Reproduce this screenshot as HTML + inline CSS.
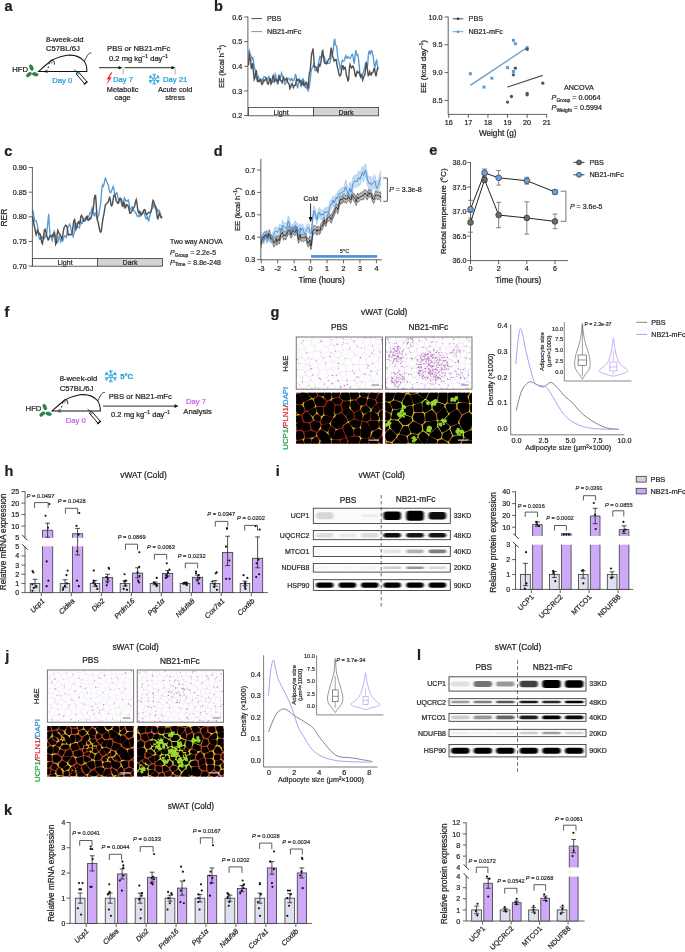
<!DOCTYPE html>
<html><head><meta charset="utf-8"><title>Figure</title>
<style>html,body{margin:0;padding:0;background:#fff;}svg{display:block;will-change:transform;}text{font-family:"Liberation Sans", sans-serif;}</style>
</head><body>
<svg width="685" height="952" viewBox="0 0 685 952" font-family="&quot;Liberation Sans&quot;, sans-serif">
<rect width="685" height="952" fill="#fff"/>
<g fill="#231f20">
<text x="4.38" y="10.75" font-size="14.5" font-weight="bold" stroke="#231f20" stroke-width="0.240">a</text>
<text x="46" y="41.6" font-size="7.7" stroke="#231f20" stroke-width="0.231">8-week-old</text>
<text x="46" y="50.5" font-size="7.7" stroke="#231f20" stroke-width="0.231">C57BL/6J</text>
<g transform="translate(0 0)">
<path d="M38.7 71.5 C42 68.5 45 65.5 49 62.5 C53 59 60 56.5 67 55.3 C74 54.5 80 56.5 84 61 C86.3 64 87 68 86.9 71.5 Z" fill="none" stroke="#111" stroke-width="1.05"/>
<path d="M49.2 64.2 C49.2 61.6 50.6 59.9 52.4 60.1 C53.9 60.4 54.6 62.2 54.3 64.6" fill="none" stroke="#111" stroke-width="0.9"/>
<path d="M51.2 63.6 C51.4 62.4 52.1 61.8 52.8 62.2" fill="none" stroke="#111" stroke-width="0.6"/>
<circle cx="48.3" cy="67.2" r="0.75" fill="#111"/>
<path d="M45.6 69.8 L45.6 73 M45.6 71.2 L47.8 69.6 M45.6 71.2 L47.9 73" fill="none" stroke="#111" stroke-width="0.6"/>
<path d="M84.2 61.5 C85.8 58.5 87 55.8 88.4 54.2 C89.3 53.2 90.3 52.8 91.4 53" fill="none" stroke="#111" stroke-width="0.8"/>
<g transform="rotate(49.4 81.5 77.75)">
<rect x="74.8" y="76.3" width="13.4" height="3" fill="#fff" stroke="#111" stroke-width="0.9"/>
<line x1="88.2" y1="75.6" x2="88.2" y2="80.4" stroke="#111" stroke-width="1.3"/>
<line x1="70.4" y1="77.8" x2="74.8" y2="77.8" stroke="#111" stroke-width="0.7"/>
<circle cx="76.4" cy="77.8" r="0.9" fill="#1a8fd0"/>
</g>
<g fill="#2a8a48" stroke="#145a28" stroke-width="0.5">
<ellipse cx="31.4" cy="67.6" rx="1.6" ry="3.0" transform="rotate(-22 31.4 67.6)"/>
<ellipse cx="28.9" cy="74.6" rx="1.6" ry="3.0" transform="rotate(52 28.9 74.6)"/>
<ellipse cx="35.2" cy="74.3" rx="3.0" ry="1.6" transform="rotate(14 35.2 74.3)"/>
</g>
</g>
<text x="12.2" y="71.6" font-size="7.7" stroke="#231f20" stroke-width="0.231">HFD</text>
<text x="52.2" y="83.2" font-size="7.7" fill="#1a9ad9" stroke="#1a9ad9" stroke-width="0.231">Day 0</text>
<text x="107" y="51" font-size="7.7" stroke="#231f20" stroke-width="0.231">PBS or NB21-mFc</text>
<text x="109" y="60.6" font-size="7.6" stroke="#231f20" stroke-width="0.228">0.2 mg kg<tspan dy="-2.8" font-size="5">−1</tspan><tspan dy="2.8"> day</tspan><tspan dy="-2.8" font-size="5">−1</tspan></text>
<line x1="99" y1="67.7" x2="119.5" y2="67.7" stroke="#111" stroke-width="0.9"/>
<path d="M122.5 67.7 L118.5 65.9 L118.5 69.5 Z" fill="#111"/>
<line x1="124.5" y1="67.7" x2="172.5" y2="67.7" stroke="#111" stroke-width="0.9"/>
<path d="M175.5 67.7 L171.5 65.9 L171.5 69.5 Z" fill="#111"/>
<line x1="123.2" y1="68.5" x2="123.2" y2="74.5" stroke="#999" stroke-width="0.8"/>
<line x1="175.2" y1="68.5" x2="175.2" y2="74.5" stroke="#999" stroke-width="0.8"/>
<path d="M110.9 72.4 L106.7 79.6 L108.9 79.2 L106.0 86.0 L111.6 77.2 L109.4 77.5 L112.3 72.4 Z" fill="#e8262a"/>
<text x="113" y="81.8" font-size="7.7" fill="#1a9ad9" stroke="#1a9ad9" stroke-width="0.231">Day 7</text>
<path d="M154.2 77.9 L154.2 73.6 M154.2 75.73 L155.86 74.06 M154.2 75.73 L152.54 74.06 M153.07 78.55 L149.35 76.4 M151.19 77.46 L150.58 75.19 M151.19 77.46 L148.92 78.07 M153.07 79.85 L149.35 82 M151.19 80.94 L148.92 80.33 M151.19 80.94 L150.58 83.21 M154.2 80.5 L154.2 84.8 M154.2 82.67 L152.54 84.34 M154.2 82.67 L155.86 84.34 M155.33 79.85 L159.05 82 M157.21 80.94 L157.82 83.21 M157.21 80.94 L159.48 80.33 M155.33 78.55 L159.05 76.4 M157.21 77.46 L159.48 78.07 M157.21 77.46 L157.82 75.19 M155.6 79.2 L154.9 80.41 L153.5 80.41 L152.8 79.2 L153.5 77.99 L154.9 77.99 Z" fill="none" stroke="#1ea0e0" stroke-width="1"/>
<text x="163" y="81.8" font-size="7.7" fill="#1a9ad9" stroke="#1a9ad9" stroke-width="0.231">Day 21</text>
<text x="122.6" y="91.9" font-size="7.4" text-anchor="middle" stroke="#231f20" stroke-width="0.222">Metabolic</text>
<text x="122.6" y="100.4" font-size="7.4" text-anchor="middle" stroke="#231f20" stroke-width="0.222">cage</text>
<text x="175.2" y="91.9" font-size="7.4" text-anchor="middle" stroke="#231f20" stroke-width="0.222">Acute cold</text>
<text x="175.2" y="100.4" font-size="7.4" text-anchor="middle" stroke="#231f20" stroke-width="0.222">stress</text>
<text x="213.94" y="10.67" font-size="14.5" font-weight="bold" stroke="#231f20" stroke-width="0.240">b</text>
<text x="223.6" y="66.4" font-size="7.9" text-anchor="middle" transform="rotate(-90 223.6 66.4)" textLength="43.4" lengthAdjust="spacingAndGlyphs" stroke="#231f20" stroke-width="0.237">EE (kcal h<tspan dy="-2.5" font-size="5">−1</tspan><tspan dy="2.5">)</tspan></text>
<path d="M248.6 52.32 L249.3 50.69 L250 54.2 L250.7 55.31 L251.4 57.07 L252.1 59.24 L252.8 57.86 L253.5 61.29 L254.2 66.78 L254.9 68.97 L255.6 71.92 L256.3 78.26 L257 80.12 L257.7 76.68 L258.4 76.31 L259.1 79.47 L259.8 81.44 L260.5 81.35 L261.2 79.63 L261.9 79.66 L262.6 80.83 L263.3 77.98 L264 76.67 L264.7 76.63 L265.4 77.29 L266.1 79.26 L266.8 80.03 L267.5 79.68 L268.2 77.49 L268.9 76.58 L269.6 78.75 L270.3 80.36 L271 81.36 L271.7 82.35 L272.4 81.57 L273.1 81.29 L273.8 81.76 L274.5 78.1 L275.2 74.1 L275.9 76.04 L276.6 80.35 L277.3 82.94 L278 80.13 L278.7 75.58 L279.4 77.33 L280.1 79.98 L280.8 76.51 L281.5 73.3 L282.2 75.51 L282.9 77.4 L283.6 78.63 L284.3 82.03 L285 84.3 L285.7 83.53 L286.4 81.57 L287.1 79.46 L287.8 78.1 L288.5 78.34 L289.2 78.89 L289.9 80.07 L290.6 80.71 L291.3 78.4 L292 78.55 L292.7 80.79 L293.4 80.75 L294.1 79.85 L294.8 77.2 L295.5 74.02 L296.2 76.56 L296.9 84.95 L297.6 88.46 L298.3 85.26 L299 81.44 L299.7 79.47 L300.4 82.82 L301.1 87.04 L301.8 83.9 L302.5 79.27 L303.2 78.96 L303.9 81.35 L304.6 84.88 L305.3 87.32 L306 87.74 L306.7 87.8 L307.4 89.02 L308.1 90.88 L308.8 89.07 L309.5 85.14 L310.2 80.08 L310.9 73.42 L311.6 68.94 L312.3 67.73 L313 66.2 L313.7 64.26 L314.4 66.92 L315.1 70.77 L315.8 70.64 L316.5 69.89 L317.2 68.25 L317.9 66.04 L318.6 63.01 L319.3 58.94 L320 56.36 L320.7 56.79 L321.4 57.94 L322.1 55.56 L322.8 54.07 L323.5 56.22 L324.2 56.5 L324.9 58.95 L325.6 62.31 L326.3 61.4 L327 62.36 L327.7 63.35 L328.4 63.42 L329.1 63.35 L329.8 63.09 L330.5 60.43 L331.2 54.62 L331.9 51.77 L332.6 53.03 L333.3 50.42 L334 41.79 L334.7 38.83 L335.4 44.77 L336.1 45.55 L336.8 46.55 L337.5 54.61 L338.2 60.44 L338.9 61.34 L339.6 64.79 L340.3 69.16 L341 67.88 L341.7 62.66 L342.4 60.42 L343.1 61.12 L343.8 60.99 L344.5 60.14 L345.2 57.11 L345.9 55.7 L346.6 57.98 L347.3 57.96 L348 56.67 L348.7 57.16 L349.4 58.22 L350.1 58.43 L350.8 57.24 L351.5 55.28 L352.2 54.34 L352.9 55.53 L353.6 60.8 L354.3 63.64 L355 56.56 L355.7 50.25 L356.4 52.8 L357.1 55.32 L357.8 54.93 L358.5 58.75 L359.2 65.87 L359.9 73.88 L360.6 76.75 L361.3 77.33 L362 77.18 L362.7 74.24 L363.4 72.04 L364.1 69.53 L364.8 66.68 L365.5 62.91 L366.2 62.35 L366.9 66.96 L367.6 65.29 L368.3 55.66 L369 50.76 L369.7 53.12 L370.4 53.98 L371.1 50.57 L371.8 50.73 L372.5 53.37 L373.2 56.46 L373.9 62.46 L374.6 67.6 L375.3 66.11 L376 61.72 L376.7 60.39 L377.4 64.9 L378.1 70.08" fill="none" stroke="#5b9bd5" stroke-width="1.4"/>
<path d="M248.6 65.28 L249.3 52.46 L250 58.24 L250.7 61.22 L251.4 69.13 L252.1 65.68 L252.8 63.25 L253.5 72.67 L254.2 79.42 L254.9 77.78 L255.6 72.48 L256.3 70.08 L257 76.4 L257.7 81.42 L258.4 80.92 L259.1 81.4 L259.8 80.27 L260.5 79.37 L261.2 82.23 L261.9 84.32 L262.6 83.84 L263.3 81.52 L264 80.05 L264.7 80.8 L265.4 79.52 L266.1 78.14 L266.8 80.61 L267.5 83.69 L268.2 84.23 L268.9 82.29 L269.6 78.62 L270.3 78.76 L271 84.08 L271.7 83.03 L272.4 77.66 L273.1 75.72 L273.8 78.21 L274.5 81.5 L275.2 80.34 L275.9 79.31 L276.6 79.77 L277.3 81.81 L278 82.92 L278.7 77.76 L279.4 76.48 L280.1 80.44 L280.8 80.53 L281.5 81.37 L282.2 82.65 L282.9 79.73 L283.6 77.47 L284.3 79.32 L285 80.17 L285.7 79.89 L286.4 78.27 L287.1 79.06 L287.8 82.56 L288.5 82.79 L289.2 84.73 L289.9 88.58 L290.6 87.18 L291.3 84.48 L292 83.41 L292.7 84.95 L293.4 87.45 L294.1 85.63 L294.8 85.35 L295.5 85.28 L296.2 80.59 L296.9 79.09 L297.6 80.25 L298.3 79.55 L299 79.98 L299.7 81.68 L300.4 80.68 L301.1 80.95 L301.8 85.32 L302.5 83.38 L303.2 81.79 L303.9 85.62 L304.6 85.76 L305.3 83.68 L306 82.4 L306.7 83.35 L307.4 87.72 L308.1 87.72 L308.8 77.8 L309.5 72.49 L310.2 70.57 L310.9 62.55 L311.6 53.96 L312.3 51.61 L313 48.46 L313.7 56.77 L314.4 66.63 L315.1 66.55 L315.8 66.83 L316.5 68.81 L317.2 71.01 L317.9 72.03 L318.6 66.82 L319.3 64.53 L320 65.69 L320.7 63.42 L321.4 58.44 L322.1 51.79 L322.8 50.65 L323.5 56.76 L324.2 61.92 L324.9 63.3 L325.6 63.34 L326.3 63.89 L327 63.52 L327.7 61.6 L328.4 59.55 L329.1 58.77 L329.8 58.11 L330.5 52.75 L331.2 47.56 L331.9 51.11 L332.6 56.7 L333.3 57.67 L334 61.1 L334.7 60.82 L335.4 59.46 L336.1 59.6 L336.8 63.7 L337.5 67.69 L338.2 69.95 L338.9 74.23 L339.6 75.9 L340.3 75.74 L341 73.83 L341.7 69.58 L342.4 66.18 L343.1 65.98 L343.8 69.02 L344.5 67.86 L345.2 67.39 L345.9 71.92 L346.6 76.01 L347.3 77.81 L348 81.47 L348.7 78.78 L349.4 68.19 L350.1 64.46 L350.8 66.43 L351.5 67.91 L352.2 66.8 L352.9 66.05 L353.6 67.64 L354.3 70.17 L355 74.46 L355.7 77.2 L356.4 74.08 L357.1 71.38 L357.8 72.77 L358.5 72.79 L359.2 71.63 L359.9 75.12 L360.6 76.61 L361.3 73.99 L362 76.94 L362.7 80.15 L363.4 77.96 L364.1 76.05 L364.8 75.08 L365.5 69.31 L366.2 62.79 L366.9 64.52 L367.6 71.26 L368.3 76.35 L369 74.31 L369.7 71.71 L370.4 74.43 L371.1 75 L371.8 72.73 L372.5 72.7 L373.2 72.01 L373.9 68.81 L374.6 68.57 L375.3 73.1 L376 76.28 L376.7 72.29 L377.4 68.42 L378.1 67.27" fill="none" stroke="#505050" stroke-width="1.4"/>
<line x1="247.9" y1="16.5" x2="247.9" y2="116" stroke="#3a3a3a" stroke-width="0.8"/>
<line x1="244.2" y1="17" x2="247.9" y2="17" stroke="#3a3a3a" stroke-width="0.8"/>
<text x="242.3" y="19.6" font-size="7.2" text-anchor="end" stroke="#231f20" stroke-width="0.216">0.6</text>
<line x1="244.2" y1="41.65" x2="247.9" y2="41.65" stroke="#3a3a3a" stroke-width="0.8"/>
<text x="242.3" y="44.25" font-size="7.2" text-anchor="end" stroke="#231f20" stroke-width="0.216">0.5</text>
<line x1="244.2" y1="66.3" x2="247.9" y2="66.3" stroke="#3a3a3a" stroke-width="0.8"/>
<text x="242.3" y="68.9" font-size="7.2" text-anchor="end" stroke="#231f20" stroke-width="0.216">0.4</text>
<line x1="244.2" y1="90.95" x2="247.9" y2="90.95" stroke="#3a3a3a" stroke-width="0.8"/>
<text x="242.3" y="93.55" font-size="7.2" text-anchor="end" stroke="#231f20" stroke-width="0.216">0.3</text>
<line x1="244.2" y1="115.6" x2="247.9" y2="115.6" stroke="#3a3a3a" stroke-width="0.8"/>
<text x="242.3" y="118.2" font-size="7.2" text-anchor="end" stroke="#231f20" stroke-width="0.216">0.2</text>
<rect x="248.6" y="107.4" width="65" height="8.4" fill="#fff" stroke="#3a3a3a" stroke-width="0.8"/>
<rect x="313.6" y="107.4" width="65" height="8.4" fill="#d3d3d3" stroke="#3a3a3a" stroke-width="0.8"/>
<text x="281" y="114.5" font-size="7" text-anchor="middle" stroke="#231f20" stroke-width="0.210">Light</text>
<text x="346" y="114.5" font-size="7" text-anchor="middle" stroke="#231f20" stroke-width="0.210">Dark</text>
<line x1="251.3" y1="18.6" x2="262" y2="18.6" stroke="#505050" stroke-width="1"/>
<text x="267" y="21.2" font-size="7.2" stroke="#231f20" stroke-width="0.216">PBS</text>
<line x1="251.3" y1="31.6" x2="262" y2="31.6" stroke="#5b9bd5" stroke-width="1"/>
<text x="267" y="34.2" font-size="7.2" stroke="#231f20" stroke-width="0.216">NB21-mFc</text>
<text x="425.9" y="66.5" font-size="7.9" text-anchor="middle" transform="rotate(-90 425.9 66.5)" textLength="53" lengthAdjust="spacingAndGlyphs" stroke="#231f20" stroke-width="0.237">EE (kcal day<tspan dy="-2.5" font-size="5">−1</tspan><tspan dy="2.5">)</tspan></text>
<line x1="448.2" y1="16.6" x2="448.2" y2="114.4" stroke="#3a3a3a" stroke-width="0.8"/>
<line x1="444.5" y1="17" x2="448.2" y2="17" stroke="#3a3a3a" stroke-width="0.8"/>
<text x="442.6" y="19.6" font-size="7.2" text-anchor="end" stroke="#231f20" stroke-width="0.216">10.0</text>
<line x1="444.5" y1="44.8" x2="448.2" y2="44.8" stroke="#3a3a3a" stroke-width="0.8"/>
<text x="442.6" y="47.4" font-size="7.2" text-anchor="end" stroke="#231f20" stroke-width="0.216">9.5</text>
<line x1="444.5" y1="72.6" x2="448.2" y2="72.6" stroke="#3a3a3a" stroke-width="0.8"/>
<text x="442.6" y="75.2" font-size="7.2" text-anchor="end" stroke="#231f20" stroke-width="0.216">9.0</text>
<line x1="444.5" y1="100.4" x2="448.2" y2="100.4" stroke="#3a3a3a" stroke-width="0.8"/>
<text x="442.6" y="103" font-size="7.2" text-anchor="end" stroke="#231f20" stroke-width="0.216">8.5</text>
<line x1="448.2" y1="114.4" x2="547" y2="114.4" stroke="#3a3a3a" stroke-width="0.8"/>
<line x1="448.8" y1="114.4" x2="448.8" y2="117.9" stroke="#3a3a3a" stroke-width="0.8"/>
<text x="448.8" y="124.9" font-size="7.2" text-anchor="middle" stroke="#231f20" stroke-width="0.216">16</text>
<line x1="468.38" y1="114.4" x2="468.38" y2="117.9" stroke="#3a3a3a" stroke-width="0.8"/>
<text x="468.38" y="124.9" font-size="7.2" text-anchor="middle" stroke="#231f20" stroke-width="0.216">17</text>
<line x1="487.96" y1="114.4" x2="487.96" y2="117.9" stroke="#3a3a3a" stroke-width="0.8"/>
<text x="487.96" y="124.9" font-size="7.2" text-anchor="middle" stroke="#231f20" stroke-width="0.216">18</text>
<line x1="507.54" y1="114.4" x2="507.54" y2="117.9" stroke="#3a3a3a" stroke-width="0.8"/>
<text x="507.54" y="124.9" font-size="7.2" text-anchor="middle" stroke="#231f20" stroke-width="0.216">19</text>
<line x1="527.12" y1="114.4" x2="527.12" y2="117.9" stroke="#3a3a3a" stroke-width="0.8"/>
<text x="527.12" y="124.9" font-size="7.2" text-anchor="middle" stroke="#231f20" stroke-width="0.216">20</text>
<line x1="546.7" y1="114.4" x2="546.7" y2="117.9" stroke="#3a3a3a" stroke-width="0.8"/>
<text x="546.7" y="124.9" font-size="7.2" text-anchor="middle" stroke="#231f20" stroke-width="0.216">21</text>
<text x="497.7" y="136" font-size="8.2" text-anchor="middle" stroke="#231f20" stroke-width="0.240">Weight (g)</text>
<line x1="470.34" y1="85.39" x2="527.12" y2="47.58" stroke="#5b9bd5" stroke-width="1.3"/>
<line x1="507.54" y1="87.06" x2="542.78" y2="75.38" stroke="#5a5a5a" stroke-width="1.3"/>
<rect x="468.84" y="72.21" width="3" height="3" fill="#5b9bd5"/>
<rect x="482.54" y="85.56" width="3" height="3" fill="#5b9bd5"/>
<rect x="490.38" y="76.66" width="3" height="3" fill="#5b9bd5"/>
<rect x="506.04" y="66.1" width="3" height="3" fill="#5b9bd5"/>
<rect x="511.91" y="69.99" width="3" height="3" fill="#5b9bd5"/>
<rect x="511.91" y="38.85" width="3" height="3" fill="#5b9bd5"/>
<rect x="513.87" y="42.19" width="3" height="3" fill="#5b9bd5"/>
<rect x="525.62" y="46.08" width="3" height="3" fill="#5b9bd5"/>
<circle cx="507.54" cy="102.07" r="1.65" fill="#555"/>
<circle cx="511.46" cy="96.51" r="1.65" fill="#555"/>
<circle cx="513.41" cy="74.82" r="1.65" fill="#555"/>
<circle cx="515.37" cy="68.15" r="1.65" fill="#555"/>
<circle cx="527.12" cy="49.25" r="1.65" fill="#555"/>
<circle cx="527.12" cy="93.45" r="1.65" fill="#555"/>
<circle cx="527.12" cy="94.84" r="1.65" fill="#555"/>
<circle cx="542.78" cy="83.16" r="1.65" fill="#555"/>
<line x1="452.7" y1="18.8" x2="463.3" y2="18.8" stroke="#333" stroke-width="0.9"/>
<circle cx="458" cy="18.8" r="1.2" fill="#333"/>
<text x="468.6" y="21.4" font-size="7.2" stroke="#231f20" stroke-width="0.216">PBS</text>
<line x1="452.7" y1="31.7" x2="463.3" y2="31.7" stroke="#5b9bd5" stroke-width="0.9"/>
<rect x="456.8" y="30.5" width="2.4" height="2.4" fill="#5b9bd5"/>
<text x="468.6" y="34.2" font-size="7.2" stroke="#231f20" stroke-width="0.216">NB21-mFc</text>
<text x="578.8" y="89.7" font-size="7.2" text-anchor="middle" stroke="#231f20" stroke-width="0.216">ANCOVA</text>
<text x="551.6" y="99.9" font-size="7.2" stroke="#231f20" stroke-width="0.216"><tspan font-style="italic">P</tspan><tspan dy="1.8" font-size="5">Group</tspan><tspan dy="-1.8"> = 0.0064</tspan></text>
<text x="551.6" y="110.4" font-size="7.2" stroke="#231f20" stroke-width="0.216"><tspan font-style="italic">P</tspan><tspan dy="1.8" font-size="5">Weight</tspan><tspan dy="-1.8"> = 0.5994</tspan></text>
<text x="4.33" y="156.47" font-size="14.5" font-weight="bold" stroke="#231f20" stroke-width="0.240">c</text>
<text x="7.1" y="217.6" font-size="8.4" text-anchor="middle" transform="rotate(-90 7.1 217.6)" stroke="#231f20" stroke-width="0.240">RER</text>
<path d="M32.6 210.08 L33.3 212.13 L34 217.15 L34.7 220.74 L35.4 220.79 L36.1 220.67 L36.8 222.48 L37.5 226.31 L38.2 230.42 L38.9 235.95 L39.6 239.42 L40.3 239.01 L41 239.19 L41.7 236.61 L42.4 237.21 L43.1 237.85 L43.8 239.16 L44.5 238.17 L45.2 235.45 L45.9 236.75 L46.6 235.08 L47.3 227.77 L48 220.94 L48.7 213.69 L49.4 226.44 L50.1 236.28 L50.8 235.62 L51.5 238.26 L52.2 240.75 L52.9 238.03 L53.6 232.85 L54.3 231.46 L55 235.29 L55.7 238.21 L56.4 240.25 L57.1 242.9 L57.8 242.09 L58.5 238.93 L59.2 236.32 L59.9 238.91 L60.6 241.62 L61.3 239.24 L62 239.3 L62.7 241.01 L63.4 238.86 L64.1 236.84 L64.8 235.9 L65.5 236.14 L66.2 237.38 L66.9 233.59 L67.6 228.26 L68.3 226.37 L69 225.4 L69.7 224.13 L70.4 226.23 L71.1 229.92 L71.8 232 L72.5 234.95 L73.2 236.66 L73.9 233.78 L74.6 227.32 L75.3 223.99 L76 223.72 L76.7 223.76 L77.4 226.04 L78.1 226.9 L78.8 227.32 L79.5 227.92 L80.2 223.78 L80.9 221.53 L81.6 223.67 L82.3 223.28 L83 220.81 L83.7 218.6 L84.4 218.52 L85.1 218.88 L85.8 218.02 L86.5 219.54 L87.2 219.36 L87.9 216.95 L88.6 217.02 L89.3 214.97 L90 212.83 L90.7 213.36 L91.4 210.7 L92.1 207.85 L92.8 209.4 L93.5 213.9 L94.2 216.27 L94.9 212.97 L95.6 212.79 L96.3 216.15 L97 219.03 L97.7 216.78 L98.4 216.03 L99.1 213.72 L99.8 207.99 L100.5 204.69 L101.2 197.3 L101.9 187.59 L102.6 184.88 L103.3 186.33 L104 184.49 L104.7 180.18 L105.4 178.35 L106.1 179.85 L106.8 181.85 L107.5 183.75 L108.2 184.79 L108.9 188.37 L109.6 191.41 L110.3 192.71 L111 192.47 L111.7 190.05 L112.4 188.88 L113.1 186.48 L113.8 188.26 L114.5 193.54 L115.2 196.41 L115.9 193.58 L116.6 192.69 L117.3 193.52 L118 197.68 L118.7 200.7 L119.4 199.16 L120.1 199.01 L120.8 201.07 L121.5 203.43 L122.2 206.22 L122.9 206.22 L123.6 202.25 L124.3 197.74 L125 198.74 L125.7 201.07 L126.4 200.73 L127.1 201.21 L127.8 200.29 L128.5 199.98 L129.2 204.53 L129.9 209.42 L130.6 209.64 L131.3 208.09 L132 206.86 L132.7 207.68 L133.4 210.3 L134.1 210.76 L134.8 211.63 L135.5 213.29 L136.2 213.3 L136.9 215.6 L137.6 216.48 L138.3 215.67 L139 216.58 L139.7 215.77 L140.4 213.48 L141.1 213.29 L141.8 214.01 L142.5 213.3 L143.2 211.46 L143.9 212.2 L144.6 215.07 L145.3 216.64 L146 218.7 L146.7 218.72 L147.4 215.93 L148.1 220.27 L148.8 220.87 L149.5 216.52 L150.2 214.89 L150.9 211.62 L151.6 208.33 L152.3 208.54 L153 207.52 L153.7 204.78 L154.4 205.13 L155.1 208.37 L155.8 208.82 L156.5 208.07 L157.2 209.08 L157.9 211.81 L158.6 210.13 L159.3 210.77 L160 212.36 L160.7 214.89 L161.4 217.45 L162.1 216.16" fill="none" stroke="#5b9bd5" stroke-width="1.35"/>
<path d="M32.6 216.64 L33.3 220.68 L34 225.06 L34.7 227.68 L35.4 231.33 L36.1 234.62 L36.8 233.08 L37.5 230.22 L38.2 231.71 L38.9 234.16 L39.6 233.56 L40.3 234.59 L41 237.8 L41.7 242.51 L42.4 243.71 L43.1 239.64 L43.8 234.3 L44.5 229.96 L45.2 229.28 L45.9 231.89 L46.6 235.83 L47.3 237.17 L48 239.89 L48.7 239.89 L49.4 236.77 L50.1 236.1 L50.8 236.59 L51.5 236.56 L52.2 235.16 L52.9 236.19 L53.6 234.88 L54.3 232.18 L55 237.15 L55.7 244.14 L56.4 242.54 L57.1 234.75 L57.8 230.34 L58.5 231.95 L59.2 233.78 L59.9 233.99 L60.6 235.86 L61.3 237.25 L62 238.9 L62.7 235.56 L63.4 230.77 L64.1 227.73 L64.8 226.62 L65.5 225.21 L66.2 225.37 L66.9 226.42 L67.6 229.99 L68.3 235.06 L69 234.7 L69.7 234.41 L70.4 235.02 L71.1 234.73 L71.8 234.2 L72.5 229.56 L73.2 225.12 L73.9 220.67 L74.6 219.59 L75.3 223.88 L76 229.39 L76.7 227.73 L77.4 225.14 L78.1 222.24 L78.8 221.7 L79.5 223.43 L80.2 221.9 L80.9 216.23 L81.6 215.3 L82.3 216.72 L83 218.53 L83.7 221.21 L84.4 221.03 L85.1 220.21 L85.8 219.02 L86.5 216.45 L87.2 216.16 L87.9 220.07 L88.6 220.37 L89.3 219.38 L90 218.26 L90.7 218.66 L91.4 216.12 L92.1 213.33 L92.8 210.6 L93.5 206.87 L94.2 198.8 L94.9 195.67 L95.6 195.51 L96.3 205.53 L97 216.55 L97.7 220.66 L98.4 223.2 L99.1 227.57 L99.8 230.41 L100.5 232.17 L101.2 231.65 L101.9 226.23 L102.6 220.89 L103.3 217 L104 213.67 L104.7 209.15 L105.4 204.86 L106.1 204.04 L106.8 203.27 L107.5 202.45 L108.2 202.06 L108.9 199.62 L109.6 196.55 L110.3 199.82 L111 205.01 L111.7 205.89 L112.4 204.4 L113.1 199.78 L113.8 195.61 L114.5 195.29 L115.2 195.23 L115.9 199.51 L116.6 201.94 L117.3 202.01 L118 203.46 L118.7 202.93 L119.4 199.26 L120.1 198.27 L120.8 198.63 L121.5 199.79 L122.2 204.51 L122.9 205.88 L123.6 202.33 L124.3 203.57 L125 207.98 L125.7 207.42 L126.4 204.58 L127.1 205.08 L127.8 205.82 L128.5 206.73 L129.2 210.51 L129.9 213.42 L130.6 213.18 L131.3 211.97 L132 210.56 L132.7 209.39 L133.4 208.02 L134.1 207.12 L134.8 205.45 L135.5 202.04 L136.2 199.78 L136.9 202.78 L137.6 208.22 L138.3 212.33 L139 213.29 L139.7 211.37 L140.4 212.04 L141.1 215.35 L141.8 214.17 L142.5 213.17 L143.2 211.91 L143.9 209.87 L144.6 209.6 L145.3 210.59 L146 214.08 L146.7 214.88 L147.4 213.69 L148.1 212.97 L148.8 212.38 L149.5 212.65 L150.2 212.33 L150.9 211.89 L151.6 209.42 L152.3 204.18 L153 200.44 L153.7 201.32 L154.4 203.91 L155.1 205.46 L155.8 206.98 L156.5 211.6 L157.2 217.03 L157.9 219.37 L158.6 215.83 L159.3 213.36 L160 214.97 L160.7 217.05 L161.4 217.54 L162.1 217.71" fill="none" stroke="#505050" stroke-width="1.45"/>
<line x1="32.4" y1="167" x2="32.4" y2="266.3" stroke="#3a3a3a" stroke-width="0.8"/>
<line x1="28.7" y1="167.5" x2="32.4" y2="167.5" stroke="#3a3a3a" stroke-width="0.8"/>
<text x="26.8" y="170.1" font-size="7.2" text-anchor="end" stroke="#231f20" stroke-width="0.216">0.90</text>
<line x1="28.7" y1="192.15" x2="32.4" y2="192.15" stroke="#3a3a3a" stroke-width="0.8"/>
<text x="26.8" y="194.75" font-size="7.2" text-anchor="end" stroke="#231f20" stroke-width="0.216">0.85</text>
<line x1="28.7" y1="216.8" x2="32.4" y2="216.8" stroke="#3a3a3a" stroke-width="0.8"/>
<text x="26.8" y="219.4" font-size="7.2" text-anchor="end" stroke="#231f20" stroke-width="0.216">0.80</text>
<line x1="28.7" y1="241.45" x2="32.4" y2="241.45" stroke="#3a3a3a" stroke-width="0.8"/>
<text x="26.8" y="244.05" font-size="7.2" text-anchor="end" stroke="#231f20" stroke-width="0.216">0.75</text>
<line x1="28.7" y1="266.1" x2="32.4" y2="266.1" stroke="#3a3a3a" stroke-width="0.8"/>
<text x="26.8" y="268.7" font-size="7.2" text-anchor="end" stroke="#231f20" stroke-width="0.216">0.70</text>
<rect x="32.6" y="258.4" width="64.8" height="7.8" fill="#fff" stroke="#3a3a3a" stroke-width="0.8"/>
<rect x="97.4" y="258.4" width="65" height="7.8" fill="#d3d3d3" stroke="#3a3a3a" stroke-width="0.8"/>
<text x="65" y="265" font-size="7" text-anchor="middle" stroke="#231f20" stroke-width="0.210">Light</text>
<text x="130" y="265" font-size="7" text-anchor="middle" stroke="#231f20" stroke-width="0.210">Dark</text>
<text x="170" y="244.2" font-size="7" stroke="#231f20" stroke-width="0.210">Two way ANOVA</text>
<text x="170" y="255.2" font-size="7" stroke="#231f20" stroke-width="0.210"><tspan font-style="italic">P</tspan><tspan dy="1.8" font-size="4.9">Group</tspan><tspan dy="-1.8"> = 2.2e-5</tspan></text>
<text x="170" y="264.6" font-size="7" stroke="#231f20" stroke-width="0.210"><tspan font-style="italic">P</tspan><tspan dy="1.8" font-size="4.9">Time</tspan><tspan dy="-1.8"> = 8.8e-248</tspan></text>
<text x="213.81" y="155.97" font-size="14.5" font-weight="bold" stroke="#231f20" stroke-width="0.240">d</text>
<text x="239.6" y="209.2" font-size="7.9" text-anchor="middle" transform="rotate(-90 239.6 209.2)" textLength="43.8" lengthAdjust="spacingAndGlyphs" stroke="#231f20" stroke-width="0.237">EE (kcal h<tspan dy="-2.5" font-size="5">−1</tspan><tspan dy="2.5">)</tspan></text>
<path d="M261 240.39 L261.8 236.87 L262.6 235.15 L263.4 233.88 L264.2 231.89 L265 232.33 L265.8 231.58 L266.6 230.69 L267.4 233.46 L268.2 233.68 L269 229.56 L269.8 230.59 L270.6 234.38 L271.4 235.27 L272.2 235.85 L273 236.61 L273.8 238.73 L274.6 238.09 L275.4 237.05 L276.2 235.4 L277 238.26 L277.8 236.35 L278.6 235.09 L279.4 237.8 L280.2 233.41 L281 229.61 L281.8 229.2 L282.6 228.08 L283.4 232.09 L284.2 231.25 L285 232 L285.8 231.92 L286.6 229.73 L287.4 229.94 L288.2 226.78 L289 225.95 L289.8 226.84 L290.6 231.02 L291.4 231.19 L292.2 226.97 L293 226.61 L293.8 228.02 L294.6 229.39 L295.4 227.91 L296.2 226.33 L297 227.28 L297.8 233.49 L298.6 236.01 L299.4 231.94 L300.2 230.56 L301 235.24 L301.8 234.34 L302.6 233.8 L303.4 234.35 L304.2 234.4 L305 233.72 L305.8 233.02 L306.6 236.42 L307.4 237.39 L308.2 239.52 L309 238 L309.8 236.16 L310.6 242.55 L311.4 241.79 L312.2 233.55 L313 227.87 L313.8 225.7 L314.6 225.67 L315.4 225.73 L316.2 226.25 L317 228.21 L317.8 226.21 L318.6 226.18 L319.4 227.68 L320.2 227.15 L321 223.44 L321.8 222.15 L322.6 221.98 L323.4 218.79 L324.2 216.78 L325 219.45 L325.8 220.43 L326.6 218.01 L327.4 214.95 L328.2 213.39 L329 212.57 L329.8 213.84 L330.6 216 L331.4 214.93 L332.2 212.84 L333 211.35 L333.8 209.92 L334.6 207.9 L335.4 205.58 L336.2 203.36 L337 204.19 L337.8 205.96 L338.6 203.7 L339.4 198.86 L340.2 196.03 L341 195.84 L341.8 196.59 L342.6 195.81 L343.4 193.74 L344.2 194.33 L345 194.63 L345.8 196.11 L346.6 194.73 L347.4 196.13 L348.2 192.77 L349 193.55 L349.8 195.41 L350.6 196.44 L351.4 194.42 L352.2 191.74 L353 192.51 L353.8 194.24 L354.6 193.96 L355.4 195.3 L356.2 198.15 L357 194.61 L357.8 193.03 L358.6 195.27 L359.4 194.43 L360.2 192.68 L361 193.27 L361.8 193.12 L362.6 191.47 L363.4 191.65 L364.2 190.33 L365 189.29 L365.8 190.17 L366.6 191.3 L367.4 192.74 L368.2 190.03 L369 189.24 L369.8 191.13 L370.6 189.73 L371.4 190.55 L372.2 195 L373 195.8 L373.8 195.66 L374.6 194.15 L375.4 191.1 L376.2 190.72 L377 191.81 L377.8 191.72 L378.6 192.5 L379.4 192.8 L380.2 191.45 L381 194.02 L381 202.19 L380.2 199.63 L379.4 199.23 L378.6 198.67 L377.8 199.86 L377 199.38 L376.2 198.41 L375.4 199.17 L374.6 200.82 L373.8 203.46 L373 202.68 L372.2 201.07 L371.4 197.1 L370.6 196.98 L369.8 197.71 L369 195.78 L368.2 197.43 L367.4 199.86 L366.6 199.52 L365.8 197.78 L365 196.77 L364.2 197.62 L363.4 199.98 L362.6 199.83 L361.8 199.14 L361 200.04 L360.2 200.14 L359.4 200.71 L358.6 202.17 L357.8 201.11 L357 202.85 L356.2 205.56 L355.4 203.5 L354.6 202.26 L353.8 201.09 L353 199.27 L352.2 197.83 L351.4 201.57 L350.6 203.61 L349.8 202.32 L349 199.86 L348.2 200.85 L347.4 202.17 L346.6 202.9 L345.8 203.26 L345 201.8 L344.2 202.64 L343.4 200.55 L342.6 203.32 L341.8 203.78 L341 202.19 L340.2 204.41 L339.4 206.31 L338.6 209.98 L337.8 213.93 L337 211.42 L336.2 211.1 L335.4 212.98 L334.6 214.55 L333.8 217.04 L333 218.24 L332.2 220.21 L331.4 223.24 L330.6 222.6 L329.8 220.33 L329 220.71 L328.2 221.69 L327.4 221.19 L326.6 224.25 L325.8 226.48 L325 225.85 L324.2 222.97 L323.4 226.47 L322.6 229.63 L321.8 230.07 L321 230 L320.2 233.33 L319.4 234.63 L318.6 232.4 L317.8 233.1 L317 235.42 L316.2 232.54 L315.4 233.71 L314.6 233.56 L313.8 234.07 L313 235.04 L312.2 240.44 L311.4 249.05 L310.6 249.8 L309.8 243.85 L309 244.99 L308.2 247.19 L307.4 245.46 L306.6 242.91 L305.8 239.85 L305 240.32 L304.2 241.33 L303.4 241.9 L302.6 240.79 L301.8 240.84 L301 241.47 L300.2 238.6 L299.4 240.18 L298.6 243.39 L297.8 240.02 L297 234.64 L296.2 232.85 L295.4 234.81 L294.6 235.98 L293.8 234.35 L293 234.58 L292.2 235.14 L291.4 238.09 L290.6 237.87 L289.8 234.29 L289 234.24 L288.2 233.88 L287.4 236.71 L286.6 236.38 L285.8 240.12 L285 238.12 L284.2 239.55 L283.4 240.3 L282.6 236.34 L281.8 237.39 L281 237.82 L280.2 240.96 L279.4 244.06 L278.6 242.66 L277.8 243.69 L277 245.43 L276.2 241.86 L275.4 243.73 L274.6 246.47 L273.8 247.01 L273 244.53 L272.2 243.22 L271.4 242.11 L270.6 240.92 L269.8 238.65 L269 237.7 L268.2 239.95 L267.4 241.82 L266.6 237.59 L265.8 238.43 L265 239.5 L264.2 239.82 L263.4 242.03 L262.6 242.2 L261.8 243.45 L261 247.69Z" fill="#8c8c8c" fill-opacity="0.6"/>
<path d="M261 240.39 L261.8 236.87 L262.6 235.15 L263.4 233.88 L264.2 231.89 L265 232.33 L265.8 231.58 L266.6 230.69 L267.4 233.46 L268.2 233.68 L269 229.56 L269.8 230.59 L270.6 234.38 L271.4 235.27 L272.2 235.85 L273 236.61 L273.8 238.73 L274.6 238.09 L275.4 237.05 L276.2 235.4 L277 238.26 L277.8 236.35 L278.6 235.09 L279.4 237.8 L280.2 233.41 L281 229.61 L281.8 229.2 L282.6 228.08 L283.4 232.09 L284.2 231.25 L285 232 L285.8 231.92 L286.6 229.73 L287.4 229.94 L288.2 226.78 L289 225.95 L289.8 226.84 L290.6 231.02 L291.4 231.19 L292.2 226.97 L293 226.61 L293.8 228.02 L294.6 229.39 L295.4 227.91 L296.2 226.33 L297 227.28 L297.8 233.49 L298.6 236.01 L299.4 231.94 L300.2 230.56 L301 235.24 L301.8 234.34 L302.6 233.8 L303.4 234.35 L304.2 234.4 L305 233.72 L305.8 233.02 L306.6 236.42 L307.4 237.39 L308.2 239.52 L309 238 L309.8 236.16 L310.6 242.55 L311.4 241.79 L312.2 233.55 L313 227.87 L313.8 225.7 L314.6 225.67 L315.4 225.73 L316.2 226.25 L317 228.21 L317.8 226.21 L318.6 226.18 L319.4 227.68 L320.2 227.15 L321 223.44 L321.8 222.15 L322.6 221.98 L323.4 218.79 L324.2 216.78 L325 219.45 L325.8 220.43 L326.6 218.01 L327.4 214.95 L328.2 213.39 L329 212.57 L329.8 213.84 L330.6 216 L331.4 214.93 L332.2 212.84 L333 211.35 L333.8 209.92 L334.6 207.9 L335.4 205.58 L336.2 203.36 L337 204.19 L337.8 205.96 L338.6 203.7 L339.4 198.86 L340.2 196.03 L341 195.84 L341.8 196.59 L342.6 195.81 L343.4 193.74 L344.2 194.33 L345 194.63 L345.8 196.11 L346.6 194.73 L347.4 196.13 L348.2 192.77 L349 193.55 L349.8 195.41 L350.6 196.44 L351.4 194.42 L352.2 191.74 L353 192.51 L353.8 194.24 L354.6 193.96 L355.4 195.3 L356.2 198.15 L357 194.61 L357.8 193.03 L358.6 195.27 L359.4 194.43 L360.2 192.68 L361 193.27 L361.8 193.12 L362.6 191.47 L363.4 191.65 L364.2 190.33 L365 189.29 L365.8 190.17 L366.6 191.3 L367.4 192.74 L368.2 190.03 L369 189.24 L369.8 191.13 L370.6 189.73 L371.4 190.55 L372.2 195 L373 195.8 L373.8 195.66 L374.6 194.15 L375.4 191.1 L376.2 190.72 L377 191.81 L377.8 191.72 L378.6 192.5 L379.4 192.8 L380.2 191.45 L381 194.02" fill="none" stroke="#444" stroke-width="0.6"/>
<path d="M381 202.19 L380.2 199.63 L379.4 199.23 L378.6 198.67 L377.8 199.86 L377 199.38 L376.2 198.41 L375.4 199.17 L374.6 200.82 L373.8 203.46 L373 202.68 L372.2 201.07 L371.4 197.1 L370.6 196.98 L369.8 197.71 L369 195.78 L368.2 197.43 L367.4 199.86 L366.6 199.52 L365.8 197.78 L365 196.77 L364.2 197.62 L363.4 199.98 L362.6 199.83 L361.8 199.14 L361 200.04 L360.2 200.14 L359.4 200.71 L358.6 202.17 L357.8 201.11 L357 202.85 L356.2 205.56 L355.4 203.5 L354.6 202.26 L353.8 201.09 L353 199.27 L352.2 197.83 L351.4 201.57 L350.6 203.61 L349.8 202.32 L349 199.86 L348.2 200.85 L347.4 202.17 L346.6 202.9 L345.8 203.26 L345 201.8 L344.2 202.64 L343.4 200.55 L342.6 203.32 L341.8 203.78 L341 202.19 L340.2 204.41 L339.4 206.31 L338.6 209.98 L337.8 213.93 L337 211.42 L336.2 211.1 L335.4 212.98 L334.6 214.55 L333.8 217.04 L333 218.24 L332.2 220.21 L331.4 223.24 L330.6 222.6 L329.8 220.33 L329 220.71 L328.2 221.69 L327.4 221.19 L326.6 224.25 L325.8 226.48 L325 225.85 L324.2 222.97 L323.4 226.47 L322.6 229.63 L321.8 230.07 L321 230 L320.2 233.33 L319.4 234.63 L318.6 232.4 L317.8 233.1 L317 235.42 L316.2 232.54 L315.4 233.71 L314.6 233.56 L313.8 234.07 L313 235.04 L312.2 240.44 L311.4 249.05 L310.6 249.8 L309.8 243.85 L309 244.99 L308.2 247.19 L307.4 245.46 L306.6 242.91 L305.8 239.85 L305 240.32 L304.2 241.33 L303.4 241.9 L302.6 240.79 L301.8 240.84 L301 241.47 L300.2 238.6 L299.4 240.18 L298.6 243.39 L297.8 240.02 L297 234.64 L296.2 232.85 L295.4 234.81 L294.6 235.98 L293.8 234.35 L293 234.58 L292.2 235.14 L291.4 238.09 L290.6 237.87 L289.8 234.29 L289 234.24 L288.2 233.88 L287.4 236.71 L286.6 236.38 L285.8 240.12 L285 238.12 L284.2 239.55 L283.4 240.3 L282.6 236.34 L281.8 237.39 L281 237.82 L280.2 240.96 L279.4 244.06 L278.6 242.66 L277.8 243.69 L277 245.43 L276.2 241.86 L275.4 243.73 L274.6 246.47 L273.8 247.01 L273 244.53 L272.2 243.22 L271.4 242.11 L270.6 240.92 L269.8 238.65 L269 237.7 L268.2 239.95 L267.4 241.82 L266.6 237.59 L265.8 238.43 L265 239.5 L264.2 239.82 L263.4 242.03 L262.6 242.2 L261.8 243.45 L261 247.69" fill="none" stroke="#444" stroke-width="0.6"/>
<path d="M261 232.38 L261.8 232.69 L262.6 235.5 L263.4 236.28 L264.2 235.44 L265 230.78 L265.8 232.82 L266.6 233.78 L267.4 232.8 L268.2 230.37 L269 233.03 L269.8 235.52 L270.6 232.23 L271.4 234.11 L272.2 234.35 L273 231.72 L273.8 230.88 L274.6 228.45 L275.4 226.42 L276.2 226.83 L277 228.08 L277.8 227.45 L278.6 227.55 L279.4 224.25 L280.2 224.62 L281 225.21 L281.8 224 L282.6 219.9 L283.4 222.47 L284.2 222.61 L285 222.8 L285.8 223.14 L286.6 223.33 L287.4 221.22 L288.2 215.84 L289 217.04 L289.8 221.95 L290.6 222.9 L291.4 224.97 L292.2 225.07 L293 223.83 L293.8 225.18 L294.6 221.28 L295.4 220.7 L296.2 225.02 L297 222.45 L297.8 224.81 L298.6 226.34 L299.4 224.25 L300.2 223.79 L301 226.74 L301.8 224.5 L302.6 223.8 L303.4 226.34 L304.2 228.92 L305 227.95 L305.8 227.04 L306.6 224.51 L307.4 224.47 L308.2 223.46 L309 224.27 L309.8 227.51 L310.6 229.35 L311.4 228.37 L312.2 219.12 L313 212.46 L313.8 206.02 L314.6 206.29 L315.4 209.67 L316.2 213.48 L317 214.81 L317.8 212.23 L318.6 208.61 L319.4 207.48 L320.2 209.04 L321 210.69 L321.8 209.95 L322.6 210.04 L323.4 210.95 L324.2 207.89 L325 207.73 L325.8 208.57 L326.6 206.9 L327.4 207.43 L328.2 207.63 L329 205.85 L329.8 201.76 L330.6 199.61 L331.4 200.3 L332.2 198.47 L333 195.89 L333.8 198.73 L334.6 198.14 L335.4 195.45 L336.2 193.65 L337 195.07 L337.8 191.75 L338.6 190.4 L339.4 189.38 L340.2 189.52 L341 188.13 L341.8 187.47 L342.6 187.91 L343.4 187.04 L344.2 186.18 L345 182.46 L345.8 179.99 L346.6 183.16 L347.4 186.56 L348.2 187.45 L349 186.35 L349.8 182.1 L350.6 184.67 L351.4 186.17 L352.2 180.5 L353 176.82 L353.8 176.84 L354.6 175.19 L355.4 175.64 L356.2 174.59 L357 176.04 L357.8 173.61 L358.6 170.84 L359.4 172.18 L360.2 173.31 L361 170.2 L361.8 167.95 L362.6 166.28 L363.4 169.7 L364.2 167.77 L365 163.71 L365.8 164.78 L366.6 169.28 L367.4 173.54 L368.2 175.53 L369 177.05 L369.8 177.38 L370.6 176.19 L371.4 178.51 L372.2 178.34 L373 177 L373.8 176.02 L374.6 174.55 L375.4 176.93 L376.2 180.4 L377 182.31 L377.8 179.84 L378.6 178.87 L379.4 174.52 L380.2 172.83 L381 170.21 L381 183.76 L380.2 185.79 L379.4 188.11 L378.6 191.96 L377.8 193.04 L377 194.42 L376.2 193.17 L375.4 187.96 L374.6 187.12 L373.8 189.21 L373 188.68 L372.2 189.99 L371.4 191.81 L370.6 189.76 L369.8 189.5 L369 189.82 L368.2 186.95 L367.4 185.63 L366.6 181.24 L365.8 176.64 L365 176.83 L364.2 180.05 L363.4 181.88 L362.6 178.35 L361.8 180.12 L361 182.13 L360.2 184.63 L359.4 185.64 L358.6 184.14 L357.8 186.13 L357 187.56 L356.2 187.19 L355.4 186.81 L354.6 186.62 L353.8 188.29 L353 189.77 L352.2 193.98 L351.4 197.86 L350.6 197.28 L349.8 194.25 L349 197.56 L348.2 200.69 L347.4 198.07 L346.6 195.74 L345.8 193.77 L345 193.46 L344.2 196.18 L343.4 195.9 L342.6 196.25 L341.8 196.8 L341 198.04 L340.2 198.07 L339.4 197.69 L338.6 200.25 L337.8 201.96 L337 202.84 L336.2 201.43 L335.4 205.03 L334.6 205.9 L333.8 207.42 L333 204.22 L332.2 206.47 L331.4 209.05 L330.6 209.66 L329.8 211.42 L329 215.4 L328.2 217.04 L327.4 215.47 L326.6 216.39 L325.8 217.08 L325 215.42 L324.2 217.82 L323.4 219.26 L322.6 219.52 L321.8 217.75 L321 220.05 L320.2 219.3 L319.4 216.76 L318.6 218.12 L317.8 219.96 L317 224.67 L316.2 221.08 L315.4 219.82 L314.6 216.13 L313.8 215.16 L313 220.3 L312.2 228.63 L311.4 238.13 L310.6 237.77 L309.8 236.1 L309 233.29 L308.2 231.1 L307.4 232.53 L306.6 234.45 L305.8 236.08 L305 236.89 L304.2 237.15 L303.4 236.16 L302.6 232.62 L301.8 232.29 L301 234.48 L300.2 231.81 L299.4 234.53 L298.6 235.98 L297.8 233.28 L297 230.6 L296.2 234.07 L295.4 229.56 L294.6 231.28 L293.8 234.74 L293 233.87 L292.2 233.35 L291.4 234.31 L290.6 231.77 L289.8 230.4 L289 227.05 L288.2 225.65 L287.4 229.19 L286.6 233.4 L285.8 232.79 L285 232.37 L284.2 230.65 L283.4 231.2 L282.6 230.18 L281.8 232.38 L281 234.99 L280.2 232.57 L279.4 232.67 L278.6 235.73 L277.8 236.44 L277 236.13 L276.2 235.53 L275.4 235.87 L274.6 236.34 L273.8 239.54 L273 240.02 L272.2 243.39 L271.4 242.92 L270.6 239.91 L269.8 243.14 L269 241.39 L268.2 238.32 L267.4 241.62 L266.6 243.93 L265.8 241.51 L265 239.2 L264.2 243.35 L263.4 244.26 L262.6 243.14 L261.8 242.46 L261 240.2Z" fill="#5b9bd5" fill-opacity="0.35"/>
<path d="M261 232.38 L261.8 232.69 L262.6 235.5 L263.4 236.28 L264.2 235.44 L265 230.78 L265.8 232.82 L266.6 233.78 L267.4 232.8 L268.2 230.37 L269 233.03 L269.8 235.52 L270.6 232.23 L271.4 234.11 L272.2 234.35 L273 231.72 L273.8 230.88 L274.6 228.45 L275.4 226.42 L276.2 226.83 L277 228.08 L277.8 227.45 L278.6 227.55 L279.4 224.25 L280.2 224.62 L281 225.21 L281.8 224 L282.6 219.9 L283.4 222.47 L284.2 222.61 L285 222.8 L285.8 223.14 L286.6 223.33 L287.4 221.22 L288.2 215.84 L289 217.04 L289.8 221.95 L290.6 222.9 L291.4 224.97 L292.2 225.07 L293 223.83 L293.8 225.18 L294.6 221.28 L295.4 220.7 L296.2 225.02 L297 222.45 L297.8 224.81 L298.6 226.34 L299.4 224.25 L300.2 223.79 L301 226.74 L301.8 224.5 L302.6 223.8 L303.4 226.34 L304.2 228.92 L305 227.95 L305.8 227.04 L306.6 224.51 L307.4 224.47 L308.2 223.46 L309 224.27 L309.8 227.51 L310.6 229.35 L311.4 228.37 L312.2 219.12 L313 212.46 L313.8 206.02 L314.6 206.29 L315.4 209.67 L316.2 213.48 L317 214.81 L317.8 212.23 L318.6 208.61 L319.4 207.48 L320.2 209.04 L321 210.69 L321.8 209.95 L322.6 210.04 L323.4 210.95 L324.2 207.89 L325 207.73 L325.8 208.57 L326.6 206.9 L327.4 207.43 L328.2 207.63 L329 205.85 L329.8 201.76 L330.6 199.61 L331.4 200.3 L332.2 198.47 L333 195.89 L333.8 198.73 L334.6 198.14 L335.4 195.45 L336.2 193.65 L337 195.07 L337.8 191.75 L338.6 190.4 L339.4 189.38 L340.2 189.52 L341 188.13 L341.8 187.47 L342.6 187.91 L343.4 187.04 L344.2 186.18 L345 182.46 L345.8 179.99 L346.6 183.16 L347.4 186.56 L348.2 187.45 L349 186.35 L349.8 182.1 L350.6 184.67 L351.4 186.17 L352.2 180.5 L353 176.82 L353.8 176.84 L354.6 175.19 L355.4 175.64 L356.2 174.59 L357 176.04 L357.8 173.61 L358.6 170.84 L359.4 172.18 L360.2 173.31 L361 170.2 L361.8 167.95 L362.6 166.28 L363.4 169.7 L364.2 167.77 L365 163.71 L365.8 164.78 L366.6 169.28 L367.4 173.54 L368.2 175.53 L369 177.05 L369.8 177.38 L370.6 176.19 L371.4 178.51 L372.2 178.34 L373 177 L373.8 176.02 L374.6 174.55 L375.4 176.93 L376.2 180.4 L377 182.31 L377.8 179.84 L378.6 178.87 L379.4 174.52 L380.2 172.83 L381 170.21" fill="none" stroke="#8fbbe6" stroke-width="0.5"/>
<path d="M381 183.76 L380.2 185.79 L379.4 188.11 L378.6 191.96 L377.8 193.04 L377 194.42 L376.2 193.17 L375.4 187.96 L374.6 187.12 L373.8 189.21 L373 188.68 L372.2 189.99 L371.4 191.81 L370.6 189.76 L369.8 189.5 L369 189.82 L368.2 186.95 L367.4 185.63 L366.6 181.24 L365.8 176.64 L365 176.83 L364.2 180.05 L363.4 181.88 L362.6 178.35 L361.8 180.12 L361 182.13 L360.2 184.63 L359.4 185.64 L358.6 184.14 L357.8 186.13 L357 187.56 L356.2 187.19 L355.4 186.81 L354.6 186.62 L353.8 188.29 L353 189.77 L352.2 193.98 L351.4 197.86 L350.6 197.28 L349.8 194.25 L349 197.56 L348.2 200.69 L347.4 198.07 L346.6 195.74 L345.8 193.77 L345 193.46 L344.2 196.18 L343.4 195.9 L342.6 196.25 L341.8 196.8 L341 198.04 L340.2 198.07 L339.4 197.69 L338.6 200.25 L337.8 201.96 L337 202.84 L336.2 201.43 L335.4 205.03 L334.6 205.9 L333.8 207.42 L333 204.22 L332.2 206.47 L331.4 209.05 L330.6 209.66 L329.8 211.42 L329 215.4 L328.2 217.04 L327.4 215.47 L326.6 216.39 L325.8 217.08 L325 215.42 L324.2 217.82 L323.4 219.26 L322.6 219.52 L321.8 217.75 L321 220.05 L320.2 219.3 L319.4 216.76 L318.6 218.12 L317.8 219.96 L317 224.67 L316.2 221.08 L315.4 219.82 L314.6 216.13 L313.8 215.16 L313 220.3 L312.2 228.63 L311.4 238.13 L310.6 237.77 L309.8 236.1 L309 233.29 L308.2 231.1 L307.4 232.53 L306.6 234.45 L305.8 236.08 L305 236.89 L304.2 237.15 L303.4 236.16 L302.6 232.62 L301.8 232.29 L301 234.48 L300.2 231.81 L299.4 234.53 L298.6 235.98 L297.8 233.28 L297 230.6 L296.2 234.07 L295.4 229.56 L294.6 231.28 L293.8 234.74 L293 233.87 L292.2 233.35 L291.4 234.31 L290.6 231.77 L289.8 230.4 L289 227.05 L288.2 225.65 L287.4 229.19 L286.6 233.4 L285.8 232.79 L285 232.37 L284.2 230.65 L283.4 231.2 L282.6 230.18 L281.8 232.38 L281 234.99 L280.2 232.57 L279.4 232.67 L278.6 235.73 L277.8 236.44 L277 236.13 L276.2 235.53 L275.4 235.87 L274.6 236.34 L273.8 239.54 L273 240.02 L272.2 243.39 L271.4 242.92 L270.6 239.91 L269.8 243.14 L269 241.39 L268.2 238.32 L267.4 241.62 L266.6 243.93 L265.8 241.51 L265 239.2 L264.2 243.35 L263.4 244.26 L262.6 243.14 L261.8 242.46 L261 240.2" fill="none" stroke="#8fbbe6" stroke-width="0.5"/>
<path d="M261 236.29 L261.8 237.58 L262.6 239.32 L263.4 240.27 L264.2 239.39 L265 234.99 L265.8 237.16 L266.6 238.86 L267.4 237.21 L268.2 234.34 L269 237.21 L269.8 239.33 L270.6 236.07 L271.4 238.52 L272.2 238.87 L273 235.87 L273.8 235.21 L274.6 232.39 L275.4 231.15 L276.2 231.18 L277 232.1 L277.8 231.94 L278.6 231.64 L279.4 228.46 L280.2 228.6 L281 230.1 L281.8 228.19 L282.6 225.04 L283.4 226.84 L284.2 226.63 L285 227.59 L285.8 227.96 L286.6 228.36 L287.4 225.21 L288.2 220.75 L289 222.05 L289.8 226.18 L290.6 227.33 L291.4 229.64 L292.2 229.21 L293 228.85 L293.8 229.96 L294.6 226.28 L295.4 225.13 L296.2 229.54 L297 226.53 L297.8 229.05 L298.6 231.16 L299.4 229.39 L300.2 227.8 L301 230.61 L301.8 228.39 L302.6 228.21 L303.4 231.25 L304.2 233.04 L305 232.42 L305.8 231.56 L306.6 229.48 L307.4 228.5 L308.2 227.28 L309 228.78 L309.8 231.8 L310.6 233.56 L311.4 233.25 L312.2 223.88 L313 216.38 L313.8 210.59 L314.6 211.21 L315.4 214.74 L316.2 217.28 L317 219.74 L317.8 216.09 L318.6 213.36 L319.4 212.12 L320.2 214.17 L321 215.37 L321.8 213.85 L322.6 214.78 L323.4 215.11 L324.2 212.85 L325 211.57 L325.8 212.82 L326.6 211.65 L327.4 211.45 L328.2 212.33 L329 210.63 L329.8 206.59 L330.6 204.63 L331.4 204.68 L332.2 202.47 L333 200.06 L333.8 203.08 L334.6 202.02 L335.4 200.24 L336.2 197.54 L337 198.96 L337.8 196.85 L338.6 195.33 L339.4 193.54 L340.2 193.8 L341 193.08 L341.8 192.13 L342.6 192.08 L343.4 191.47 L344.2 191.18 L345 187.96 L345.8 186.88 L346.6 189.45 L347.4 192.31 L348.2 194.07 L349 191.95 L349.8 188.18 L350.6 190.98 L351.4 192.01 L352.2 187.24 L353 183.29 L353.8 182.57 L354.6 180.91 L355.4 181.22 L356.2 180.89 L357 181.8 L357.8 179.87 L358.6 177.49 L359.4 178.91 L360.2 178.97 L361 176.16 L361.8 174.04 L362.6 172.31 L363.4 175.79 L364.2 173.91 L365 170.27 L365.8 170.71 L366.6 175.26 L367.4 179.58 L368.2 181.24 L369 183.43 L369.8 183.44 L370.6 182.98 L371.4 185.16 L372.2 184.17 L373 182.84 L373.8 182.62 L374.6 180.83 L375.4 182.44 L376.2 186.79 L377 188.37 L377.8 186.44 L378.6 185.42 L379.4 181.32 L380.2 179.31 L381 176.98" fill="none" stroke="#4a8fd6" stroke-width="1"/>
<path d="M261 244.04 L261.8 240.16 L262.6 238.68 L263.4 237.96 L264.2 235.86 L265 235.91 L265.8 235 L266.6 234.14 L267.4 237.64 L268.2 236.82 L269 233.63 L269.8 234.62 L270.6 237.65 L271.4 238.69 L272.2 239.53 L273 240.57 L273.8 242.87 L274.6 242.28 L275.4 240.39 L276.2 238.63 L277 241.85 L277.8 240.02 L278.6 238.87 L279.4 240.93 L280.2 237.18 L281 233.71 L281.8 233.29 L282.6 232.21 L283.4 236.2 L284.2 235.4 L285 235.06 L285.8 236.02 L286.6 233.05 L287.4 233.32 L288.2 230.33 L289 230.1 L289.8 230.56 L290.6 234.45 L291.4 234.64 L292.2 231.06 L293 230.59 L293.8 231.18 L294.6 232.68 L295.4 231.36 L296.2 229.59 L297 230.96 L297.8 236.76 L298.6 239.7 L299.4 236.06 L300.2 234.58 L301 238.35 L301.8 237.59 L302.6 237.3 L303.4 238.13 L304.2 237.86 L305 237.02 L305.8 236.44 L306.6 239.66 L307.4 241.43 L308.2 243.36 L309 241.5 L309.8 240.01 L310.6 246.17 L311.4 245.42 L312.2 237 L313 231.45 L313.8 229.89 L314.6 229.61 L315.4 229.72 L316.2 229.39 L317 231.82 L317.8 229.66 L318.6 229.29 L319.4 231.16 L320.2 230.24 L321 226.72 L321.8 226.11 L322.6 225.81 L323.4 222.63 L324.2 219.88 L325 222.65 L325.8 223.45 L326.6 221.13 L327.4 218.07 L328.2 217.54 L329 216.64 L329.8 217.08 L330.6 219.3 L331.4 219.08 L332.2 216.53 L333 214.8 L333.8 213.48 L334.6 211.22 L335.4 209.28 L336.2 207.23 L337 207.81 L337.8 209.95 L338.6 206.84 L339.4 202.58 L340.2 200.22 L341 199.01 L341.8 200.18 L342.6 199.57 L343.4 197.15 L344.2 198.49 L345 198.22 L345.8 199.69 L346.6 198.81 L347.4 199.15 L348.2 196.81 L349 196.71 L349.8 198.86 L350.6 200.03 L351.4 197.99 L352.2 194.79 L353 195.89 L353.8 197.66 L354.6 198.11 L355.4 199.4 L356.2 201.86 L357 198.73 L357.8 197.07 L358.6 198.72 L359.4 197.57 L360.2 196.41 L361 196.65 L361.8 196.13 L362.6 195.65 L363.4 195.81 L364.2 193.97 L365 193.03 L365.8 193.98 L366.6 195.41 L367.4 196.3 L368.2 193.73 L369 192.51 L369.8 194.42 L370.6 193.36 L371.4 193.83 L372.2 198.03 L373 199.24 L373.8 199.56 L374.6 197.48 L375.4 195.14 L376.2 194.56 L377 195.6 L377.8 195.79 L378.6 195.59 L379.4 196.01 L380.2 195.54 L381 198.1" fill="none" stroke="#333" stroke-width="1"/>
<line x1="260.8" y1="158.8" x2="260.8" y2="259.8" stroke="#3a3a3a" stroke-width="0.8"/>
<line x1="257.1" y1="170" x2="260.8" y2="170" stroke="#3a3a3a" stroke-width="0.8"/>
<text x="255.2" y="172.6" font-size="7.2" text-anchor="end" stroke="#231f20" stroke-width="0.216">0.7</text>
<line x1="257.1" y1="192.4" x2="260.8" y2="192.4" stroke="#3a3a3a" stroke-width="0.8"/>
<text x="255.2" y="195" font-size="7.2" text-anchor="end" stroke="#231f20" stroke-width="0.216">0.6</text>
<line x1="257.1" y1="214.8" x2="260.8" y2="214.8" stroke="#3a3a3a" stroke-width="0.8"/>
<text x="255.2" y="217.4" font-size="7.2" text-anchor="end" stroke="#231f20" stroke-width="0.216">0.5</text>
<line x1="257.1" y1="237.2" x2="260.8" y2="237.2" stroke="#3a3a3a" stroke-width="0.8"/>
<text x="255.2" y="239.8" font-size="7.2" text-anchor="end" stroke="#231f20" stroke-width="0.216">0.4</text>
<line x1="257.1" y1="259.6" x2="260.8" y2="259.6" stroke="#3a3a3a" stroke-width="0.8"/>
<text x="255.2" y="262.2" font-size="7.2" text-anchor="end" stroke="#231f20" stroke-width="0.216">0.3</text>
<line x1="260.8" y1="259.8" x2="381.8" y2="259.8" stroke="#3a3a3a" stroke-width="0.8"/>
<line x1="261.25" y1="259.8" x2="261.25" y2="263.3" stroke="#3a3a3a" stroke-width="0.8"/>
<text x="261.25" y="270.6" font-size="7.2" text-anchor="middle" stroke="#231f20" stroke-width="0.216">-3</text>
<line x1="277.7" y1="259.8" x2="277.7" y2="263.3" stroke="#3a3a3a" stroke-width="0.8"/>
<text x="277.7" y="270.6" font-size="7.2" text-anchor="middle" stroke="#231f20" stroke-width="0.216">-2</text>
<line x1="294.15" y1="259.8" x2="294.15" y2="263.3" stroke="#3a3a3a" stroke-width="0.8"/>
<text x="294.15" y="270.6" font-size="7.2" text-anchor="middle" stroke="#231f20" stroke-width="0.216">-1</text>
<line x1="310.6" y1="259.8" x2="310.6" y2="263.3" stroke="#3a3a3a" stroke-width="0.8"/>
<text x="310.6" y="270.6" font-size="7.2" text-anchor="middle" stroke="#231f20" stroke-width="0.216">0</text>
<line x1="327.05" y1="259.8" x2="327.05" y2="263.3" stroke="#3a3a3a" stroke-width="0.8"/>
<text x="327.05" y="270.6" font-size="7.2" text-anchor="middle" stroke="#231f20" stroke-width="0.216">1</text>
<line x1="343.5" y1="259.8" x2="343.5" y2="263.3" stroke="#3a3a3a" stroke-width="0.8"/>
<text x="343.5" y="270.6" font-size="7.2" text-anchor="middle" stroke="#231f20" stroke-width="0.216">2</text>
<line x1="359.95" y1="259.8" x2="359.95" y2="263.3" stroke="#3a3a3a" stroke-width="0.8"/>
<text x="359.95" y="270.6" font-size="7.2" text-anchor="middle" stroke="#231f20" stroke-width="0.216">3</text>
<line x1="376.4" y1="259.8" x2="376.4" y2="263.3" stroke="#3a3a3a" stroke-width="0.8"/>
<text x="376.4" y="270.6" font-size="7.2" text-anchor="middle" stroke="#231f20" stroke-width="0.216">4</text>
<text x="321.6" y="282.9" font-size="8.2" text-anchor="middle" stroke="#231f20" stroke-width="0.240">Time (hours)</text>
<rect x="311" y="255.1" width="66.2" height="2.6" fill="#4a90d9"/>
<text x="344.5" y="253.4" font-size="5.6" text-anchor="middle" stroke="#231f20" stroke-width="0.168">5°C</text>
<text x="310.7" y="200.9" font-size="7" text-anchor="middle" stroke="#231f20" stroke-width="0.210">Cold</text>
<line x1="310.6" y1="203.5" x2="310.6" y2="218" stroke="#111" stroke-width="0.9"/>
<path d="M310.6 222.2 L308.6 217 L312.6 217 Z" fill="#111"/>
<path d="M383.2 178 L387.4 178 L387.4 201.3 L383.2 201.3" fill="none" stroke="#333" stroke-width="0.8"/>
<text x="389.2" y="192" font-size="7" stroke="#231f20" stroke-width="0.210"><tspan font-style="italic">P</tspan> = 3.3e-8</text>
<text x="429.13" y="155.37" font-size="14.5" font-weight="bold" stroke="#231f20" stroke-width="0.240">e</text>
<text x="445.6" y="211.3" font-size="8" text-anchor="middle" transform="rotate(-90 445.6 211.3)" textLength="86" lengthAdjust="spacingAndGlyphs" stroke="#231f20" stroke-width="0.240">Rectal temperature (°C)</text>
<line x1="470.5" y1="162" x2="470.5" y2="260.6" stroke="#3a3a3a" stroke-width="0.8"/>
<line x1="467.3" y1="162.6" x2="470.5" y2="162.6" stroke="#3a3a3a" stroke-width="0.8"/>
<text x="466.4" y="165.2" font-size="7.2" text-anchor="end" stroke="#231f20" stroke-width="0.216">38.0</text>
<line x1="467.3" y1="187.1" x2="470.5" y2="187.1" stroke="#3a3a3a" stroke-width="0.8"/>
<text x="466.4" y="189.7" font-size="7.2" text-anchor="end" stroke="#231f20" stroke-width="0.216">37.5</text>
<line x1="467.3" y1="211.6" x2="470.5" y2="211.6" stroke="#3a3a3a" stroke-width="0.8"/>
<text x="466.4" y="214.2" font-size="7.2" text-anchor="end" stroke="#231f20" stroke-width="0.216">37.0</text>
<line x1="467.3" y1="236.1" x2="470.5" y2="236.1" stroke="#3a3a3a" stroke-width="0.8"/>
<text x="466.4" y="238.7" font-size="7.2" text-anchor="end" stroke="#231f20" stroke-width="0.216">36.5</text>
<line x1="467.3" y1="260.6" x2="470.5" y2="260.6" stroke="#3a3a3a" stroke-width="0.8"/>
<text x="466.4" y="263.2" font-size="7.2" text-anchor="end" stroke="#231f20" stroke-width="0.216">36.0</text>
<line x1="470.5" y1="260.6" x2="568" y2="260.6" stroke="#3a3a3a" stroke-width="0.8"/>
<line x1="470.5" y1="260.6" x2="470.5" y2="264.1" stroke="#3a3a3a" stroke-width="0.8"/>
<text x="470.5" y="270.9" font-size="7.2" text-anchor="middle" stroke="#231f20" stroke-width="0.216">0</text>
<line x1="498.66" y1="260.6" x2="498.66" y2="264.1" stroke="#3a3a3a" stroke-width="0.8"/>
<text x="498.66" y="270.9" font-size="7.2" text-anchor="middle" stroke="#231f20" stroke-width="0.216">2</text>
<line x1="526.82" y1="260.6" x2="526.82" y2="264.1" stroke="#3a3a3a" stroke-width="0.8"/>
<text x="526.82" y="270.9" font-size="7.2" text-anchor="middle" stroke="#231f20" stroke-width="0.216">4</text>
<line x1="554.98" y1="260.6" x2="554.98" y2="264.1" stroke="#3a3a3a" stroke-width="0.8"/>
<text x="554.98" y="270.9" font-size="7.2" text-anchor="middle" stroke="#231f20" stroke-width="0.216">6</text>
<text x="518.2" y="283.1" font-size="8.2" text-anchor="middle" stroke="#231f20" stroke-width="0.240">Time (hours)</text>
<line x1="470.5" y1="232.18" x2="470.5" y2="212.58" stroke="#666" stroke-width="0.8"/>
<line x1="468.1" y1="232.18" x2="472.9" y2="232.18" stroke="#666" stroke-width="0.8"/>
<line x1="468.1" y1="212.58" x2="472.9" y2="212.58" stroke="#666" stroke-width="0.8"/>
<line x1="484.58" y1="182.2" x2="484.58" y2="177.3" stroke="#666" stroke-width="0.8"/>
<line x1="482.18" y1="182.2" x2="486.98" y2="182.2" stroke="#666" stroke-width="0.8"/>
<line x1="482.18" y1="177.3" x2="486.98" y2="177.3" stroke="#666" stroke-width="0.8"/>
<line x1="498.66" y1="227.77" x2="498.66" y2="202.29" stroke="#666" stroke-width="0.8"/>
<line x1="496.26" y1="227.77" x2="501.06" y2="227.77" stroke="#666" stroke-width="0.8"/>
<line x1="496.26" y1="202.29" x2="501.06" y2="202.29" stroke="#666" stroke-width="0.8"/>
<line x1="526.82" y1="234.14" x2="526.82" y2="201.8" stroke="#666" stroke-width="0.8"/>
<line x1="524.42" y1="234.14" x2="529.22" y2="234.14" stroke="#666" stroke-width="0.8"/>
<line x1="524.42" y1="201.8" x2="529.22" y2="201.8" stroke="#666" stroke-width="0.8"/>
<line x1="554.98" y1="228.75" x2="554.98" y2="214.05" stroke="#666" stroke-width="0.8"/>
<line x1="552.58" y1="228.75" x2="557.38" y2="228.75" stroke="#666" stroke-width="0.8"/>
<line x1="552.58" y1="214.05" x2="557.38" y2="214.05" stroke="#666" stroke-width="0.8"/>
<line x1="470.5" y1="217.97" x2="470.5" y2="200.33" stroke="#666" stroke-width="0.8"/>
<line x1="468.1" y1="217.97" x2="472.9" y2="217.97" stroke="#666" stroke-width="0.8"/>
<line x1="468.1" y1="200.33" x2="472.9" y2="200.33" stroke="#666" stroke-width="0.8"/>
<line x1="484.58" y1="176.81" x2="484.58" y2="168.97" stroke="#666" stroke-width="0.8"/>
<line x1="482.18" y1="176.81" x2="486.98" y2="176.81" stroke="#666" stroke-width="0.8"/>
<line x1="482.18" y1="168.97" x2="486.98" y2="168.97" stroke="#666" stroke-width="0.8"/>
<line x1="498.66" y1="185.14" x2="498.66" y2="170.44" stroke="#666" stroke-width="0.8"/>
<line x1="496.26" y1="185.14" x2="501.06" y2="185.14" stroke="#666" stroke-width="0.8"/>
<line x1="496.26" y1="170.44" x2="501.06" y2="170.44" stroke="#666" stroke-width="0.8"/>
<line x1="526.82" y1="184.16" x2="526.82" y2="177.3" stroke="#666" stroke-width="0.8"/>
<line x1="524.42" y1="184.16" x2="529.22" y2="184.16" stroke="#666" stroke-width="0.8"/>
<line x1="524.42" y1="177.3" x2="529.22" y2="177.3" stroke="#666" stroke-width="0.8"/>
<line x1="554.98" y1="193.96" x2="554.98" y2="190.04" stroke="#666" stroke-width="0.8"/>
<line x1="552.58" y1="193.96" x2="557.38" y2="193.96" stroke="#666" stroke-width="0.8"/>
<line x1="552.58" y1="190.04" x2="557.38" y2="190.04" stroke="#666" stroke-width="0.8"/>
<path d="M470.5 222.38 L484.58 179.75 L498.66 215.03 L526.82 217.97 L554.98 221.4" fill="none" stroke="#222" stroke-width="1"/>
<path d="M470.5 209.15 L484.58 172.89 L498.66 177.79 L526.82 180.73 L554.98 192" fill="none" stroke="#222" stroke-width="1"/>
<circle cx="470.5" cy="222.38" r="2.9" fill="#6b6b6b" stroke="#222" stroke-width="0.6"/>
<circle cx="484.58" cy="179.75" r="2.9" fill="#6b6b6b" stroke="#222" stroke-width="0.6"/>
<circle cx="498.66" cy="215.03" r="2.9" fill="#6b6b6b" stroke="#222" stroke-width="0.6"/>
<circle cx="526.82" cy="217.97" r="2.9" fill="#6b6b6b" stroke="#222" stroke-width="0.6"/>
<circle cx="554.98" cy="221.4" r="2.9" fill="#6b6b6b" stroke="#222" stroke-width="0.6"/>
<circle cx="470.5" cy="209.15" r="2.9" fill="#64a3e0" stroke="#222" stroke-width="0.6"/>
<circle cx="484.58" cy="172.89" r="2.9" fill="#64a3e0" stroke="#222" stroke-width="0.6"/>
<circle cx="498.66" cy="177.79" r="2.9" fill="#64a3e0" stroke="#222" stroke-width="0.6"/>
<circle cx="526.82" cy="180.73" r="2.9" fill="#64a3e0" stroke="#222" stroke-width="0.6"/>
<circle cx="554.98" cy="192" r="2.9" fill="#64a3e0" stroke="#222" stroke-width="0.6"/>
<path d="M560.6 191.2 L565.9 191.2 L565.9 221.3 L560.6 221.3" fill="none" stroke="#555" stroke-width="0.8"/>
<text x="570" y="208.6" font-size="7" stroke="#231f20" stroke-width="0.210"><tspan font-style="italic">P</tspan> = 3.6e-5</text>
<line x1="573.4" y1="162.4" x2="584.4" y2="162.4" stroke="#222" stroke-width="0.9"/>
<circle cx="579" cy="162.4" r="2.5" fill="#6b6b6b" stroke="#222" stroke-width="0.6"/>
<text x="589.4" y="165" font-size="7.2" stroke="#231f20" stroke-width="0.216">PBS</text>
<line x1="573.4" y1="174.8" x2="584.4" y2="174.8" stroke="#222" stroke-width="0.9"/>
<circle cx="579" cy="174.8" r="2.5" fill="#64a3e0" stroke="#222" stroke-width="0.6"/>
<text x="589.4" y="177.4" font-size="7.2" stroke="#231f20" stroke-width="0.216">NB21-mFc</text>
<text x="4.55" y="317.3" font-size="14.5" font-weight="bold" stroke="#231f20" stroke-width="0.240">f</text>
<text x="59.7" y="381.2" font-size="7.7" stroke="#231f20" stroke-width="0.231">8-week-old</text>
<text x="59.7" y="390.5" font-size="7.7" stroke="#231f20" stroke-width="0.231">C57BL/6J</text>
<g transform="translate(13.4 339.5)">
<path d="M38.7 71.5 C42 68.5 45 65.5 49 62.5 C53 59 60 56.5 67 55.3 C74 54.5 80 56.5 84 61 C86.3 64 87 68 86.9 71.5 Z" fill="none" stroke="#111" stroke-width="1.05"/>
<path d="M49.2 64.2 C49.2 61.6 50.6 59.9 52.4 60.1 C53.9 60.4 54.6 62.2 54.3 64.6" fill="none" stroke="#111" stroke-width="0.9"/>
<path d="M51.2 63.6 C51.4 62.4 52.1 61.8 52.8 62.2" fill="none" stroke="#111" stroke-width="0.6"/>
<circle cx="48.3" cy="67.2" r="0.75" fill="#111"/>
<path d="M45.6 69.8 L45.6 73 M45.6 71.2 L47.8 69.6 M45.6 71.2 L47.9 73" fill="none" stroke="#111" stroke-width="0.6"/>
<path d="M84.2 61.5 C85.8 58.5 87 55.8 88.4 54.2 C89.3 53.2 90.3 52.8 91.4 53" fill="none" stroke="#111" stroke-width="0.8"/>
<g transform="rotate(49.4 81.5 77.75)">
<rect x="74.8" y="76.3" width="13.4" height="3" fill="#fff" stroke="#111" stroke-width="0.9"/>
<line x1="88.2" y1="75.6" x2="88.2" y2="80.4" stroke="#111" stroke-width="1.3"/>
<line x1="70.4" y1="77.8" x2="74.8" y2="77.8" stroke="#111" stroke-width="0.7"/>
<circle cx="76.4" cy="77.8" r="0.9" fill="#1a8fd0"/>
</g>
<g fill="#2a8a48" stroke="#145a28" stroke-width="0.5">
<ellipse cx="31.4" cy="67.6" rx="1.6" ry="3.0" transform="rotate(-22 31.4 67.6)"/>
<ellipse cx="28.9" cy="74.6" rx="1.6" ry="3.0" transform="rotate(52 28.9 74.6)"/>
<ellipse cx="35.2" cy="74.3" rx="3.0" ry="1.6" transform="rotate(14 35.2 74.3)"/>
</g>
</g>
<text x="25.6" y="411.4" font-size="7.7" stroke="#231f20" stroke-width="0.231">HFD</text>
<text x="65.8" y="422.9" font-size="7.7" fill="#c45ff0" stroke="#c45ff0" stroke-width="0.231">Day 0</text>
<path d="M110.8 374.9 L110.8 369.8 M110.8 372.23 L112.7 370.33 M110.8 372.23 L108.9 370.33 M109.67 375.55 L105.26 373 M107.36 374.22 L106.67 371.62 M107.36 374.22 L104.77 374.91 M109.67 376.85 L105.26 379.4 M107.36 378.18 L104.77 377.49 M107.36 378.18 L106.67 380.78 M110.8 377.5 L110.8 382.6 M110.8 380.17 L108.9 382.07 M110.8 380.17 L112.7 382.07 M111.93 376.85 L116.34 379.4 M114.24 378.18 L114.93 380.78 M114.24 378.18 L116.83 377.49 M111.93 375.55 L116.34 373 M114.24 374.22 L116.83 374.91 M114.24 374.22 L114.93 371.62 M112.2 376.2 L111.5 377.41 L110.1 377.41 L109.4 376.2 L110.1 374.99 L111.5 374.99 Z" fill="none" stroke="#1ea0e0" stroke-width="1"/>
<text x="120.2" y="379.2" font-size="7.7" fill="#1ea0e0" font-weight="bold" stroke="#1ea0e0" stroke-width="0.231">5°C</text>
<text x="108.7" y="399" font-size="7.7" stroke="#231f20" stroke-width="0.231">PBS or NB21-mFc</text>
<line x1="103" y1="406.1" x2="175.5" y2="406.1" stroke="#111" stroke-width="0.9"/>
<path d="M178.5 406.1 L174.5 404.3 L174.5 407.9 Z" fill="#111"/>
<text x="111" y="417" font-size="7.6" stroke="#231f20" stroke-width="0.228">0.2 mg kg<tspan dy="-2.8" font-size="5">−1</tspan><tspan dy="2.8"> day</tspan><tspan dy="-2.8" font-size="5">−1</tspan></text>
<text x="186" y="404.2" font-size="7.7" fill="#c45ff0" stroke="#c45ff0" stroke-width="0.231">Day 7</text>
<text x="183.3" y="413.6" font-size="7.7" stroke="#231f20" stroke-width="0.231">Analysis</text>
<text x="270.61" y="317.4" font-size="14.5" font-weight="bold" stroke="#231f20" stroke-width="0.240">g</text>
<text x="384.2" y="314.8" font-size="8.3" text-anchor="middle" stroke="#231f20" stroke-width="0.240">vWAT (Cold)</text>
<text x="339.3" y="329.9" font-size="8.3" text-anchor="middle" stroke="#231f20" stroke-width="0.240">PBS</text>
<text x="428.3" y="329.9" font-size="8.3" text-anchor="middle" stroke="#231f20" stroke-width="0.240">NB21-mFc</text>
<text x="287.9" y="363.6" font-size="7.8" text-anchor="middle" transform="rotate(-90 287.9 363.6)" stroke="#231f20" stroke-width="0.234">H&amp;E</text>
<text x="287.9" y="418.2" font-size="7.8" text-anchor="middle" transform="rotate(-90 287.9 418.2)" stroke="#231f20" stroke-width="0.234"><tspan fill="#1fa040" stroke="#1fa040">UCP1</tspan><tspan>/</tspan><tspan fill="#e0262a" stroke="#e0262a">PLN1</tspan><tspan>/</tspan><tspan fill="#2a8ad0" stroke="#2a8ad0">DAPI</tspan></text>
<clipPath id="cp1"><rect x="296.2" y="337" width="86.3" height="52.2"/></clipPath>
<rect x="296.2" y="337" width="86.3" height="52.2" fill="#ecdcf0"/>
<g clip-path="url(#cp1)">
<path d="M282.4 331.9L279.4 330.3L283.8 323.4L289.8 327.5L289.9 329.2ZM291.3 330.0L296.0 331.6L297.4 325.9L290.4 327.5L290.4 327.6L290.5 329.2ZM302.5 331.8L298.5 334.3L296.4 331.6L297.8 326.0L298.9 323.4L304.9 326.8ZM309.8 333.2L308.7 326.2L308.1 325.9L305.3 326.9L303.0 331.9L306.8 334.2ZM316.5 332.6L316.5 327.5L314.7 326.9L309.0 326.2L310.2 333.2L313.2 334.9ZM318.2 333.5L326.7 332.9L325.5 328.8L317.6 327.2L316.9 327.5L317.0 332.6ZM327.1 332.8L326.1 328.8L327.9 324.9L332.7 326.1L334.3 328.2L334.3 331.1L327.5 333.1ZM340.8 326.3L339.9 331.5L336.1 332.0L334.8 331.0L334.8 328.2L339.8 325.3ZM345.8 326.8L341.2 326.3L340.3 331.6L342.9 333.0ZM348.4 333.7L344.4 335.0L343.2 333.2L346.1 326.9L348.5 325.9L350.9 329.1L350.9 330.9ZM358.3 328.8L356.6 327.5L351.5 329.1L351.5 330.9L357.3 335.9L359.9 331.4ZM363.9 324.4L358.8 328.6L360.4 331.2L365.4 330.3L366.4 329.6L367.0 327.8ZM367.5 327.9L370.6 326.3L375.5 327.6L375.7 333.5L373.1 335.7L372.8 335.8L367.0 329.7ZM376.1 333.5L380.0 334.1L383.3 332.1L381.5 326.3L378.5 325.8L376.0 327.5ZM388.2 328.0L385.1 324.0L381.9 326.2L383.7 332.0L386.8 333.1ZM388.8 328.1L387.1 333.2L387.2 333.3L405.0 325.8ZM288.7 337.3L290.9 330.4L290.1 329.5L282.5 332.2L285.9 338.3ZM289.0 337.5L291.3 330.5L296.0 332.1L298.2 334.6L298.2 334.6L294.1 338.6ZM303.0 340.4L298.7 334.7L298.7 334.7L302.7 332.3L306.6 334.6L306.6 339.9ZM312.9 335.4L309.9 333.7L307.1 334.7L307.0 339.9L310.5 341.2L312.3 337.7ZM317.8 333.9L320.4 340.1L312.9 337.7L313.4 335.3L316.7 333.0ZM318.2 333.9L326.8 333.2L327.1 333.6L327.0 336.7L322.1 340.9L321.3 340.8L320.8 340.1ZM327.6 333.5L334.4 331.4L335.7 332.5L335.9 337.6L331.2 339.4L327.6 336.6ZM336.9 338.0L336.4 337.6L336.2 332.5L340.1 332.1L342.7 333.5L343.9 335.3L342.9 338.5ZM351.4 339.7L348.3 334.3L344.4 335.5L343.4 338.6L343.8 339.6ZM354.3 340.9L353.5 340.6L351.9 339.6L348.7 334.2L351.3 331.2L357.1 336.2L357.3 337.9ZM357.9 337.8L357.7 336.1L360.3 331.7L365.4 330.8L364.5 337.7L362.5 339.3ZM366.8 329.9L372.6 336.0L370.8 337.8L364.9 337.7L365.8 330.8ZM373.4 336.1L376.0 339.1L381.2 339.9L379.8 334.6L376.0 334.0ZM388.7 338.6L386.8 333.7L386.7 333.6L383.6 332.6L380.4 334.6L381.6 339.8L382.4 340.8ZM290.0 345.1L284.8 343.8L284.1 343.0L286.0 338.8L288.8 337.9L293.8 339.0L293.9 339.5ZM296.6 345.9L297.0 345.0L294.2 339.8L290.4 345.4L293.0 347.8ZM294.4 339.5L294.4 339.0L298.4 334.9L302.7 340.7L301.9 342.5L297.4 344.7ZM302.4 342.7L305.1 348.6L311.5 344.3L310.3 341.6L306.8 340.4L303.2 340.9ZM312.8 338.1L310.9 341.5L312.1 344.1L313.9 345.4L320.9 341.1L320.4 340.4ZM327.3 337.0L330.9 339.9L331.1 343.7L327.5 346.1L324.7 345.8L322.3 341.3ZM336.9 344.1L334.6 345.4L331.6 343.7L331.4 339.8L336.0 338.1L336.6 338.4ZM343.2 342.6L342.2 344.7L337.4 344.2L337.0 338.3L343.0 339.0L343.3 340.0ZM353.2 340.9L347.4 343.4L343.8 342.7L343.8 339.9L351.4 339.9ZM354.1 341.4L353.3 341.2L347.6 343.7L350.3 347.4L354.2 342.8ZM364.2 347.1L364.8 346.2L362.5 339.8L357.7 338.2L354.6 341.3L354.7 342.8L357.6 346.6L361.5 347.5L364.2 347.2ZM365.1 346.0L370.2 344.5L370.7 338.2L364.9 338.2L362.9 339.7ZM372.4 345.4L370.6 344.5L371.2 338.3L372.9 336.4L373.1 336.3L375.6 339.5L375.6 343.8ZM379.8 344.4L376.1 343.9L376.1 339.6L381.2 340.3L382.0 341.2L381.2 343.4ZM381.8 343.6L382.5 341.2L388.8 339.0L389.0 339.1L390.1 343.5L389.1 345.6L385.0 346.4ZM292.6 348.2L290.0 345.7L284.8 344.2L285.4 351.7L289.0 354.2L292.1 351.0ZM297.7 353.2L292.6 351.0L293.2 348.2L296.8 346.3L299.8 350.0ZM300.2 349.7L304.5 349.6L304.8 348.7L302.1 342.9L297.6 345.1L297.2 346.1ZM305.3 348.9L305.0 349.8L306.0 352.1L306.9 352.6L313.9 351.7L315.2 350.4L313.6 345.8L311.7 344.6ZM321.9 341.5L324.2 346.1L320.6 351.7L320.6 351.8L315.7 350.3L314.1 345.7L321.1 341.3ZM324.6 346.3L320.9 351.9L330.1 352.5L327.4 346.7ZM331.2 353.1L330.5 352.4L327.8 346.6L331.4 344.1L334.4 345.9L334.8 351.1L332.2 352.8ZM341.5 352.3L335.3 351.0L334.8 345.8L337.2 344.6L342.1 345.1L343.0 349.9ZM343.6 343.0L342.6 345.0L343.5 349.8L349.3 349.5L349.9 347.6L347.2 344.0ZM354.3 343.0L350.5 347.7L349.7 349.6L349.8 349.6L353.7 352.3L357.1 346.9ZM361.4 348.0L357.2 355.2L355.0 354.8L354.1 352.5L357.3 347.1ZM371.9 353.2L364.8 347.3L365.3 346.4L370.3 345.0L372.2 345.9L373.8 350.0ZM379.6 344.9L375.9 344.3L372.7 345.8L374.2 349.9L378.9 350.3ZM380.0 345.0L379.3 350.3L380.4 351.5L383.6 351.1L384.6 346.8L381.5 343.9ZM385.1 347.0L389.2 346.1L390.5 351.6L386.1 352.4L384.1 351.2ZM288.7 354.5L289.0 356.6L288.0 357.7L272.9 356.0L285.1 352.1ZM297.6 353.6L298.6 357.4L296.8 359.3L294.9 359.4L289.6 356.7L289.3 354.5L292.5 351.4ZM298.1 353.5L299.1 357.2L301.3 357.0L305.5 352.4L304.5 350.0L300.2 350.2ZM305.8 352.6L306.6 353.1L308.4 357.8L305.0 360.0L301.6 357.3ZM311.4 358.6L308.8 357.8L306.9 353.0L313.9 352.1L312.7 358.3ZM313.1 358.4L314.3 352.1L315.5 350.7L320.4 352.3L321.3 356.4L316.6 360.6L316.2 360.5ZM330.9 353.4L330.1 352.7L321.0 352.1L320.9 352.2L321.8 356.3L323.8 357.6L329.7 356.4ZM336.2 358.0L332.2 353.4L331.3 353.7L330.2 356.6L331.7 360.8L332.9 361.8L333.8 361.6ZM336.6 357.7L332.5 353.1L335.3 351.5L341.4 352.7L341.7 354.9L339.6 356.6ZM347.5 358.1L349.3 350.0L349.3 349.9L343.5 350.3L341.9 352.7L342.3 354.8L345.2 358.1ZM351.1 358.7L347.8 358.2L349.6 350.1L353.6 352.8L354.5 355.0ZM364.2 347.6L364.1 352.5L360.4 357.2L357.5 355.4L361.6 348.1ZM360.7 357.5L365.5 359.1L369.3 356.3L364.4 352.9L360.7 357.4ZM371.7 353.4L364.6 347.6L364.6 347.6L364.7 352.6L369.5 356.0L369.9 356.0L371.6 354.2ZM378.8 350.7L374.2 350.4L372.3 353.5L372.2 354.3L378.6 357.5L378.7 357.4L380.0 351.9ZM380.5 352.0L379.1 357.5L385.1 357.6L385.7 352.9L383.7 351.6ZM385.5 357.7L386.9 359.3L393.4 353.5L390.6 352.0L386.2 352.9ZM292.7 363.5L286.8 361.5L285.3 363.8L291.7 367.3ZM289.4 357.0L294.7 359.7L292.8 363.2L286.9 361.2L288.5 358.1ZM299.1 357.7L297.3 359.6L298.9 363.1L304.9 363.2L304.7 360.3L301.3 357.6ZM311.2 359.1L308.5 358.3L305.3 360.4L305.4 363.2L305.7 363.8L308.9 364.8ZM311.5 359.2L309.2 364.9L310.2 366.1L315.9 360.9L312.8 358.8ZM323.5 358.1L321.5 356.7L316.8 360.9L318.1 363.8L324.3 362.2ZM325.4 362.9L324.8 362.1L323.9 358.1L329.8 356.7L331.4 361.0ZM336.5 358.3L334.2 361.8L338.2 362.9L339.6 357.1ZM339.9 357.2L342.0 355.2L345.0 358.6L343.2 363.8L340.1 364.3L338.6 363.0ZM352.3 364.7L345.8 366.3L343.6 363.9L345.4 358.7L347.7 358.7L350.9 359.3L352.6 364.3ZM353.0 364.2L351.4 359.1L354.9 355.3L357.2 355.8L360.1 357.7L360.1 357.7L358.8 363.7L358.2 364.3ZM359.2 363.8L366.7 364.6L365.4 359.5L360.6 357.8ZM368.1 365.6L367.1 364.6L366.0 359.5L369.6 356.6L370.0 356.5L372.8 363.0L372.7 363.3ZM372.0 354.6L370.3 356.4L373.1 362.9L377.9 360.5L378.5 357.8ZM379.1 357.9L385.0 358.1L386.5 359.6L386.9 361.4L382.7 365.6L378.4 360.6L379.0 357.9ZM292.0 370.5L286.3 371.7L283.1 364.8L285.2 364.0L291.6 367.6L292.9 369.7ZM296.6 370.0L293.3 369.5L292.2 367.4L293.3 363.7L295.0 360.0L296.9 359.8L298.4 363.5L297.9 369.0ZM302.3 369.1L305.2 364.2L304.9 363.5L298.9 363.5L298.3 369.1ZM305.3 371.3L310.1 369.4L310.6 368.2L309.9 366.5L308.9 365.3L305.7 364.3L302.6 369.3ZM317.7 367.5L317.6 364.1L316.4 361.2L316.1 361.1L310.4 366.2L311.1 368.1ZM325.4 369.3L320.2 370.0L318.2 367.6L318.2 364.1L324.4 362.6L325.0 363.3ZM325.9 369.3L325.5 363.3L331.5 361.4L332.7 362.4L331.6 367.3L331.2 367.7L326.9 369.7ZM334.1 362.2L333.1 362.3L332.1 367.2L338.0 368.3L339.7 364.6L338.1 363.3ZM343.2 364.3L345.3 366.7L345.1 370.6L339.6 372.3L338.4 368.5L340.2 364.8ZM352.3 371.1L346.7 371.7L345.6 370.7L345.8 366.8L352.4 365.0ZM352.7 371.1L352.8 365.0L353.0 364.7L358.2 364.9L359.4 369.3L359.3 369.5L354.4 372.9ZM359.9 369.2L367.1 367.6L367.5 367.2L367.7 365.9L366.6 364.9L359.3 364.1L358.6 364.7ZM368.1 367.3L368.2 366.0L372.9 363.7L377.1 370.3L376.9 370.6L371.4 370.9ZM373.2 363.5L373.3 363.3L378.1 361.0L382.4 365.9L382.3 368.5L377.4 370.2ZM389.2 369.7L391.1 363.1L387.2 361.8L383.0 366.0L382.8 368.5L384.3 369.8ZM290.8 375.5L292.0 370.9L286.2 372.3L282.9 377.6L283.6 378.0L285.5 377.9ZM297.6 375.0L294.1 379.1L291.4 375.4L292.4 370.9L293.2 370.1L296.5 370.5ZM302.1 377.5L298.1 374.9L297.0 370.4L298.3 369.5L302.2 369.6L304.8 371.7L304.9 375.0ZM305.4 375.0L310.1 377.1L312.1 374.9L310.2 369.9L305.4 371.8ZM319.7 370.3L317.9 374.8L312.5 374.7L310.6 369.7L311.2 368.4L317.7 368.0ZM325.5 369.8L320.2 370.5L318.4 375.0L319.4 377.6L320.9 378.7L327.2 377.2L328.1 375.4L326.5 370.2ZM327.0 370.2L328.6 375.3L332.5 375.4L335.9 375.1L331.4 368.2ZM332.1 367.6L338.0 368.8L339.1 372.5L338.7 373.2L336.5 375.0L336.1 374.9L331.7 368.1ZM346.4 372.2L345.3 371.1L339.7 372.7L339.2 373.5L346.1 379.8L347.0 380.0L347.0 379.9ZM352.4 371.6L346.8 372.0L347.3 379.9L354.1 373.4L354.1 373.3ZM354.7 373.3L354.7 373.4L357.1 376.7L358.2 376.9L362.3 373.9L359.5 369.9ZM359.9 369.8L362.6 373.6L364.4 374.0L364.6 373.9L367.2 367.9L359.9 369.5ZM369.9 375.1L371.0 371.1L367.8 367.6L367.5 368.0L364.9 374.0ZM370.4 375.4L373.1 380.3L373.2 380.3L376.6 373.8L377.0 371.0L371.5 371.4ZM377.4 370.9L377.6 370.6L382.5 369.0L384.0 370.3L384.3 375.2L382.6 377.6L382.6 377.6L377.2 373.6ZM389.3 370.2L384.4 370.3L384.7 375.2L390.4 377.3L391.7 371.6ZM291.3 380.6L285.4 378.4L283.6 378.4L286.8 385.1L287.1 385.2ZM293.7 380.1L293.8 379.4L291.1 375.8L285.6 378.2L291.5 380.2ZM302.1 381.7L301.9 378.0L297.9 375.4L294.4 379.5L294.3 380.3L295.5 382.3L299.7 384.5ZM307.4 382.1L310.0 379.6L310.0 377.5L305.2 375.4L302.4 377.9L302.6 381.6ZM310.6 379.5L310.6 377.4L312.5 375.2L317.9 375.2L318.9 377.8L314.2 381.8ZM324.4 383.7L328.2 380.5L327.3 377.6L321.1 379.1L321.2 379.8ZM327.7 377.6L328.5 375.8L332.5 376.0L332.4 383.2L332.3 383.3L331.5 383.3L328.8 380.5ZM332.8 375.9L336.0 375.5L336.4 375.5L337.1 380.0L332.6 383.2ZM336.8 375.5L337.5 380.0L338.6 380.6L345.9 380.0L339.0 373.7ZM354.2 373.6L356.7 377.1L354.3 380.1L347.7 380.9L347.4 380.2L347.4 380.1ZM361.6 381.8L361.5 381.8L356.5 383.2L354.9 380.2L357.1 377.3L358.2 377.5ZM361.9 381.6L358.5 377.3L362.6 374.2L364.4 374.5L364.5 381.8ZM369.9 375.7L372.8 380.5L372.8 380.6L365.4 382.1L364.8 381.8L364.7 374.5L364.9 374.4ZM376.8 374.0L382.4 377.9L374.2 380.6L373.4 380.4ZM381.4 385.3L374.2 380.8L382.5 378.1L382.6 378.1L384.0 382.6ZM390.2 377.8L392.0 381.2L389.4 382.9L384.5 382.5L383.0 378.0L384.7 375.6ZM293.8 380.5L295.0 382.6L289.9 387.2L289.7 387.3L287.4 385.4L291.6 380.8ZM299.5 384.9L295.3 382.8L290.1 387.4L296.8 389.2L299.6 386.2ZM308.5 385.8L303.0 388.7L300.2 386.1L300.1 384.8L302.5 382.1L307.3 382.5ZM309.1 385.7L312.1 388.2L314.8 387.0L314.0 382.3L310.4 379.9L307.8 382.5ZM320.7 380.0L320.6 379.2L319.1 378.1L314.5 382.1L315.2 386.9L318.1 387.7ZM324.1 385.4L318.6 388.0L318.3 387.8L320.9 380.1L324.1 384.1ZM324.7 385.3L327.6 387.6L331.3 383.6L328.4 380.8L324.7 384.0ZM332.7 383.6L332.8 383.5L337.2 380.5L338.2 381.1L339.6 386.4L334.9 386.9ZM338.7 381.0L340.0 386.4L340.8 386.9L344.6 385.6L347.3 384.1L347.2 381.2L346.9 380.5L346.1 380.3ZM356.1 383.5L354.4 380.4L347.7 381.2L347.9 384.2L350.2 386.9L355.4 384.9ZM358.5 387.7L356.0 385.1L356.6 383.7L361.5 382.2L359.2 387.3ZM362.0 382.2L361.9 382.2L359.5 387.4L365.2 388.1L365.2 388.1L365.0 382.6L364.5 382.3ZM370.2 389.2L372.7 384.4L372.8 380.9L365.5 382.6L365.6 388.1ZM373.3 380.9L373.2 380.9L373.2 384.4L377.8 391.0L378.8 390.9L381.1 387.1L381.1 385.6L374.1 381.0L373.3 380.9ZM381.6 387.2L388.4 390.2L388.8 389.6L389.4 383.4L384.4 383.0L381.7 385.7ZM289.3 387.7L288.9 392.8L284.7 394.2L282.2 394.1L275.9 392.4L286.7 385.7L287.0 385.8ZM289.7 387.8L289.4 392.7L290.6 393.5L295.8 392.7L296.6 389.5L290.0 387.7ZM302.6 389.1L304.3 392.7L297.5 394.3L296.4 392.7L297.2 389.6L299.9 386.5ZM308.7 386.2L311.9 388.6L309.6 393.2L306.6 394.2L304.9 392.6L303.2 389.1ZM318.2 388.5L319.5 391.1L319.1 392.2L314.3 396.2L313.8 396.0L310.1 393.3L312.4 388.7L315.1 387.5L317.9 388.2ZM324.4 385.7L327.4 388.0L327.6 392.1L327.3 392.4L320.1 391.0L318.7 388.3ZM328.0 392.1L333.8 391.3L334.6 387.3L332.3 383.9L331.6 383.9L328.0 387.9ZM335.1 387.4L339.6 386.8L340.3 387.3L340.0 391.2L335.1 392.2L334.2 391.4ZM343.7 394.8L344.5 386.2L340.7 387.4L340.5 391.2ZM344.0 394.9L343.9 394.8L344.8 386.2L347.6 384.5L349.8 387.4L350.3 390.0L348.0 392.8ZM358.3 388.2L357.1 393.1L357.1 393.1L350.9 389.9L350.3 387.3L355.6 385.3ZM358.7 388.3L357.5 393.1L362.4 395.4L365.1 388.5L359.4 387.9ZM370.0 389.6L370.7 390.9L366.7 395.2L362.7 395.5L362.7 395.4L365.4 388.7L365.4 388.6ZM370.5 389.5L371.3 390.8L374.5 392.7L377.6 391.2L373.0 384.6ZM388.2 391.4L388.3 390.5L381.5 387.4L379.2 391.2L382.0 394.4L388.0 391.9ZM282.2 394.6L286.4 408.3L287.0 400.0L284.7 394.8ZM289.1 393.2L285.0 394.6L287.4 399.8L291.1 397.1L290.2 394.0ZM290.7 393.9L291.6 397.1L294.1 400.0L297.3 397.6L297.1 394.7L296.0 393.1ZM304.5 393.0L306.2 394.6L304.9 398.6L303.2 400.1L297.8 397.7L297.7 394.7ZM313.4 396.3L309.7 393.7L306.7 394.7L305.4 398.6L309.5 401.3ZM314.5 396.5L319.3 392.5L320.6 397.3L316.2 399.5ZM327.3 392.8L327.1 397.6L324.9 399.1L321.1 397.2L319.6 392.4L320.0 391.3ZM328.1 392.5L333.8 391.8L334.7 392.6L335.8 397.8L331.3 399.8L327.6 397.6L327.8 392.8ZM343.5 395.1L343.5 395.1L340.3 391.6L335.2 392.5L336.3 397.8L338.9 398.7L343.5 395.2ZM351.6 398.5L348.0 393.4L344.1 395.3L344.0 395.3L347.4 401.2ZM351.9 398.3L353.2 398.3L356.9 393.4L350.7 390.2L348.4 393.2ZM353.5 398.6L354.5 400.1L359.0 402.3L362.2 399.1L362.2 395.8L362.2 395.8L357.3 393.6L357.3 393.6ZM366.8 395.8L362.8 395.8L362.7 399.2L366.2 402.4L372.9 399.0L372.8 398.7ZM367.1 395.5L371.0 391.2L374.4 393.1L373.0 398.4ZM373.4 398.5L373.5 398.8L375.8 401.4L381.8 397.9L381.6 394.7L378.8 391.4L377.9 391.6L374.8 393.2ZM389.6 398.0L387.6 399.5L383.6 398.7L382.4 397.9L382.1 394.8L388.2 392.2ZM314.2 396.8L313.7 396.6L309.8 401.5L315.9 409.5L315.8 399.9Z" fill="#fefdfe"/>
<path d="M366.5 364.8a0.36 0.36 0 1 0 0.73 0a0.36 0.36 0 1 0 -0.73 0M331.8 375.4a0.63 0.63 0 1 0 1.27 0a0.63 0.63 0 1 0 -1.27 0M354.5 354.8a0.34 0.34 0 1 0 0.68 0a0.34 0.34 0 1 0 -0.68 0M343.7 385.7a0.61 0.61 0 1 0 1.23 0a0.61 0.61 0 1 0 -1.23 0M320.6 352.2a0.40 0.40 0 1 0 0.79 0a0.40 0.40 0 1 0 -0.79 0M325.0 362.9a0.52 0.52 0 1 0 1.04 0a0.52 0.52 0 1 0 -1.04 0M317.9 388.1a0.43 0.43 0 1 0 0.86 0a0.43 0.43 0 1 0 -0.86 0M327.7 380.5a0.55 0.55 0 1 0 1.10 0a0.55 0.55 0 1 0 -1.10 0M316.0 360.6a0.36 0.36 0 1 0 0.73 0a0.36 0.36 0 1 0 -0.73 0M365.0 388.2a0.33 0.33 0 1 0 0.65 0a0.33 0.33 0 1 0 -0.65 0M337.1 380.4a0.41 0.41 0 1 0 0.82 0a0.41 0.41 0 1 0 -0.82 0M375.7 339.7a0.32 0.32 0 1 0 0.64 0a0.32 0.32 0 1 0 -0.64 0M321.5 341.3a0.41 0.41 0 1 0 0.81 0a0.41 0.41 0 1 0 -0.81 0M369.0 356.6a0.42 0.42 0 1 0 0.84 0a0.42 0.42 0 1 0 -0.84 0M349.2 349.6a0.41 0.41 0 1 0 0.82 0a0.41 0.41 0 1 0 -0.82 0M376.3 373.7a0.54 0.54 0 1 0 1.09 0a0.54 0.54 0 1 0 -1.09 0M312.2 375.1a0.49 0.49 0 1 0 0.97 0a0.49 0.49 0 1 0 -0.97 0M372.3 363.3a0.50 0.50 0 1 0 1.00 0a0.50 0.50 0 1 0 -1.00 0M316.2 361.0a0.47 0.47 0 1 0 0.95 0a0.47 0.47 0 1 0 -0.95 0M310.2 369.3a0.34 0.34 0 1 0 0.68 0a0.34 0.34 0 1 0 -0.68 0M309.9 379.7a0.47 0.47 0 1 0 0.94 0a0.47 0.47 0 1 0 -0.94 0M357.8 377.2a0.47 0.47 0 1 0 0.93 0a0.47 0.47 0 1 0 -0.93 0M336.0 375.1a0.49 0.49 0 1 0 0.99 0a0.49 0.49 0 1 0 -0.99 0M359.9 357.6a0.50 0.50 0 1 0 1.00 0a0.50 0.50 0 1 0 -1.00 0M361.2 347.9a0.45 0.45 0 1 0 0.89 0a0.45 0.45 0 1 0 -0.89 0M354.0 380.1a0.44 0.44 0 1 0 0.88 0a0.44 0.44 0 1 0 -0.88 0M361.4 381.8a0.50 0.50 0 1 0 1.01 0a0.50 0.50 0 1 0 -1.01 0M364.2 374.1a0.54 0.54 0 1 0 1.08 0a0.54 0.54 0 1 0 -1.08 0M342.1 344.8a0.43 0.43 0 1 0 0.85 0a0.43 0.43 0 1 0 -0.85 0M339.7 386.6a0.42 0.42 0 1 0 0.84 0a0.42 0.42 0 1 0 -0.84 0M301.9 377.9a0.44 0.44 0 1 0 0.89 0a0.44 0.44 0 1 0 -0.89 0M379.7 352.1a0.58 0.58 0 1 0 1.16 0a0.58 0.58 0 1 0 -1.16 0M311.0 359.1a0.41 0.41 0 1 0 0.81 0a0.41 0.41 0 1 0 -0.81 0M370.6 338.0a0.38 0.38 0 1 0 0.76 0a0.38 0.38 0 1 0 -0.76 0M370.6 371.2a0.60 0.60 0 1 0 1.20 0a0.60 0.60 0 1 0 -1.20 0M337.6 363.4a0.58 0.58 0 1 0 1.17 0a0.58 0.58 0 1 0 -1.17 0M349.6 387.2a0.58 0.58 0 1 0 1.17 0a0.58 0.58 0 1 0 -1.17 0M337.6 380.9a0.60 0.60 0 1 0 1.20 0a0.60 0.60 0 1 0 -1.20 0M323.6 384.1a0.56 0.56 0 1 0 1.12 0a0.56 0.56 0 1 0 -1.12 0M296.2 370.4a0.44 0.44 0 1 0 0.87 0a0.44 0.44 0 1 0 -0.87 0M330.7 339.8a0.48 0.48 0 1 0 0.97 0a0.48 0.48 0 1 0 -0.97 0M346.8 380.2a0.48 0.48 0 1 0 0.96 0a0.48 0.48 0 1 0 -0.96 0M302.5 389.1a0.47 0.47 0 1 0 0.95 0a0.47 0.47 0 1 0 -0.95 0M346.8 343.8a0.49 0.49 0 1 0 0.99 0a0.49 0.49 0 1 0 -0.99 0M346.3 380.3a0.58 0.58 0 1 0 1.16 0a0.58 0.58 0 1 0 -1.16 0M342.6 338.5a0.46 0.46 0 1 0 0.93 0a0.46 0.46 0 1 0 -0.93 0M373.5 350.0a0.44 0.44 0 1 0 0.88 0a0.44 0.44 0 1 0 -0.88 0M356.6 355.5a0.35 0.35 0 1 0 0.70 0a0.35 0.35 0 1 0 -0.70 0M352.2 371.0a0.53 0.53 0 1 0 1.05 0a0.53 0.53 0 1 0 -1.05 0M345.9 371.7a0.36 0.36 0 1 0 0.73 0a0.36 0.36 0 1 0 -0.73 0M320.0 379.1a0.57 0.57 0 1 0 1.14 0a0.57 0.57 0 1 0 -1.14 0M337.9 368.8a0.43 0.43 0 1 0 0.87 0a0.43 0.43 0 1 0 -0.87 0M372.4 363.5a0.37 0.37 0 1 0 0.74 0a0.37 0.37 0 1 0 -0.74 0M331.7 383.4a0.62 0.62 0 1 0 1.25 0a0.62 0.62 0 1 0 -1.25 0M301.5 342.5a0.42 0.42 0 1 0 0.84 0a0.42 0.42 0 1 0 -0.84 0M359.2 369.8a0.31 0.31 0 1 0 0.61 0a0.31 0.31 0 1 0 -0.61 0M304.6 371.9a0.35 0.35 0 1 0 0.71 0a0.35 0.35 0 1 0 -0.71 0M297.6 369.4a0.36 0.36 0 1 0 0.71 0a0.36 0.36 0 1 0 -0.71 0M296.5 359.5a0.64 0.64 0 1 0 1.28 0a0.64 0.64 0 1 0 -1.28 0M299.5 384.8a0.43 0.43 0 1 0 0.86 0a0.43 0.43 0 1 0 -0.86 0M380.7 339.9a0.63 0.63 0 1 0 1.26 0a0.63 0.63 0 1 0 -1.26 0M314.8 387.2a0.49 0.49 0 1 0 0.97 0a0.49 0.49 0 1 0 -0.97 0M344.9 358.5a0.38 0.38 0 1 0 0.75 0a0.38 0.38 0 1 0 -0.75 0M318.9 378.1a0.59 0.59 0 1 0 1.17 0a0.59 0.59 0 1 0 -1.17 0M372.0 345.8a0.58 0.58 0 1 0 1.15 0a0.58 0.58 0 1 0 -1.15 0M340.1 387.3a0.61 0.61 0 1 0 1.21 0a0.61 0.61 0 1 0 -1.21 0M352.5 364.8a0.38 0.38 0 1 0 0.76 0a0.38 0.38 0 1 0 -0.76 0M300.8 357.1a0.32 0.32 0 1 0 0.65 0a0.32 0.32 0 1 0 -0.65 0M364.3 373.9a0.63 0.63 0 1 0 1.25 0a0.63 0.63 0 1 0 -1.25 0M313.6 351.8a0.42 0.42 0 1 0 0.84 0a0.42 0.42 0 1 0 -0.84 0M308.5 365.2a0.40 0.40 0 1 0 0.79 0a0.40 0.40 0 1 0 -0.79 0M346.8 384.3a0.58 0.58 0 1 0 1.17 0a0.58 0.58 0 1 0 -1.17 0M366.7 367.9a0.41 0.41 0 1 0 0.83 0a0.41 0.41 0 1 0 -0.83 0M336.5 344.3a0.61 0.61 0 1 0 1.21 0a0.61 0.61 0 1 0 -1.21 0M334.7 351.1a0.50 0.50 0 1 0 1.01 0a0.50 0.50 0 1 0 -1.01 0M335.9 337.8a0.35 0.35 0 1 0 0.70 0a0.35 0.35 0 1 0 -0.70 0M365.6 359.5a0.33 0.33 0 1 0 0.66 0a0.33 0.33 0 1 0 -0.66 0M356.5 376.7a0.54 0.54 0 1 0 1.09 0a0.54 0.54 0 1 0 -1.09 0M329.8 352.6a0.40 0.40 0 1 0 0.80 0a0.40 0.40 0 1 0 -0.80 0M349.7 347.5a0.44 0.44 0 1 0 0.89 0a0.44 0.44 0 1 0 -0.89 0M302.7 340.8a0.45 0.45 0 1 0 0.89 0a0.45 0.45 0 1 0 -0.89 0M354.0 373.4a0.48 0.48 0 1 0 0.95 0a0.48 0.48 0 1 0 -0.95 0M349.3 349.5a0.38 0.38 0 1 0 0.77 0a0.38 0.38 0 1 0 -0.77 0M367.6 365.7a0.58 0.58 0 1 0 1.15 0a0.58 0.58 0 1 0 -1.15 0M330.7 343.9a0.37 0.37 0 1 0 0.74 0a0.37 0.37 0 1 0 -0.74 0M309.9 366.1a0.38 0.38 0 1 0 0.76 0a0.38 0.38 0 1 0 -0.76 0M335.9 375.2a0.46 0.46 0 1 0 0.91 0a0.46 0.46 0 1 0 -0.91 0M311.4 388.8a0.56 0.56 0 1 0 1.13 0a0.56 0.56 0 1 0 -1.13 0M329.1 356.5a0.63 0.63 0 1 0 1.27 0a0.63 0.63 0 1 0 -1.27 0M298.4 363.5a0.48 0.48 0 1 0 0.96 0a0.48 0.48 0 1 0 -0.96 0M327.1 387.8a0.35 0.35 0 1 0 0.70 0a0.35 0.35 0 1 0 -0.70 0M308.5 358.0a0.39 0.39 0 1 0 0.78 0a0.39 0.39 0 1 0 -0.78 0M380.9 385.4a0.52 0.52 0 1 0 1.04 0a0.52 0.52 0 1 0 -1.04 0M323.4 358.1a0.45 0.45 0 1 0 0.89 0a0.45 0.45 0 1 0 -0.89 0M301.8 381.7a0.61 0.61 0 1 0 1.23 0a0.61 0.61 0 1 0 -1.23 0M364.5 337.9a0.54 0.54 0 1 0 1.08 0a0.54 0.54 0 1 0 -1.08 0M371.6 353.2a0.54 0.54 0 1 0 1.07 0a0.54 0.54 0 1 0 -1.07 0M369.6 375.2a0.41 0.41 0 1 0 0.82 0a0.41 0.41 0 1 0 -0.82 0M333.7 345.5a0.52 0.52 0 1 0 1.05 0a0.52 0.52 0 1 0 -1.05 0M320.3 341.2a0.63 0.63 0 1 0 1.26 0a0.63 0.63 0 1 0 -1.26 0M353.5 341.2a0.60 0.60 0 1 0 1.20 0a0.60 0.60 0 1 0 -1.20 0M308.6 385.7a0.46 0.46 0 1 0 0.93 0a0.46 0.46 0 1 0 -0.93 0M359.6 357.6a0.56 0.56 0 1 0 1.13 0a0.56 0.56 0 1 0 -1.13 0M306.1 352.9a0.56 0.56 0 1 0 1.12 0a0.56 0.56 0 1 0 -1.12 0M356.6 346.5a0.54 0.54 0 1 0 1.09 0a0.54 0.54 0 1 0 -1.09 0M310.5 368.6a0.62 0.62 0 1 0 1.24 0a0.62 0.62 0 1 0 -1.24 0M342.8 342.8a0.46 0.46 0 1 0 0.92 0a0.46 0.46 0 1 0 -0.92 0M369.4 356.2a0.39 0.39 0 1 0 0.78 0a0.39 0.39 0 1 0 -0.78 0M377.2 370.5a0.38 0.38 0 1 0 0.75 0a0.38 0.38 0 1 0 -0.75 0M331.8 353.3a0.30 0.30 0 1 0 0.61 0a0.30 0.30 0 1 0 -0.61 0" fill="#a04cb0" fill-opacity="0.8"/>
<line x1="371.5" y1="385" x2="379" y2="385" stroke="#7a7a7a" stroke-width="1"/>
</g>
<rect x="296.2" y="337" width="86.3" height="52.2" fill="none" stroke="#555" stroke-width="0.8"/>
<clipPath id="cp2"><rect x="385.4" y="337" width="86.6" height="52.2"/></clipPath>
<rect x="385.4" y="337" width="86.6" height="52.2" fill="#ecdcf0"/>
<g clip-path="url(#cp2)">
<path d="M379.9 327.7L380.2 322.1L372.6 328.8L377.1 329.7ZM382.1 330.2L382.6 330.5L386.5 327.4L383.0 314.0L380.5 322.1L380.4 327.6ZM407.6 328.8L410.6 329.8L412.7 329.2L412.8 329.0L407.5 321.4L406.3 326.4ZM436.4 326.0L439.9 314.5L444.2 328.0L444.2 328.1L443.5 328.8L437.8 329.8ZM451.0 330.4L449.2 327.6L453.1 321.9L454.9 327.2L451.4 330.6ZM377.6 333.2L377.5 333.4L368.1 330.1L372.5 329.1L376.8 330.1ZM381.8 330.5L378.0 333.1L377.4 330.0L380.1 328.1ZM383.6 332.1L382.9 330.8L386.7 327.8L389.2 330.1L389.2 330.5L385.9 333.1ZM396.4 327.8L394.5 326.3L389.8 330.0L389.8 330.4L391.8 333.3L395.8 329.9ZM400.3 328.8L398.5 335.5L396.7 335.6L396.4 330.1L396.8 328.0L399.6 328.3ZM403.8 331.4L407.1 329.0L405.9 326.6L401.4 328.9ZM404.0 331.7L404.6 333.9L408.0 333.5L410.5 330.2L407.3 329.3ZM419.0 329.5L415.8 328.1L413.3 329.3L413.2 329.4L414.2 333.8L419.1 333.3ZM422.7 329.6L422.0 329.1L419.4 329.6L419.6 333.3L420.5 335.1L420.7 335.1L424.5 332.4ZM429.8 332.0L426.1 332.7L425.0 332.3L423.2 329.4L428.6 327.4L429.9 329.0ZM430.3 332.0L430.5 329.0L435.9 326.3L437.3 330.1L436.9 331.9L430.4 332.1ZM437.9 330.2L443.4 329.2L442.6 332.1L438.2 333.6L437.5 332.0ZM443.8 329.4L444.5 328.5L446.9 331.9L446.7 336.7L446.4 336.9L445.4 337.0L443.2 332.3ZM444.7 328.3L447.2 331.4L450.6 330.6L448.7 327.8L444.7 328.3ZM452.6 334.2L451.6 330.9L455.1 327.5L456.3 328.5L454.6 333.6ZM456.7 334.1L460.2 329.9L460.0 329.5L456.7 328.6L454.9 333.7ZM468.9 327.6L464.3 326.7L460.8 329.0L460.6 329.3L460.7 329.7L463.0 332.6L467.9 329.4ZM469.3 327.7L468.5 329.5L469.3 334.3L473.6 334.2L472.2 328.0L470.3 327.1ZM472.6 328.0L476.2 327.6L478.5 328.3L478.0 332.4L475.5 335.5L474.0 334.2ZM383.0 332.3L382.4 331.1L381.9 330.8L378.1 333.3L378.1 333.5L378.2 335.5L380.8 335.5ZM383.4 332.5L381.1 335.8L383.7 338.6L386.9 338.8L385.7 333.6ZM386.1 333.5L389.5 330.8L391.4 333.7L392.1 336.1L387.9 339.2L387.3 338.7ZM396.0 330.2L392.0 333.6L392.6 336.0L395.2 336.4L396.4 335.7ZM403.5 331.9L404.1 334.0L402.9 336.3L402.1 336.8L398.7 335.7L400.6 328.9L401.1 329.2ZM404.6 334.3L408.0 334.1L411.4 338.5L407.7 339.3L403.3 336.6ZM408.4 333.9L410.8 330.4L412.9 329.6L413.8 334.2L413.3 337.9L412.6 338.5L411.7 338.3ZM420.2 335.5L418.0 338.2L413.7 338.0L414.4 334.3L419.1 333.7ZM425.1 338.4L421.0 335.4L424.7 332.7L425.8 333.2ZM429.9 332.4L426.1 333.2L425.4 338.4L426.0 339.8L426.3 339.8L430.6 335.3L430.0 332.5ZM430.4 332.4L431.2 335.2L433.4 337.1L437.7 336.0L437.7 333.9L437.0 332.3ZM442.8 332.4L445.1 337.2L443.0 338.3L439.0 336.7L438.3 336.1L438.2 334.0ZM451.4 335.7L447.1 336.7L447.4 331.9L450.8 330.9L451.2 331.1L452.2 334.4ZM459.0 337.9L459.2 337.3L456.5 334.7L454.8 334.2L452.7 334.7L451.9 336.0L453.9 339.1ZM459.5 337.1L462.9 334.9L462.7 333.0L460.4 330.1L456.9 334.4ZM468.1 329.7L463.2 332.9L463.4 334.9L466.6 337.0L468.9 334.5ZM473.6 334.6L475.1 335.9L475.2 336.0L467.9 338.9L467.3 338.5L466.9 337.2L469.4 334.9ZM484.0 334.6L478.2 332.8L475.7 335.8L475.8 336.0L475.9 336.1L478.7 338.7ZM380.6 336.1L378.1 336.0L375.4 338.7L376.6 340.5L380.1 341.3L383.3 338.8ZM386.9 339.2L387.6 339.6L388.1 341.8L385.9 344.2L381.3 343.2L380.5 341.6L383.8 339.1ZM388.6 341.8L390.2 342.8L394.6 343.3L396.0 342.9L395.1 336.9L392.4 336.4L388.1 339.5ZM398.5 336.1L401.9 337.2L401.3 340.1L396.7 342.9L396.4 342.8L395.6 336.8L396.8 336.2ZM403.1 336.9L402.3 337.3L401.8 340.2L403.4 342.5L406.3 342.2L407.5 339.6ZM407.3 343.1L406.8 342.3L408.0 339.7L411.5 338.9L412.4 339.0L412.5 340.8L412.1 342.3ZM413.1 340.7L417.5 344.0L419.3 340.5L417.9 338.6L413.7 338.4L412.9 339.0ZM425.6 340.0L424.1 341.7L419.9 340.4L418.4 338.5L420.6 335.7L420.8 335.7L424.9 338.6ZM426.5 340.0L431.4 342.0L432.4 341.7L433.1 337.5L430.9 335.5ZM437.8 336.3L433.5 337.5L432.8 341.7L435.2 342.9L436.5 342.1L438.5 337.1ZM438.8 337.1L436.9 342.3L442.2 343.2L443.0 338.7ZM445.4 337.6L446.4 337.5L449.4 343.5L442.7 343.8L442.6 343.3L443.4 338.8ZM453.1 342.8L449.8 343.5L449.7 343.4L446.7 337.4L447.1 337.1L451.5 336.3L453.4 339.4ZM453.6 342.9L453.9 339.6L459.1 338.2L460.0 342.1L457.0 344.1L453.7 342.9ZM460.4 341.9L463.0 342.9L466.7 338.7L466.3 337.4L463.1 335.3L459.7 337.5L459.5 338.1ZM471.7 341.5L469.5 340.6L468.0 339.1L475.2 336.2L475.3 336.4ZM472.5 342.7L472.0 341.7L475.6 336.5L478.5 339.1L479.0 341.2L478.0 343.7ZM380.7 343.4L379.9 347.9L375.9 344.9L376.5 341.0L380.1 341.8ZM384.6 348.1L385.8 344.7L381.1 343.6L380.2 348.0L380.5 348.8ZM386.4 349.4L390.4 347.7L389.8 343.3L388.3 342.2L386.2 344.7L385.1 348.0ZM391.0 347.8L390.8 347.7L390.1 343.3L394.6 343.8L393.4 348.5ZM402.1 346.8L403.0 342.9L401.5 340.6L396.8 343.2L398.8 345.8ZM408.1 347.7L403.8 348.6L402.5 346.9L403.5 343.1L406.4 342.7L406.8 343.6ZM408.9 347.7L411.5 346.4L412.1 342.7L407.3 343.5L408.5 347.7ZM412.5 342.7L412.9 341.0L417.4 344.4L418.0 347.9L417.5 348.3L417.1 348.5L412.1 346.5ZM422.5 347.2L418.4 347.9L418.0 344.3L419.7 340.9L424.0 342.2L423.7 346.6ZM426.3 340.3L431.2 342.4L429.6 346.3L426.5 347.6L424.2 346.5L424.5 342.2L425.9 340.4ZM435.0 343.3L432.6 342.2L431.7 342.5L430.0 346.4L433.5 348.5L435.4 345.7ZM442.2 344.1L442.1 345.2L440.0 347.5L436.0 345.7L435.5 343.3L436.8 342.6L442.1 343.6ZM446.4 348.4L442.7 345.3L442.8 344.1L449.4 343.8L449.5 343.9L449.0 346.0ZM453.2 343.3L450.0 344.0L449.6 346.1L453.0 350.4L453.1 350.3L453.3 343.3ZM453.6 343.3L453.3 350.3L457.0 346.0L456.8 344.5ZM460.2 342.5L462.7 343.3L464.0 345.8L458.7 347.2L457.6 345.9L457.4 344.4ZM469.1 340.9L467.6 339.4L467.0 338.9L463.3 343.2L464.4 345.6L465.0 346.3L466.6 346.1ZM470.6 347.0L466.9 346.2L469.4 341.1L471.5 342.0L472.0 343.0ZM471.2 347.6L476.3 348.5L478.5 346.9L477.9 344.1L472.4 343.1L470.9 347.2ZM379.2 350.7L375.7 352.1L368.2 349.8L375.6 345.3L379.6 348.3L380.0 349.0ZM386.7 351.9L386.1 349.9L384.8 348.5L380.6 349.2L379.8 350.9L382.6 355.2L383.7 355.5L386.6 352.1ZM390.3 351.8L390.6 348.2L390.5 348.2L386.6 349.7L387.2 351.7ZM408.6 348.3L409.4 351.1L406.1 354.2L406.0 354.1L403.7 349.6L403.9 349.1L408.2 348.2ZM409.0 348.2L410.0 351.0L411.0 352.3L416.3 350.8L417.0 348.8L411.8 346.8ZM422.5 347.7L418.5 348.3L417.9 348.7L421.7 353.5L422.7 352.6ZM424.2 352.9L423.1 352.5L422.8 347.7L424.0 347.1L426.3 348.2L426.7 349.4L425.0 352.8ZM429.8 352.2L429.7 352.2L427.3 349.4L426.8 348.1L429.8 346.8L433.3 348.9L433.4 349.9L430.1 352.1ZM437.1 350.3L439.6 349.5L439.8 347.9L435.8 346.1L433.9 348.8L434.0 349.7L434.4 350.1ZM441.9 352.2L440.2 349.6L440.3 348.0L442.4 345.6L446.1 348.8L446.3 352.9L442.6 352.5ZM452.8 352.0L452.8 350.7L449.3 346.4L446.6 348.9L446.7 352.9L447.2 353.4ZM458.3 347.7L459.5 352.1L459.5 352.2L454.2 352.5L453.4 352.0L453.4 350.7L453.5 350.6L457.2 346.3ZM458.8 347.6L459.9 352.0L463.6 350.5L464.6 346.8L464.1 346.1ZM470.7 347.9L469.8 352.2L466.5 352.6L464.1 350.6L465.1 346.8L466.8 346.7L470.4 347.4ZM471.1 348.0L470.2 352.3L472.1 353.9L475.4 352.7L476.3 349.0ZM488.8 352.0L478.8 347.3L476.8 349.0L475.9 352.7L476.7 353.4ZM379.4 351.2L375.8 352.6L376.5 357.0L380.2 357.0L382.2 355.5ZM389.2 356.2L386.9 352.4L383.9 355.9L386.6 359.4L388.0 359.2L389.0 357.7ZM406.3 354.5L409.7 351.5L410.7 352.8L411.1 358.1L407.3 357.7ZM416.6 355.3L416.5 351.1L411.0 352.9L411.5 358.1L412.1 358.5L412.5 358.6L412.6 358.5L414.5 357.6ZM419.6 355.2L417.1 354.9L416.8 351.0L417.4 349.1L417.7 348.9L421.5 353.7L421.2 354.3ZM430.4 352.4L433.7 350.1L434.1 350.5L434.7 354.1L433.3 353.8ZM446.7 354.6L446.8 353.7L446.2 353.3L442.8 353.1L442.3 354.6L441.9 357.2L442.2 357.4ZM447.7 357.4L449.0 358.9L451.2 359.3L453.9 355.4L453.8 352.9L452.9 352.4L447.3 353.8L447.3 354.7ZM454.3 352.9L459.5 352.5L460.3 356.5L458.1 360.4L454.5 355.4ZM460.7 356.4L465.6 357.5L466.1 353.0L463.7 351.0L460.0 352.4L460.0 352.4ZM471.8 354.4L469.9 352.7L466.6 353.1L466.0 357.6L466.4 358.3L470.0 358.4L471.5 357.4ZM476.3 353.8L475.6 353.1L472.3 354.3L472.0 357.3L474.7 358.7L477.3 356.3ZM377.1 362.3L374.8 361.8L374.0 361.1L376.3 357.5L380.1 357.4L380.0 360.8ZM386.2 359.6L383.6 356.1L382.5 355.8L380.6 357.4L380.6 360.6L384.7 362.0ZM389.2 360.3L393.4 360.2L393.8 362.3L390.7 362.4ZM401.2 358.4L403.0 360.9L404.7 360.3L406.3 358.4L403.1 357.1ZM405.2 360.6L407.2 365.9L407.5 365.9L411.7 358.9L411.0 358.5L407.3 358.3L406.7 358.6ZM414.9 358.1L412.7 358.9L418.1 364.0L418.2 363.9L418.5 361.5L416.5 359.2ZM421.5 359.2L416.8 359.0L419.0 361.3L421.5 360.2L421.9 359.6L421.9 359.5ZM447.3 357.8L448.6 359.3L447.4 364.6L443.7 361.1L443.6 360.7L443.8 360.3ZM448.9 359.5L451.1 359.8L452.0 360.6L448.9 365.9L447.8 365.1L447.7 364.6ZM454.3 355.7L457.8 360.7L457.7 361.8L455.6 362.2L452.6 360.4L451.6 359.6ZM460.6 356.9L465.5 357.9L465.9 358.6L464.0 363.4L458.5 362.0L458.3 361.9L458.4 360.7ZM466.3 358.7L464.4 363.5L464.5 363.7L469.8 364.1L470.5 363.2L469.9 359.0ZM471.8 357.8L470.3 358.9L470.9 363.1L476.0 362.6L474.4 359.2ZM486.4 360.2L477.0 362.9L476.4 362.6L475.0 359.1L477.6 356.7ZM377.2 362.9L374.8 362.2L375.0 367.7L380.0 366.4L380.0 366.3ZM384.2 365.2L380.4 366.1L377.4 362.7L380.4 361.1L384.5 362.4ZM390.5 366.4L390.1 362.7L388.8 360.4L388.0 359.8L386.6 360.0L385.1 362.4L384.7 365.1L386.9 367.7ZM391.0 366.5L393.3 366.9L394.6 366.2L395.4 364.5L393.9 362.7L390.7 362.8ZM401.8 366.5L400.4 363.5L398.5 363.1L396.0 364.6L395.1 366.3L398.8 368.9ZM404.7 367.3L406.9 366.1L404.8 360.8L403.0 361.5L400.9 363.4L402.3 366.3ZM413.2 367.1L411.9 368.1L407.8 366.1L411.9 359.0L412.3 359.1L413.6 366.1ZM413.9 366.0L412.5 359.1L412.6 359.1L417.9 364.1L417.8 364.3ZM449.3 366.3L449.1 366.1L452.2 360.7L455.4 362.6L452.0 366.3ZM452.4 366.6L455.7 362.8L457.9 362.3L458.1 362.5L458.0 368.7L456.0 370.7L455.1 370.5ZM458.4 368.8L458.4 362.4L463.9 363.9L464.0 364.0L464.1 368.3L463.0 369.2ZM464.5 364.0L469.8 364.5L470.6 367.6L468.1 370.0L464.6 368.4ZM473.6 368.0L476.3 364.7L476.5 363.3L476.0 363.0L471.0 363.5L470.3 364.4L471.1 367.4ZM379.4 370.4L380.0 366.7L375.0 368.2L373.6 371.3L375.4 372.1ZM386.5 368.0L386.4 369.1L385.2 371.1L382.8 372.3L379.9 370.4L380.5 366.7L380.6 366.6L384.4 365.6ZM390.7 366.9L393.1 367.4L393.3 372.2L391.6 372.8L387.0 369.1L387.1 368.1ZM398.6 370.8L397.5 372.6L396.7 373.3L395.0 372.8L393.7 372.2L393.5 367.5L394.9 366.7L398.6 369.4ZM404.6 372.0L399.1 370.7L399.2 369.2L402.1 366.9L404.6 367.8ZM408.7 374.0L410.8 373.8L411.2 373.0L411.7 368.5L407.6 366.5L407.2 366.5L405.0 367.8L405.1 372.1L405.3 372.7ZM416.2 369.0L413.5 367.7L412.2 368.5L411.7 373.0L417.5 372.2L416.8 369.8ZM419.4 368.7L417.4 369.5L416.7 368.8L418.8 367.2L420.0 368.1ZM448.4 369.1L449.5 373.1L446.3 373.3L445.9 372.2L445.9 370.7ZM448.8 368.9L449.2 366.7L452.0 366.9L454.8 370.8L450.8 373.6L449.9 373.0ZM456.3 371.0L458.3 369.2L462.9 369.6L462.3 372.9L461.0 374.3L456.3 371.1ZM462.8 372.9L468.3 374.8L468.6 372.7L467.9 370.5L464.4 368.8L463.4 369.7ZM474.9 371.5L469.0 372.6L468.5 370.3L471.0 368.0L473.4 368.5ZM475.3 371.3L475.4 371.4L479.5 369.9L476.6 364.9L473.9 368.4ZM378.0 377.4L375.5 372.5L379.6 370.8L382.5 372.7L381.7 376.1L378.6 377.5ZM388.6 377.0L385.4 371.6L383.0 372.8L382.2 376.2L386.8 379.0L388.6 377.3ZM391.4 373.1L386.8 369.4L385.6 371.5L388.9 376.9ZM404.4 373.2L402.3 374.4L398.0 372.9L399.1 371.0L404.5 372.3L404.8 372.9ZM404.2 378.9L404.8 373.6L405.2 373.2L408.5 374.5L406.2 379.5ZM418.8 373.5L415.3 377.3L412.8 376.6L411.3 374.1L411.7 373.3L417.5 372.6L418.5 373.2ZM419.1 373.8L415.6 377.5L417.4 379.3L421.6 377.1L421.7 375.3L421.5 375.1ZM445.3 372.4L441.8 371.7L442.1 372.6L444.8 375.0L445.9 373.5ZM446.4 373.8L445.2 375.4L445.1 375.6L447.6 378.8L449.8 379.2L450.9 377.2L450.6 374.1L449.6 373.5ZM455.0 371.1L455.8 371.2L455.9 371.3L456.1 376.2L453.9 377.1L451.4 377.1L451.1 373.9ZM456.2 371.3L456.6 376.3L460.3 378.1L460.7 377.6L460.9 374.7ZM462.7 373.2L468.1 375.1L468.3 375.7L466.8 377.5L461.2 377.6L461.5 374.7ZM468.8 375.6L472.4 376.9L475.2 375.3L475.1 371.8L475.0 371.8L469.1 372.9L468.7 375.0ZM475.8 375.2L479.9 377.4L489.6 371.8L479.8 370.3L475.6 371.7ZM377.8 378.0L374.5 381.1L376.7 384.5L381.6 382.9L378.4 378.1ZM385.6 383.4L383.3 383.2L382.1 382.8L378.8 377.9L382.0 376.5L386.6 379.4L386.1 382.6ZM391.0 383.0L386.6 382.6L387.2 379.4L389.0 377.8L391.7 378.7L392.2 381.6L391.6 382.6ZM406.5 379.7L407.7 382.0L410.5 382.3L412.4 376.9L410.9 374.3L408.8 374.6ZM412.7 377.1L410.8 382.4L412.4 384.2L417.0 382.2L416.9 379.7L415.2 377.9ZM421.5 383.0L422.5 378.8L421.7 377.5L417.5 379.7L417.5 382.2L419.2 383.4ZM421.9 383.1L425.1 385.0L427.1 383.5L425.7 379.9L422.9 378.8ZM430.3 379.6L430.3 383.2L430.7 383.4L431.9 383.6L432.9 379.7L431.4 378.8ZM439.7 379.1L436.1 382.2L435.5 383.6L439.5 384.3L441.5 380.9L440.4 379.3ZM447.2 379.1L444.7 375.9L442.5 377.1L440.9 379.0L442.0 380.6L443.6 381.1ZM448.5 385.1L444.5 382.6L443.9 381.5L447.5 379.4L449.7 379.7L451.1 383.4ZM451.5 383.3L452.5 383.8L457.4 382.9L453.8 377.7L451.3 377.6L450.2 379.6ZM454.1 377.5L457.7 382.7L459.3 382.8L459.4 382.7L460.1 378.6L456.4 376.7ZM461.1 378.0L460.6 378.6L459.8 382.7L463.1 383.6L467.0 381.0L466.8 377.9ZM467.3 377.9L467.6 380.9L469.7 382.5L473.0 382.2L472.2 377.4L468.6 376.0ZM472.7 377.4L475.6 375.7L479.6 377.9L478.2 383.0L477.9 383.3L475.2 383.5L473.4 382.2ZM383.0 383.7L381.7 383.2L376.9 384.8L376.9 386.4L379.0 388.8ZM386.4 387.4L379.4 389.4L379.2 389.0L383.2 383.8L385.6 383.8ZM391.1 383.5L386.6 383.0L386.1 383.8L387.0 387.4L387.4 388.0L393.5 389.0L393.9 388.8L393.9 388.4ZM404.4 388.5L404.8 384.8L401.0 382.6L400.3 384.1L402.6 388.0ZM405.0 389.0L404.8 388.6L405.3 384.8L407.6 382.5L410.4 382.8L412.0 384.6L412.1 387.4L406.2 389.3ZM412.6 384.7L417.1 382.6L418.9 383.9L418.3 389.1L414.4 389.6L412.6 387.4ZM421.6 383.6L424.8 385.4L424.6 387.2L419.9 389.7L418.7 389.1L419.3 383.9ZM430.4 383.9L429.5 388.4L426.2 388.7L425.1 387.1L425.4 385.4L427.4 383.9L429.9 383.7ZM432.0 384.2L433.6 384.8L434.3 388.3L432.0 390.8L429.9 388.4L430.8 384.0ZM441.2 388.7L438.3 389.8L434.8 388.3L434.0 384.7L435.4 384.0L439.3 384.8ZM443.5 381.7L441.8 381.2L439.8 384.6L441.5 388.5L442.7 388.8L444.0 382.9ZM448.3 385.5L446.4 388.2L443.5 389.2L442.9 388.9L444.2 383.0ZM448.8 385.6L446.9 388.2L449.0 389.9L453.2 388.9L452.3 384.3L451.2 383.8ZM455.4 391.3L455.6 391.3L458.7 389.3L459.2 383.3L457.6 383.3L452.7 384.3L453.7 388.9ZM459.2 389.3L461.3 390.3L466.3 390.4L466.6 388.8L463.1 384.2L459.8 383.2L459.6 383.3ZM467.3 381.4L463.4 384.0L466.9 388.6L467.4 388.2L469.5 383.0ZM473.1 382.7L474.9 383.9L473.2 387.0L473.2 387.0L467.7 388.3L469.9 383.0ZM475.3 384.0L477.9 383.8L478.9 386.7L477.2 389.5L473.7 387.1ZM378.7 389.3L376.6 386.8L368.4 390.9L375.9 395.1L378.7 393.6L378.9 389.8ZM386.9 388.4L385.3 393.8L382.9 394.7L379.2 393.7L379.4 389.8L386.5 387.7ZM387.3 388.4L385.8 393.9L388.9 395.7L392.5 392.8L393.5 389.3ZM393.9 389.4L393.1 392.8L395.4 395.8L399.5 394.6L396.4 389.7L394.3 389.2ZM401.4 395.3L399.9 394.5L396.8 389.5L398.5 388.7L402.5 388.6L404.3 388.9L404.5 389.3ZM407.4 396.1L408.4 393.7L406.0 389.8L404.8 389.5L401.7 395.4L402.2 396.5ZM408.9 393.5L413.0 392.7L413.3 392.4L414.0 390.0L412.3 387.8L406.4 389.6ZM413.9 392.5L414.5 390.0L418.4 389.6L419.5 390.2L420.4 392.4L418.0 395.4ZM425.8 389.2L424.8 387.5L420.0 390.1L421.0 392.4L425.1 394.8L426.6 394.1ZM429.6 388.9L426.2 389.2L427.0 394.2L429.9 394.6L430.8 394.2L431.7 391.2ZM434.6 388.8L438.1 390.2L436.7 396.1L431.3 394.3L432.3 391.2ZM441.4 389.1L438.6 390.3L437.1 396.1L437.3 396.4L443.7 395.6L444.0 394.9L443.1 389.7L442.6 389.4ZM448.6 390.3L446.7 388.7L443.6 389.6L444.4 394.9L449.5 394.0ZM455.1 391.6L451.2 394.6L450.0 394.0L449.1 390.3L453.2 389.4ZM455.8 391.7L458.9 389.8L461.0 390.8L460.5 395.4L457.7 394.9ZM467.5 393.7L466.3 390.8L461.4 390.8L460.9 395.5L462.2 396.4L467.1 394.4ZM467.9 393.5L473.7 393.6L473.2 387.4L467.7 388.7L467.1 389.1L466.8 390.6ZM473.5 387.5L477.0 390.0L476.3 393.4L475.3 393.9L474.8 393.9L474.1 393.5L473.5 387.5ZM477.5 389.9L476.6 393.4L485.3 392.7L479.2 387.1ZM389.1 396.1L391.9 403.7L395.2 396.2L392.7 393.2ZM412.6 402.4L413.1 393.1L408.9 394.0L407.9 396.4ZM413.0 402.5L413.3 393.2L413.6 392.8L417.9 396.0L418.4 407.7L416.8 414.0ZM418.6 407.7L425.0 395.2L420.7 392.8L418.3 395.9ZM455.3 391.9L455.5 391.9L457.3 395.3L453.2 405.0L451.5 395.0ZM468.0 394.0L473.8 394.0L474.6 394.3L469.9 410.1L467.7 394.7ZM440.8 369.4L440.2 367.1L438.7 365.5L436.8 366.2L436.1 369.3L439.0 370.9L440.5 370.2ZM429.2 373.5L428.5 373.4L426.1 371.4L425.8 369.1L427.2 369.4L429.3 373.0ZM421.8 358.7L419.9 355.7L421.5 354.8L423.3 356.2L423.2 356.5L422.1 359.1ZM448.3 368.6L448.8 366.6L448.6 366.4L447.6 365.6L447.1 365.8L444.1 369.2L445.8 370.2ZM441.4 369.7L442.2 369.6L443.6 369.6L445.4 370.5L445.4 372.1L441.8 371.4L441.0 370.4ZM422.0 374.7L422.2 374.9L423.2 374.5L425.5 371.4L425.5 369.1L425.2 368.9L424.7 368.6L422.8 370.9ZM423.4 374.7L425.6 374.9L428.3 373.7L425.8 371.6ZM437.9 362.1L438.4 362.5L439.9 360.7L437.3 359.5L436.8 360.7ZM425.8 354.5L425.7 353.8L427.7 354.0L427.2 355.2L426.0 354.9ZM429.2 374.0L428.6 374.0L425.8 375.3L427.6 377.6L428.5 377.3L429.6 375.0L429.6 374.5ZM442.0 372.8L441.5 374.7L442.5 376.5L444.5 375.5L444.6 375.2ZM421.3 370.1L422.6 370.5L424.5 368.4L424.4 368.3L422.1 367.7L421.1 368.1ZM441.2 374.9L442.1 376.9L440.6 378.8L439.9 378.5L439.1 377.7L439.6 375.1ZM423.7 355.6L423.5 355.7L421.8 354.5L422.0 353.9L423.0 353.1L424.0 353.4L423.9 355.1ZM421.5 358.9L416.7 358.7L415.0 357.8L417.0 355.4L419.4 355.7ZM443.5 365.2L442.9 362.9L443.5 361.4L447.3 364.8L447.4 365.2L446.8 365.3L445.2 365.2ZM419.5 371.1L418.8 372.8L417.9 372.2L417.4 369.9L419.5 369.1ZM428.0 358.0L427.7 355.4L428.1 354.1L429.6 352.8L429.7 352.8L430.6 356.2L430.7 356.8L428.2 358.5ZM425.8 353.4L425.4 353.0L427.0 349.6L429.3 352.5L427.8 353.6ZM423.6 360.0L422.4 359.8L422.1 360.5L422.4 363.2L424.7 363.8L424.8 363.7L425.8 360.5ZM425.7 357.1L424.9 356.2L424.1 356.1L423.8 356.2L423.8 356.4L424.7 357.1ZM429.9 379.5L428.4 377.9L427.6 378.1L426.1 379.7L427.5 383.3L430.0 383.2ZM434.4 374.8L436.2 375.4L436.9 377.0L433.9 376.9L433.7 376.7L434.2 374.8ZM424.3 355.0L424.4 353.4L425.0 353.4L425.2 353.7L425.3 354.3ZM420.2 367.7L419.1 366.7L418.3 364.7L418.4 364.5L418.6 364.4L420.9 364.5L421.7 367.3L420.7 367.7ZM435.6 369.1L435.2 369.3L434.1 369.5L432.4 367.0L433.0 366.5L435.1 365.8L436.4 366.2ZM435.5 382.2L435.1 383.5L433.8 384.3L432.2 383.7L433.3 379.7L433.9 379.3L435.0 379.8ZM429.6 373.6L430.0 374.0L432.0 373.5L433.1 371.0L430.5 370.9L429.8 373.1ZM427.9 359.9L428.5 360.7L428.9 363.9L428.8 364.2L425.2 363.8L426.3 360.6ZM433.5 377.4L433.6 378.8L433.1 379.2L431.7 378.4L432.2 377.2L433.3 377.1ZM441.2 369.3L442.0 369.1L444.9 365.7L443.1 365.6L440.7 366.9ZM433.4 371.1L433.4 371.1L432.5 373.6L434.0 374.3L434.1 374.2L434.7 372.8ZM429.4 372.9L427.4 369.2L428.3 369.2L429.6 369.2L430.2 370.5ZM438.7 362.7L440.4 360.9L440.5 360.7L443.0 360.8L443.1 361.2L442.4 362.6L439.0 364.3ZM430.2 379.0L428.7 377.6L430.0 375.2L431.7 377.1L431.2 378.3ZM435.8 372.9L437.5 372.9L436.4 375.0L434.5 374.4L435.2 373.0ZM436.4 360.3L436.9 359.2L437.2 358.0L434.1 357.6L433.9 357.7L434.4 360.2ZM438.7 371.2L438.1 372.2L437.6 372.5L436.0 372.4L435.5 369.8L436.0 369.6ZM433.9 360.3L433.6 357.8L432.6 357.7L431.6 361.0L432.9 361.6L433.2 361.5ZM431.1 356.2L431.2 356.8L432.6 357.1L433.5 357.3L433.7 357.1L434.7 354.6L434.7 354.5L433.2 354.4ZM430.7 367.1L429.7 368.7L428.2 368.7L429.0 365.2L429.0 365.2ZM440.2 360.2L439.4 358.1L439.0 357.7L438.5 357.4L437.7 358.0L437.5 359.1L440.0 360.4ZM447.1 357.6L443.7 360.0L442.4 357.6L446.9 354.9ZM437.8 354.7L435.9 354.3L437.2 351.8L438.0 354.5ZM440.5 366.6L443.0 365.2L442.5 363.0L439.1 364.6L439.0 365.1ZM428.5 358.9L430.8 357.2L432.3 357.6L431.2 360.9L428.9 360.2L428.3 359.5ZM437.6 362.3L434.6 362.8L433.5 361.8L434.4 360.6L436.3 360.8ZM434.2 363.2L435.0 365.3L432.8 366.0L432.4 363.4L433.0 362.2L433.3 362.1ZM438.6 356.9L438.3 354.9L438.5 354.7L441.6 352.7L442.4 353.0L441.7 354.6L439.1 357.1ZM435.2 369.9L435.6 372.3L434.9 372.5L433.7 370.9L434.2 370.1ZM437.3 357.6L434.1 357.2L435.2 354.7L435.7 354.7L437.7 355.1L438.2 357.0ZM424.6 364.3L424.6 368.0L422.0 367.2L421.3 364.5L422.3 363.7ZM431.9 363.6L429.3 364.4L429.2 364.6L429.3 365.0L430.9 366.8L431.9 366.7L432.5 366.1ZM439.8 357.6L441.4 357.2L441.8 354.8L439.3 357.3ZM435.2 379.2L434.1 378.9L434.0 377.3L436.9 377.3L436.9 377.4ZM424.5 357.6L423.4 356.7L422.4 359.2L422.4 359.3L423.5 359.4ZM420.9 370.1L420.7 368.2L420.3 368.3L419.9 369.0L419.9 370.8ZM437.8 373.1L436.8 375.3L437.3 376.9L437.3 377.0L438.7 377.6L439.3 374.9L438.3 372.7ZM435.1 354.2L435.6 354.1L437.0 351.7L437.1 350.8L434.4 350.5L435.0 354.1ZM425.2 364.2L428.6 364.7L428.7 365.0L428.6 365.1L425.5 368.3L425.0 368.1L424.9 368.0L425.0 364.3ZM421.7 360.6L419.0 361.7L418.6 364.0L421.0 364.0L421.9 363.3ZM424.2 355.7L425.1 355.8L425.6 355.2L425.3 354.7L424.4 355.3ZM438.3 354.4L437.5 351.5L437.5 350.8L439.7 349.9L441.5 352.4ZM437.7 362.7L438.3 363.1L438.5 364.4L438.5 365.0L436.7 365.7L435.4 365.4L434.7 363.2ZM438.6 378.1L437.2 377.5L435.4 379.4L435.9 382.0L439.5 378.8ZM445.0 365.8L446.8 365.7L443.9 369.0L442.2 369.2ZM427.7 358.1L427.2 355.6L426.0 355.4L425.5 356.2L426.2 356.9ZM430.0 352.7L430.9 356.0L433.0 354.0L430.3 352.7ZM423.3 375.1L425.3 375.5L427.2 377.8L425.7 379.4L422.9 378.3L422.2 377.2L422.2 375.4ZM432.6 362.0L431.2 361.4L428.9 360.6L429.2 364.0L431.9 363.2ZM433.8 369.7L432.1 367.2L431.1 367.4L430.0 369.0L430.7 370.4L433.2 370.6L433.2 370.6ZM430.2 374.4L430.2 374.9L432.0 376.7L433.2 376.6L433.7 374.7L432.2 374.0ZM427.5 358.4L426.1 357.5L425.0 357.6L423.9 359.6L426.1 360.1L427.7 359.4L427.9 358.8ZM425.7 368.5L428.8 365.2L427.8 368.8L427.1 368.8L425.9 368.7ZM440.7 370.7L441.3 371.7L441.6 372.5L441.1 374.3L439.6 374.5L438.7 372.4L439.2 371.4ZM440.6 360.2L443.1 360.4L443.3 360.1L442.0 357.9L441.7 357.7L439.9 358.0ZM421.0 370.6L422.3 370.9L421.7 374.7L419.3 373.3L419.1 373.0L420.0 371.4ZM416.4 368.6L413.6 367.3L414.1 366.4L417.9 364.7L418.6 366.9ZM394.4 359.6L393.9 360.2L394.3 362.3L395.7 364.2L398.2 362.7L397.8 361.2ZM390.9 352.0L393.4 351.8L394.4 350.5L394.4 350.2L393.4 349.0L391.0 348.3L390.7 351.9ZM393.8 356.5L397.0 355.6L393.8 352.9L393.4 355.0ZM394.0 356.8L397.0 355.8L397.8 355.8L398.2 357.4L394.4 358.9L393.9 356.9ZM389.5 357.9L388.3 359.5L389.2 360.0L393.4 359.9L393.9 359.3L393.9 359.2L393.4 357.1ZM392.4 354.7L390.9 353.5L391.0 352.4L393.4 352.3L393.4 352.8L393.0 354.8ZM390.3 355.7L392.2 355.3L392.9 355.2L393.4 356.7L393.4 356.8L389.5 357.6L389.8 356.2ZM394.8 349.9L393.8 348.5L395.0 343.8L396.2 343.4L396.5 343.5L398.3 346.0L397.3 347.7ZM389.9 355.3L390.3 353.5L390.5 352.4L390.3 352.3L387.2 352.0L387.1 352.3L389.5 355.9ZM399.4 353.2L394.9 350.7L393.8 352.2L394.0 352.7L397.1 355.4L397.9 355.4ZM399.9 357.7L398.7 357.5L398.6 357.3L398.4 355.7L399.7 353.4L400.0 353.3L401.6 354.9L402.0 355.7ZM400.2 352.5L403.2 349.4L403.4 348.9L402.1 347.3L398.8 346.2L397.8 348.0ZM399.9 358.3L398.7 358.0L398.4 361.1L398.6 362.5L400.5 363.0L402.6 361.1L400.7 358.6ZM400.2 357.9L402.2 356.0L402.8 356.9L401.0 358.1ZM402.6 355.8L402.1 354.9L405.8 354.6L405.8 354.7L407.0 357.8L406.4 358.1L403.3 356.7ZM390.2 355.4L390.7 353.9L392.1 355.0ZM399.7 352.8L399.9 352.6L397.5 348.2L395.0 350.3L395.0 350.5L399.5 352.9ZM400.3 353.0L400.4 352.8L403.4 349.7L405.7 354.3L401.9 354.5ZM398.2 357.7L394.5 359.2L394.5 359.3L397.9 360.9L398.3 357.9ZM401.8 375.2L402.0 374.7L397.9 373.1L397.0 373.7L397.8 377.5ZM394.9 381.9L394.9 382.0L394.2 383.4L394.9 385.8L396.2 383.8L396.3 381.9ZM402.4 388.1L398.5 388.3L399.4 384.9L400.1 384.3ZM394.4 388.4L394.4 388.7L396.4 389.1L398.0 388.3L399.0 384.8L396.5 384.3L395.1 386.3ZM391.4 383.4L394.1 388.3L394.7 385.9L393.8 383.8L392.0 383.0ZM392.1 382.7L392.7 381.9L394.5 381.8L393.8 383.2ZM394.6 380.4L395.1 381.4L396.5 381.4L398.3 379.6L397.5 378.0L397.5 378.0ZM401.9 375.5L398.0 377.8L398.0 377.8L398.8 379.4L400.3 380.2L402.2 379.1ZM394.0 380.4L394.6 381.4L394.6 381.5L392.6 381.4L392.0 378.7L392.9 378.7L393.0 378.7ZM392.7 378.1L394.6 373.3L393.4 372.7L391.7 373.4L389.2 377.0L389.1 377.3L391.8 378.2ZM397.3 377.6L397.4 377.6L397.4 377.6L396.7 373.9L394.9 373.4L393.1 378.2L393.2 378.2ZM403.9 378.8L402.6 378.9L402.3 375.4L402.5 375.0L404.6 373.5ZM400.1 380.7L400.6 382.4L399.9 383.7L399.2 384.3L396.7 383.8L396.8 381.8L398.6 379.9ZM394.4 380.2L393.3 378.5L397.3 377.9ZM404.0 379.4L402.7 379.5L400.6 380.5L401.2 382.3L405.0 384.4L407.2 382.2L405.9 380.0Z" fill="#fefdfe"/>
<path d="M423.0 359.9a0.61 0.61 0 1 0 1.21 0a0.61 0.61 0 1 0 -1.21 0M400.5 382.5a0.39 0.39 0 1 0 0.78 0a0.39 0.39 0 1 0 -0.78 0M422.3 347.4a0.53 0.53 0 1 0 1.06 0a0.53 0.53 0 1 0 -1.06 0M385.8 382.7a0.48 0.48 0 1 0 0.96 0a0.48 0.48 0 1 0 -0.96 0M453.3 343.1a0.34 0.34 0 1 0 0.68 0a0.34 0.34 0 1 0 -0.68 0M394.6 386.1a0.31 0.31 0 1 0 0.62 0a0.31 0.31 0 1 0 -0.62 0M434.8 379.7a0.44 0.44 0 1 0 0.89 0a0.44 0.44 0 1 0 -0.89 0M433.7 370.0a0.46 0.46 0 1 0 0.93 0a0.46 0.46 0 1 0 -0.93 0M444.5 375.7a0.56 0.56 0 1 0 1.12 0a0.56 0.56 0 1 0 -1.12 0M438.5 357.6a0.33 0.33 0 1 0 0.66 0a0.33 0.33 0 1 0 -0.66 0M437.9 372.5a0.48 0.48 0 1 0 0.95 0a0.48 0.48 0 1 0 -0.95 0M433.5 379.2a0.38 0.38 0 1 0 0.77 0a0.38 0.38 0 1 0 -0.77 0M424.5 363.7a0.51 0.51 0 1 0 1.02 0a0.51 0.51 0 1 0 -1.02 0M459.4 352.1a0.43 0.43 0 1 0 0.86 0a0.43 0.43 0 1 0 -0.86 0M397.0 372.6a0.62 0.62 0 1 0 1.24 0a0.62 0.62 0 1 0 -1.24 0M459.2 383.2a0.38 0.38 0 1 0 0.76 0a0.38 0.38 0 1 0 -0.76 0M414.6 357.9a0.36 0.36 0 1 0 0.71 0a0.36 0.36 0 1 0 -0.71 0M430.6 361.1a0.56 0.56 0 1 0 1.12 0a0.56 0.56 0 1 0 -1.12 0M386.6 338.8a0.48 0.48 0 1 0 0.97 0a0.48 0.48 0 1 0 -0.97 0M463.3 350.8a0.34 0.34 0 1 0 0.67 0a0.34 0.34 0 1 0 -0.67 0M433.4 357.1a0.36 0.36 0 1 0 0.72 0a0.36 0.36 0 1 0 -0.72 0M406.5 366.4a0.44 0.44 0 1 0 0.88 0a0.44 0.44 0 1 0 -0.88 0M396.7 377.8a0.63 0.63 0 1 0 1.26 0a0.63 0.63 0 1 0 -1.26 0M452.7 352.0a0.42 0.42 0 1 0 0.85 0a0.42 0.42 0 1 0 -0.85 0M454.4 370.9a0.47 0.47 0 1 0 0.94 0a0.47 0.47 0 1 0 -0.94 0M439.5 347.7a0.53 0.53 0 1 0 1.06 0a0.53 0.53 0 1 0 -1.06 0M412.0 359.0a0.36 0.36 0 1 0 0.72 0a0.36 0.36 0 1 0 -0.72 0M429.3 346.2a0.64 0.64 0 1 0 1.28 0a0.64 0.64 0 1 0 -1.28 0M443.3 360.2a0.43 0.43 0 1 0 0.85 0a0.43 0.43 0 1 0 -0.85 0M421.9 370.5a0.54 0.54 0 1 0 1.09 0a0.54 0.54 0 1 0 -1.09 0M445.9 353.2a0.30 0.30 0 1 0 0.60 0a0.30 0.30 0 1 0 -0.60 0M436.6 376.9a0.40 0.40 0 1 0 0.79 0a0.40 0.40 0 1 0 -0.79 0M424.6 368.6a0.49 0.49 0 1 0 0.99 0a0.49 0.49 0 1 0 -0.99 0M460.2 377.6a0.58 0.58 0 1 0 1.15 0a0.58 0.58 0 1 0 -1.15 0M386.5 367.9a0.61 0.61 0 1 0 1.21 0a0.61 0.61 0 1 0 -1.21 0M432.9 379.5a0.40 0.40 0 1 0 0.80 0a0.40 0.40 0 1 0 -0.80 0M419.3 370.8a0.59 0.59 0 1 0 1.18 0a0.59 0.59 0 1 0 -1.18 0M469.5 352.7a0.36 0.36 0 1 0 0.72 0a0.36 0.36 0 1 0 -0.72 0M395.8 381.6a0.59 0.59 0 1 0 1.19 0a0.59 0.59 0 1 0 -1.19 0M424.3 368.3a0.46 0.46 0 1 0 0.91 0a0.46 0.46 0 1 0 -0.91 0M429.8 370.6a0.57 0.57 0 1 0 1.14 0a0.57 0.57 0 1 0 -1.14 0M468.2 375.6a0.45 0.45 0 1 0 0.89 0a0.45 0.45 0 1 0 -0.89 0M455.2 371.2a0.55 0.55 0 1 0 1.11 0a0.55 0.55 0 1 0 -1.11 0M444.9 365.7a0.38 0.38 0 1 0 0.76 0a0.38 0.38 0 1 0 -0.76 0M428.1 360.7a0.54 0.54 0 1 0 1.07 0a0.54 0.54 0 1 0 -1.07 0M423.1 356.1a0.36 0.36 0 1 0 0.72 0a0.36 0.36 0 1 0 -0.72 0M447.7 369.1a0.62 0.62 0 1 0 1.24 0a0.62 0.62 0 1 0 -1.24 0M449.0 343.7a0.38 0.38 0 1 0 0.76 0a0.38 0.38 0 1 0 -0.76 0M425.9 340.0a0.44 0.44 0 1 0 0.87 0a0.44 0.44 0 1 0 -0.87 0M426.6 349.3a0.40 0.40 0 1 0 0.80 0a0.40 0.40 0 1 0 -0.80 0M388.5 357.5a0.50 0.50 0 1 0 1.00 0a0.50 0.50 0 1 0 -1.00 0M386.4 359.6a0.41 0.41 0 1 0 0.82 0a0.41 0.41 0 1 0 -0.82 0M394.2 366.5a0.57 0.57 0 1 0 1.14 0a0.57 0.57 0 1 0 -1.14 0M433.8 363.1a0.59 0.59 0 1 0 1.17 0a0.59 0.59 0 1 0 -1.17 0M437.5 362.2a0.57 0.57 0 1 0 1.14 0a0.57 0.57 0 1 0 -1.14 0M467.8 370.1a0.37 0.37 0 1 0 0.74 0a0.37 0.37 0 1 0 -0.74 0M431.6 366.8a0.31 0.31 0 1 0 0.62 0a0.31 0.31 0 1 0 -0.62 0M399.7 384.0a0.47 0.47 0 1 0 0.94 0a0.47 0.47 0 1 0 -0.94 0M436.2 360.6a0.34 0.34 0 1 0 0.69 0a0.34 0.34 0 1 0 -0.69 0M446.7 365.7a0.31 0.31 0 1 0 0.63 0a0.31 0.31 0 1 0 -0.63 0M421.3 360.1a0.48 0.48 0 1 0 0.96 0a0.48 0.48 0 1 0 -0.96 0M466.4 388.8a0.63 0.63 0 1 0 1.26 0a0.63 0.63 0 1 0 -1.26 0M421.2 383.2a0.44 0.44 0 1 0 0.88 0a0.44 0.44 0 1 0 -0.88 0M466.8 388.6a0.39 0.39 0 1 0 0.77 0a0.39 0.39 0 1 0 -0.77 0M433.4 384.7a0.32 0.32 0 1 0 0.64 0a0.32 0.32 0 1 0 -0.64 0M437.3 357.9a0.39 0.39 0 1 0 0.78 0a0.39 0.39 0 1 0 -0.78 0M422.2 378.7a0.63 0.63 0 1 0 1.26 0a0.63 0.63 0 1 0 -1.26 0M442.4 338.6a0.50 0.50 0 1 0 0.99 0a0.50 0.50 0 1 0 -0.99 0M425.5 371.6a0.35 0.35 0 1 0 0.71 0a0.35 0.35 0 1 0 -0.71 0M398.0 346.2a0.56 0.56 0 1 0 1.13 0a0.56 0.56 0 1 0 -1.13 0M433.5 350.1a0.48 0.48 0 1 0 0.97 0a0.48 0.48 0 1 0 -0.97 0M427.7 369.3a0.60 0.60 0 1 0 1.21 0a0.60 0.60 0 1 0 -1.21 0M421.1 354.7a0.53 0.53 0 1 0 1.06 0a0.53 0.53 0 1 0 -1.06 0M406.2 358.6a0.35 0.35 0 1 0 0.71 0a0.35 0.35 0 1 0 -0.71 0M393.2 372.6a0.51 0.51 0 1 0 1.01 0a0.51 0.51 0 1 0 -1.01 0M398.7 384.4a0.42 0.42 0 1 0 0.85 0a0.42 0.42 0 1 0 -0.85 0M449.6 379.4a0.50 0.50 0 1 0 1.00 0a0.50 0.50 0 1 0 -1.00 0M455.0 362.6a0.48 0.48 0 1 0 0.95 0a0.48 0.48 0 1 0 -0.95 0M424.7 356.3a0.33 0.33 0 1 0 0.66 0a0.33 0.33 0 1 0 -0.66 0M458.9 337.1a0.31 0.31 0 1 0 0.61 0a0.31 0.31 0 1 0 -0.61 0M464.0 368.4a0.35 0.35 0 1 0 0.69 0a0.35 0.35 0 1 0 -0.69 0M410.5 374.3a0.58 0.58 0 1 0 1.16 0a0.58 0.58 0 1 0 -1.16 0M433.1 377.0a0.62 0.62 0 1 0 1.24 0a0.62 0.62 0 1 0 -1.24 0M396.4 343.0a0.39 0.39 0 1 0 0.79 0a0.39 0.39 0 1 0 -0.79 0M402.0 379.1a0.64 0.64 0 1 0 1.27 0a0.64 0.64 0 1 0 -1.27 0M418.0 373.2a0.60 0.60 0 1 0 1.20 0a0.60 0.60 0 1 0 -1.20 0M428.2 365.0a0.64 0.64 0 1 0 1.27 0a0.64 0.64 0 1 0 -1.27 0M457.8 368.8a0.63 0.63 0 1 0 1.27 0a0.63 0.63 0 1 0 -1.27 0M431.9 357.3a0.45 0.45 0 1 0 0.91 0a0.45 0.45 0 1 0 -0.91 0M386.5 387.9a0.58 0.58 0 1 0 1.17 0a0.58 0.58 0 1 0 -1.17 0M387.4 359.5a0.42 0.42 0 1 0 0.83 0a0.42 0.42 0 1 0 -0.83 0M429.5 352.5a0.37 0.37 0 1 0 0.74 0a0.37 0.37 0 1 0 -0.74 0M426.3 348.2a0.33 0.33 0 1 0 0.65 0a0.33 0.33 0 1 0 -0.65 0M448.6 366.5a0.63 0.63 0 1 0 1.26 0a0.63 0.63 0 1 0 -1.26 0M471.4 342.1a0.34 0.34 0 1 0 0.69 0a0.34 0.34 0 1 0 -0.69 0M438.0 365.4a0.44 0.44 0 1 0 0.89 0a0.44 0.44 0 1 0 -0.89 0M446.9 354.7a0.32 0.32 0 1 0 0.64 0a0.32 0.32 0 1 0 -0.64 0M391.3 382.7a0.32 0.32 0 1 0 0.64 0a0.32 0.32 0 1 0 -0.64 0M447.1 364.6a0.61 0.61 0 1 0 1.23 0a0.61 0.61 0 1 0 -1.23 0M399.3 353.0a0.42 0.42 0 1 0 0.84 0a0.42 0.42 0 1 0 -0.84 0M433.7 360.4a0.36 0.36 0 1 0 0.73 0a0.36 0.36 0 1 0 -0.73 0M404.2 367.4a0.36 0.36 0 1 0 0.72 0a0.36 0.36 0 1 0 -0.72 0M417.9 364.4a0.34 0.34 0 1 0 0.67 0a0.34 0.34 0 1 0 -0.67 0M424.6 354.7a0.58 0.58 0 1 0 1.16 0a0.58 0.58 0 1 0 -1.16 0M386.8 379.2a0.41 0.41 0 1 0 0.82 0a0.41 0.41 0 1 0 -0.82 0M441.6 357.5a0.57 0.57 0 1 0 1.15 0a0.57 0.57 0 1 0 -1.15 0M432.5 337.2a0.58 0.58 0 1 0 1.17 0a0.58 0.58 0 1 0 -1.17 0M393.1 348.9a0.64 0.64 0 1 0 1.27 0a0.64 0.64 0 1 0 -1.27 0M457.7 362.2a0.62 0.62 0 1 0 1.24 0a0.62 0.62 0 1 0 -1.24 0M421.4 375.1a0.45 0.45 0 1 0 0.89 0a0.45 0.45 0 1 0 -0.89 0M429.3 375.0a0.35 0.35 0 1 0 0.70 0a0.35 0.35 0 1 0 -0.70 0M425.7 340.2a0.40 0.40 0 1 0 0.80 0a0.40 0.40 0 1 0 -0.80 0M389.2 342.8a0.51 0.51 0 1 0 1.02 0a0.51 0.51 0 1 0 -1.02 0M392.4 378.6a0.64 0.64 0 1 0 1.27 0a0.64 0.64 0 1 0 -1.27 0M404.1 388.8a0.59 0.59 0 1 0 1.19 0a0.59 0.59 0 1 0 -1.19 0M418.4 373.6a0.33 0.33 0 1 0 0.65 0a0.33 0.33 0 1 0 -0.65 0M424.9 353.4a0.39 0.39 0 1 0 0.78 0a0.39 0.39 0 1 0 -0.78 0M390.4 347.7a0.43 0.43 0 1 0 0.87 0a0.43 0.43 0 1 0 -0.87 0M401.9 374.6a0.50 0.50 0 1 0 1.00 0a0.50 0.50 0 1 0 -1.00 0M393.5 360.2a0.46 0.46 0 1 0 0.91 0a0.46 0.46 0 1 0 -0.91 0M457.6 361.8a0.62 0.62 0 1 0 1.23 0a0.62 0.62 0 1 0 -1.23 0M442.2 363.0a0.42 0.42 0 1 0 0.84 0a0.42 0.42 0 1 0 -0.84 0M437.1 372.9a0.36 0.36 0 1 0 0.73 0a0.36 0.36 0 1 0 -0.73 0M394.0 350.2a0.42 0.42 0 1 0 0.85 0a0.42 0.42 0 1 0 -0.85 0M419.5 355.8a0.45 0.45 0 1 0 0.89 0a0.45 0.45 0 1 0 -0.89 0M400.3 358.3a0.65 0.65 0 1 0 1.30 0a0.65 0.65 0 1 0 -1.30 0M420.6 367.8a0.47 0.47 0 1 0 0.94 0a0.47 0.47 0 1 0 -0.94 0M440.2 378.8a0.49 0.49 0 1 0 0.99 0a0.49 0.49 0 1 0 -0.99 0M439.5 360.7a0.50 0.50 0 1 0 0.99 0a0.50 0.50 0 1 0 -0.99 0M421.4 359.4a0.58 0.58 0 1 0 1.15 0a0.58 0.58 0 1 0 -1.15 0M443.7 383.0a0.33 0.33 0 1 0 0.67 0a0.33 0.33 0 1 0 -0.67 0M386.8 351.8a0.37 0.37 0 1 0 0.74 0a0.37 0.37 0 1 0 -0.74 0M404.6 373.0a0.52 0.52 0 1 0 1.03 0a0.52 0.52 0 1 0 -1.03 0M440.6 369.9a0.58 0.58 0 1 0 1.15 0a0.58 0.58 0 1 0 -1.15 0M449.2 344.0a0.57 0.57 0 1 0 1.14 0a0.57 0.57 0 1 0 -1.14 0M457.7 360.5a0.61 0.61 0 1 0 1.21 0a0.61 0.61 0 1 0 -1.21 0M447.1 379.0a0.58 0.58 0 1 0 1.15 0a0.58 0.58 0 1 0 -1.15 0M432.8 371.0a0.45 0.45 0 1 0 0.89 0a0.45 0.45 0 1 0 -0.89 0M398.0 388.4a0.36 0.36 0 1 0 0.72 0a0.36 0.36 0 1 0 -0.72 0M452.8 389.0a0.49 0.49 0 1 0 0.97 0a0.49 0.49 0 1 0 -0.97 0M409.1 351.2a0.36 0.36 0 1 0 0.73 0a0.36 0.36 0 1 0 -0.73 0M436.8 377.2a0.63 0.63 0 1 0 1.25 0a0.63 0.63 0 1 0 -1.25 0M427.6 377.5a0.60 0.60 0 1 0 1.20 0a0.60 0.60 0 1 0 -1.20 0M457.5 382.9a0.42 0.42 0 1 0 0.84 0a0.42 0.42 0 1 0 -0.84 0M397.4 355.5a0.56 0.56 0 1 0 1.12 0a0.56 0.56 0 1 0 -1.12 0M411.9 387.7a0.62 0.62 0 1 0 1.23 0a0.62 0.62 0 1 0 -1.23 0M440.7 388.5a0.56 0.56 0 1 0 1.12 0a0.56 0.56 0 1 0 -1.12 0M435.5 382.4a0.35 0.35 0 1 0 0.69 0a0.35 0.35 0 1 0 -0.69 0M431.5 384.2a0.57 0.57 0 1 0 1.13 0a0.57 0.57 0 1 0 -1.13 0M465.8 358.3a0.40 0.40 0 1 0 0.81 0a0.40 0.40 0 1 0 -0.81 0M437.9 355.0a0.42 0.42 0 1 0 0.84 0a0.42 0.42 0 1 0 -0.84 0M433.6 374.7a0.65 0.65 0 1 0 1.30 0a0.65 0.65 0 1 0 -1.30 0M411.5 346.6a0.32 0.32 0 1 0 0.64 0a0.32 0.32 0 1 0 -0.64 0M393.6 359.0a0.40 0.40 0 1 0 0.79 0a0.40 0.40 0 1 0 -0.79 0M411.0 338.7a0.38 0.38 0 1 0 0.77 0a0.38 0.38 0 1 0 -0.77 0M401.4 366.4a0.63 0.63 0 1 0 1.25 0a0.63 0.63 0 1 0 -1.25 0M469.4 358.9a0.62 0.62 0 1 0 1.25 0a0.62 0.62 0 1 0 -1.25 0M425.3 354.9a0.45 0.45 0 1 0 0.90 0a0.45 0.45 0 1 0 -0.90 0M386.2 352.0a0.59 0.59 0 1 0 1.18 0a0.59 0.59 0 1 0 -1.18 0M440.5 370.6a0.45 0.45 0 1 0 0.89 0a0.45 0.45 0 1 0 -0.89 0M405.2 354.7a0.53 0.53 0 1 0 1.07 0a0.53 0.53 0 1 0 -1.07 0M419.6 368.0a0.42 0.42 0 1 0 0.84 0a0.42 0.42 0 1 0 -0.84 0M441.5 372.8a0.62 0.62 0 1 0 1.24 0a0.62 0.62 0 1 0 -1.24 0M429.8 379.2a0.32 0.32 0 1 0 0.64 0a0.32 0.32 0 1 0 -0.64 0M441.5 357.2a0.44 0.44 0 1 0 0.87 0a0.44 0.44 0 1 0 -0.87 0M437.7 362.6a0.48 0.48 0 1 0 0.96 0a0.48 0.48 0 1 0 -0.96 0M429.5 374.3a0.44 0.44 0 1 0 0.88 0a0.44 0.44 0 1 0 -0.88 0M429.1 369.2a0.44 0.44 0 1 0 0.89 0a0.44 0.44 0 1 0 -0.89 0M421.2 375.1a0.46 0.46 0 1 0 0.93 0a0.46 0.46 0 1 0 -0.93 0M425.2 368.6a0.47 0.47 0 1 0 0.94 0a0.47 0.47 0 1 0 -0.94 0M467.5 338.9a0.44 0.44 0 1 0 0.88 0a0.44 0.44 0 1 0 -0.88 0M430.5 356.1a0.60 0.60 0 1 0 1.19 0a0.60 0.60 0 1 0 -1.19 0M399.3 353.2a0.62 0.62 0 1 0 1.24 0a0.62 0.62 0 1 0 -1.24 0M412.0 384.6a0.38 0.38 0 1 0 0.76 0a0.38 0.38 0 1 0 -0.76 0M466.3 337.2a0.33 0.33 0 1 0 0.65 0a0.33 0.33 0 1 0 -0.65 0M397.6 357.4a0.64 0.64 0 1 0 1.28 0a0.64 0.64 0 1 0 -1.28 0M407.6 348.0a0.57 0.57 0 1 0 1.14 0a0.57 0.57 0 1 0 -1.14 0M392.0 382.0a0.59 0.59 0 1 0 1.17 0a0.59 0.59 0 1 0 -1.17 0M443.2 381.6a0.54 0.54 0 1 0 1.07 0a0.54 0.54 0 1 0 -1.07 0M453.1 339.1a0.56 0.56 0 1 0 1.13 0a0.56 0.56 0 1 0 -1.13 0M431.8 341.7a0.52 0.52 0 1 0 1.04 0a0.52 0.52 0 1 0 -1.04 0M424.7 338.4a0.51 0.51 0 1 0 1.02 0a0.51 0.51 0 1 0 -1.02 0M424.5 357.3a0.44 0.44 0 1 0 0.88 0a0.44 0.44 0 1 0 -0.88 0M388.8 356.4a0.52 0.52 0 1 0 1.05 0a0.52 0.52 0 1 0 -1.05 0M433.2 349.6a0.62 0.62 0 1 0 1.24 0a0.62 0.62 0 1 0 -1.24 0M396.8 347.8a0.58 0.58 0 1 0 1.17 0a0.58 0.58 0 1 0 -1.17 0M445.8 337.0a0.42 0.42 0 1 0 0.84 0a0.42 0.42 0 1 0 -0.84 0M436.9 351.2a0.31 0.31 0 1 0 0.62 0a0.31 0.31 0 1 0 -0.62 0M397.2 377.9a0.45 0.45 0 1 0 0.90 0a0.45 0.45 0 1 0 -0.90 0M386.5 387.3a0.38 0.38 0 1 0 0.76 0a0.38 0.38 0 1 0 -0.76 0M418.9 340.7a0.58 0.58 0 1 0 1.16 0a0.58 0.58 0 1 0 -1.16 0M404.3 373.3a0.48 0.48 0 1 0 0.97 0a0.48 0.48 0 1 0 -0.97 0M398.5 370.8a0.59 0.59 0 1 0 1.18 0a0.59 0.59 0 1 0 -1.18 0M394.3 343.3a0.52 0.52 0 1 0 1.05 0a0.52 0.52 0 1 0 -1.05 0M443.2 365.0a0.33 0.33 0 1 0 0.66 0a0.33 0.33 0 1 0 -0.66 0M421.3 359.1a0.38 0.38 0 1 0 0.76 0a0.38 0.38 0 1 0 -0.76 0M387.4 339.6a0.64 0.64 0 1 0 1.27 0a0.64 0.64 0 1 0 -1.27 0M427.2 359.4a0.49 0.49 0 1 0 0.99 0a0.49 0.49 0 1 0 -0.99 0M444.6 375.2a0.40 0.40 0 1 0 0.79 0a0.40 0.40 0 1 0 -0.79 0M466.5 338.7a0.45 0.45 0 1 0 0.90 0a0.45 0.45 0 1 0 -0.90 0M405.7 354.6a0.42 0.42 0 1 0 0.85 0a0.42 0.42 0 1 0 -0.85 0M437.1 359.4a0.37 0.37 0 1 0 0.73 0a0.37 0.37 0 1 0 -0.73 0M394.2 350.4a0.43 0.43 0 1 0 0.87 0a0.43 0.43 0 1 0 -0.87 0M456.5 344.3a0.40 0.40 0 1 0 0.80 0a0.40 0.40 0 1 0 -0.80 0M430.3 383.9a0.44 0.44 0 1 0 0.89 0a0.44 0.44 0 1 0 -0.89 0M416.6 355.3a0.42 0.42 0 1 0 0.84 0a0.42 0.42 0 1 0 -0.84 0M462.1 373.3a0.33 0.33 0 1 0 0.66 0a0.33 0.33 0 1 0 -0.66 0M462.5 383.7a0.53 0.53 0 1 0 1.06 0a0.53 0.53 0 1 0 -1.06 0M450.9 383.5a0.30 0.30 0 1 0 0.61 0a0.30 0.30 0 1 0 -0.61 0M414.9 377.8a0.30 0.30 0 1 0 0.61 0a0.30 0.30 0 1 0 -0.61 0M470.5 363.5a0.48 0.48 0 1 0 0.96 0a0.48 0.48 0 1 0 -0.96 0M404.3 372.5a0.40 0.40 0 1 0 0.80 0a0.40 0.40 0 1 0 -0.80 0M452.5 350.5a0.62 0.62 0 1 0 1.25 0a0.62 0.62 0 1 0 -1.25 0M468.4 373.1a0.43 0.43 0 1 0 0.86 0a0.43 0.43 0 1 0 -0.86 0M446.5 353.7a0.35 0.35 0 1 0 0.70 0a0.35 0.35 0 1 0 -0.70 0M412.4 358.9a0.42 0.42 0 1 0 0.83 0a0.42 0.42 0 1 0 -0.83 0M423.4 353.4a0.45 0.45 0 1 0 0.90 0a0.45 0.45 0 1 0 -0.90 0M455.8 376.4a0.49 0.49 0 1 0 0.98 0a0.49 0.49 0 1 0 -0.98 0M448.8 365.9a0.34 0.34 0 1 0 0.69 0a0.34 0.34 0 1 0 -0.69 0M435.1 369.4a0.40 0.40 0 1 0 0.80 0a0.40 0.40 0 1 0 -0.80 0M410.1 352.7a0.48 0.48 0 1 0 0.95 0a0.48 0.48 0 1 0 -0.95 0M446.3 388.2a0.55 0.55 0 1 0 1.09 0a0.55 0.55 0 1 0 -1.09 0M450.7 377.5a0.55 0.55 0 1 0 1.11 0a0.55 0.55 0 1 0 -1.11 0M388.0 342.0a0.37 0.37 0 1 0 0.74 0a0.37 0.37 0 1 0 -0.74 0M452.8 343.2a0.40 0.40 0 1 0 0.80 0a0.40 0.40 0 1 0 -0.80 0M411.9 338.9a0.63 0.63 0 1 0 1.25 0a0.63 0.63 0 1 0 -1.25 0M421.2 367.3a0.47 0.47 0 1 0 0.94 0a0.47 0.47 0 1 0 -0.94 0M412.1 342.3a0.39 0.39 0 1 0 0.78 0a0.39 0.39 0 1 0 -0.78 0M465.1 357.9a0.63 0.63 0 1 0 1.26 0a0.63 0.63 0 1 0 -1.26 0M408.1 374.4a0.59 0.59 0 1 0 1.18 0a0.59 0.59 0 1 0 -1.18 0M420.8 364.2a0.60 0.60 0 1 0 1.19 0a0.60 0.60 0 1 0 -1.19 0M451.3 366.7a0.49 0.49 0 1 0 0.98 0a0.49 0.49 0 1 0 -0.98 0M433.0 371.0a0.32 0.32 0 1 0 0.65 0a0.32 0.32 0 1 0 -0.65 0M431.1 378.4a0.31 0.31 0 1 0 0.62 0a0.31 0.31 0 1 0 -0.62 0M449.2 373.3a0.63 0.63 0 1 0 1.26 0a0.63 0.63 0 1 0 -1.26 0M406.1 342.2a0.41 0.41 0 1 0 0.83 0a0.41 0.41 0 1 0 -0.83 0M435.5 372.3a0.34 0.34 0 1 0 0.69 0a0.34 0.34 0 1 0 -0.69 0M469.6 383.0a0.33 0.33 0 1 0 0.67 0a0.33 0.33 0 1 0 -0.67 0M429.2 388.7a0.33 0.33 0 1 0 0.67 0a0.33 0.33 0 1 0 -0.67 0M435.9 366.2a0.62 0.62 0 1 0 1.24 0a0.62 0.62 0 1 0 -1.24 0M416.7 348.6a0.37 0.37 0 1 0 0.75 0a0.37 0.37 0 1 0 -0.75 0M402.8 342.8a0.54 0.54 0 1 0 1.08 0a0.54 0.54 0 1 0 -1.08 0M452.0 360.5a0.32 0.32 0 1 0 0.64 0a0.32 0.32 0 1 0 -0.64 0M388.6 359.9a0.59 0.59 0 1 0 1.18 0a0.59 0.59 0 1 0 -1.18 0M453.1 377.2a0.53 0.53 0 1 0 1.06 0a0.53 0.53 0 1 0 -1.06 0M389.3 355.8a0.47 0.47 0 1 0 0.94 0a0.47 0.47 0 1 0 -0.94 0M429.8 352.5a0.59 0.59 0 1 0 1.18 0a0.59 0.59 0 1 0 -1.18 0M466.7 381.1a0.40 0.40 0 1 0 0.79 0a0.40 0.40 0 1 0 -0.79 0M390.4 352.4a0.44 0.44 0 1 0 0.88 0a0.44 0.44 0 1 0 -0.88 0M441.1 352.7a0.44 0.44 0 1 0 0.88 0a0.44 0.44 0 1 0 -0.88 0M411.7 368.6a0.45 0.45 0 1 0 0.89 0a0.45 0.45 0 1 0 -0.89 0M466.1 346.4a0.50 0.50 0 1 0 0.99 0a0.50 0.50 0 1 0 -0.99 0M430.6 356.7a0.36 0.36 0 1 0 0.72 0a0.36 0.36 0 1 0 -0.72 0M441.3 371.7a0.31 0.31 0 1 0 0.63 0a0.31 0.31 0 1 0 -0.63 0M415.7 359.2a0.48 0.48 0 1 0 0.96 0a0.48 0.48 0 1 0 -0.96 0M396.1 373.5a0.40 0.40 0 1 0 0.80 0a0.40 0.40 0 1 0 -0.80 0M427.4 358.2a0.55 0.55 0 1 0 1.10 0a0.55 0.55 0 1 0 -1.10 0M466.7 377.6a0.42 0.42 0 1 0 0.84 0a0.42 0.42 0 1 0 -0.84 0M439.1 384.8a0.55 0.55 0 1 0 1.10 0a0.55 0.55 0 1 0 -1.10 0M436.4 342.2a0.39 0.39 0 1 0 0.78 0a0.39 0.39 0 1 0 -0.78 0M421.6 353.7a0.39 0.39 0 1 0 0.78 0a0.39 0.39 0 1 0 -0.78 0M441.9 343.6a0.36 0.36 0 1 0 0.71 0a0.36 0.36 0 1 0 -0.71 0M428.8 373.0a0.44 0.44 0 1 0 0.87 0a0.44 0.44 0 1 0 -0.87 0M410.3 382.8a0.30 0.30 0 1 0 0.61 0a0.30 0.30 0 1 0 -0.61 0M396.0 343.0a0.41 0.41 0 1 0 0.83 0a0.41 0.41 0 1 0 -0.83 0M402.9 349.7a0.40 0.40 0 1 0 0.79 0a0.40 0.40 0 1 0 -0.79 0M392.1 355.0a0.33 0.33 0 1 0 0.66 0a0.33 0.33 0 1 0 -0.66 0M420.6 370.6a0.51 0.51 0 1 0 1.03 0a0.51 0.51 0 1 0 -1.03 0M417.6 364.3a0.49 0.49 0 1 0 0.97 0a0.49 0.49 0 1 0 -0.97 0M468.5 341.0a0.56 0.56 0 1 0 1.12 0a0.56 0.56 0 1 0 -1.12 0M411.1 358.7a0.58 0.58 0 1 0 1.16 0a0.58 0.58 0 1 0 -1.16 0M407.7 339.8a0.43 0.43 0 1 0 0.85 0a0.43 0.43 0 1 0 -0.85 0M421.4 377.0a0.53 0.53 0 1 0 1.07 0a0.53 0.53 0 1 0 -1.07 0M425.5 379.4a0.30 0.30 0 1 0 0.60 0a0.30 0.30 0 1 0 -0.60 0M430.7 342.1a0.53 0.53 0 1 0 1.06 0a0.53 0.53 0 1 0 -1.06 0M462.9 369.5a0.41 0.41 0 1 0 0.81 0a0.41 0.41 0 1 0 -0.81 0M447.7 385.3a0.57 0.57 0 1 0 1.15 0a0.57 0.57 0 1 0 -1.15 0M424.4 387.4a0.38 0.38 0 1 0 0.76 0a0.38 0.38 0 1 0 -0.76 0M416.0 350.9a0.30 0.30 0 1 0 0.61 0a0.30 0.30 0 1 0 -0.61 0M406.9 382.0a0.64 0.64 0 1 0 1.29 0a0.64 0.64 0 1 0 -1.29 0M428.3 364.1a0.47 0.47 0 1 0 0.95 0a0.47 0.47 0 1 0 -0.95 0M399.9 363.3a0.54 0.54 0 1 0 1.07 0a0.54 0.54 0 1 0 -1.07 0M394.7 381.8a0.36 0.36 0 1 0 0.72 0a0.36 0.36 0 1 0 -0.72 0M417.4 372.6a0.50 0.50 0 1 0 1.01 0a0.50 0.50 0 1 0 -1.01 0M431.8 373.6a0.64 0.64 0 1 0 1.27 0a0.64 0.64 0 1 0 -1.27 0M404.0 389.1a0.53 0.53 0 1 0 1.06 0a0.53 0.53 0 1 0 -1.06 0M434.1 388.5a0.35 0.35 0 1 0 0.70 0a0.35 0.35 0 1 0 -0.70 0M402.4 388.4a0.57 0.57 0 1 0 1.14 0a0.57 0.57 0 1 0 -1.14 0M427.8 354.0a0.46 0.46 0 1 0 0.91 0a0.46 0.46 0 1 0 -0.91 0M416.4 382.6a0.61 0.61 0 1 0 1.23 0a0.61 0.61 0 1 0 -1.23 0M395.4 364.2a0.49 0.49 0 1 0 0.99 0a0.49 0.49 0 1 0 -0.99 0M431.6 377.1a0.34 0.34 0 1 0 0.68 0a0.34 0.34 0 1 0 -0.68 0M391.0 373.0a0.43 0.43 0 1 0 0.87 0a0.43 0.43 0 1 0 -0.87 0M393.0 352.7a0.46 0.46 0 1 0 0.93 0a0.46 0.46 0 1 0 -0.93 0M446.7 357.4a0.62 0.62 0 1 0 1.23 0a0.62 0.62 0 1 0 -1.23 0M392.7 355.2a0.37 0.37 0 1 0 0.74 0a0.37 0.37 0 1 0 -0.74 0M425.9 360.2a0.46 0.46 0 1 0 0.93 0a0.46 0.46 0 1 0 -0.93 0M434.7 383.5a0.38 0.38 0 1 0 0.76 0a0.38 0.38 0 1 0 -0.76 0M422.5 352.9a0.36 0.36 0 1 0 0.71 0a0.36 0.36 0 1 0 -0.71 0M458.2 347.8a0.41 0.41 0 1 0 0.81 0a0.41 0.41 0 1 0 -0.81 0M402.9 357.1a0.40 0.40 0 1 0 0.79 0a0.40 0.40 0 1 0 -0.79 0M456.6 345.8a0.52 0.52 0 1 0 1.04 0a0.52 0.52 0 1 0 -1.04 0M442.1 388.8a0.31 0.31 0 1 0 0.62 0a0.31 0.31 0 1 0 -0.62 0M396.9 377.6a0.53 0.53 0 1 0 1.06 0a0.53 0.53 0 1 0 -1.06 0M470.2 347.1a0.37 0.37 0 1 0 0.74 0a0.37 0.37 0 1 0 -0.74 0M436.1 375.3a0.55 0.55 0 1 0 1.10 0a0.55 0.55 0 1 0 -1.10 0M446.8 365.2a0.55 0.55 0 1 0 1.09 0a0.55 0.55 0 1 0 -1.09 0M424.4 385.3a0.47 0.47 0 1 0 0.95 0a0.47 0.47 0 1 0 -0.95 0M438.1 364.7a0.44 0.44 0 1 0 0.89 0a0.44 0.44 0 1 0 -0.89 0M410.7 358.3a0.50 0.50 0 1 0 0.99 0a0.50 0.50 0 1 0 -0.99 0M440.9 381.0a0.64 0.64 0 1 0 1.28 0a0.64 0.64 0 1 0 -1.28 0M412.2 376.5a0.37 0.37 0 1 0 0.74 0a0.37 0.37 0 1 0 -0.74 0M443.0 360.4a0.45 0.45 0 1 0 0.90 0a0.45 0.45 0 1 0 -0.90 0M438.3 378.0a0.59 0.59 0 1 0 1.17 0a0.59 0.59 0 1 0 -1.17 0M396.1 384.0a0.33 0.33 0 1 0 0.66 0a0.33 0.33 0 1 0 -0.66 0M450.3 373.7a0.50 0.50 0 1 0 1.01 0a0.50 0.50 0 1 0 -1.01 0M394.1 373.2a0.47 0.47 0 1 0 0.93 0a0.47 0.47 0 1 0 -0.93 0M452.4 350.8a0.37 0.37 0 1 0 0.73 0a0.37 0.37 0 1 0 -0.73 0M432.2 362.0a0.51 0.51 0 1 0 1.02 0a0.51 0.51 0 1 0 -1.02 0M470.5 347.9a0.31 0.31 0 1 0 0.63 0a0.31 0.31 0 1 0 -0.63 0M391.4 378.7a0.61 0.61 0 1 0 1.21 0a0.61 0.61 0 1 0 -1.21 0M439.0 374.8a0.40 0.40 0 1 0 0.79 0a0.40 0.40 0 1 0 -0.79 0M436.7 350.8a0.55 0.55 0 1 0 1.10 0a0.55 0.55 0 1 0 -1.10 0M441.9 376.7a0.39 0.39 0 1 0 0.78 0a0.39 0.39 0 1 0 -0.78 0M393.2 352.1a0.60 0.60 0 1 0 1.21 0a0.60 0.60 0 1 0 -1.21 0M393.2 389.3a0.50 0.50 0 1 0 1.00 0a0.50 0.50 0 1 0 -1.00 0M463.7 345.9a0.36 0.36 0 1 0 0.72 0a0.36 0.36 0 1 0 -0.72 0M432.6 376.7a0.49 0.49 0 1 0 0.99 0a0.49 0.49 0 1 0 -0.99 0M397.7 361.3a0.55 0.55 0 1 0 1.11 0a0.55 0.55 0 1 0 -1.11 0M438.7 371.1a0.37 0.37 0 1 0 0.74 0a0.37 0.37 0 1 0 -0.74 0" fill="#a04cb0" fill-opacity="0.8"/>
<path d="M422.7 356.2a0.59 0.59 0 1 0 1.19 0a0.59 0.59 0 1 0 -1.19 0M435.8 370.1a0.62 0.62 0 1 0 1.24 0a0.62 0.62 0 1 0 -1.24 0M437.9 378.5a0.60 0.60 0 1 0 1.21 0a0.60 0.60 0 1 0 -1.21 0M430.0 375.9a0.55 0.55 0 1 0 1.09 0a0.55 0.55 0 1 0 -1.09 0M442.5 365.5a0.38 0.38 0 1 0 0.77 0a0.38 0.38 0 1 0 -0.77 0M445.6 368.9a0.53 0.53 0 1 0 1.05 0a0.53 0.53 0 1 0 -1.05 0M420.7 355.9a0.51 0.51 0 1 0 1.02 0a0.51 0.51 0 1 0 -1.02 0M429.5 356.9a0.39 0.39 0 1 0 0.78 0a0.39 0.39 0 1 0 -0.78 0M430.1 371.4a0.61 0.61 0 1 0 1.22 0a0.61 0.61 0 1 0 -1.22 0M445.0 360.4a0.60 0.60 0 1 0 1.19 0a0.60 0.60 0 1 0 -1.19 0M429.4 370.6a0.49 0.49 0 1 0 0.99 0a0.49 0.49 0 1 0 -0.99 0M420.1 357.4a0.57 0.57 0 1 0 1.14 0a0.57 0.57 0 1 0 -1.14 0M424.2 358.9a0.56 0.56 0 1 0 1.12 0a0.56 0.56 0 1 0 -1.12 0M446.8 365.9a0.51 0.51 0 1 0 1.01 0a0.51 0.51 0 1 0 -1.01 0M420.5 367.0a0.64 0.64 0 1 0 1.27 0a0.64 0.64 0 1 0 -1.27 0M422.4 372.6a0.41 0.41 0 1 0 0.83 0a0.41 0.41 0 1 0 -0.83 0M429.0 365.2a0.60 0.60 0 1 0 1.21 0a0.60 0.60 0 1 0 -1.21 0M432.9 357.2a0.62 0.62 0 1 0 1.24 0a0.62 0.62 0 1 0 -1.24 0M424.5 371.3a0.65 0.65 0 1 0 1.30 0a0.65 0.65 0 1 0 -1.30 0M435.0 352.7a0.41 0.41 0 1 0 0.82 0a0.41 0.41 0 1 0 -0.82 0M433.5 369.4a0.52 0.52 0 1 0 1.04 0a0.52 0.52 0 1 0 -1.04 0M443.2 361.9a0.37 0.37 0 1 0 0.73 0a0.37 0.37 0 1 0 -0.73 0M441.6 364.4a0.36 0.36 0 1 0 0.73 0a0.36 0.36 0 1 0 -0.73 0M419.1 374.2a0.46 0.46 0 1 0 0.92 0a0.46 0.46 0 1 0 -0.92 0M431.6 366.8a0.68 0.68 0 1 0 1.36 0a0.68 0.68 0 1 0 -1.36 0M434.2 377.0a0.58 0.58 0 1 0 1.16 0a0.58 0.58 0 1 0 -1.16 0M418.8 364.2a0.39 0.39 0 1 0 0.78 0a0.39 0.39 0 1 0 -0.78 0M428.2 372.0a0.56 0.56 0 1 0 1.11 0a0.56 0.56 0 1 0 -1.11 0M427.4 358.3a0.46 0.46 0 1 0 0.92 0a0.46 0.46 0 1 0 -0.92 0M444.2 366.4a0.67 0.67 0 1 0 1.34 0a0.67 0.67 0 1 0 -1.34 0M431.3 354.5a0.56 0.56 0 1 0 1.12 0a0.56 0.56 0 1 0 -1.12 0M419.0 375.5a0.64 0.64 0 1 0 1.28 0a0.64 0.64 0 1 0 -1.28 0M429.3 350.7a0.35 0.35 0 1 0 0.71 0a0.35 0.35 0 1 0 -0.71 0M427.1 378.6a0.65 0.65 0 1 0 1.30 0a0.65 0.65 0 1 0 -1.30 0M428.5 368.7a0.66 0.66 0 1 0 1.32 0a0.66 0.66 0 1 0 -1.32 0M423.8 356.1a0.63 0.63 0 1 0 1.26 0a0.63 0.63 0 1 0 -1.26 0M442.7 357.6a0.43 0.43 0 1 0 0.86 0a0.43 0.43 0 1 0 -0.86 0M435.7 357.4a0.58 0.58 0 1 0 1.17 0a0.58 0.58 0 1 0 -1.17 0M418.2 373.3a0.67 0.67 0 1 0 1.35 0a0.67 0.67 0 1 0 -1.35 0M435.1 375.9a0.68 0.68 0 1 0 1.36 0a0.68 0.68 0 1 0 -1.36 0M418.6 370.8a0.63 0.63 0 1 0 1.25 0a0.63 0.63 0 1 0 -1.25 0M427.4 357.9a0.67 0.67 0 1 0 1.35 0a0.67 0.67 0 1 0 -1.35 0M428.0 356.6a0.56 0.56 0 1 0 1.12 0a0.56 0.56 0 1 0 -1.12 0M431.1 356.4a0.36 0.36 0 1 0 0.72 0a0.36 0.36 0 1 0 -0.72 0M434.5 372.6a0.69 0.69 0 1 0 1.39 0a0.69 0.69 0 1 0 -1.39 0M432.6 357.5a0.69 0.69 0 1 0 1.38 0a0.69 0.69 0 1 0 -1.38 0M432.9 365.3a0.40 0.40 0 1 0 0.80 0a0.40 0.40 0 1 0 -0.80 0M446.6 362.0a0.65 0.65 0 1 0 1.31 0a0.65 0.65 0 1 0 -1.31 0M420.6 357.1a0.37 0.37 0 1 0 0.73 0a0.37 0.37 0 1 0 -0.73 0M430.3 381.0a0.47 0.47 0 1 0 0.93 0a0.47 0.47 0 1 0 -0.93 0M426.6 350.9a0.43 0.43 0 1 0 0.86 0a0.43 0.43 0 1 0 -0.86 0M440.1 359.4a0.43 0.43 0 1 0 0.86 0a0.43 0.43 0 1 0 -0.86 0M433.6 350.7a0.52 0.52 0 1 0 1.04 0a0.52 0.52 0 1 0 -1.04 0M438.1 352.9a0.62 0.62 0 1 0 1.24 0a0.62 0.62 0 1 0 -1.24 0M429.2 360.3a0.69 0.69 0 1 0 1.38 0a0.69 0.69 0 1 0 -1.38 0M430.1 365.9a0.54 0.54 0 1 0 1.07 0a0.54 0.54 0 1 0 -1.07 0M417.0 361.6a0.47 0.47 0 1 0 0.94 0a0.47 0.47 0 1 0 -0.94 0M436.9 356.0a0.36 0.36 0 1 0 0.72 0a0.36 0.36 0 1 0 -0.72 0M417.6 367.5a0.58 0.58 0 1 0 1.15 0a0.58 0.58 0 1 0 -1.15 0M425.3 368.1a0.63 0.63 0 1 0 1.25 0a0.63 0.63 0 1 0 -1.25 0M436.5 369.8a0.59 0.59 0 1 0 1.18 0a0.59 0.59 0 1 0 -1.18 0M446.3 362.7a0.58 0.58 0 1 0 1.17 0a0.58 0.58 0 1 0 -1.17 0M433.3 351.3a0.40 0.40 0 1 0 0.80 0a0.40 0.40 0 1 0 -0.80 0M418.4 366.5a0.66 0.66 0 1 0 1.32 0a0.66 0.66 0 1 0 -1.32 0M440.1 355.7a0.49 0.49 0 1 0 0.99 0a0.49 0.49 0 1 0 -0.99 0M429.4 364.3a0.40 0.40 0 1 0 0.81 0a0.40 0.40 0 1 0 -0.81 0M435.8 368.7a0.41 0.41 0 1 0 0.82 0a0.41 0.41 0 1 0 -0.82 0M423.6 377.9a0.49 0.49 0 1 0 0.97 0a0.49 0.49 0 1 0 -0.97 0M441.4 360.6a0.50 0.50 0 1 0 1.00 0a0.50 0.50 0 1 0 -1.00 0M444.1 375.7a0.36 0.36 0 1 0 0.73 0a0.36 0.36 0 1 0 -0.73 0M434.9 368.2a0.50 0.50 0 1 0 0.99 0a0.50 0.50 0 1 0 -0.99 0M425.0 373.9a0.37 0.37 0 1 0 0.73 0a0.37 0.37 0 1 0 -0.73 0M435.1 357.6a0.68 0.68 0 1 0 1.36 0a0.68 0.68 0 1 0 -1.36 0M421.6 368.9a0.43 0.43 0 1 0 0.85 0a0.43 0.43 0 1 0 -0.85 0M430.3 362.7a0.69 0.69 0 1 0 1.38 0a0.69 0.69 0 1 0 -1.38 0M420.1 358.6a0.68 0.68 0 1 0 1.36 0a0.68 0.68 0 1 0 -1.36 0M420.7 358.7a0.45 0.45 0 1 0 0.90 0a0.45 0.45 0 1 0 -0.90 0M436.4 373.7a0.47 0.47 0 1 0 0.93 0a0.47 0.47 0 1 0 -0.93 0M438.7 360.0a0.66 0.66 0 1 0 1.32 0a0.66 0.66 0 1 0 -1.32 0M435.0 355.2a0.40 0.40 0 1 0 0.80 0a0.40 0.40 0 1 0 -0.80 0M444.2 366.9a0.60 0.60 0 1 0 1.21 0a0.60 0.60 0 1 0 -1.21 0M430.2 355.3a0.49 0.49 0 1 0 0.98 0a0.49 0.49 0 1 0 -0.98 0M439.0 352.7a0.36 0.36 0 1 0 0.71 0a0.36 0.36 0 1 0 -0.71 0M416.7 367.3a0.36 0.36 0 1 0 0.71 0a0.36 0.36 0 1 0 -0.71 0M431.0 367.8a0.48 0.48 0 1 0 0.96 0a0.48 0.48 0 1 0 -0.96 0M432.3 366.0a0.65 0.65 0 1 0 1.30 0a0.65 0.65 0 1 0 -1.30 0M417.6 359.2a0.54 0.54 0 1 0 1.08 0a0.54 0.54 0 1 0 -1.08 0M433.3 357.6a0.42 0.42 0 1 0 0.84 0a0.42 0.42 0 1 0 -0.84 0M443.7 360.8a0.68 0.68 0 1 0 1.35 0a0.68 0.68 0 1 0 -1.35 0M430.6 354.2a0.49 0.49 0 1 0 0.98 0a0.49 0.49 0 1 0 -0.98 0M418.6 367.6a0.39 0.39 0 1 0 0.78 0a0.39 0.39 0 1 0 -0.78 0M446.2 362.1a0.43 0.43 0 1 0 0.86 0a0.43 0.43 0 1 0 -0.86 0M434.9 369.6a0.54 0.54 0 1 0 1.08 0a0.54 0.54 0 1 0 -1.08 0M444.4 360.7a0.55 0.55 0 1 0 1.10 0a0.55 0.55 0 1 0 -1.10 0M422.9 375.7a0.58 0.58 0 1 0 1.17 0a0.58 0.58 0 1 0 -1.17 0M421.7 373.4a0.44 0.44 0 1 0 0.88 0a0.44 0.44 0 1 0 -0.88 0M425.4 359.2a0.70 0.70 0 1 0 1.39 0a0.70 0.70 0 1 0 -1.39 0M439.0 365.3a0.51 0.51 0 1 0 1.01 0a0.51 0.51 0 1 0 -1.01 0M443.5 368.9a0.48 0.48 0 1 0 0.96 0a0.48 0.48 0 1 0 -0.96 0M429.7 380.3a0.61 0.61 0 1 0 1.22 0a0.61 0.61 0 1 0 -1.22 0M436.4 374.2a0.43 0.43 0 1 0 0.86 0a0.43 0.43 0 1 0 -0.86 0M425.1 361.4a0.62 0.62 0 1 0 1.25 0a0.62 0.62 0 1 0 -1.25 0M425.0 352.3a0.40 0.40 0 1 0 0.80 0a0.40 0.40 0 1 0 -0.80 0M437.3 361.0a0.52 0.52 0 1 0 1.04 0a0.52 0.52 0 1 0 -1.04 0M429.8 362.3a0.49 0.49 0 1 0 0.97 0a0.49 0.49 0 1 0 -0.97 0M426.2 363.2a0.62 0.62 0 1 0 1.24 0a0.62 0.62 0 1 0 -1.24 0M430.7 373.9a0.62 0.62 0 1 0 1.24 0a0.62 0.62 0 1 0 -1.24 0M427.1 353.9a0.68 0.68 0 1 0 1.36 0a0.68 0.68 0 1 0 -1.36 0M444.0 369.0a0.47 0.47 0 1 0 0.95 0a0.47 0.47 0 1 0 -0.95 0M419.4 362.1a0.43 0.43 0 1 0 0.85 0a0.43 0.43 0 1 0 -0.85 0M426.5 354.6a0.59 0.59 0 1 0 1.17 0a0.59 0.59 0 1 0 -1.17 0M433.1 354.3a0.56 0.56 0 1 0 1.11 0a0.56 0.56 0 1 0 -1.11 0M427.6 381.1a0.41 0.41 0 1 0 0.82 0a0.41 0.41 0 1 0 -0.82 0M443.3 365.3a0.65 0.65 0 1 0 1.30 0a0.65 0.65 0 1 0 -1.30 0M427.8 358.9a0.42 0.42 0 1 0 0.83 0a0.42 0.42 0 1 0 -0.83 0M440.9 376.6a0.52 0.52 0 1 0 1.04 0a0.52 0.52 0 1 0 -1.04 0M422.6 374.2a0.43 0.43 0 1 0 0.87 0a0.43 0.43 0 1 0 -0.87 0M428.5 373.0a0.68 0.68 0 1 0 1.35 0a0.68 0.68 0 1 0 -1.35 0M429.0 358.8a0.52 0.52 0 1 0 1.05 0a0.52 0.52 0 1 0 -1.05 0M437.7 378.5a0.40 0.40 0 1 0 0.80 0a0.40 0.40 0 1 0 -0.80 0M424.7 377.3a0.46 0.46 0 1 0 0.91 0a0.46 0.46 0 1 0 -0.91 0M441.0 368.6a0.53 0.53 0 1 0 1.05 0a0.53 0.53 0 1 0 -1.05 0M426.1 377.3a0.65 0.65 0 1 0 1.30 0a0.65 0.65 0 1 0 -1.30 0M442.7 377.3a0.48 0.48 0 1 0 0.96 0a0.48 0.48 0 1 0 -0.96 0M431.3 376.2a0.42 0.42 0 1 0 0.84 0a0.42 0.42 0 1 0 -0.84 0M435.6 360.9a0.63 0.63 0 1 0 1.25 0a0.63 0.63 0 1 0 -1.25 0M438.4 371.4a0.66 0.66 0 1 0 1.33 0a0.66 0.66 0 1 0 -1.33 0M438.0 377.2a0.53 0.53 0 1 0 1.06 0a0.53 0.53 0 1 0 -1.06 0M435.3 380.2a0.63 0.63 0 1 0 1.27 0a0.63 0.63 0 1 0 -1.27 0M420.4 361.9a0.49 0.49 0 1 0 0.97 0a0.49 0.49 0 1 0 -0.97 0M441.5 358.7a0.35 0.35 0 1 0 0.71 0a0.35 0.35 0 1 0 -0.71 0M422.3 357.8a0.40 0.40 0 1 0 0.81 0a0.40 0.40 0 1 0 -0.81 0M434.4 354.3a0.35 0.35 0 1 0 0.71 0a0.35 0.35 0 1 0 -0.71 0M426.6 366.5a0.60 0.60 0 1 0 1.19 0a0.60 0.60 0 1 0 -1.19 0M444.2 357.4a0.55 0.55 0 1 0 1.11 0a0.55 0.55 0 1 0 -1.11 0M439.7 375.5a0.42 0.42 0 1 0 0.83 0a0.42 0.42 0 1 0 -0.83 0M431.3 365.4a0.57 0.57 0 1 0 1.14 0a0.57 0.57 0 1 0 -1.14 0M428.5 358.5a0.39 0.39 0 1 0 0.79 0a0.39 0.39 0 1 0 -0.79 0M425.0 379.0a0.54 0.54 0 1 0 1.08 0a0.54 0.54 0 1 0 -1.08 0M435.0 377.1a0.57 0.57 0 1 0 1.14 0a0.57 0.57 0 1 0 -1.14 0M434.3 376.8a0.48 0.48 0 1 0 0.97 0a0.48 0.48 0 1 0 -0.97 0M429.5 371.0a0.49 0.49 0 1 0 0.98 0a0.49 0.49 0 1 0 -0.98 0M436.0 357.6a0.39 0.39 0 1 0 0.77 0a0.39 0.39 0 1 0 -0.77 0M435.6 352.4a0.68 0.68 0 1 0 1.37 0a0.68 0.68 0 1 0 -1.37 0M431.8 373.7a0.67 0.67 0 1 0 1.34 0a0.67 0.67 0 1 0 -1.34 0M428.0 362.9a0.37 0.37 0 1 0 0.73 0a0.37 0.37 0 1 0 -0.73 0M427.5 376.5a0.47 0.47 0 1 0 0.94 0a0.47 0.47 0 1 0 -0.94 0M431.7 358.5a0.43 0.43 0 1 0 0.86 0a0.43 0.43 0 1 0 -0.86 0M421.2 360.0a0.49 0.49 0 1 0 0.98 0a0.49 0.49 0 1 0 -0.98 0M432.3 371.9a0.50 0.50 0 1 0 1.01 0a0.50 0.50 0 1 0 -1.01 0M444.7 366.9a0.57 0.57 0 1 0 1.14 0a0.57 0.57 0 1 0 -1.14 0M437.6 367.4a0.63 0.63 0 1 0 1.27 0a0.63 0.63 0 1 0 -1.27 0M443.8 357.3a0.66 0.66 0 1 0 1.31 0a0.66 0.66 0 1 0 -1.31 0M428.9 365.2a0.57 0.57 0 1 0 1.14 0a0.57 0.57 0 1 0 -1.14 0M415.8 364.1a0.63 0.63 0 1 0 1.26 0a0.63 0.63 0 1 0 -1.26 0M438.7 352.5a0.58 0.58 0 1 0 1.16 0a0.58 0.58 0 1 0 -1.16 0M430.7 361.5a0.48 0.48 0 1 0 0.96 0a0.48 0.48 0 1 0 -0.96 0M435.6 358.5a0.42 0.42 0 1 0 0.85 0a0.42 0.42 0 1 0 -0.85 0M442.8 373.3a0.58 0.58 0 1 0 1.16 0a0.58 0.58 0 1 0 -1.16 0M421.8 376.6a0.60 0.60 0 1 0 1.20 0a0.60 0.60 0 1 0 -1.20 0M429.3 365.2a0.45 0.45 0 1 0 0.91 0a0.45 0.45 0 1 0 -0.91 0M422.1 374.9a0.40 0.40 0 1 0 0.80 0a0.40 0.40 0 1 0 -0.80 0M444.4 366.8a0.48 0.48 0 1 0 0.95 0a0.48 0.48 0 1 0 -0.95 0M443.9 369.2a0.50 0.50 0 1 0 1.00 0a0.50 0.50 0 1 0 -1.00 0M431.9 355.3a0.65 0.65 0 1 0 1.29 0a0.65 0.65 0 1 0 -1.29 0M442.4 355.3a0.52 0.52 0 1 0 1.05 0a0.52 0.52 0 1 0 -1.05 0M420.6 360.5a0.38 0.38 0 1 0 0.76 0a0.38 0.38 0 1 0 -0.76 0M436.7 369.2a0.50 0.50 0 1 0 1.00 0a0.50 0.50 0 1 0 -1.00 0M435.3 378.2a0.55 0.55 0 1 0 1.09 0a0.55 0.55 0 1 0 -1.09 0M435.5 378.1a0.65 0.65 0 1 0 1.31 0a0.65 0.65 0 1 0 -1.31 0M442.1 369.3a0.69 0.69 0 1 0 1.37 0a0.69 0.69 0 1 0 -1.37 0M431.8 369.0a0.57 0.57 0 1 0 1.15 0a0.57 0.57 0 1 0 -1.15 0M436.8 364.0a0.61 0.61 0 1 0 1.21 0a0.61 0.61 0 1 0 -1.21 0M431.7 369.9a0.66 0.66 0 1 0 1.33 0a0.66 0.66 0 1 0 -1.33 0M427.7 373.0a0.61 0.61 0 1 0 1.21 0a0.61 0.61 0 1 0 -1.21 0M444.8 364.5a0.46 0.46 0 1 0 0.93 0a0.46 0.46 0 1 0 -0.93 0M437.2 367.6a0.40 0.40 0 1 0 0.79 0a0.40 0.40 0 1 0 -0.79 0M444.8 373.1a0.63 0.63 0 1 0 1.26 0a0.63 0.63 0 1 0 -1.26 0M446.0 369.1a0.68 0.68 0 1 0 1.35 0a0.68 0.68 0 1 0 -1.35 0M418.4 373.2a0.48 0.48 0 1 0 0.97 0a0.48 0.48 0 1 0 -0.97 0M429.2 372.8a0.63 0.63 0 1 0 1.25 0a0.63 0.63 0 1 0 -1.25 0M421.9 361.1a0.54 0.54 0 1 0 1.08 0a0.54 0.54 0 1 0 -1.08 0M430.4 362.7a0.47 0.47 0 1 0 0.94 0a0.47 0.47 0 1 0 -0.94 0M424.4 370.9a0.48 0.48 0 1 0 0.96 0a0.48 0.48 0 1 0 -0.96 0M438.4 362.6a0.43 0.43 0 1 0 0.86 0a0.43 0.43 0 1 0 -0.86 0M442.5 355.5a0.38 0.38 0 1 0 0.75 0a0.38 0.38 0 1 0 -0.75 0M435.7 372.7a0.39 0.39 0 1 0 0.77 0a0.39 0.39 0 1 0 -0.77 0M435.3 380.7a0.61 0.61 0 1 0 1.22 0a0.61 0.61 0 1 0 -1.22 0M423.1 363.7a0.68 0.68 0 1 0 1.36 0a0.68 0.68 0 1 0 -1.36 0M439.2 355.0a0.60 0.60 0 1 0 1.20 0a0.60 0.60 0 1 0 -1.20 0M430.6 372.6a0.47 0.47 0 1 0 0.95 0a0.47 0.47 0 1 0 -0.95 0M439.7 378.5a0.66 0.66 0 1 0 1.33 0a0.66 0.66 0 1 0 -1.33 0M419.5 364.5a0.60 0.60 0 1 0 1.19 0a0.60 0.60 0 1 0 -1.19 0M419.7 371.4a0.68 0.68 0 1 0 1.35 0a0.68 0.68 0 1 0 -1.35 0M427.7 353.5a0.48 0.48 0 1 0 0.96 0a0.48 0.48 0 1 0 -0.96 0M429.3 351.3a0.49 0.49 0 1 0 0.97 0a0.49 0.49 0 1 0 -0.97 0M425.5 358.9a0.67 0.67 0 1 0 1.35 0a0.67 0.67 0 1 0 -1.35 0M416.6 360.7a0.56 0.56 0 1 0 1.12 0a0.56 0.56 0 1 0 -1.12 0M420.3 371.7a0.42 0.42 0 1 0 0.84 0a0.42 0.42 0 1 0 -0.84 0M439.3 365.0a0.68 0.68 0 1 0 1.36 0a0.68 0.68 0 1 0 -1.36 0M439.4 359.4a0.50 0.50 0 1 0 1.00 0a0.50 0.50 0 1 0 -1.00 0M428.2 363.7a0.67 0.67 0 1 0 1.34 0a0.67 0.67 0 1 0 -1.34 0M434.4 358.4a0.65 0.65 0 1 0 1.31 0a0.65 0.65 0 1 0 -1.31 0M423.7 376.8a0.56 0.56 0 1 0 1.11 0a0.56 0.56 0 1 0 -1.11 0M431.5 380.1a0.47 0.47 0 1 0 0.94 0a0.47 0.47 0 1 0 -0.94 0M423.0 372.2a0.65 0.65 0 1 0 1.29 0a0.65 0.65 0 1 0 -1.29 0M441.1 367.5a0.49 0.49 0 1 0 0.99 0a0.49 0.49 0 1 0 -0.99 0M423.6 355.8a0.68 0.68 0 1 0 1.36 0a0.68 0.68 0 1 0 -1.36 0M418.7 370.1a0.47 0.47 0 1 0 0.94 0a0.47 0.47 0 1 0 -0.94 0M426.5 371.3a0.41 0.41 0 1 0 0.82 0a0.41 0.41 0 1 0 -0.82 0M431.4 356.5a0.49 0.49 0 1 0 0.98 0a0.49 0.49 0 1 0 -0.98 0M416.8 359.9a0.48 0.48 0 1 0 0.96 0a0.48 0.48 0 1 0 -0.96 0M427.6 361.7a0.38 0.38 0 1 0 0.76 0a0.38 0.38 0 1 0 -0.76 0M425.1 371.1a0.36 0.36 0 1 0 0.73 0a0.36 0.36 0 1 0 -0.73 0M429.8 373.4a0.50 0.50 0 1 0 1.00 0a0.50 0.50 0 1 0 -1.00 0M419.1 373.4a0.60 0.60 0 1 0 1.20 0a0.60 0.60 0 1 0 -1.20 0M439.0 358.1a0.49 0.49 0 1 0 0.99 0a0.49 0.49 0 1 0 -0.99 0M425.5 354.9a0.57 0.57 0 1 0 1.14 0a0.57 0.57 0 1 0 -1.14 0M429.8 366.6a0.55 0.55 0 1 0 1.10 0a0.55 0.55 0 1 0 -1.10 0M441.4 366.5a0.46 0.46 0 1 0 0.92 0a0.46 0.46 0 1 0 -0.92 0M427.8 351.3a0.45 0.45 0 1 0 0.91 0a0.45 0.45 0 1 0 -0.91 0M434.5 362.3a0.51 0.51 0 1 0 1.02 0a0.51 0.51 0 1 0 -1.02 0M436.3 379.6a0.50 0.50 0 1 0 1.00 0a0.50 0.50 0 1 0 -1.00 0M433.7 366.5a0.37 0.37 0 1 0 0.73 0a0.37 0.37 0 1 0 -0.73 0M445.9 363.4a0.49 0.49 0 1 0 0.99 0a0.49 0.49 0 1 0 -0.99 0M440.7 364.2a0.63 0.63 0 1 0 1.25 0a0.63 0.63 0 1 0 -1.25 0M436.8 377.2a0.47 0.47 0 1 0 0.95 0a0.47 0.47 0 1 0 -0.95 0M431.6 359.8a0.39 0.39 0 1 0 0.77 0a0.39 0.39 0 1 0 -0.77 0M425.3 368.1a0.66 0.66 0 1 0 1.32 0a0.66 0.66 0 1 0 -1.32 0M442.8 366.0a0.37 0.37 0 1 0 0.74 0a0.37 0.37 0 1 0 -0.74 0M396.5 347.1a0.63 0.63 0 1 0 1.27 0a0.63 0.63 0 1 0 -1.27 0M393.5 352.0a0.43 0.43 0 1 0 0.86 0a0.43 0.43 0 1 0 -0.86 0M394.5 346.3a0.45 0.45 0 1 0 0.91 0a0.45 0.45 0 1 0 -0.91 0M400.0 348.5a0.52 0.52 0 1 0 1.04 0a0.52 0.52 0 1 0 -1.04 0M396.5 358.4a0.46 0.46 0 1 0 0.92 0a0.46 0.46 0 1 0 -0.92 0M401.8 351.4a0.46 0.46 0 1 0 0.91 0a0.46 0.46 0 1 0 -0.91 0M396.8 353.2a0.68 0.68 0 1 0 1.36 0a0.68 0.68 0 1 0 -1.36 0M398.0 346.7a0.66 0.66 0 1 0 1.32 0a0.66 0.66 0 1 0 -1.32 0M395.7 359.9a0.50 0.50 0 1 0 1.00 0a0.50 0.50 0 1 0 -1.00 0M399.2 351.8a0.43 0.43 0 1 0 0.87 0a0.43 0.43 0 1 0 -0.87 0M396.7 346.8a0.66 0.66 0 1 0 1.31 0a0.66 0.66 0 1 0 -1.31 0M399.2 351.7a0.36 0.36 0 1 0 0.72 0a0.36 0.36 0 1 0 -0.72 0M390.8 351.8a0.55 0.55 0 1 0 1.10 0a0.55 0.55 0 1 0 -1.10 0M395.7 350.8a0.57 0.57 0 1 0 1.15 0a0.57 0.57 0 1 0 -1.15 0M401.6 351.9a0.68 0.68 0 1 0 1.36 0a0.68 0.68 0 1 0 -1.36 0M396.9 353.6a0.42 0.42 0 1 0 0.84 0a0.42 0.42 0 1 0 -0.84 0M397.3 361.1a0.39 0.39 0 1 0 0.77 0a0.39 0.39 0 1 0 -0.77 0M390.1 350.5a0.57 0.57 0 1 0 1.14 0a0.57 0.57 0 1 0 -1.14 0M389.8 352.1a0.70 0.70 0 1 0 1.39 0a0.70 0.70 0 1 0 -1.39 0M399.3 359.3a0.66 0.66 0 1 0 1.33 0a0.66 0.66 0 1 0 -1.33 0M395.7 362.8a0.36 0.36 0 1 0 0.72 0a0.36 0.36 0 1 0 -0.72 0M393.2 355.5a0.58 0.58 0 1 0 1.15 0a0.58 0.58 0 1 0 -1.15 0M400.1 362.1a0.46 0.46 0 1 0 0.93 0a0.46 0.46 0 1 0 -0.93 0M392.2 349.0a0.35 0.35 0 1 0 0.71 0a0.35 0.35 0 1 0 -0.71 0M401.5 361.1a0.57 0.57 0 1 0 1.14 0a0.57 0.57 0 1 0 -1.14 0M394.7 358.7a0.57 0.57 0 1 0 1.13 0a0.57 0.57 0 1 0 -1.13 0M392.7 361.1a0.65 0.65 0 1 0 1.31 0a0.65 0.65 0 1 0 -1.31 0M399.7 357.8a0.43 0.43 0 1 0 0.85 0a0.43 0.43 0 1 0 -0.85 0M393.5 348.5a0.66 0.66 0 1 0 1.32 0a0.66 0.66 0 1 0 -1.32 0M392.1 354.3a0.68 0.68 0 1 0 1.36 0a0.68 0.68 0 1 0 -1.36 0M391.3 357.6a0.61 0.61 0 1 0 1.21 0a0.61 0.61 0 1 0 -1.21 0M398.4 351.9a0.51 0.51 0 1 0 1.03 0a0.51 0.51 0 1 0 -1.03 0M395.3 353.7a0.56 0.56 0 1 0 1.12 0a0.56 0.56 0 1 0 -1.12 0M391.5 356.5a0.51 0.51 0 1 0 1.01 0a0.51 0.51 0 1 0 -1.01 0M396.6 350.9a0.68 0.68 0 1 0 1.36 0a0.68 0.68 0 1 0 -1.36 0M400.4 360.3a0.40 0.40 0 1 0 0.80 0a0.40 0.40 0 1 0 -0.80 0M392.8 355.3a0.42 0.42 0 1 0 0.83 0a0.42 0.42 0 1 0 -0.83 0M396.8 356.9a0.48 0.48 0 1 0 0.97 0a0.48 0.48 0 1 0 -0.97 0M398.6 357.3a0.44 0.44 0 1 0 0.88 0a0.44 0.44 0 1 0 -0.88 0M398.6 347.9a0.44 0.44 0 1 0 0.88 0a0.44 0.44 0 1 0 -0.88 0M395.5 358.4a0.62 0.62 0 1 0 1.23 0a0.62 0.62 0 1 0 -1.23 0M390.8 360.7a0.36 0.36 0 1 0 0.72 0a0.36 0.36 0 1 0 -0.72 0M399.5 350.3a0.35 0.35 0 1 0 0.71 0a0.35 0.35 0 1 0 -0.71 0M396.2 360.9a0.43 0.43 0 1 0 0.85 0a0.43 0.43 0 1 0 -0.85 0M400.7 358.4a0.58 0.58 0 1 0 1.16 0a0.58 0.58 0 1 0 -1.16 0M394.8 350.9a0.54 0.54 0 1 0 1.08 0a0.54 0.54 0 1 0 -1.08 0M399.8 357.5a0.40 0.40 0 1 0 0.80 0a0.40 0.40 0 1 0 -0.80 0M399.5 348.1a0.44 0.44 0 1 0 0.87 0a0.44 0.44 0 1 0 -0.87 0M396.9 349.0a0.58 0.58 0 1 0 1.16 0a0.58 0.58 0 1 0 -1.16 0M393.7 359.1a0.54 0.54 0 1 0 1.08 0a0.54 0.54 0 1 0 -1.08 0M401.7 353.6a0.63 0.63 0 1 0 1.26 0a0.63 0.63 0 1 0 -1.26 0M396.3 357.0a0.63 0.63 0 1 0 1.26 0a0.63 0.63 0 1 0 -1.26 0M395.8 361.6a0.41 0.41 0 1 0 0.83 0a0.41 0.41 0 1 0 -0.83 0M398.1 349.2a0.45 0.45 0 1 0 0.89 0a0.45 0.45 0 1 0 -0.89 0M397.3 356.3a0.62 0.62 0 1 0 1.23 0a0.62 0.62 0 1 0 -1.23 0M397.1 349.4a0.47 0.47 0 1 0 0.95 0a0.47 0.47 0 1 0 -0.95 0M402.5 355.3a0.44 0.44 0 1 0 0.88 0a0.44 0.44 0 1 0 -0.88 0M393.9 358.3a0.45 0.45 0 1 0 0.90 0a0.45 0.45 0 1 0 -0.90 0M401.6 357.7a0.50 0.50 0 1 0 1.00 0a0.50 0.50 0 1 0 -1.00 0M396.6 350.8a0.51 0.51 0 1 0 1.03 0a0.51 0.51 0 1 0 -1.03 0M402.2 350.7a0.59 0.59 0 1 0 1.17 0a0.59 0.59 0 1 0 -1.17 0M392.1 362.9a0.58 0.58 0 1 0 1.15 0a0.58 0.58 0 1 0 -1.15 0M401.3 353.8a0.66 0.66 0 1 0 1.32 0a0.66 0.66 0 1 0 -1.32 0M395.6 351.4a0.62 0.62 0 1 0 1.23 0a0.62 0.62 0 1 0 -1.23 0M398.3 349.7a0.55 0.55 0 1 0 1.10 0a0.55 0.55 0 1 0 -1.10 0M388.0 355.5a0.64 0.64 0 1 0 1.27 0a0.64 0.64 0 1 0 -1.27 0M396.8 359.4a0.45 0.45 0 1 0 0.89 0a0.45 0.45 0 1 0 -0.89 0M388.9 354.0a0.48 0.48 0 1 0 0.96 0a0.48 0.48 0 1 0 -0.96 0M396.7 354.3a0.37 0.37 0 1 0 0.75 0a0.37 0.37 0 1 0 -0.75 0M394.4 355.5a0.67 0.67 0 1 0 1.35 0a0.67 0.67 0 1 0 -1.35 0M397.0 386.7a0.69 0.69 0 1 0 1.38 0a0.69 0.69 0 1 0 -1.38 0M398.7 374.4a0.59 0.59 0 1 0 1.19 0a0.59 0.59 0 1 0 -1.19 0M394.4 383.8a0.56 0.56 0 1 0 1.13 0a0.56 0.56 0 1 0 -1.13 0M399.0 379.1a0.35 0.35 0 1 0 0.70 0a0.35 0.35 0 1 0 -0.70 0M394.5 374.1a0.69 0.69 0 1 0 1.38 0a0.69 0.69 0 1 0 -1.38 0M394.8 386.4a0.49 0.49 0 1 0 0.97 0a0.49 0.49 0 1 0 -0.97 0M399.8 378.6a0.57 0.57 0 1 0 1.15 0a0.57 0.57 0 1 0 -1.15 0M394.1 381.9a0.51 0.51 0 1 0 1.03 0a0.51 0.51 0 1 0 -1.03 0M397.1 375.6a0.42 0.42 0 1 0 0.84 0a0.42 0.42 0 1 0 -0.84 0M404.0 381.1a0.62 0.62 0 1 0 1.24 0a0.62 0.62 0 1 0 -1.24 0M392.9 382.9a0.56 0.56 0 1 0 1.12 0a0.56 0.56 0 1 0 -1.12 0M391.2 377.0a0.67 0.67 0 1 0 1.34 0a0.67 0.67 0 1 0 -1.34 0M395.5 376.9a0.67 0.67 0 1 0 1.34 0a0.67 0.67 0 1 0 -1.34 0M401.1 377.1a0.62 0.62 0 1 0 1.23 0a0.62 0.62 0 1 0 -1.23 0M397.5 386.3a0.63 0.63 0 1 0 1.26 0a0.63 0.63 0 1 0 -1.26 0M403.6 377.2a0.65 0.65 0 1 0 1.30 0a0.65 0.65 0 1 0 -1.30 0M398.5 377.3a0.58 0.58 0 1 0 1.16 0a0.58 0.58 0 1 0 -1.16 0M403.8 378.9a0.56 0.56 0 1 0 1.13 0a0.56 0.56 0 1 0 -1.13 0M399.6 374.7a0.58 0.58 0 1 0 1.15 0a0.58 0.58 0 1 0 -1.15 0M391.2 377.4a0.68 0.68 0 1 0 1.37 0a0.68 0.68 0 1 0 -1.37 0M393.8 376.7a0.42 0.42 0 1 0 0.84 0a0.42 0.42 0 1 0 -0.84 0M394.6 380.3a0.59 0.59 0 1 0 1.17 0a0.59 0.59 0 1 0 -1.17 0M394.0 385.0a0.65 0.65 0 1 0 1.30 0a0.65 0.65 0 1 0 -1.30 0M391.1 380.3a0.57 0.57 0 1 0 1.14 0a0.57 0.57 0 1 0 -1.14 0M398.6 379.8a0.39 0.39 0 1 0 0.77 0a0.39 0.39 0 1 0 -0.77 0M396.6 386.9a0.60 0.60 0 1 0 1.20 0a0.60 0.60 0 1 0 -1.20 0M401.2 379.6a0.37 0.37 0 1 0 0.73 0a0.37 0.37 0 1 0 -0.73 0M390.5 380.8a0.58 0.58 0 1 0 1.16 0a0.58 0.58 0 1 0 -1.16 0M391.0 381.2a0.60 0.60 0 1 0 1.20 0a0.60 0.60 0 1 0 -1.20 0M395.8 379.3a0.67 0.67 0 1 0 1.34 0a0.67 0.67 0 1 0 -1.34 0M399.3 380.5a0.37 0.37 0 1 0 0.73 0a0.37 0.37 0 1 0 -0.73 0M402.7 378.8a0.58 0.58 0 1 0 1.16 0a0.58 0.58 0 1 0 -1.16 0M391.6 382.3a0.50 0.50 0 1 0 1.01 0a0.50 0.50 0 1 0 -1.01 0M396.3 383.6a0.42 0.42 0 1 0 0.84 0a0.42 0.42 0 1 0 -0.84 0M398.2 377.7a0.49 0.49 0 1 0 0.98 0a0.49 0.49 0 1 0 -0.98 0M402.0 381.5a0.46 0.46 0 1 0 0.92 0a0.46 0.46 0 1 0 -0.92 0M397.8 381.6a0.62 0.62 0 1 0 1.25 0a0.62 0.62 0 1 0 -1.25 0M402.3 376.8a0.62 0.62 0 1 0 1.23 0a0.62 0.62 0 1 0 -1.23 0M396.8 381.5a0.42 0.42 0 1 0 0.84 0a0.42 0.42 0 1 0 -0.84 0M390.7 381.3a0.43 0.43 0 1 0 0.87 0a0.43 0.43 0 1 0 -0.87 0M396.4 382.4a0.67 0.67 0 1 0 1.33 0a0.67 0.67 0 1 0 -1.33 0M399.1 385.6a0.37 0.37 0 1 0 0.73 0a0.37 0.37 0 1 0 -0.73 0M400.1 383.0a0.38 0.38 0 1 0 0.75 0a0.38 0.38 0 1 0 -0.75 0M400.2 382.3a0.70 0.70 0 1 0 1.40 0a0.70 0.70 0 1 0 -1.40 0M399.7 375.1a0.65 0.65 0 1 0 1.29 0a0.65 0.65 0 1 0 -1.29 0M453.5 349.4a0.68 0.68 0 1 0 1.36 0a0.68 0.68 0 1 0 -1.36 0M455.2 346.7a0.61 0.61 0 1 0 1.22 0a0.61 0.61 0 1 0 -1.22 0M455.7 352.0a0.66 0.66 0 1 0 1.32 0a0.66 0.66 0 1 0 -1.32 0M456.1 349.0a0.59 0.59 0 1 0 1.18 0a0.59 0.59 0 1 0 -1.18 0M452.2 354.9a0.38 0.38 0 1 0 0.75 0a0.38 0.38 0 1 0 -0.75 0M451.4 352.7a0.64 0.64 0 1 0 1.29 0a0.64 0.64 0 1 0 -1.29 0M454.3 350.6a0.40 0.40 0 1 0 0.80 0a0.40 0.40 0 1 0 -0.80 0M449.4 353.0a0.68 0.68 0 1 0 1.36 0a0.68 0.68 0 1 0 -1.36 0M456.8 350.7a0.42 0.42 0 1 0 0.84 0a0.42 0.42 0 1 0 -0.84 0M454.7 354.0a0.60 0.60 0 1 0 1.21 0a0.60 0.60 0 1 0 -1.21 0M456.4 354.2a0.45 0.45 0 1 0 0.90 0a0.45 0.45 0 1 0 -0.90 0M452.4 346.9a0.39 0.39 0 1 0 0.79 0a0.39 0.39 0 1 0 -0.79 0M459.9 352.0a0.46 0.46 0 1 0 0.91 0a0.46 0.46 0 1 0 -0.91 0M458.4 350.9a0.65 0.65 0 1 0 1.29 0a0.65 0.65 0 1 0 -1.29 0M450.6 352.2a0.42 0.42 0 1 0 0.84 0a0.42 0.42 0 1 0 -0.84 0M455.6 356.2a0.61 0.61 0 1 0 1.23 0a0.61 0.61 0 1 0 -1.23 0M460.1 350.1a0.53 0.53 0 1 0 1.05 0a0.53 0.53 0 1 0 -1.05 0M456.4 352.5a0.36 0.36 0 1 0 0.71 0a0.36 0.36 0 1 0 -0.71 0M457.8 349.9a0.49 0.49 0 1 0 0.98 0a0.49 0.49 0 1 0 -0.98 0M456.7 357.1a0.40 0.40 0 1 0 0.81 0a0.40 0.40 0 1 0 -0.81 0M412.5 340.7a0.66 0.66 0 1 0 1.32 0a0.66 0.66 0 1 0 -1.32 0M409.8 344.8a0.47 0.47 0 1 0 0.94 0a0.47 0.47 0 1 0 -0.94 0M410.2 344.0a0.55 0.55 0 1 0 1.10 0a0.55 0.55 0 1 0 -1.10 0M413.6 343.2a0.39 0.39 0 1 0 0.79 0a0.39 0.39 0 1 0 -0.79 0M406.9 343.2a0.67 0.67 0 1 0 1.33 0a0.67 0.67 0 1 0 -1.33 0M405.0 340.0a0.59 0.59 0 1 0 1.18 0a0.59 0.59 0 1 0 -1.18 0M407.4 338.5a0.66 0.66 0 1 0 1.31 0a0.66 0.66 0 1 0 -1.31 0M407.7 342.1a0.67 0.67 0 1 0 1.34 0a0.67 0.67 0 1 0 -1.34 0M412.0 342.6a0.44 0.44 0 1 0 0.87 0a0.44 0.44 0 1 0 -0.87 0M410.2 338.8a0.67 0.67 0 1 0 1.34 0a0.67 0.67 0 1 0 -1.34 0M410.5 337.3a0.42 0.42 0 1 0 0.85 0a0.42 0.42 0 1 0 -0.85 0M412.5 345.9a0.54 0.54 0 1 0 1.09 0a0.54 0.54 0 1 0 -1.09 0M410.6 339.3a0.49 0.49 0 1 0 0.99 0a0.49 0.49 0 1 0 -0.99 0M409.9 346.3a0.59 0.59 0 1 0 1.19 0a0.59 0.59 0 1 0 -1.19 0M406.3 344.3a0.48 0.48 0 1 0 0.97 0a0.48 0.48 0 1 0 -0.97 0M464.3 379.1a0.49 0.49 0 1 0 0.97 0a0.49 0.49 0 1 0 -0.97 0M463.8 378.2a0.70 0.70 0 1 0 1.40 0a0.70 0.70 0 1 0 -1.40 0M462.7 375.7a0.39 0.39 0 1 0 0.77 0a0.39 0.39 0 1 0 -0.77 0M456.5 373.4a0.45 0.45 0 1 0 0.90 0a0.45 0.45 0 1 0 -0.90 0M460.1 377.8a0.68 0.68 0 1 0 1.36 0a0.68 0.68 0 1 0 -1.36 0M456.1 374.0a0.57 0.57 0 1 0 1.14 0a0.57 0.57 0 1 0 -1.14 0M461.7 372.3a0.43 0.43 0 1 0 0.86 0a0.43 0.43 0 1 0 -0.86 0M460.0 370.0a0.62 0.62 0 1 0 1.25 0a0.62 0.62 0 1 0 -1.25 0M459.7 375.1a0.46 0.46 0 1 0 0.93 0a0.46 0.46 0 1 0 -0.93 0M467.0 374.7a0.49 0.49 0 1 0 0.98 0a0.49 0.49 0 1 0 -0.98 0M460.5 372.6a0.55 0.55 0 1 0 1.09 0a0.55 0.55 0 1 0 -1.09 0M465.1 371.1a0.48 0.48 0 1 0 0.96 0a0.48 0.48 0 1 0 -0.96 0M463.0 376.5a0.45 0.45 0 1 0 0.90 0a0.45 0.45 0 1 0 -0.90 0M458.3 374.7a0.65 0.65 0 1 0 1.29 0a0.65 0.65 0 1 0 -1.29 0M462.9 369.6a0.57 0.57 0 1 0 1.15 0a0.57 0.57 0 1 0 -1.15 0" fill="#9a40a8" fill-opacity="0.65"/>
<line x1="461" y1="385" x2="468.5" y2="385" stroke="#7a7a7a" stroke-width="1"/>
</g>
<rect x="385.4" y="337" width="86.6" height="52.2" fill="none" stroke="#555" stroke-width="0.8"/>
<clipPath id="cp3"><rect x="296.2" y="392.8" width="86.3" height="50.8"/></clipPath>
<rect x="296.2" y="392.8" width="86.3" height="50.8" fill="#ad280c"/>
<g clip-path="url(#cp3)">
<path d="M316.7 443.2a2.43 2.43 0 1 0 4.87 0a2.43 2.43 0 1 0 -4.87 0M368.3 409.5a2.75 2.75 0 1 0 5.50 0a2.75 2.75 0 1 0 -5.50 0M315.3 435.8a1.21 1.21 0 1 0 2.42 0a1.21 1.21 0 1 0 -2.42 0M317.2 442.3a2.31 2.31 0 1 0 4.63 0a2.31 2.31 0 1 0 -4.63 0M375.4 413.5a2.59 2.59 0 1 0 5.17 0a2.59 2.59 0 1 0 -5.17 0M338.6 391.4a2.43 2.43 0 1 0 4.85 0a2.43 2.43 0 1 0 -4.85 0M358.7 438.0a2.04 2.04 0 1 0 4.07 0a2.04 2.04 0 1 0 -4.07 0M309.9 417.2a2.75 2.75 0 1 0 5.50 0a2.75 2.75 0 1 0 -5.50 0M334.9 429.6a1.25 1.25 0 1 0 2.50 0a1.25 1.25 0 1 0 -2.50 0M360.6 414.4a2.68 2.68 0 1 0 5.36 0a2.68 2.68 0 1 0 -5.36 0M321.9 397.2a1.27 1.27 0 1 0 2.54 0a1.27 1.27 0 1 0 -2.54 0M332.4 416.7a2.02 2.02 0 1 0 4.05 0a2.02 2.02 0 1 0 -4.05 0M346.0 422.1a2.35 2.35 0 1 0 4.69 0a2.35 2.35 0 1 0 -4.69 0M381.9 392.3a2.15 2.15 0 1 0 4.30 0a2.15 2.15 0 1 0 -4.30 0M329.0 439.3a2.32 2.32 0 1 0 4.63 0a2.32 2.32 0 1 0 -4.63 0M376.6 420.6a2.48 2.48 0 1 0 4.96 0a2.48 2.48 0 1 0 -4.96 0M328.8 423.6a1.34 1.34 0 1 0 2.68 0a1.34 1.34 0 1 0 -2.68 0M365.6 397.9a2.17 2.17 0 1 0 4.34 0a2.17 2.17 0 1 0 -4.34 0M359.1 406.6a2.11 2.11 0 1 0 4.21 0a2.11 2.11 0 1 0 -4.21 0M376.9 428.2a2.37 2.37 0 1 0 4.74 0a2.37 2.37 0 1 0 -4.74 0M333.0 414.9a2.15 2.15 0 1 0 4.29 0a2.15 2.15 0 1 0 -4.29 0M308.9 398.7a2.75 2.75 0 1 0 5.49 0a2.75 2.75 0 1 0 -5.49 0M309.7 438.4a2.15 2.15 0 1 0 4.31 0a2.15 2.15 0 1 0 -4.31 0M315.0 413.3a1.89 1.89 0 1 0 3.78 0a1.89 1.89 0 1 0 -3.78 0M301.8 439.7a1.64 1.64 0 1 0 3.27 0a1.64 1.64 0 1 0 -3.27 0M358.3 396.3a1.53 1.53 0 1 0 3.06 0a1.53 1.53 0 1 0 -3.06 0M319.7 417.0a2.09 2.09 0 1 0 4.18 0a2.09 2.09 0 1 0 -4.18 0M329.4 398.5a2.58 2.58 0 1 0 5.16 0a2.58 2.58 0 1 0 -5.16 0M368.8 432.8a2.69 2.69 0 1 0 5.38 0a2.69 2.69 0 1 0 -5.38 0M300.4 404.8a2.57 2.57 0 1 0 5.14 0a2.57 2.57 0 1 0 -5.14 0M358.9 427.7a1.48 1.48 0 1 0 2.97 0a1.48 1.48 0 1 0 -2.97 0M295.2 414.7a2.33 2.33 0 1 0 4.66 0a2.33 2.33 0 1 0 -4.66 0M322.0 415.1a1.66 1.66 0 1 0 3.33 0a1.66 1.66 0 1 0 -3.33 0M348.0 400.2a2.70 2.70 0 1 0 5.40 0a2.70 2.70 0 1 0 -5.40 0M325.3 432.6a2.13 2.13 0 1 0 4.26 0a2.13 2.13 0 1 0 -4.26 0M313.5 406.7a1.98 1.98 0 1 0 3.97 0a1.98 1.98 0 1 0 -3.97 0M350.7 428.2a2.53 2.53 0 1 0 5.05 0a2.53 2.53 0 1 0 -5.05 0M347.9 407.7a2.16 2.16 0 1 0 4.32 0a2.16 2.16 0 1 0 -4.32 0M318.3 428.7a1.93 1.93 0 1 0 3.85 0a1.93 1.93 0 1 0 -3.85 0M293.0 423.8a2.19 2.19 0 1 0 4.39 0a2.19 2.19 0 1 0 -4.39 0" fill="#f2c41c" fill-opacity="0.9"/>
<path d="M282.4 385.3L286.6 382.9L286.7 382.4L286.1 377.2L285.6 375.5L276.8 381.9ZM299.8 381.3L301.5 383.6L303.8 381.7L304.1 378.7L299.6 378.4ZM325.2 379.2L323.5 377.9L316.5 378.9L316.4 382.2L323.9 384.7L324.0 384.7L325.6 382.6ZM338.8 377.4L343.4 381.1L343.0 381.6L340.9 381.9L338.3 381.7ZM346.4 381.6L346.1 382.1L349.0 388.5L352.5 381.2L351.0 379.5L347.0 381.1ZM365.7 380.5L366.5 384.1L363.2 384.8L359.7 381.8L363.3 377.7ZM368.3 380.6L373.3 377.9L374.2 383.5L370.7 385.2L368.9 384.1ZM384.3 380.6L382.6 382.1L380.8 384.4L383.1 387.4L388.6 382.4L388.2 381.1ZM281.1 391.4L283.0 387.5L287.2 385.3L289.9 390.1L287.1 391.8ZM297.9 391.7L296.2 391.9L292.7 389.5L289.2 384.6L289.3 384.0L297.6 383.1L299.9 385.8L299.9 390.0ZM302.6 389.8L302.8 385.5L305.8 383.8L313.0 383.6L311.8 386.5L306.9 390.0ZM315.3 384.2L314.9 386.4L317.4 392.4L323.1 386.1L315.6 383.7ZM332.5 384.0L333.3 384.1L333.5 388.2L331.0 390.3L327.5 387.9L326.2 386.2L328.2 384.2ZM335.7 384.2L337.1 383.6L339.5 384.4L340.2 390.0L335.9 387.8ZM347.5 390.1L342.4 390.6L342.2 390.5L341.7 384.6L344.6 383.6L347.7 389.5L347.8 389.8ZM350.3 389.4L350.4 389.1L353.8 382.4L356.5 383.0L355.0 388.9ZM359.2 390.2L360.5 388.3L361.3 386.6L358.5 383.4L358.1 383.4L357.0 389.1ZM367.4 386.6L369.2 387.5L369.3 389.7L368.1 392.4L363.1 389.2L364.2 387.1ZM378.2 392.4L372.2 390.0L372.1 387.2L376.1 385.4L378.6 386.3L381.1 388.8L381.6 390.7ZM385.2 391.2L384.3 390.6L384.2 388.7L389.7 383.7L393.8 386.0L392.5 388.7ZM286.8 398.4L287.2 399.4L291.8 399.0L295.0 394.0L291.0 391.9L288.7 394.4ZM300.2 393.6L303.8 401.2L310.3 398.0L306.0 392.9L302.2 392.0ZM308.3 392.2L313.3 388.0L316.0 394.1L316.1 395.1L313.3 397.6L312.2 397.2ZM324.9 389.6L322.9 395.6L318.7 394.5L318.9 393.2L324.0 387.5L324.0 387.5ZM326.6 390.2L324.7 396.9L327.5 399.8L330.1 398.5L330.7 397.7L330.4 393.2ZM338.2 395.7L333.0 397.3L332.7 392.2L335.4 390.4L339.6 392.0L339.7 392.1ZM348.1 392.3L342.1 392.8L340.6 397.0L343.6 399.7L349.1 399.8L349.4 399.4ZM358.4 395.8L355.4 398.5L351.5 398.9L350.2 391.8L350.4 391.4L355.3 391.6L357.8 392.4ZM361.2 395.7L366.5 397.0L366.7 396.9L367.1 394.1L362.3 390.8L360.5 392.5ZM374.6 398.6L369.1 397.1L370.1 394.4L371.2 391.9L377.1 394.2ZM386.5 399.9L384.5 401.5L378.2 401.6L377.0 399.4L379.7 395.0L382.8 393.0L383.7 393.8L386.9 399.3ZM395.0 398.1L393.3 390.3L385.5 392.9L389.0 398.4ZM287.2 401.8L291.7 401.6L293.0 404.8L292.4 406.0L287.5 408.7L284.2 406.3ZM298.6 394.5L296.8 394.9L294.1 400.2L295.5 403.5L301.9 403.7L302.2 402.0ZM305.0 403.3L304.5 404.8L306.3 409.9L308.0 409.8L314.0 406.3L314.2 406.1L312.4 400.4L311.2 400.1ZM316.8 405.4L314.7 399.6L318.3 396.9L322.4 398.5L325.6 401.4L323.8 404.7L322.9 405.3ZM330.9 401.3L328.2 402.4L326.4 405.5L333.4 411.1L333.9 405.0ZM338.3 398.3L333.4 399.2L332.6 400.1L335.9 403.6L339.5 403.7L341.2 401.0ZM348.7 406.9L349.2 401.9L343.7 402.2L342.2 405.0L343.4 409.1L348.7 407.0ZM351.8 401.3L351.5 401.6L351.0 406.5L359.6 405.8L354.9 401.2ZM360.3 397.8L366.3 399.0L364.7 403.9L361.4 405.0L361.3 404.9L357.3 400.5ZM367.4 404.2L371.2 407.9L375.1 403.3L375.5 402.6L374.2 400.7L368.8 399.1L368.6 399.2ZM384.0 403.7L378.2 403.6L378.0 404.4L380.4 408.9L383.5 408.0ZM392.6 409.4L389.2 401.3L389.6 400.8L395.4 400.3L397.5 400.8L393.9 409.4ZM296.1 414.2L293.2 408.0L288.2 410.8L289.0 412.8L291.1 416.2ZM298.1 413.3L295.2 407.3L295.7 405.9L302.0 406.0L303.9 410.8L301.2 413.7ZM314.9 408.1L309.1 411.5L312.8 415.6L315.4 412.8ZM316.6 407.8L318.1 412.2L321.3 415.5L322.6 414.0L322.6 407.8L316.7 407.6ZM332.7 416.0L325.1 414.5L324.8 407.7L325.8 407.0L332.5 412.6L333.7 414.3L333.2 415.7ZM336.2 406.4L335.4 411.7L335.9 413.6L340.1 411.4L340.9 410.2L340.0 406.2ZM348.9 408.8L344.0 410.7L342.9 412.0L345.9 414.9L349.6 410.1ZM359.6 407.0L351.6 408.0L351.6 408.0L352.6 409.3L354.5 411.2L358.9 409.5L359.7 407.1ZM362.5 407.3L366.1 406.4L369.5 409.5L369.6 410.1L369.3 410.4L364.0 413.1L361.9 409.7ZM376.3 405.2L372.6 409.5L372.7 410.0L377.1 412.2L378.7 410.1ZM385.6 412.2L379.9 416.1L379.4 413.1L381.2 411.7L383.7 410.1ZM391.1 410.2L388.2 411.2L387.4 410.5L386.2 408.5L385.9 404.2L387.8 402.1ZM288.8 419.7L286.3 422.4L283.8 421.8L281.9 417.5L287.2 414.5L289.5 418.2ZM301.6 420.2L300.5 416.0L297.1 416.2L292.5 418.0L291.8 419.7L295.6 422.3ZM304.3 419.7L303.2 415.8L305.8 412.7L307.4 412.8L311.1 417.3L312.1 419.6L309.0 421.6L304.7 420.6ZM317.0 414.8L314.2 417.4L314.8 419.3L319.1 420.7L320.3 417.3ZM328.9 422.7L322.2 423.2L321.5 421.4L323.0 418.0L324.1 416.6L332.3 417.6ZM335.9 417.1L336.5 415.6L341.6 413.9L344.5 417.3L347.1 421.2L347.0 421.3L343.1 423.9ZM352.8 413.8L352.9 417.8L348.9 420.5L347.4 416.3L351.0 411.2ZM360.1 411.3L361.9 415.1L361.4 420.0L361.3 420.0L355.5 418.1L355.2 413.5ZM369.3 419.1L370.0 412.2L364.4 415.5L363.4 420.4L367.2 420.4ZM371.8 419.0L378.1 419.4L378.2 419.3L377.7 416.9L376.9 414.6L372.1 411.6L371.8 412.0ZM386.5 413.4L380.8 417.3L380.5 419.6L385.2 418.5L387.3 418.2L387.4 413.9ZM392.8 412.5L389.8 413.6L390.0 418.1L394.6 421.3L401.7 418.8L394.0 412.5ZM289.2 430.3L288.8 429.8L287.5 424.8L290.5 421.6L294.1 424.9L295.8 430.0L294.0 430.8ZM302.2 421.9L296.6 424.3L297.9 429.3L301.0 428.9L302.7 422.9ZM304.3 423.2L308.7 424.2L309.9 429.3L304.3 430.8L302.7 429.5ZM314.2 421.6L311.1 423.6L312.5 428.9L316.4 431.1L318.9 427.9L319.7 424.8L318.9 423.1ZM329.6 426.0L327.1 431.1L321.7 428.3L322.6 425.2L329.0 424.6ZM332.6 425.1L336.1 428.1L341.1 427.1L341.8 425.1L334.7 418.2L334.2 418.6L331.7 423.7ZM344.6 426.3L347.9 423.6L351.6 428.1L345.8 433.9L344.0 427.9ZM354.1 420.3L360.6 421.9L359.0 426.9L353.9 426.9L353.6 426.7L349.8 422.6L349.9 422.5ZM366.7 423.3L371.0 430.6L370.4 431.7L361.9 427.5L361.8 427.3L362.8 422.7L362.9 422.6ZM371.5 421.2L377.8 421.5L378.0 427.3L372.5 430.0L368.8 422.5ZM380.3 427.1L383.1 429.3L386.4 429.7L384.7 421.3L380.0 421.7L380.0 421.9ZM388.9 420.5L393.5 423.5L390.3 429.4L390.1 429.8L388.1 429.4L386.5 421.3ZM291.4 442.8L291.5 442.8L292.8 442.7L294.7 439.8L294.4 433.4L289.0 432.9L288.9 435.3ZM297.0 439.2L302.6 438.4L303.3 436.8L302.4 433.1L301.0 431.9L298.1 431.9L296.4 432.7ZM305.1 432.6L305.9 436.9L311.4 436.9L315.0 435.5L315.1 433.1L311.1 431.5ZM326.2 433.5L320.9 430.1L318.0 433.2L318.1 435.7L320.8 439.1L329.9 438.6L329.8 438.1ZM331.2 427.2L329.0 432.2L331.3 437.2L334.7 430.2ZM344.6 437.3L344.1 435.5L341.7 429.3L336.6 431.1L332.7 438.1L332.7 438.6L332.7 438.7L339.5 438.5ZM347.5 436.7L352.6 435.1L352.8 429.7L352.4 429.5L347.1 434.9L347.2 436.5ZM359.1 435.2L355.0 434.6L354.9 429.4L359.4 428.9L359.4 429.2ZM369.1 436.2L370.0 433.3L361.3 429.3L361.1 436.2L362.1 437.2L367.8 436.9ZM377.4 438.9L380.5 434.9L382.0 431.4L378.6 429.6L373.6 432.2L373.0 433.1L372.0 435.9ZM383.5 435.6L387.3 442.0L388.3 441.3L391.8 437.4L389.5 432.7L387.5 432.4L384.4 432.1ZM290.0 443.3L287.8 435.7L283.0 441.2L289.2 443.3ZM294.7 444.2L300.1 449.0L303.9 446.1L302.5 440.9L297.1 441.6ZM305.3 439.0L310.6 439.3L308.9 446.0L305.9 445.3L304.8 440.6ZM317.6 443.2L314.5 447.7L312.5 447.4L310.9 446.4L312.7 439.7L316.3 437.3L318.6 441.2L318.0 442.6ZM330.0 444.6L328.2 447.6L321.1 442.4L321.4 440.8L330.1 440.3L330.1 440.3ZM339.3 441.2L332.4 440.5L332.8 445.4L338.7 449.6L339.2 448.9ZM345.9 439.3L346.4 441.7L345.6 446.1L340.9 448.8L341.5 440.7L345.6 439.1ZM356.7 445.7L349.4 441.0L348.0 438.3L354.3 437.3L358.4 437.6L359.3 438.6L357.6 444.4ZM359.8 445.0L361.8 439.2L368.0 439.1L367.8 445.0L366.2 445.2ZM377.5 443.0L372.1 447.7L370.2 444.9L370.0 439.0L371.2 438.1L376.1 441.0ZM380.5 442.8L383.4 444.4L384.5 443.9L385.8 443.1L382.1 436.9L379.0 440.9ZM290.4 445.6L290.5 445.7L290.3 455.1L284.0 452.4L284.3 451.2L289.5 446.0ZM292.1 445.7L291.7 455.3L292.0 455.7L298.6 451.1L298.7 450.6L293.5 445.7ZM301.7 451.1L301.8 450.6L305.3 448.3L308.4 448.3L310.2 449.2L307.0 454.7L302.9 453.3ZM319.0 444.7L315.7 449.1L317.1 451.1L323.0 450.5ZM320.3 444.2L324.2 449.5L326.3 450.5L327.1 448.6L320.5 443.5ZM337.9 451.1L331.7 447.0L329.9 449.9L328.8 451.7L329.3 453.3L337.1 455.8L337.9 453.4ZM341.6 450.6L340.9 451.1L340.7 453.1L346.8 453.1L347.8 451.3L345.2 448.9ZM355.6 447.3L348.7 442.5L347.6 447.6L350.2 450.0L354.1 449.0L355.6 448.0ZM358.7 447.6L358.6 448.2L361.9 452.0L365.5 446.9L359.4 446.9ZM363.9 452.8L365.6 456.2L370.8 451.5L370.4 449.8L368.7 447.5L367.3 448.0ZM378.6 444.7L382.5 446.5L381.5 450.0L375.7 451.9L373.6 451.1L373.4 449.2ZM384.4 449.8L384.8 451.4L390.4 451.4L385.7 446.4L384.6 447.2ZM389.2 444.3L396.0 451.6L394.8 452.4L391.5 450.5L387.0 445.7L388.2 444.7Z" fill="#000" stroke="#000" stroke-width="1.6" stroke-linejoin="round"/>
<line x1="368.5" y1="440.1" x2="379" y2="440.1" stroke="#fff" stroke-width="1"/>
</g>
<clipPath id="cp4"><rect x="385.4" y="392.8" width="86.6" height="50.8"/></clipPath>
<rect x="385.4" y="392.8" width="86.6" height="50.8" fill="#c0641c"/>
<g clip-path="url(#cp4)">
<path d="M454.9 408.6a2.03 2.03 0 1 0 4.06 0a2.03 2.03 0 1 0 -4.06 0M446.9 413.7a1.93 1.93 0 1 0 3.86 0a1.93 1.93 0 1 0 -3.86 0M454.4 403.9a2.48 2.48 0 1 0 4.97 0a2.48 2.48 0 1 0 -4.97 0M466.2 396.6a1.92 1.92 0 1 0 3.83 0a1.92 1.92 0 1 0 -3.83 0M459.2 444.1a1.50 1.50 0 1 0 3.00 0a1.50 1.50 0 1 0 -3.00 0M406.0 436.4a1.34 1.34 0 1 0 2.69 0a1.34 1.34 0 1 0 -2.69 0M391.7 399.7a1.71 1.71 0 1 0 3.41 0a1.71 1.71 0 1 0 -3.41 0M410.8 404.6a2.63 2.63 0 1 0 5.26 0a2.63 2.63 0 1 0 -5.26 0M394.4 390.9a1.84 1.84 0 1 0 3.67 0a1.84 1.84 0 1 0 -3.67 0M389.3 419.4a1.66 1.66 0 1 0 3.33 0a1.66 1.66 0 1 0 -3.33 0M388.0 402.5a1.56 1.56 0 1 0 3.11 0a1.56 1.56 0 1 0 -3.11 0M446.2 414.1a2.66 2.66 0 1 0 5.32 0a2.66 2.66 0 1 0 -5.32 0M411.9 412.5a2.20 2.20 0 1 0 4.41 0a2.20 2.20 0 1 0 -4.41 0M436.3 420.9a1.63 1.63 0 1 0 3.25 0a1.63 1.63 0 1 0 -3.25 0M457.3 421.6a1.56 1.56 0 1 0 3.11 0a1.56 1.56 0 1 0 -3.11 0M420.5 425.1a1.75 1.75 0 1 0 3.49 0a1.75 1.75 0 1 0 -3.49 0M387.3 428.1a2.52 2.52 0 1 0 5.03 0a2.52 2.52 0 1 0 -5.03 0M470.8 414.5a1.88 1.88 0 1 0 3.77 0a1.88 1.88 0 1 0 -3.77 0M436.0 440.1a1.82 1.82 0 1 0 3.64 0a1.82 1.82 0 1 0 -3.64 0M411.4 444.8a1.96 1.96 0 1 0 3.92 0a1.96 1.96 0 1 0 -3.92 0M460.8 432.9a2.70 2.70 0 1 0 5.40 0a2.70 2.70 0 1 0 -5.40 0M403.4 393.9a2.63 2.63 0 1 0 5.27 0a2.63 2.63 0 1 0 -5.27 0M400.7 425.8a2.13 2.13 0 1 0 4.27 0a2.13 2.13 0 1 0 -4.27 0M411.2 405.6a1.68 1.68 0 1 0 3.36 0a1.68 1.68 0 1 0 -3.36 0M446.0 442.0a2.25 2.25 0 1 0 4.51 0a2.25 2.25 0 1 0 -4.51 0M429.3 404.1a2.63 2.63 0 1 0 5.26 0a2.63 2.63 0 1 0 -5.26 0M427.1 434.5a1.48 1.48 0 1 0 2.95 0a1.48 1.48 0 1 0 -2.95 0M443.7 391.2a2.75 2.75 0 1 0 5.49 0a2.75 2.75 0 1 0 -5.49 0M400.6 406.6a2.50 2.50 0 1 0 4.99 0a2.50 2.50 0 1 0 -4.99 0M400.9 414.3a2.69 2.69 0 1 0 5.38 0a2.69 2.69 0 1 0 -5.38 0M421.3 430.7a1.44 1.44 0 1 0 2.89 0a1.44 1.44 0 1 0 -2.89 0M395.3 420.2a2.80 2.80 0 1 0 5.60 0a2.80 2.80 0 1 0 -5.60 0M457.7 423.3a1.43 1.43 0 1 0 2.86 0a1.43 1.43 0 1 0 -2.86 0M443.0 406.8a1.98 1.98 0 1 0 3.97 0a1.98 1.98 0 1 0 -3.97 0M415.1 437.3a2.77 2.77 0 1 0 5.54 0a2.77 2.77 0 1 0 -5.54 0M409.5 417.0a2.46 2.46 0 1 0 4.91 0a2.46 2.46 0 1 0 -4.91 0M394.9 434.9a2.55 2.55 0 1 0 5.10 0a2.55 2.55 0 1 0 -5.10 0M423.8 421.9a1.39 1.39 0 1 0 2.79 0a1.39 1.39 0 1 0 -2.79 0M409.5 433.5a1.38 1.38 0 1 0 2.75 0a1.38 1.38 0 1 0 -2.75 0M394.5 391.6a1.36 1.36 0 1 0 2.73 0a1.36 1.36 0 1 0 -2.73 0M385.6 441.8a1.34 1.34 0 1 0 2.68 0a1.34 1.34 0 1 0 -2.68 0M469.0 429.7a2.11 2.11 0 1 0 4.22 0a2.11 2.11 0 1 0 -4.22 0M405.6 393.4a2.44 2.44 0 1 0 4.88 0a2.44 2.44 0 1 0 -4.88 0M444.7 402.9a2.33 2.33 0 1 0 4.65 0a2.33 2.33 0 1 0 -4.65 0M466.9 411.6a2.50 2.50 0 1 0 5.01 0a2.50 2.50 0 1 0 -5.01 0M439.8 438.5a1.71 1.71 0 1 0 3.43 0a1.71 1.71 0 1 0 -3.43 0M397.5 434.1a1.46 1.46 0 1 0 2.91 0a1.46 1.46 0 1 0 -2.91 0M419.3 402.5a2.58 2.58 0 1 0 5.16 0a2.58 2.58 0 1 0 -5.16 0M447.0 428.9a2.62 2.62 0 1 0 5.23 0a2.62 2.62 0 1 0 -5.23 0M470.4 421.9a2.71 2.71 0 1 0 5.42 0a2.71 2.71 0 1 0 -5.42 0M442.9 404.8a2.10 2.10 0 1 0 4.19 0a2.10 2.10 0 1 0 -4.19 0M435.9 420.3a1.35 1.35 0 1 0 2.69 0a1.35 1.35 0 1 0 -2.69 0M429.6 409.2a2.45 2.45 0 1 0 4.89 0a2.45 2.45 0 1 0 -4.89 0M410.5 420.7a2.43 2.43 0 1 0 4.86 0a2.43 2.43 0 1 0 -4.86 0M399.6 402.5a2.06 2.06 0 1 0 4.11 0a2.06 2.06 0 1 0 -4.11 0M388.9 413.7a2.31 2.31 0 1 0 4.62 0a2.31 2.31 0 1 0 -4.62 0M469.3 392.7a1.21 1.21 0 1 0 2.41 0a1.21 1.21 0 1 0 -2.41 0M440.1 420.4a2.76 2.76 0 1 0 5.52 0a2.76 2.76 0 1 0 -5.52 0M391.2 409.8a1.33 1.33 0 1 0 2.66 0a1.33 1.33 0 1 0 -2.66 0M455.5 402.5a2.79 2.79 0 1 0 5.59 0a2.79 2.79 0 1 0 -5.59 0M468.3 403.7a1.71 1.71 0 1 0 3.41 0a1.71 1.71 0 1 0 -3.41 0M451.3 436.0a1.49 1.49 0 1 0 2.99 0a1.49 1.49 0 1 0 -2.99 0M405.7 425.3a2.49 2.49 0 1 0 4.99 0a2.49 2.49 0 1 0 -4.99 0M440.9 433.3a1.44 1.44 0 1 0 2.88 0a1.44 1.44 0 1 0 -2.88 0M447.4 444.9a2.14 2.14 0 1 0 4.28 0a2.14 2.14 0 1 0 -4.28 0M415.7 434.6a2.50 2.50 0 1 0 4.99 0a2.50 2.50 0 1 0 -4.99 0M461.1 435.2a2.04 2.04 0 1 0 4.07 0a2.04 2.04 0 1 0 -4.07 0M435.9 426.8a1.93 1.93 0 1 0 3.87 0a1.93 1.93 0 1 0 -3.87 0M461.7 437.2a2.06 2.06 0 1 0 4.12 0a2.06 2.06 0 1 0 -4.12 0M382.9 401.1a1.43 1.43 0 1 0 2.86 0a1.43 1.43 0 1 0 -2.86 0M467.4 403.3a2.08 2.08 0 1 0 4.16 0a2.08 2.08 0 1 0 -4.16 0M421.8 413.5a2.70 2.70 0 1 0 5.41 0a2.70 2.70 0 1 0 -5.41 0M423.6 399.5a2.20 2.20 0 1 0 4.41 0a2.20 2.20 0 1 0 -4.41 0M389.6 442.3a2.37 2.37 0 1 0 4.73 0a2.37 2.37 0 1 0 -4.73 0M446.1 391.9a1.62 1.62 0 1 0 3.24 0a1.62 1.62 0 1 0 -3.24 0" fill="#f2c41c" fill-opacity="0.9"/>
<path d="M393.2 412.0a8.80 13.20 0 1 0 17.60 0a8.80 13.20 0 1 0 -17.60 0M417.8 402.0a13.20 6.60 0 1 0 26.40 0a13.20 6.60 0 1 0 -26.40 0M435.3 423.0a7.70 8.80 0 1 0 15.40 0a7.70 8.80 0 1 0 -15.40 0M422.4 428.0a6.60 6.60 0 1 0 13.20 0a6.60 6.60 0 1 0 -13.20 0M450.2 432.0a8.80 6.60 0 1 0 17.60 0a8.80 6.60 0 1 0 -17.60 0M446.3 399.0a7.70 5.50 0 1 0 15.40 0a7.70 5.50 0 1 0 -15.40 0M408.5 439.0a5.50 5.50 0 1 0 11.00 0a5.50 5.50 0 1 0 -11.00 0M382.5 424.0a5.50 5.50 0 1 0 11.00 0a5.50 5.50 0 1 0 -11.00 0" fill="#c8e030" fill-opacity="0.85"/>
<path d="M396.3 389.2L397.6 383.7L391.8 379.4L388.0 385.2L395.7 389.5ZM417.7 376.7L415.1 383.0L420.1 384.3L421.7 383.7L422.6 380.7L420.5 376.2ZM472.0 383.5L468.6 385.0L462.4 384.6L463.6 379.8L471.3 377.1ZM370.8 391.2L369.9 384.4L375.3 382.6L376.8 381.9L381.1 386.3L380.2 391.1ZM394.8 390.7L386.8 386.6L383.8 387.3L382.6 391.8L383.2 393.8L394.4 391.3ZM398.5 389.9L400.1 383.9L405.3 380.4L408.6 384.9L407.2 392.1L405.7 392.4ZM418.9 386.4L416.3 392.2L410.8 393.4L409.2 392.5L410.7 385.4L413.6 385.1ZM422.7 386.4L428.0 391.8L425.3 398.0L424.5 398.2L418.9 393.1L420.9 387.1ZM425.1 381.7L426.1 381.6L433.6 385.5L433.6 388.8L429.2 390.1L424.0 385.1ZM436.6 385.8L437.3 383.3L441.7 381.9L444.0 384.5L445.2 390.3L438.8 390.2L436.2 388.8ZM451.5 381.0L456.8 387.6L455.9 389.2L455.6 389.4L448.8 390.8L447.7 390.4L446.7 384.7ZM469.2 392.1L467.8 387.3L461.9 386.5L459.7 388.1L458.8 389.7L467.4 395.3ZM476.2 386.5L478.3 391.6L471.5 391.5L470.4 387.0L473.6 385.5ZM478.7 386.4L480.4 391.4L481.4 392.9L491.2 388.8L482.1 383.5ZM381.4 399.3L372.8 403.2L369.5 395.4L371.0 393.2L380.0 393.2L380.7 395.2ZM392.0 399.3L389.0 401.0L385.5 400.2L384.2 399.5L383.4 395.5L394.7 392.6ZM397.5 391.9L404.6 394.1L401.1 401.1L394.5 398.7L396.8 392.8L397.0 392.2ZM403.1 402.0L404.0 405.4L411.9 404.5L412.3 403.7L409.5 396.1L408.0 394.9L406.5 395.3ZM411.3 395.4L417.4 394.8L423.3 399.5L420.7 401.6L414.3 403.4ZM430.3 392.8L434.5 391.0L437.3 392.6L436.5 400.7L432.1 402.6L427.2 398.9ZM444.7 403.3L438.7 401.0L439.5 392.8L445.8 392.5L446.8 393.1L446.2 401.6ZM456.1 402.7L457.2 401.5L456.4 391.4L448.7 393.0L448.2 402.0ZM466.6 396.5L468.4 402.2L459.1 401.2L457.9 391.2L458.2 390.9ZM471.5 393.9L478.5 393.7L479.7 395.1L478.9 399.5L478.1 400.2L470.9 402.5L470.6 402.2L469.6 396.9ZM381.9 401.2L373.7 404.9L373.2 405.8L378.9 412.2L381.7 408.7L383.2 402.1ZM390.5 412.4L384.1 409.2L385.1 402.4L389.1 403.9L391.2 409.1ZM394.3 401.0L391.0 402.9L393.5 408.7L400.9 407.6L401.6 406.2L400.4 403.2ZM411.2 415.8L412.6 412.1L411.8 406.6L404.2 407.6L403.5 409.0L404.8 413.4ZM414.6 405.5L420.8 403.6L421.9 411.3L414.8 411.2L414.2 406.2ZM425.2 401.1L423.0 403.4L423.7 410.9L424.9 412.0L430.7 408.5L430.5 404.5L425.9 400.9ZM443.6 405.2L437.6 403.3L433.3 404.7L433.4 408.6L436.6 412.3L443.4 406.8ZM449.1 412.2L446.4 406.8L446.4 405.3L447.9 404.1L455.5 404.5L455.5 408.2ZM458.4 408.2L458.3 404.6L459.4 403.5L468.2 404.0L468.6 404.3L468.2 410.7L462.2 413.6ZM478.6 402.3L471.1 404.7L470.7 410.8L473.2 413.1L481.2 410.3ZM377.5 413.9L372.1 407.2L371.3 407.8L369.0 413.8L371.4 417.2L377.8 420.0L378.9 419.3ZM389.6 418.7L389.8 414.4L383.3 411.2L380.4 414.3L381.1 419.5L388.0 420.0ZM392.0 418.4L392.7 413.9L393.5 411.0L401.1 409.5L402.1 414.3L397.7 418.7ZM403.7 424.5L407.6 423.9L411.5 420.7L410.7 417.8L404.2 415.7L399.6 420.2ZM413.5 417.2L415.1 413.6L422.1 413.5L423.4 414.4L424.0 421.0L421.7 423.7L414.3 420.1ZM426.2 420.8L436.0 419.5L434.8 414.3L431.8 410.7L426.0 414.0ZM447.4 414.5L442.7 418.9L438.9 419.8L438.3 419.3L437.7 414.2L444.5 408.2L447.4 414.2ZM449.4 415.5L444.4 420.5L450.8 425.4L457.5 422.8L457.4 421.5ZM450.3 414.3L458.2 420.3L460.5 415.0L456.5 410.0L450.3 413.9ZM460.3 421.1L460.2 422.4L460.4 422.5L471.7 421.3L473.0 420.2L471.4 415.4L468.8 412.9L463.0 416.1ZM480.3 421.0L483.4 419.7L482.1 412.2L482.0 412.1L474.1 415.0L475.7 419.6ZM387.6 422.1L380.6 421.7L379.6 422.3L377.6 426.8L383.0 433.8L388.4 427.6ZM398.4 432.7L401.4 425.9L397.5 421.5L391.7 420.7L390.0 422.1L391.3 427.6L397.1 433.4ZM400.4 433.4L406.9 434.9L409.6 432.9L407.6 426.7L403.6 427.1ZM413.5 422.1L420.9 425.8L421.3 430.2L417.6 433.2L411.9 432.4L409.6 425.9ZM436.3 426.6L428.8 433.0L424.0 429.9L423.8 425.2L426.4 422.8L436.0 421.3L436.6 421.7ZM443.0 421.9L439.0 421.9L439.3 426.6L442.5 431.8L448.3 428.3L449.0 426.7ZM451.8 427.4L451.2 429.0L453.6 434.7L462.0 434.2L462.2 432.2L458.6 424.7L458.5 424.6ZM460.5 424.0L471.9 422.8L469.8 428.9L464.2 431.6ZM473.9 423.1L474.9 421.9L479.4 423.5L479.3 429.0L477.0 431.1L472.3 428.8ZM381.6 435.7L374.4 438.5L370.9 431.8L376.3 428.6L381.6 435.0ZM396.0 435.2L395.0 437.3L391.5 440.9L387.7 440.5L384.5 436.3L384.6 435.6L389.9 429.6ZM399.9 435.3L405.9 436.9L407.1 442.2L404.2 443.9L398.0 437.8L398.7 435.8ZM416.4 437.6L416.9 435.4L411.4 434.9L408.7 436.9L409.3 442.0L413.2 443.3ZM424.1 444.1L425.2 444.6L427.7 435.9L427.3 435.3L423.0 432.2L419.5 435.3L419.3 437.4ZM437.5 428.2L430.1 434.5L430.5 435.2L437.4 438.6L440.3 437.6L440.8 433.6ZM443.6 434.0L442.9 437.8L447.9 440.6L451.3 435.9L449.1 430.3ZM459.6 443.1L450.8 444.0L449.7 441.7L453.8 437.1L461.9 436.1L462.4 437.7ZM472.7 440.4L475.5 437.4L475.8 433.1L470.8 431.1L464.9 433.5L464.6 435.2L465.2 436.8ZM378.8 449.6L378.4 450.1L374.3 444.2L374.3 443.2L374.7 440.8L382.2 437.5L385.5 442.2ZM391.0 448.6L380.3 450.5L387.5 443.2L391.1 443.5L392.3 446.7ZM403.2 445.2L396.8 439.0L393.4 442.9L395.1 446.2L401.1 450.2ZM413.1 447.2L413.1 449.7L403.6 452.6L403.2 450.7L406.0 446.2L408.4 444.6L412.1 445.6ZM422.8 445.2L415.6 445.9L414.9 444.4L417.8 438.8ZM428.0 447.4L426.9 445.4L429.4 436.8L436.5 440.8L434.4 446.6ZM445.2 452.2L447.4 449.7L448.1 445.1L447.0 442.9L441.8 440.0L438.9 441.2L436.9 447.3L437.3 447.7ZM456.9 452.4L449.9 450.3L450.9 445.7L459.6 445.1L460.8 448.7ZM468.5 450.7L473.6 448.2L472.2 442.5L464.4 438.6L462.2 444.4L463.5 448.0ZM476.0 447.8L478.0 448.6L495.6 442.4L477.6 439.3L474.8 442.2ZM390.8 450.4L388.4 458.4L382.8 458.5L379.7 455.7L379.8 452.4L380.2 452.1ZM401.1 453.9L400.8 456.8L399.7 458.2L395.3 459.7L390.9 458.5L393.2 450.8L394.4 448.3L400.7 452.3ZM415.5 455.2L413.3 459.0L403.6 457.1L404.0 453.9L413.5 451.4ZM423.3 446.8L424.4 447.0L425.7 448.9L424.2 453.3L417.9 454.0L415.9 450.1L416.0 447.6ZM433.4 455.9L427.7 456.0L426.5 453.9L428.2 449.7L434.4 448.7L434.7 449.1ZM467.5 452.9L462.5 450.3L458.9 454.1L460.0 462.2L466.5 456.5ZM470.1 452.9L474.8 450.3L476.7 451.3L480.1 460.0L479.8 460.3L470.5 457.6L469.3 456.7Z" fill="#000" stroke="#000" stroke-width="1.6" stroke-linejoin="round"/>
<path d="M402.1 410.5a0.91 0.91 0 1 0 1.81 0a0.91 0.91 0 1 0 -1.81 0M402.0 406.4a1.47 1.47 0 1 0 2.93 0a1.47 1.47 0 1 0 -2.93 0M402.7 407.3a1.77 1.77 0 1 0 3.54 0a1.77 1.77 0 1 0 -3.54 0M396.9 414.2a1.86 1.86 0 1 0 3.73 0a1.86 1.86 0 1 0 -3.73 0M403.5 413.7a1.28 1.28 0 1 0 2.55 0a1.28 1.28 0 1 0 -2.55 0M399.1 415.2a1.56 1.56 0 1 0 3.12 0a1.56 1.56 0 1 0 -3.12 0M399.6 412.2a1.63 1.63 0 1 0 3.27 0a1.63 1.63 0 1 0 -3.27 0M401.2 415.0a0.93 0.93 0 1 0 1.87 0a0.93 0.93 0 1 0 -1.87 0M400.2 410.7a1.49 1.49 0 1 0 2.99 0a1.49 1.49 0 1 0 -2.99 0M398.0 416.1a1.37 1.37 0 1 0 2.74 0a1.37 1.37 0 1 0 -2.74 0M402.6 416.5a1.13 1.13 0 1 0 2.25 0a1.13 1.13 0 1 0 -2.25 0M400.5 411.5a1.09 1.09 0 1 0 2.18 0a1.09 1.09 0 1 0 -2.18 0M398.9 414.9a1.13 1.13 0 1 0 2.26 0a1.13 1.13 0 1 0 -2.26 0M401.6 410.4a1.32 1.32 0 1 0 2.63 0a1.32 1.32 0 1 0 -2.63 0M401.6 406.5a1.35 1.35 0 1 0 2.69 0a1.35 1.35 0 1 0 -2.69 0M434.1 401.8a1.42 1.42 0 1 0 2.84 0a1.42 1.42 0 1 0 -2.84 0M430.6 404.0a1.87 1.87 0 1 0 3.73 0a1.87 1.87 0 1 0 -3.73 0M426.6 402.8a1.62 1.62 0 1 0 3.25 0a1.62 1.62 0 1 0 -3.25 0M432.7 403.8a1.93 1.93 0 1 0 3.87 0a1.93 1.93 0 1 0 -3.87 0M434.1 400.5a1.49 1.49 0 1 0 2.98 0a1.49 1.49 0 1 0 -2.98 0M432.8 403.2a1.67 1.67 0 1 0 3.34 0a1.67 1.67 0 1 0 -3.34 0M432.6 400.9a1.22 1.22 0 1 0 2.45 0a1.22 1.22 0 1 0 -2.45 0M430.8 402.2a1.17 1.17 0 1 0 2.34 0a1.17 1.17 0 1 0 -2.34 0M425.6 402.3a1.03 1.03 0 1 0 2.07 0a1.03 1.03 0 1 0 -2.07 0M434.5 400.8a1.11 1.11 0 1 0 2.21 0a1.11 1.11 0 1 0 -2.21 0M426.3 403.5a1.80 1.80 0 1 0 3.60 0a1.80 1.80 0 1 0 -3.60 0M427.2 403.4a1.41 1.41 0 1 0 2.82 0a1.41 1.41 0 1 0 -2.82 0M443.5 420.9a1.76 1.76 0 1 0 3.53 0a1.76 1.76 0 1 0 -3.53 0M441.3 419.7a1.18 1.18 0 1 0 2.36 0a1.18 1.18 0 1 0 -2.36 0M439.4 425.2a1.44 1.44 0 1 0 2.88 0a1.44 1.44 0 1 0 -2.88 0M439.6 423.8a1.20 1.20 0 1 0 2.41 0a1.20 1.20 0 1 0 -2.41 0M438.3 424.3a1.74 1.74 0 1 0 3.48 0a1.74 1.74 0 1 0 -3.48 0M441.5 421.4a1.39 1.39 0 1 0 2.78 0a1.39 1.39 0 1 0 -2.78 0M441.5 421.6a1.40 1.40 0 1 0 2.81 0a1.40 1.40 0 1 0 -2.81 0M444.3 420.3a1.06 1.06 0 1 0 2.12 0a1.06 1.06 0 1 0 -2.12 0M442.6 424.1a1.15 1.15 0 1 0 2.29 0a1.15 1.15 0 1 0 -2.29 0M442.1 421.7a1.28 1.28 0 1 0 2.56 0a1.28 1.28 0 1 0 -2.56 0M428.0 430.9a1.18 1.18 0 1 0 2.36 0a1.18 1.18 0 1 0 -2.36 0M427.4 427.2a1.63 1.63 0 1 0 3.27 0a1.63 1.63 0 1 0 -3.27 0M426.1 430.3a1.90 1.90 0 1 0 3.81 0a1.90 1.90 0 1 0 -3.81 0M427.8 430.6a1.74 1.74 0 1 0 3.49 0a1.74 1.74 0 1 0 -3.49 0M426.7 427.8a1.37 1.37 0 1 0 2.73 0a1.37 1.37 0 1 0 -2.73 0M429.0 428.2a1.57 1.57 0 1 0 3.13 0a1.57 1.57 0 1 0 -3.13 0M427.7 429.0a1.82 1.82 0 1 0 3.63 0a1.82 1.82 0 1 0 -3.63 0M461.7 432.2a1.00 1.00 0 1 0 2.01 0a1.00 1.00 0 1 0 -2.01 0M459.0 434.9a1.00 1.00 0 1 0 2.00 0a1.00 1.00 0 1 0 -2.00 0M459.7 432.6a1.32 1.32 0 1 0 2.65 0a1.32 1.32 0 1 0 -2.65 0M455.3 431.7a1.83 1.83 0 1 0 3.66 0a1.83 1.83 0 1 0 -3.66 0M460.9 432.0a1.86 1.86 0 1 0 3.73 0a1.86 1.86 0 1 0 -3.73 0M457.9 430.8a1.53 1.53 0 1 0 3.06 0a1.53 1.53 0 1 0 -3.06 0M456.6 433.5a1.48 1.48 0 1 0 2.95 0a1.48 1.48 0 1 0 -2.95 0M456.4 429.5a1.70 1.70 0 1 0 3.41 0a1.70 1.70 0 1 0 -3.41 0M460.5 431.0a1.20 1.20 0 1 0 2.41 0a1.20 1.20 0 1 0 -2.41 0M450.4 400.1a1.71 1.71 0 1 0 3.43 0a1.71 1.71 0 1 0 -3.43 0M453.0 399.6a1.79 1.79 0 1 0 3.59 0a1.79 1.79 0 1 0 -3.59 0M453.8 400.9a1.12 1.12 0 1 0 2.24 0a1.12 1.12 0 1 0 -2.24 0M454.5 397.9a1.87 1.87 0 1 0 3.74 0a1.87 1.87 0 1 0 -3.74 0M450.3 400.5a1.05 1.05 0 1 0 2.09 0a1.05 1.05 0 1 0 -2.09 0M454.3 398.1a1.78 1.78 0 1 0 3.55 0a1.78 1.78 0 1 0 -3.55 0M450.4 399.0a1.72 1.72 0 1 0 3.44 0a1.72 1.72 0 1 0 -3.44 0M415.4 439.3a0.91 0.91 0 1 0 1.82 0a0.91 0.91 0 1 0 -1.82 0M411.8 441.2a1.37 1.37 0 1 0 2.74 0a1.37 1.37 0 1 0 -2.74 0M412.8 437.4a1.42 1.42 0 1 0 2.85 0a1.42 1.42 0 1 0 -2.85 0M413.2 437.5a1.08 1.08 0 1 0 2.16 0a1.08 1.08 0 1 0 -2.16 0M413.2 439.5a1.74 1.74 0 1 0 3.49 0a1.74 1.74 0 1 0 -3.49 0M411.5 438.1a1.13 1.13 0 1 0 2.25 0a1.13 1.13 0 1 0 -2.25 0M386.9 423.7a1.99 1.99 0 1 0 3.99 0a1.99 1.99 0 1 0 -3.99 0M386.3 425.3a1.06 1.06 0 1 0 2.11 0a1.06 1.06 0 1 0 -2.11 0M388.8 423.2a1.36 1.36 0 1 0 2.72 0a1.36 1.36 0 1 0 -2.72 0M387.2 422.1a1.34 1.34 0 1 0 2.69 0a1.34 1.34 0 1 0 -2.69 0M387.4 424.3a1.55 1.55 0 1 0 3.10 0a1.55 1.55 0 1 0 -3.10 0M384.6 424.9a1.81 1.81 0 1 0 3.62 0a1.81 1.81 0 1 0 -3.62 0" fill="#9fe430" fill-opacity="0.92"/>
<line x1="458" y1="440.1" x2="468.5" y2="440.1" stroke="#fff" stroke-width="1"/>
</g>
<line x1="510.7" y1="324.4" x2="510.7" y2="434.8" stroke="#555" stroke-width="0.8"/>
<line x1="510.7" y1="434.8" x2="624.2" y2="434.8" stroke="#555" stroke-width="0.8"/>
<text x="507.6" y="328.1" font-size="7.2" text-anchor="end" stroke="#231f20" stroke-width="0.216">0.4</text>
<text x="507.6" y="353.85" font-size="7.2" text-anchor="end" stroke="#231f20" stroke-width="0.216">0.3</text>
<text x="507.6" y="379.6" font-size="7.2" text-anchor="end" stroke="#231f20" stroke-width="0.216">0.2</text>
<text x="507.6" y="405.35" font-size="7.2" text-anchor="end" stroke="#231f20" stroke-width="0.216">0.1</text>
<text x="507.6" y="431.1" font-size="7.2" text-anchor="end" stroke="#231f20" stroke-width="0.216">0.0</text>
<text x="516.4" y="443.2" font-size="7.2" text-anchor="middle" stroke="#231f20" stroke-width="0.216">0.0</text>
<text x="543.4" y="443.2" font-size="7.2" text-anchor="middle" stroke="#231f20" stroke-width="0.216">2.5</text>
<text x="570.4" y="443.2" font-size="7.2" text-anchor="middle" stroke="#231f20" stroke-width="0.216">5.0</text>
<text x="597.4" y="443.2" font-size="7.2" text-anchor="middle" stroke="#231f20" stroke-width="0.216">7.5</text>
<text x="624.4" y="443.2" font-size="7.2" text-anchor="middle" stroke="#231f20" stroke-width="0.216">10.0</text>
<text x="568.2" y="449.9" font-size="7.2" text-anchor="middle" stroke="#231f20" stroke-width="0.216">Adipocyte size (μm²×1000)</text>
<text x="493.4" y="379.5" font-size="7.6" text-anchor="middle" transform="rotate(-90 493.4 379.5)" textLength="52" lengthAdjust="spacingAndGlyphs" stroke="#231f20" stroke-width="0.228">Density (×1000)</text>
<path d="M516.2 410.5 C517.1 407.25 519.57 395.68 521.6 391 C523.63 386.32 526.37 383.75 528.4 382.4 C530.43 381.05 531.55 382.13 533.8 382.9 C536.05 383.67 539.78 386.65 541.9 387 C544.02 387.35 544.93 385.77 546.5 385 C548.07 384.23 549.38 381.85 551.3 382.4 C553.22 382.95 555.75 385.97 558 388.3 C560.25 390.63 562.32 393.92 564.8 396.4 C567.28 398.88 570.2 400.5 572.9 403.2 C575.6 405.9 577.85 409.68 581 412.6 C584.15 415.52 587.75 418.22 591.8 420.7 C595.85 423.18 600.8 426.05 605.3 427.5 C609.8 428.95 616.55 429.08 618.8 429.4" fill="none" stroke="#666" stroke-width="0.8"/>
<path d="M515.7 364 C516.47 358.15 518.42 330.25 520.3 328.9 C522.18 327.55 524.75 347.25 527 355.9 C529.25 364.55 532 375.95 533.8 380.8 C535.6 385.65 535.78 383.97 537.8 385 C539.82 386.03 543.42 385.1 545.9 387 C548.38 388.9 550.68 393.25 552.7 396.4 C554.72 399.55 555.98 402.75 558 405.9 C560.02 409.05 562.32 412.6 564.8 415.3 C567.28 418 569.75 420.2 572.9 422.1 C576.05 424 579.65 425.58 583.7 426.7 C587.75 427.82 591.35 428.35 597.2 428.8 C603.05 429.25 615.2 429.3 618.8 429.4" fill="none" stroke="#b28cf5" stroke-width="0.9"/>
<line x1="564.3" y1="322.2" x2="564.3" y2="381" stroke="#555" stroke-width="0.7"/>
<line x1="564.3" y1="381" x2="631.5" y2="381" stroke="#555" stroke-width="0.7"/>
<text x="563" y="330.6" font-size="5.6" text-anchor="end" stroke="#231f20" stroke-width="0.168">10.0</text>
<text x="563" y="341.32" font-size="5.6" text-anchor="end" stroke="#231f20" stroke-width="0.168">7.5</text>
<text x="563" y="352.05" font-size="5.6" text-anchor="end" stroke="#231f20" stroke-width="0.168">5.0</text>
<text x="563" y="362.77" font-size="5.6" text-anchor="end" stroke="#231f20" stroke-width="0.168">2.5</text>
<text x="563" y="373.5" font-size="5.6" text-anchor="end" stroke="#231f20" stroke-width="0.168">0.0</text>
<text x="544.4" y="351.6" font-size="6.2" text-anchor="middle" transform="rotate(-90 544.4 351.6)" textLength="39" lengthAdjust="spacingAndGlyphs" stroke="#231f20" stroke-width="0.186">Adipocyte size</text>
<text x="550.6" y="351.2" font-size="6.2" text-anchor="middle" transform="rotate(-90 550.6 351.2)" textLength="31.4" lengthAdjust="spacingAndGlyphs" stroke="#231f20" stroke-width="0.186">(μm²×1000)</text>
<text x="584.5" y="326.3" font-size="5.8" textLength="27" lengthAdjust="spacingAndGlyphs" stroke="#231f20" stroke-width="0.174">P = 2.3e-37</text>
<path d="M582.6 323.5 C582.67 324.58 582.73 327.58 583 330 C583.27 332.42 583.67 335.33 584.2 338 C584.73 340.67 585.53 343.67 586.2 346 C586.87 348.33 587.63 350 588.2 352 C588.77 354 589.27 356.17 589.6 358 C589.93 359.83 590.2 361.33 590.2 363 C590.2 364.67 590.07 366.5 589.6 368 C589.13 369.5 588.18 370.83 587.4 372 C586.62 373.17 585.68 373.85 584.9 375 C584.12 376.15 583.07 378.25 582.7 378.9 L582.1 378.9 C581.73 378.25 580.68 376.15 579.9 375 C579.12 373.85 578.18 373.17 577.4 372 C576.62 370.83 575.67 369.5 575.2 368 C574.73 366.5 574.6 364.67 574.6 363 C574.6 361.33 574.87 359.83 575.2 358 C575.53 356.17 576.03 354 576.6 352 C577.17 350 577.93 348.33 578.6 346 C579.27 343.67 580.07 340.67 580.6 338 C581.13 335.33 581.53 332.42 581.8 330 C582.07 327.58 582.13 324.58 582.2 323.5 Z" fill="none" stroke="#555" stroke-width="0.6"/>
<rect x="578.1" y="355" width="8.6" height="10.5" fill="none" stroke="#444" stroke-width="0.6"/>
<line x1="578.1" y1="360" x2="586.7" y2="360" stroke="#444" stroke-width="0.6"/>
<line x1="582.4" y1="325" x2="582.4" y2="355" stroke="#444" stroke-width="0.5"/>
<line x1="582.4" y1="365.5" x2="582.4" y2="376" stroke="#444" stroke-width="0.5"/>
<path d="M613.6 338.4 C613.73 339.5 614.07 342.73 614.4 345 C614.73 347.27 615.13 349.83 615.6 352 C616.07 354.17 616.57 356.17 617.2 358 C617.83 359.83 618.37 361.5 619.4 363 C620.43 364.5 622.15 365.92 623.4 367 C624.65 368.08 626.23 368.75 626.9 369.5 C627.57 370.25 627.98 370.83 627.4 371.5 C626.82 372.17 624.9 372.92 623.4 373.5 C621.9 374.08 620 374.55 618.4 375 C616.8 375.45 614.57 376 613.8 376.2 L613 376.2 C612.23 376 610 375.45 608.4 375 C606.8 374.55 604.9 374.08 603.4 373.5 C601.9 372.92 599.98 372.17 599.4 371.5 C598.82 370.83 599.23 370.25 599.9 369.5 C600.57 368.75 602.15 368.08 603.4 367 C604.65 365.92 606.37 364.5 607.4 363 C608.43 361.5 608.97 359.83 609.6 358 C610.23 356.17 610.73 354.17 611.2 352 C611.67 349.83 612.07 347.27 612.4 345 C612.73 342.73 613.07 339.5 613.2 338.4 Z" fill="none" stroke="#b28cf5" stroke-width="0.7"/>
<rect x="609.9" y="362" width="7" height="9" fill="none" stroke="#b28cf5" stroke-width="0.6"/>
<line x1="609.9" y1="367" x2="616.9" y2="367" stroke="#b28cf5" stroke-width="0.6"/>
<line x1="613.4" y1="350" x2="613.4" y2="362" stroke="#b28cf5" stroke-width="0.5"/>
<line x1="613.4" y1="371" x2="613.4" y2="375" stroke="#b28cf5" stroke-width="0.5"/>
<line x1="636.4" y1="322.3" x2="647.2" y2="322.3" stroke="#666" stroke-width="0.8"/>
<text x="651.2" y="325.2" font-size="7.2" stroke="#231f20" stroke-width="0.216">PBS</text>
<line x1="636.4" y1="334.4" x2="647.2" y2="334.4" stroke="#b28cf5" stroke-width="0.9"/>
<text x="651.2" y="337.3" font-size="7.2" stroke="#231f20" stroke-width="0.216">NB21-mFc</text>
<text x="4.59" y="476" font-size="14.5" font-weight="bold" stroke="#231f20" stroke-width="0.240">h</text>
<text x="143.5" y="478.1" font-size="8.3" text-anchor="middle" stroke="#231f20" stroke-width="0.240">vWAT (Cold)</text>
<text x="5.9" y="541.9" font-size="8.3" text-anchor="middle" transform="rotate(-90 5.9 541.9)" textLength="96.5" lengthAdjust="spacingAndGlyphs" stroke="#231f20" stroke-width="0.240">Relative mRNA expression</text>
<line x1="25" y1="491.2" x2="25" y2="538.4" stroke="#3a3a3a" stroke-width="0.8"/>
<line x1="25" y1="546.2" x2="25" y2="592.6" stroke="#3a3a3a" stroke-width="0.8"/>
<line x1="22.05" y1="534.85" x2="27.55" y2="540.35" stroke="#3a3a3a" stroke-width="1"/>
<line x1="22.05" y1="544.15" x2="27.55" y2="549.65" stroke="#3a3a3a" stroke-width="1"/>
<line x1="21.4" y1="491.6" x2="25" y2="491.6" stroke="#3a3a3a" stroke-width="0.8"/>
<text x="19.3" y="494.2" font-size="7.2" text-anchor="end" stroke="#231f20" stroke-width="0.216">25</text>
<line x1="21.4" y1="503.1" x2="25" y2="503.1" stroke="#3a3a3a" stroke-width="0.8"/>
<text x="19.3" y="505.7" font-size="7.2" text-anchor="end" stroke="#231f20" stroke-width="0.216">20</text>
<line x1="21.4" y1="514.6" x2="25" y2="514.6" stroke="#3a3a3a" stroke-width="0.8"/>
<text x="19.3" y="517.2" font-size="7.2" text-anchor="end" stroke="#231f20" stroke-width="0.216">15</text>
<line x1="21.4" y1="526.1" x2="25" y2="526.1" stroke="#3a3a3a" stroke-width="0.8"/>
<text x="19.3" y="528.7" font-size="7.2" text-anchor="end" stroke="#231f20" stroke-width="0.216">10</text>
<text x="19.3" y="540.2" font-size="7.2" text-anchor="end" stroke="#231f20" stroke-width="0.216">5</text>
<text x="19.3" y="549.3" font-size="7.2" text-anchor="end" stroke="#231f20" stroke-width="0.216">5</text>
<line x1="21.4" y1="555.88" x2="25" y2="555.88" stroke="#3a3a3a" stroke-width="0.8"/>
<text x="19.3" y="558.48" font-size="7.2" text-anchor="end" stroke="#231f20" stroke-width="0.216">4</text>
<line x1="21.4" y1="565.06" x2="25" y2="565.06" stroke="#3a3a3a" stroke-width="0.8"/>
<text x="19.3" y="567.66" font-size="7.2" text-anchor="end" stroke="#231f20" stroke-width="0.216">3</text>
<line x1="21.4" y1="574.24" x2="25" y2="574.24" stroke="#3a3a3a" stroke-width="0.8"/>
<text x="19.3" y="576.84" font-size="7.2" text-anchor="end" stroke="#231f20" stroke-width="0.216">2</text>
<line x1="21.4" y1="583.42" x2="25" y2="583.42" stroke="#3a3a3a" stroke-width="0.8"/>
<text x="19.3" y="586.02" font-size="7.2" text-anchor="end" stroke="#231f20" stroke-width="0.216">1</text>
<line x1="21.4" y1="592.6" x2="25" y2="592.6" stroke="#3a3a3a" stroke-width="0.8"/>
<text x="19.3" y="595.2" font-size="7.2" text-anchor="end" stroke="#231f20" stroke-width="0.216">0</text>
<line x1="25" y1="592.6" x2="268" y2="592.6" stroke="#3a3a3a" stroke-width="0.8"/>
<rect x="30.2" y="583.42" width="9.6" height="9.18" fill="#dfe0ef" stroke="#3a3a3a" stroke-width="0.8"/>
<line x1="35" y1="587.55" x2="35" y2="579.29" stroke="#222" stroke-width="0.8"/>
<line x1="32.6" y1="587.55" x2="37.4" y2="587.55" stroke="#222" stroke-width="0.8"/>
<line x1="32.6" y1="579.29" x2="37.4" y2="579.29" stroke="#222" stroke-width="0.8"/>
<path d="M31.39 590.76a1.08 1.08 0 1 0 2.16 0a1.08 1.08 0 1 0 -2.16 0M32.74 588.01a1.08 1.08 0 1 0 2.16 0a1.08 1.08 0 1 0 -2.16 0M35.16 586.17a1.08 1.08 0 1 0 2.16 0a1.08 1.08 0 1 0 -2.16 0M31.24 584.34a1.08 1.08 0 1 0 2.16 0a1.08 1.08 0 1 0 -2.16 0M32.27 572.40a1.08 1.08 0 1 0 2.16 0a1.08 1.08 0 1 0 -2.16 0M31.40 571.03a1.08 1.08 0 1 0 2.16 0a1.08 1.08 0 1 0 -2.16 0" fill="#111"/>
<rect x="42.5" y="530.24" width="10.2" height="7.56" fill="#cda9f7"/>
<path d="M42.5 537.8 L42.5 530.24 L52.7 530.24 L52.7 537.8" fill="none" stroke="#3a3a3a" stroke-width="0.8"/>
<rect x="42.5" y="546.3" width="10.2" height="46.3" fill="#cda9f7"/>
<path d="M42.5 592.6 L42.5 546.3 M52.7 546.3 L52.7 592.6 L42.5 592.6" fill="none" stroke="#3a3a3a" stroke-width="0.8"/>
<line x1="47.6" y1="537.25" x2="47.6" y2="523.11" stroke="#222" stroke-width="0.8"/>
<line x1="45.2" y1="537.25" x2="50" y2="537.25" stroke="#222" stroke-width="0.8"/>
<line x1="45.2" y1="523.11" x2="50" y2="523.11" stroke="#222" stroke-width="0.8"/>
<path d="M45.57 586.17a1.08 1.08 0 1 0 2.16 0a1.08 1.08 0 1 0 -2.16 0M47.31 580.67a1.08 1.08 0 1 0 2.16 0a1.08 1.08 0 1 0 -2.16 0M45.60 561.39a1.08 1.08 0 1 0 2.16 0a1.08 1.08 0 1 0 -2.16 0M46.92 527.71a1.08 1.08 0 1 0 2.16 0a1.08 1.08 0 1 0 -2.16 0M44.45 515.75a1.08 1.08 0 1 0 2.16 0a1.08 1.08 0 1 0 -2.16 0M48.28 504.02a1.08 1.08 0 1 0 2.16 0a1.08 1.08 0 1 0 -2.16 0" fill="#111"/>
<line x1="41.3" y1="592.6" x2="41.3" y2="596.2" stroke="#3a3a3a" stroke-width="0.8"/>
<text x="45" y="601.4" font-size="7.2" text-anchor="end" font-style="italic" transform="rotate(-45 45 601.4)" stroke="#231f20" stroke-width="0.216">Ucp1</text>
<rect x="60.2" y="583.42" width="9.6" height="9.18" fill="#dfe0ef" stroke="#3a3a3a" stroke-width="0.8"/>
<line x1="65" y1="587.09" x2="65" y2="579.75" stroke="#222" stroke-width="0.8"/>
<line x1="62.6" y1="587.09" x2="67.4" y2="587.09" stroke="#222" stroke-width="0.8"/>
<line x1="62.6" y1="579.75" x2="67.4" y2="579.75" stroke="#222" stroke-width="0.8"/>
<path d="M61.87 589.85a1.08 1.08 0 1 0 2.16 0a1.08 1.08 0 1 0 -2.16 0M62.12 588.01a1.08 1.08 0 1 0 2.16 0a1.08 1.08 0 1 0 -2.16 0M63.90 586.17a1.08 1.08 0 1 0 2.16 0a1.08 1.08 0 1 0 -2.16 0M65.96 583.42a1.08 1.08 0 1 0 2.16 0a1.08 1.08 0 1 0 -2.16 0M65.37 575.16a1.08 1.08 0 1 0 2.16 0a1.08 1.08 0 1 0 -2.16 0M66.55 570.57a1.08 1.08 0 1 0 2.16 0a1.08 1.08 0 1 0 -2.16 0" fill="#111"/>
<rect x="72.5" y="533.69" width="10.2" height="4.11" fill="#cda9f7"/>
<path d="M72.5 537.8 L72.5 533.69 L82.7 533.69 L82.7 537.8" fill="none" stroke="#3a3a3a" stroke-width="0.8"/>
<rect x="72.5" y="546.3" width="10.2" height="46.3" fill="#cda9f7"/>
<path d="M72.5 592.6 L72.5 546.3 M82.7 546.3 L82.7 592.6 L72.5 592.6" fill="none" stroke="#3a3a3a" stroke-width="0.8"/>
<line x1="77.6" y1="554.96" x2="77.6" y2="528.4" stroke="#222" stroke-width="0.8"/>
<line x1="75.2" y1="554.96" x2="80" y2="554.96" stroke="#222" stroke-width="0.8"/>
<line x1="75.2" y1="528.4" x2="80" y2="528.4" stroke="#222" stroke-width="0.8"/>
<path d="M77.76 586.17a1.08 1.08 0 1 0 2.16 0a1.08 1.08 0 1 0 -2.16 0M75.96 580.67a1.08 1.08 0 1 0 2.16 0a1.08 1.08 0 1 0 -2.16 0M76.08 551.29a1.08 1.08 0 1 0 2.16 0a1.08 1.08 0 1 0 -2.16 0M77.54 534.61a1.08 1.08 0 1 0 2.16 0a1.08 1.08 0 1 0 -2.16 0M75.42 525.87a1.08 1.08 0 1 0 2.16 0a1.08 1.08 0 1 0 -2.16 0M78.22 512.99a1.08 1.08 0 1 0 2.16 0a1.08 1.08 0 1 0 -2.16 0" fill="#111"/>
<line x1="71.3" y1="592.6" x2="71.3" y2="596.2" stroke="#3a3a3a" stroke-width="0.8"/>
<text x="75" y="601.4" font-size="7.2" text-anchor="end" font-style="italic" transform="rotate(-45 75 601.4)" stroke="#231f20" stroke-width="0.216">Cidea</text>
<rect x="90.2" y="583.42" width="9.6" height="9.18" fill="#dfe0ef" stroke="#3a3a3a" stroke-width="0.8"/>
<line x1="95" y1="586.17" x2="95" y2="580.67" stroke="#222" stroke-width="0.8"/>
<line x1="92.6" y1="586.17" x2="97.4" y2="586.17" stroke="#222" stroke-width="0.8"/>
<line x1="92.6" y1="580.67" x2="97.4" y2="580.67" stroke="#222" stroke-width="0.8"/>
<path d="M96.23 588.93a1.08 1.08 0 1 0 2.16 0a1.08 1.08 0 1 0 -2.16 0M95.38 586.17a1.08 1.08 0 1 0 2.16 0a1.08 1.08 0 1 0 -2.16 0M94.01 584.34a1.08 1.08 0 1 0 2.16 0a1.08 1.08 0 1 0 -2.16 0M92.06 582.50a1.08 1.08 0 1 0 2.16 0a1.08 1.08 0 1 0 -2.16 0M92.79 580.67a1.08 1.08 0 1 0 2.16 0a1.08 1.08 0 1 0 -2.16 0M92.71 570.57a1.08 1.08 0 1 0 2.16 0a1.08 1.08 0 1 0 -2.16 0" fill="#111"/>
<rect x="102.5" y="577.64" width="10.2" height="14.96" fill="#cda9f7" stroke="#3a3a3a" stroke-width="0.8"/>
<line x1="107.6" y1="581.12" x2="107.6" y2="574.24" stroke="#222" stroke-width="0.8"/>
<line x1="105.2" y1="581.12" x2="110" y2="581.12" stroke="#222" stroke-width="0.8"/>
<line x1="105.2" y1="574.24" x2="110" y2="574.24" stroke="#222" stroke-width="0.8"/>
<path d="M105.69 585.26a1.08 1.08 0 1 0 2.16 0a1.08 1.08 0 1 0 -2.16 0M106.33 582.50a1.08 1.08 0 1 0 2.16 0a1.08 1.08 0 1 0 -2.16 0M106.73 578.83a1.08 1.08 0 1 0 2.16 0a1.08 1.08 0 1 0 -2.16 0M105.16 576.99a1.08 1.08 0 1 0 2.16 0a1.08 1.08 0 1 0 -2.16 0M107.96 568.73a1.08 1.08 0 1 0 2.16 0a1.08 1.08 0 1 0 -2.16 0M107.61 567.81a1.08 1.08 0 1 0 2.16 0a1.08 1.08 0 1 0 -2.16 0" fill="#111"/>
<line x1="101.3" y1="592.6" x2="101.3" y2="596.2" stroke="#3a3a3a" stroke-width="0.8"/>
<text x="105" y="601.4" font-size="7.2" text-anchor="end" font-style="italic" transform="rotate(-45 105 601.4)" stroke="#231f20" stroke-width="0.216">Dio2</text>
<rect x="120.2" y="583.42" width="9.6" height="9.18" fill="#dfe0ef" stroke="#3a3a3a" stroke-width="0.8"/>
<line x1="125" y1="586.17" x2="125" y2="580.67" stroke="#222" stroke-width="0.8"/>
<line x1="122.6" y1="586.17" x2="127.4" y2="586.17" stroke="#222" stroke-width="0.8"/>
<line x1="122.6" y1="580.67" x2="127.4" y2="580.67" stroke="#222" stroke-width="0.8"/>
<path d="M125.88 589.85a1.08 1.08 0 1 0 2.16 0a1.08 1.08 0 1 0 -2.16 0M122.62 588.93a1.08 1.08 0 1 0 2.16 0a1.08 1.08 0 1 0 -2.16 0M124.56 585.26a1.08 1.08 0 1 0 2.16 0a1.08 1.08 0 1 0 -2.16 0M124.78 580.67a1.08 1.08 0 1 0 2.16 0a1.08 1.08 0 1 0 -2.16 0M123.29 581.58a1.08 1.08 0 1 0 2.16 0a1.08 1.08 0 1 0 -2.16 0M123.42 574.24a1.08 1.08 0 1 0 2.16 0a1.08 1.08 0 1 0 -2.16 0" fill="#111"/>
<rect x="132.5" y="573.14" width="10.2" height="19.46" fill="#cda9f7" stroke="#3a3a3a" stroke-width="0.8"/>
<line x1="137.6" y1="577.91" x2="137.6" y2="567.81" stroke="#222" stroke-width="0.8"/>
<line x1="135.2" y1="577.91" x2="140" y2="577.91" stroke="#222" stroke-width="0.8"/>
<line x1="135.2" y1="567.81" x2="140" y2="567.81" stroke="#222" stroke-width="0.8"/>
<path d="M138.01 582.50a1.08 1.08 0 1 0 2.16 0a1.08 1.08 0 1 0 -2.16 0M137.00 580.67a1.08 1.08 0 1 0 2.16 0a1.08 1.08 0 1 0 -2.16 0M138.43 576.08a1.08 1.08 0 1 0 2.16 0a1.08 1.08 0 1 0 -2.16 0M136.47 572.40a1.08 1.08 0 1 0 2.16 0a1.08 1.08 0 1 0 -2.16 0M138.10 566.90a1.08 1.08 0 1 0 2.16 0a1.08 1.08 0 1 0 -2.16 0M138.24 552.21a1.08 1.08 0 1 0 2.16 0a1.08 1.08 0 1 0 -2.16 0" fill="#111"/>
<line x1="131.3" y1="592.6" x2="131.3" y2="596.2" stroke="#3a3a3a" stroke-width="0.8"/>
<text x="135" y="601.4" font-size="7.2" text-anchor="end" font-style="italic" transform="rotate(-45 135 601.4)" stroke="#231f20" stroke-width="0.216">Prdm16</text>
<rect x="150.2" y="583.42" width="9.6" height="9.18" fill="#dfe0ef" stroke="#3a3a3a" stroke-width="0.8"/>
<line x1="155" y1="584.8" x2="155" y2="582.04" stroke="#222" stroke-width="0.8"/>
<line x1="152.6" y1="584.8" x2="157.4" y2="584.8" stroke="#222" stroke-width="0.8"/>
<line x1="152.6" y1="582.04" x2="157.4" y2="582.04" stroke="#222" stroke-width="0.8"/>
<path d="M155.54 586.17a1.08 1.08 0 1 0 2.16 0a1.08 1.08 0 1 0 -2.16 0M156.09 585.26a1.08 1.08 0 1 0 2.16 0a1.08 1.08 0 1 0 -2.16 0M155.03 584.34a1.08 1.08 0 1 0 2.16 0a1.08 1.08 0 1 0 -2.16 0M153.66 583.42a1.08 1.08 0 1 0 2.16 0a1.08 1.08 0 1 0 -2.16 0M152.83 582.50a1.08 1.08 0 1 0 2.16 0a1.08 1.08 0 1 0 -2.16 0M155.71 577.91a1.08 1.08 0 1 0 2.16 0a1.08 1.08 0 1 0 -2.16 0" fill="#111"/>
<rect x="162.5" y="573.51" width="10.2" height="19.09" fill="#cda9f7" stroke="#3a3a3a" stroke-width="0.8"/>
<line x1="167.6" y1="576.08" x2="167.6" y2="570.57" stroke="#222" stroke-width="0.8"/>
<line x1="165.2" y1="576.08" x2="170" y2="576.08" stroke="#222" stroke-width="0.8"/>
<line x1="165.2" y1="570.57" x2="170" y2="570.57" stroke="#222" stroke-width="0.8"/>
<path d="M164.79 577.91a1.08 1.08 0 1 0 2.16 0a1.08 1.08 0 1 0 -2.16 0M166.05 576.99a1.08 1.08 0 1 0 2.16 0a1.08 1.08 0 1 0 -2.16 0M165.23 575.16a1.08 1.08 0 1 0 2.16 0a1.08 1.08 0 1 0 -2.16 0M166.95 572.40a1.08 1.08 0 1 0 2.16 0a1.08 1.08 0 1 0 -2.16 0M168.37 569.65a1.08 1.08 0 1 0 2.16 0a1.08 1.08 0 1 0 -2.16 0M165.69 563.22a1.08 1.08 0 1 0 2.16 0a1.08 1.08 0 1 0 -2.16 0" fill="#111"/>
<line x1="161.3" y1="592.6" x2="161.3" y2="596.2" stroke="#3a3a3a" stroke-width="0.8"/>
<text x="165" y="601.4" font-size="7.2" text-anchor="end" font-style="italic" transform="rotate(-45 165 601.4)" stroke="#231f20" stroke-width="0.216">Pgc1α</text>
<rect x="180.2" y="583.42" width="9.6" height="9.18" fill="#dfe0ef" stroke="#3a3a3a" stroke-width="0.8"/>
<line x1="185" y1="584.34" x2="185" y2="582.5" stroke="#222" stroke-width="0.8"/>
<line x1="182.6" y1="584.34" x2="187.4" y2="584.34" stroke="#222" stroke-width="0.8"/>
<line x1="182.6" y1="582.5" x2="187.4" y2="582.5" stroke="#222" stroke-width="0.8"/>
<path d="M185.63 585.26a1.08 1.08 0 1 0 2.16 0a1.08 1.08 0 1 0 -2.16 0M185.59 584.34a1.08 1.08 0 1 0 2.16 0a1.08 1.08 0 1 0 -2.16 0M184.85 583.42a1.08 1.08 0 1 0 2.16 0a1.08 1.08 0 1 0 -2.16 0M182.49 583.42a1.08 1.08 0 1 0 2.16 0a1.08 1.08 0 1 0 -2.16 0M185.71 582.50a1.08 1.08 0 1 0 2.16 0a1.08 1.08 0 1 0 -2.16 0M183.74 582.50a1.08 1.08 0 1 0 2.16 0a1.08 1.08 0 1 0 -2.16 0" fill="#111"/>
<rect x="192.5" y="577.27" width="10.2" height="15.33" fill="#cda9f7" stroke="#3a3a3a" stroke-width="0.8"/>
<line x1="197.6" y1="579.29" x2="197.6" y2="575.16" stroke="#222" stroke-width="0.8"/>
<line x1="195.2" y1="579.29" x2="200" y2="579.29" stroke="#222" stroke-width="0.8"/>
<line x1="195.2" y1="575.16" x2="200" y2="575.16" stroke="#222" stroke-width="0.8"/>
<path d="M197.67 583.42a1.08 1.08 0 1 0 2.16 0a1.08 1.08 0 1 0 -2.16 0M196.33 580.67a1.08 1.08 0 1 0 2.16 0a1.08 1.08 0 1 0 -2.16 0M198.27 577.91a1.08 1.08 0 1 0 2.16 0a1.08 1.08 0 1 0 -2.16 0M197.49 575.16a1.08 1.08 0 1 0 2.16 0a1.08 1.08 0 1 0 -2.16 0M194.93 573.32a1.08 1.08 0 1 0 2.16 0a1.08 1.08 0 1 0 -2.16 0M194.98 571.49a1.08 1.08 0 1 0 2.16 0a1.08 1.08 0 1 0 -2.16 0" fill="#111"/>
<line x1="191.3" y1="592.6" x2="191.3" y2="596.2" stroke="#3a3a3a" stroke-width="0.8"/>
<text x="195" y="601.4" font-size="7.2" text-anchor="end" font-style="italic" transform="rotate(-45 195 601.4)" stroke="#231f20" stroke-width="0.216">Ndufa8</text>
<rect x="210.2" y="583.42" width="9.6" height="9.18" fill="#dfe0ef" stroke="#3a3a3a" stroke-width="0.8"/>
<line x1="215" y1="586.17" x2="215" y2="580.67" stroke="#222" stroke-width="0.8"/>
<line x1="212.6" y1="586.17" x2="217.4" y2="586.17" stroke="#222" stroke-width="0.8"/>
<line x1="212.6" y1="580.67" x2="217.4" y2="580.67" stroke="#222" stroke-width="0.8"/>
<path d="M215.88 589.85a1.08 1.08 0 1 0 2.16 0a1.08 1.08 0 1 0 -2.16 0M213.16 587.09a1.08 1.08 0 1 0 2.16 0a1.08 1.08 0 1 0 -2.16 0M213.25 584.34a1.08 1.08 0 1 0 2.16 0a1.08 1.08 0 1 0 -2.16 0M211.35 581.58a1.08 1.08 0 1 0 2.16 0a1.08 1.08 0 1 0 -2.16 0M214.67 573.32a1.08 1.08 0 1 0 2.16 0a1.08 1.08 0 1 0 -2.16 0M215.62 572.40a1.08 1.08 0 1 0 2.16 0a1.08 1.08 0 1 0 -2.16 0" fill="#111"/>
<rect x="222.5" y="552.39" width="10.2" height="40.21" fill="#cda9f7" stroke="#3a3a3a" stroke-width="0.8"/>
<line x1="227.6" y1="565.52" x2="227.6" y2="536.22" stroke="#222" stroke-width="0.8"/>
<line x1="225.2" y1="565.52" x2="230" y2="565.52" stroke="#222" stroke-width="0.8"/>
<line x1="225.2" y1="536.22" x2="230" y2="536.22" stroke="#222" stroke-width="0.8"/>
<path d="M228.43 578.83a1.08 1.08 0 1 0 2.16 0a1.08 1.08 0 1 0 -2.16 0M225.05 578.83a1.08 1.08 0 1 0 2.16 0a1.08 1.08 0 1 0 -2.16 0M228.24 560.47a1.08 1.08 0 1 0 2.16 0a1.08 1.08 0 1 0 -2.16 0M224.97 546.70a1.08 1.08 0 1 0 2.16 0a1.08 1.08 0 1 0 -2.16 0M225.91 528.86a1.08 1.08 0 1 0 2.16 0a1.08 1.08 0 1 0 -2.16 0M225.95 528.17a1.08 1.08 0 1 0 2.16 0a1.08 1.08 0 1 0 -2.16 0" fill="#111"/>
<line x1="221.3" y1="592.6" x2="221.3" y2="596.2" stroke="#3a3a3a" stroke-width="0.8"/>
<text x="225" y="601.4" font-size="7.2" text-anchor="end" font-style="italic" transform="rotate(-45 225 601.4)" stroke="#231f20" stroke-width="0.216">Cox7a1</text>
<rect x="240.2" y="583.42" width="9.6" height="9.18" fill="#dfe0ef" stroke="#3a3a3a" stroke-width="0.8"/>
<line x1="245" y1="585.72" x2="245" y2="581.12" stroke="#222" stroke-width="0.8"/>
<line x1="242.6" y1="585.72" x2="247.4" y2="585.72" stroke="#222" stroke-width="0.8"/>
<line x1="242.6" y1="581.12" x2="247.4" y2="581.12" stroke="#222" stroke-width="0.8"/>
<path d="M244.32 588.93a1.08 1.08 0 1 0 2.16 0a1.08 1.08 0 1 0 -2.16 0M243.98 587.09a1.08 1.08 0 1 0 2.16 0a1.08 1.08 0 1 0 -2.16 0M244.08 584.34a1.08 1.08 0 1 0 2.16 0a1.08 1.08 0 1 0 -2.16 0M244.05 582.50a1.08 1.08 0 1 0 2.16 0a1.08 1.08 0 1 0 -2.16 0M246.34 577.91a1.08 1.08 0 1 0 2.16 0a1.08 1.08 0 1 0 -2.16 0M242.50 575.16a1.08 1.08 0 1 0 2.16 0a1.08 1.08 0 1 0 -2.16 0" fill="#111"/>
<rect x="252.5" y="558.27" width="10.2" height="34.33" fill="#cda9f7" stroke="#3a3a3a" stroke-width="0.8"/>
<line x1="257.6" y1="567.81" x2="257.6" y2="536.91" stroke="#222" stroke-width="0.8"/>
<line x1="255.2" y1="567.81" x2="260" y2="567.81" stroke="#222" stroke-width="0.8"/>
<line x1="255.2" y1="536.91" x2="260" y2="536.91" stroke="#222" stroke-width="0.8"/>
<path d="M255.12 576.99a1.08 1.08 0 1 0 2.16 0a1.08 1.08 0 1 0 -2.16 0M258.04 574.24a1.08 1.08 0 1 0 2.16 0a1.08 1.08 0 1 0 -2.16 0M255.58 563.22a1.08 1.08 0 1 0 2.16 0a1.08 1.08 0 1 0 -2.16 0M257.36 559.55a1.08 1.08 0 1 0 2.16 0a1.08 1.08 0 1 0 -2.16 0M258.55 529.55a1.08 1.08 0 1 0 2.16 0a1.08 1.08 0 1 0 -2.16 0M254.46 526.10a1.08 1.08 0 1 0 2.16 0a1.08 1.08 0 1 0 -2.16 0" fill="#111"/>
<line x1="251.3" y1="592.6" x2="251.3" y2="596.2" stroke="#3a3a3a" stroke-width="0.8"/>
<text x="255" y="601.4" font-size="7.2" text-anchor="end" font-style="italic" transform="rotate(-45 255 601.4)" stroke="#231f20" stroke-width="0.216">Cox8b</text>
<text x="26.5" y="497.8" font-size="5.9" textLength="27.9" lengthAdjust="spacingAndGlyphs" stroke="#231f20" stroke-width="0.177"><tspan font-style="italic">P</tspan> = 0.0497</text>
<path d="M34.5 507.9 L34.5 502.6 L48.2 502.6 L48.2 507.9" fill="none" stroke="#333" stroke-width="0.8"/>
<text x="57.7" y="503.2" font-size="5.9" textLength="27.9" lengthAdjust="spacingAndGlyphs" stroke="#231f20" stroke-width="0.177"><tspan font-style="italic">P</tspan> = 0.0428</text>
<path d="M65.4 513.7 L65.4 508.3 L77.6 508.3 L77.6 513.7" fill="none" stroke="#333" stroke-width="0.8"/>
<text x="117.7" y="538.7" font-size="5.9" textLength="27.9" lengthAdjust="spacingAndGlyphs" stroke="#231f20" stroke-width="0.177"><tspan font-style="italic">P</tspan> = 0.0869</text>
<path d="M125.4 549.9 L125.4 544.2 L137.5 544.2 L137.5 549.9" fill="none" stroke="#333" stroke-width="0.8"/>
<text x="147.1" y="548.8" font-size="5.9" textLength="27.9" lengthAdjust="spacingAndGlyphs" stroke="#231f20" stroke-width="0.177"><tspan font-style="italic">P</tspan> = 0.0063</text>
<path d="M154.4 559.5 L154.4 554.4 L166.7 554.4 L166.7 559.5" fill="none" stroke="#333" stroke-width="0.8"/>
<text x="177.7" y="558" font-size="5.9" textLength="27.9" lengthAdjust="spacingAndGlyphs" stroke="#231f20" stroke-width="0.177"><tspan font-style="italic">P</tspan> = 0.0232</text>
<path d="M185.3 568.3 L185.3 563.2 L197.6 563.2 L197.6 568.3" fill="none" stroke="#333" stroke-width="0.8"/>
<text x="207.3" y="516.2" font-size="5.9" textLength="27.9" lengthAdjust="spacingAndGlyphs" stroke="#231f20" stroke-width="0.177"><tspan font-style="italic">P</tspan> = 0.0347</text>
<path d="M215.3 526.6 L215.3 521.4 L227.8 521.4 L227.8 526.6" fill="none" stroke="#333" stroke-width="0.8"/>
<text x="237.1" y="520.2" font-size="5.9" textLength="27.9" lengthAdjust="spacingAndGlyphs" stroke="#231f20" stroke-width="0.177"><tspan font-style="italic">P</tspan> = 0.0202</text>
<path d="M244.7 530.6 L244.7 525.4 L257.5 525.4 L257.5 530.6" fill="none" stroke="#333" stroke-width="0.8"/>
<defs><filter id="bl1" x="-30%" y="-80%" width="160%" height="260%"><feGaussianBlur stdDeviation="0.9 0.7"/></filter></defs>
<text x="275.69" y="475.8" font-size="14.5" font-weight="bold" stroke="#231f20" stroke-width="0.240">i</text>
<text x="381.7" y="478" font-size="8.3" text-anchor="middle" stroke="#231f20" stroke-width="0.240">vWAT (Cold)</text>
<text x="348" y="502.5" font-size="8.3" text-anchor="middle" stroke="#231f20" stroke-width="0.240">PBS</text>
<text x="415.6" y="502.2" font-size="8.3" text-anchor="middle" stroke="#231f20" stroke-width="0.240">NB21-mFc</text>
<rect x="313.3" y="508.2" width="137" height="15.2" fill="#fbfbfb"/>
<rect x="316.05" y="512.3" width="17.5" height="7" rx="3" fill="rgb(214,214,214)" filter="url(#bl1)"/>
<rect x="361.05" y="514.3" width="17.5" height="3" rx="1.5" fill="rgb(237,237,237)" filter="url(#bl1)"/>
<rect x="383.45" y="511.55" width="17.5" height="8.5" rx="3" fill="rgb(0,0,0)" filter="url(#bl1)"/>
<rect x="406.25" y="510.8" width="17.5" height="10" rx="3" fill="rgb(0,0,0)" filter="url(#bl1)"/>
<rect x="428.65" y="512.05" width="17.5" height="7.5" rx="3" fill="rgb(12,12,12)" filter="url(#bl1)"/>
<rect x="313.3" y="508.2" width="137" height="15.2" fill="none" stroke="#2a2a2a" stroke-width="0.8"/>
<text x="309.4" y="518.3" font-size="7" text-anchor="end" stroke="#231f20" stroke-width="0.210">UCP1</text>
<text x="453.7" y="518.3" font-size="7" stroke="#231f20" stroke-width="0.210">33KD</text>
<rect x="313.3" y="530.4" width="137" height="9.3" fill="#fbfbfb"/>
<rect x="316.05" y="533.1" width="17.5" height="4.5" rx="2.25" fill="rgb(221,221,221)" filter="url(#bl1)"/>
<rect x="338.65" y="533.35" width="17.5" height="4" rx="2" fill="rgb(234,234,234)" filter="url(#bl1)"/>
<rect x="361.05" y="533.1" width="17.5" height="4.5" rx="2.25" fill="rgb(219,219,219)" filter="url(#bl1)"/>
<rect x="383.45" y="533.1" width="17.5" height="4.5" rx="2.25" fill="rgb(12,12,12)" filter="url(#bl1)"/>
<rect x="406.25" y="533.1" width="17.5" height="4.5" rx="2.25" fill="rgb(20,20,20)" filter="url(#bl1)"/>
<rect x="428.65" y="533.1" width="17.5" height="4.5" rx="2.25" fill="rgb(25,25,25)" filter="url(#bl1)"/>
<rect x="313.3" y="530.4" width="137" height="9.3" fill="none" stroke="#2a2a2a" stroke-width="0.8"/>
<text x="309.4" y="537.55" font-size="7" text-anchor="end" stroke="#231f20" stroke-width="0.210">UQCRC2</text>
<text x="453.7" y="537.55" font-size="7" stroke="#231f20" stroke-width="0.210">48KD</text>
<rect x="313.3" y="546.4" width="137" height="10" fill="#fbfbfb"/>
<rect x="383.45" y="549.6" width="17.5" height="3.6" rx="1.8" fill="rgb(229,229,229)" filter="url(#bl1)"/>
<rect x="406.25" y="549.6" width="17.5" height="3.6" rx="1.8" fill="rgb(178,178,178)" filter="url(#bl1)"/>
<rect x="428.65" y="549.6" width="17.5" height="3.6" rx="1.8" fill="rgb(127,127,127)" filter="url(#bl1)"/>
<rect x="313.3" y="546.4" width="137" height="10" fill="none" stroke="#2a2a2a" stroke-width="0.8"/>
<text x="309.4" y="553.9" font-size="7" text-anchor="end" stroke="#231f20" stroke-width="0.210">MTCO1</text>
<text x="453.7" y="553.9" font-size="7" stroke="#231f20" stroke-width="0.210">40KD</text>
<rect x="313.3" y="563.4" width="137" height="8.7" fill="#fbfbfb"/>
<rect x="316.05" y="566.45" width="17.5" height="2.6" rx="1.3" fill="rgb(247,247,247)" filter="url(#bl1)"/>
<rect x="338.65" y="566.45" width="17.5" height="2.6" rx="1.3" fill="rgb(247,247,247)" filter="url(#bl1)"/>
<rect x="361.05" y="566.45" width="17.5" height="2.6" rx="1.3" fill="rgb(244,244,244)" filter="url(#bl1)"/>
<rect x="383.45" y="566.45" width="17.5" height="2.6" rx="1.3" fill="rgb(204,204,204)" filter="url(#bl1)"/>
<rect x="406.25" y="566.45" width="17.5" height="2.6" rx="1.3" fill="rgb(153,153,153)" filter="url(#bl1)"/>
<rect x="428.65" y="566.45" width="17.5" height="2.6" rx="1.3" fill="rgb(216,216,216)" filter="url(#bl1)"/>
<rect x="313.3" y="563.4" width="137" height="8.7" fill="none" stroke="#2a2a2a" stroke-width="0.8"/>
<text x="309.4" y="570.25" font-size="7" text-anchor="end" stroke="#231f20" stroke-width="0.210">NDUFB8</text>
<text x="453.7" y="570.25" font-size="7" stroke="#231f20" stroke-width="0.210">20KD</text>
<rect x="313.3" y="579.7" width="137" height="10.8" fill="#fbfbfb"/>
<rect x="316.05" y="582.5" width="17.5" height="5.2" rx="2.6" fill="rgb(0,0,0)" filter="url(#bl1)"/>
<rect x="338.65" y="582.5" width="17.5" height="5.2" rx="2.6" fill="rgb(0,0,0)" filter="url(#bl1)"/>
<rect x="361.05" y="582.5" width="17.5" height="5.2" rx="2.6" fill="rgb(0,0,0)" filter="url(#bl1)"/>
<rect x="383.45" y="582.5" width="17.5" height="5.2" rx="2.6" fill="rgb(0,0,0)" filter="url(#bl1)"/>
<rect x="406.25" y="582.5" width="17.5" height="5.2" rx="2.6" fill="rgb(0,0,0)" filter="url(#bl1)"/>
<rect x="428.65" y="582.5" width="17.5" height="5.2" rx="2.6" fill="rgb(0,0,0)" filter="url(#bl1)"/>
<rect x="313.3" y="579.7" width="137" height="10.8" fill="none" stroke="#2a2a2a" stroke-width="0.8"/>
<text x="309.4" y="587.6" font-size="7" text-anchor="end" stroke="#231f20" stroke-width="0.210">HSP90</text>
<text x="453.7" y="587.6" font-size="7" stroke="#231f20" stroke-width="0.210">90KD</text>
<line x1="381.2" y1="495" x2="381.2" y2="608" stroke="#444" stroke-width="0.8" stroke-dasharray="3.5 2.5"/>
<text x="496.4" y="542.4" font-size="8.4" text-anchor="middle" transform="rotate(-90 496.4 542.4)" textLength="100.5" lengthAdjust="spacingAndGlyphs" stroke="#231f20" stroke-width="0.240">Relative protein expression</text>
<line x1="515.5" y1="491.2" x2="515.5" y2="535.6" stroke="#3a3a3a" stroke-width="0.8"/>
<line x1="515.5" y1="544.3" x2="515.5" y2="589.4" stroke="#3a3a3a" stroke-width="0.8"/>
<line x1="513.2" y1="533.5" x2="518.7" y2="538.7" stroke="#3a3a3a" stroke-width="1"/>
<line x1="513.2" y1="542.25" x2="518.7" y2="547.45" stroke="#3a3a3a" stroke-width="1"/>
<line x1="512.1" y1="491.8" x2="515.5" y2="491.8" stroke="#3a3a3a" stroke-width="0.8"/>
<text x="510.3" y="494.4" font-size="7.2" text-anchor="end" stroke="#231f20" stroke-width="0.216">40</text>
<line x1="512.1" y1="503.6" x2="515.5" y2="503.6" stroke="#3a3a3a" stroke-width="0.8"/>
<text x="510.3" y="506.2" font-size="7.2" text-anchor="end" stroke="#231f20" stroke-width="0.216">30</text>
<line x1="512.1" y1="515.4" x2="515.5" y2="515.4" stroke="#3a3a3a" stroke-width="0.8"/>
<text x="510.3" y="518" font-size="7.2" text-anchor="end" stroke="#231f20" stroke-width="0.216">20</text>
<line x1="512.1" y1="527.2" x2="515.5" y2="527.2" stroke="#3a3a3a" stroke-width="0.8"/>
<text x="510.3" y="529.8" font-size="7.2" text-anchor="end" stroke="#231f20" stroke-width="0.216">10</text>
<text x="510.3" y="547.3" font-size="7.2" text-anchor="end" stroke="#231f20" stroke-width="0.216">3</text>
<line x1="512.1" y1="559.6" x2="515.5" y2="559.6" stroke="#3a3a3a" stroke-width="0.8"/>
<text x="510.3" y="562.2" font-size="7.2" text-anchor="end" stroke="#231f20" stroke-width="0.216">2</text>
<line x1="512.1" y1="574.5" x2="515.5" y2="574.5" stroke="#3a3a3a" stroke-width="0.8"/>
<text x="510.3" y="577.1" font-size="7.2" text-anchor="end" stroke="#231f20" stroke-width="0.216">1</text>
<line x1="512.1" y1="589.4" x2="515.5" y2="589.4" stroke="#3a3a3a" stroke-width="0.8"/>
<text x="510.3" y="592" font-size="7.2" text-anchor="end" stroke="#231f20" stroke-width="0.216">0</text>
<line x1="515.5" y1="589.4" x2="633.2" y2="589.4" stroke="#3a3a3a" stroke-width="0.8"/>
<rect x="520.6" y="574.5" width="9.7" height="14.9" fill="#dfe0ef" stroke="#3a3a3a" stroke-width="0.8"/>
<line x1="525.4" y1="585.67" x2="525.4" y2="563.32" stroke="#222" stroke-width="0.8"/>
<line x1="523" y1="585.67" x2="527.8" y2="585.67" stroke="#222" stroke-width="0.8"/>
<line x1="523" y1="563.32" x2="527.8" y2="563.32" stroke="#222" stroke-width="0.8"/>
<path d="M523.81 588.65a1.08 1.08 0 1 0 2.16 0a1.08 1.08 0 1 0 -2.16 0M525.42 583.44a1.08 1.08 0 1 0 2.16 0a1.08 1.08 0 1 0 -2.16 0M524.97 552.15a1.08 1.08 0 1 0 2.16 0a1.08 1.08 0 1 0 -2.16 0" fill="#111"/>
<rect x="532.6" y="524.6" width="9.6" height="11.4" fill="#cda9f7"/>
<path d="M532.6 536 L532.6 524.6 L542.2 524.6 L542.2 536" fill="none" stroke="#3a3a3a" stroke-width="0.8"/>
<rect x="532.6" y="544.7" width="9.6" height="44.7" fill="#cda9f7"/>
<path d="M532.6 589.4 L532.6 544.7 M542.2 544.7 L542.2 589.4 L532.6 589.4" fill="none" stroke="#3a3a3a" stroke-width="0.8"/>
<line x1="537.4" y1="526.26" x2="537.4" y2="521.89" stroke="#222" stroke-width="0.8"/>
<line x1="535" y1="526.26" x2="539.8" y2="526.26" stroke="#222" stroke-width="0.8"/>
<line x1="535" y1="521.89" x2="539.8" y2="521.89" stroke="#222" stroke-width="0.8"/>
<path d="M537.78 526.02a1.08 1.08 0 1 0 2.16 0a1.08 1.08 0 1 0 -2.16 0M535.44 524.25a1.08 1.08 0 1 0 2.16 0a1.08 1.08 0 1 0 -2.16 0M535.23 521.89a1.08 1.08 0 1 0 2.16 0a1.08 1.08 0 1 0 -2.16 0" fill="#111"/>
<line x1="531.3" y1="589.4" x2="531.3" y2="593" stroke="#3a3a3a" stroke-width="0.8"/>
<text x="534.3" y="597.4" font-size="7.2" text-anchor="end" transform="rotate(-45 534.3 597.4)" stroke="#231f20" stroke-width="0.216">UCP1</text>
<rect x="549.5" y="574.5" width="9.7" height="14.9" fill="#dfe0ef" stroke="#3a3a3a" stroke-width="0.8"/>
<line x1="554.3" y1="577.48" x2="554.3" y2="571.52" stroke="#222" stroke-width="0.8"/>
<line x1="551.9" y1="577.48" x2="556.7" y2="577.48" stroke="#222" stroke-width="0.8"/>
<line x1="551.9" y1="571.52" x2="556.7" y2="571.52" stroke="#222" stroke-width="0.8"/>
<path d="M554.20 581.20a1.08 1.08 0 1 0 2.16 0a1.08 1.08 0 1 0 -2.16 0M552.18 573.01a1.08 1.08 0 1 0 2.16 0a1.08 1.08 0 1 0 -2.16 0M552.20 570.77a1.08 1.08 0 1 0 2.16 0a1.08 1.08 0 1 0 -2.16 0" fill="#111"/>
<rect x="561.5" y="533.57" width="9.6" height="2.43" fill="#cda9f7"/>
<path d="M561.5 536 L561.5 533.57 L571.1 533.57 L571.1 536" fill="none" stroke="#3a3a3a" stroke-width="0.8"/>
<rect x="561.5" y="544.7" width="9.6" height="44.7" fill="#cda9f7"/>
<path d="M561.5 589.4 L561.5 544.7 M571.1 544.7 L571.1 589.4 L561.5 589.4" fill="none" stroke="#3a3a3a" stroke-width="0.8"/>
<path d="M562.62 534.60a1.08 1.08 0 1 0 2.16 0a1.08 1.08 0 1 0 -2.16 0M565.22 534.60a1.08 1.08 0 1 0 2.16 0a1.08 1.08 0 1 0 -2.16 0M567.82 534.60a1.08 1.08 0 1 0 2.16 0a1.08 1.08 0 1 0 -2.16 0" fill="#111"/>
<line x1="560.2" y1="589.4" x2="560.2" y2="593" stroke="#3a3a3a" stroke-width="0.8"/>
<text x="563.2" y="597.4" font-size="7.2" text-anchor="end" transform="rotate(-45 563.2 597.4)" stroke="#231f20" stroke-width="0.216">UQCRC2</text>
<rect x="578.4" y="574.5" width="9.7" height="14.9" fill="#dfe0ef" stroke="#3a3a3a" stroke-width="0.8"/>
<line x1="583.2" y1="578.23" x2="583.2" y2="570.77" stroke="#222" stroke-width="0.8"/>
<line x1="580.8" y1="578.23" x2="585.6" y2="578.23" stroke="#222" stroke-width="0.8"/>
<line x1="580.8" y1="570.77" x2="585.6" y2="570.77" stroke="#222" stroke-width="0.8"/>
<path d="M582.22 583.44a1.08 1.08 0 1 0 2.16 0a1.08 1.08 0 1 0 -2.16 0M581.13 570.77a1.08 1.08 0 1 0 2.16 0a1.08 1.08 0 1 0 -2.16 0M581.84 570.03a1.08 1.08 0 1 0 2.16 0a1.08 1.08 0 1 0 -2.16 0" fill="#111"/>
<rect x="590.4" y="515.99" width="9.6" height="20.01" fill="#cda9f7"/>
<path d="M590.4 536 L590.4 515.99 L600 515.99 L600 536" fill="none" stroke="#3a3a3a" stroke-width="0.8"/>
<rect x="590.4" y="544.7" width="9.6" height="44.7" fill="#cda9f7"/>
<path d="M590.4 589.4 L590.4 544.7 M600 544.7 L600 589.4 L590.4 589.4" fill="none" stroke="#3a3a3a" stroke-width="0.8"/>
<line x1="595.2" y1="523.66" x2="595.2" y2="508.32" stroke="#222" stroke-width="0.8"/>
<line x1="592.8" y1="523.66" x2="597.6" y2="523.66" stroke="#222" stroke-width="0.8"/>
<line x1="592.8" y1="508.32" x2="597.6" y2="508.32" stroke="#222" stroke-width="0.8"/>
<path d="M594.63 528.97a1.08 1.08 0 1 0 2.16 0a1.08 1.08 0 1 0 -2.16 0M593.91 514.81a1.08 1.08 0 1 0 2.16 0a1.08 1.08 0 1 0 -2.16 0M592.75 503.01a1.08 1.08 0 1 0 2.16 0a1.08 1.08 0 1 0 -2.16 0" fill="#111"/>
<line x1="589.1" y1="589.4" x2="589.1" y2="593" stroke="#3a3a3a" stroke-width="0.8"/>
<text x="592.1" y="597.4" font-size="7.2" text-anchor="end" transform="rotate(-45 592.1 597.4)" stroke="#231f20" stroke-width="0.216">MTCO1</text>
<rect x="607.3" y="574.5" width="9.7" height="14.9" fill="#dfe0ef" stroke="#3a3a3a" stroke-width="0.8"/>
<line x1="612.1" y1="577.18" x2="612.1" y2="571.82" stroke="#222" stroke-width="0.8"/>
<line x1="609.7" y1="577.18" x2="614.5" y2="577.18" stroke="#222" stroke-width="0.8"/>
<line x1="609.7" y1="571.82" x2="614.5" y2="571.82" stroke="#222" stroke-width="0.8"/>
<path d="M610.29 578.23a1.08 1.08 0 1 0 2.16 0a1.08 1.08 0 1 0 -2.16 0M610.89 577.48a1.08 1.08 0 1 0 2.16 0a1.08 1.08 0 1 0 -2.16 0M609.97 568.54a1.08 1.08 0 1 0 2.16 0a1.08 1.08 0 1 0 -2.16 0" fill="#111"/>
<rect x="619.3" y="529.56" width="9.6" height="6.44" fill="#cda9f7"/>
<path d="M619.3 536 L619.3 529.56 L628.9 529.56 L628.9 536" fill="none" stroke="#3a3a3a" stroke-width="0.8"/>
<rect x="619.3" y="544.7" width="9.6" height="44.7" fill="#cda9f7"/>
<path d="M619.3 589.4 L619.3 544.7 M628.9 544.7 L628.9 589.4 L619.3 589.4" fill="none" stroke="#3a3a3a" stroke-width="0.8"/>
<line x1="624.1" y1="533.34" x2="624.1" y2="525.78" stroke="#222" stroke-width="0.8"/>
<line x1="621.7" y1="533.34" x2="626.5" y2="533.34" stroke="#222" stroke-width="0.8"/>
<line x1="621.7" y1="525.78" x2="626.5" y2="525.78" stroke="#222" stroke-width="0.8"/>
<path d="M622.41 531.33a1.08 1.08 0 1 0 2.16 0a1.08 1.08 0 1 0 -2.16 0M624.35 529.56a1.08 1.08 0 1 0 2.16 0a1.08 1.08 0 1 0 -2.16 0M622.37 521.89a1.08 1.08 0 1 0 2.16 0a1.08 1.08 0 1 0 -2.16 0" fill="#111"/>
<line x1="618" y1="589.4" x2="618" y2="593" stroke="#3a3a3a" stroke-width="0.8"/>
<text x="621" y="597.4" font-size="7.2" text-anchor="end" transform="rotate(-45 621 597.4)" stroke="#231f20" stroke-width="0.216">NDUFB8</text>
<text x="517.7" y="507.5" font-size="5.9" textLength="27.1" lengthAdjust="spacingAndGlyphs" stroke="#231f20" stroke-width="0.177"><tspan font-style="italic">P</tspan> = 0.0016</text>
<path d="M525.2 517 L525.2 512.1 L537.5 512.1 L537.5 517" fill="none" stroke="#333" stroke-width="0.8"/>
<text x="546.2" y="520.1" font-size="5.9" textLength="27.5" lengthAdjust="spacingAndGlyphs" stroke="#231f20" stroke-width="0.177"><tspan font-style="italic">P</tspan> = 0.0002</text>
<path d="M554.5 530.7 L554.5 525.5 L566.4 525.5 L566.4 530.7" fill="none" stroke="#333" stroke-width="0.8"/>
<text x="575.5" y="490" font-size="5.9" textLength="27.1" lengthAdjust="spacingAndGlyphs" stroke="#231f20" stroke-width="0.177"><tspan font-style="italic">P</tspan> = 0.0391</text>
<path d="M583.4 500.4 L583.4 495.7 L595.6 495.7 L595.6 500.4" fill="none" stroke="#333" stroke-width="0.8"/>
<text x="605" y="506.6" font-size="5.9" textLength="27.6" lengthAdjust="spacingAndGlyphs" stroke="#231f20" stroke-width="0.177"><tspan font-style="italic">P</tspan> = 0.0855</text>
<path d="M612.8 516.5 L612.8 510.8 L623.8 510.8 L623.8 516.5" fill="none" stroke="#333" stroke-width="0.8"/>
<rect x="636.2" y="476.3" width="10" height="5.8" fill="#d4d4d4" stroke="#3a3a3a" stroke-width="0.8"/>
<text x="650.5" y="481.6" font-size="7.4" stroke="#231f20" stroke-width="0.222">PBS</text>
<rect x="636.2" y="488.3" width="10" height="5.6" fill="#cda9f7" stroke="#3a3a3a" stroke-width="0.8"/>
<text x="650.5" y="493.6" font-size="7.4" stroke="#231f20" stroke-width="0.222">NB21-mFc</text>
<text x="5.3" y="660.5" font-size="14.5" font-weight="bold" stroke="#231f20" stroke-width="0.240">j</text>
<text x="135.6" y="649.9" font-size="8.3" text-anchor="middle" stroke="#231f20" stroke-width="0.240">sWAT (Cold)</text>
<text x="90.6" y="663.4" font-size="8.3" text-anchor="middle" stroke="#231f20" stroke-width="0.240">PBS</text>
<text x="179.9" y="663.6" font-size="8.3" text-anchor="middle" stroke="#231f20" stroke-width="0.240">NB21-mFc</text>
<text x="39.5" y="696.2" font-size="7.8" text-anchor="middle" transform="rotate(-90 39.5 696.2)" stroke="#231f20" stroke-width="0.234">H&amp;E</text>
<text x="39.5" y="750.5" font-size="7.8" text-anchor="middle" transform="rotate(-90 39.5 750.5)" stroke="#231f20" stroke-width="0.234"><tspan fill="#1fa040" stroke="#1fa040">UCP1</tspan><tspan>/</tspan><tspan fill="#e0262a" stroke="#e0262a">PLN1</tspan><tspan>/</tspan><tspan fill="#2a8ad0" stroke="#2a8ad0">DAPI</tspan></text>
<clipPath id="cp5"><rect x="47.3" y="670" width="86.4" height="52.2"/></clipPath>
<rect x="47.3" y="670" width="86.4" height="52.2" fill="#eee2f2"/>
<g clip-path="url(#cp5)">
<path d="M42.0 658.8L42.9 653.5L47.7 660.4L45.8 663.6ZM81.1 653.5L83.8 660.4L83.2 661.5L78.5 660.8ZM101.5 652.1L102.5 661.3L101.2 661.5L99.2 658.1ZM115.1 663.5L113.0 659.7L114.4 655.8L118.0 661.0L117.1 663.2L116.0 663.6ZM123.1 657.4L127.6 662.7L128.1 662.6L128.9 659.3L123.5 650.9ZM39.7 661.7L35.8 660.4L32.9 664.4L38.5 665.7L39.6 664.6ZM41.8 659.0L45.6 663.9L45.6 664.7L45.3 665.0L45.0 665.1L40.1 664.7L40.2 661.7ZM46.2 663.9L48.1 660.8L50.8 660.7L51.5 664.3L51.2 665.3L46.1 664.7ZM52.0 664.2L56.4 662.4L57.2 661.1L56.9 660.7L51.4 660.4L51.2 660.6ZM61.3 666.3L63.6 664.1L62.4 660.9L62.1 660.7L59.8 661.6ZM62.8 660.8L67.1 661.7L67.8 664.2L64.0 664.0ZM74.8 662.5L68.9 665.1L68.3 664.2L67.7 661.6L68.5 659.2L73.9 661.0ZM78.3 661.2L83.1 661.9L83.2 664.4L79.5 665.6L79.1 665.6L76.4 663.4L76.2 663.0ZM83.6 661.9L84.2 660.8L88.3 660.3L88.0 663.3L86.3 666.5L83.7 664.3ZM88.8 660.2L90.8 658.3L94.9 662.4L95.2 663.4L94.3 665.1L88.6 663.3ZM98.8 658.4L95.5 662.4L95.7 663.3L98.3 663.8L100.9 661.8ZM102.6 666.1L104.5 664.3L104.0 662.7L102.6 661.9L101.4 662.0L98.7 664.1L101.4 666.1ZM109.0 662.5L107.2 664.6L105.0 664.1L104.6 662.5L106.7 659.2L109.5 660.8ZM114.8 663.6L112.6 659.8L110.0 660.9L109.6 662.5L112.9 665.3ZM117.6 663.3L122.5 665.5L121.9 659.2L118.5 661.2ZM122.8 665.4L123.3 666.1L127.4 662.9L122.9 657.5L122.2 659.3ZM128.5 662.8L129.4 659.6L133.9 658.7L133.2 664.4L131.0 664.1ZM139.7 663.7L135.6 656.7L134.2 658.8L133.6 664.4L135.3 666.2ZM144.6 665.6L141.4 663.7L143.5 655.5L147.4 666.3ZM40.0 665.0L38.9 666.1L39.3 669.3L41.4 671.0L44.1 667.9L44.9 665.5ZM45.3 665.6L44.7 668.0L47.4 671.4L48.6 670.2L45.6 665.5ZM46.1 665.0L51.2 665.7L51.8 667.1L51.0 669.5L48.9 670.1L45.8 665.3ZM51.7 665.5L52.3 666.9L56.2 667.0L56.4 662.7L52.1 664.5ZM56.8 662.8L56.7 667.0L58.7 668.7L61.0 666.6L61.0 666.5L59.4 661.8L57.6 661.4ZM67.1 669.0L61.5 666.7L61.5 666.6L64.0 664.5L67.8 664.5L68.5 665.4L68.4 666.4ZM68.9 666.3L69.1 665.3L74.9 662.8L75.7 663.1L75.8 663.5L74.1 668.4ZM74.5 668.8L77.6 671.2L78.8 666.0L76.1 663.6L74.4 668.6ZM84.2 671.1L86.3 667.7L86.0 666.9L83.5 664.8L79.8 666.0L84.1 671.1ZM93.1 668.9L86.9 667.7L86.6 666.8L88.5 663.7L94.2 665.4L93.1 668.8ZM101.0 666.4L98.2 664.4L95.6 663.8L94.7 665.4L93.6 668.8L98.7 670.0ZM103.0 666.4L104.9 664.6L107.1 665.2L109.2 668.5L104.8 670.6ZM110.3 668.6L109.5 668.3L107.5 665.1L109.4 662.9L112.7 665.6L111.7 667.6ZM112.2 667.7L113.3 665.7L115.1 664.1L116.0 664.2L117.5 669.7L117.4 669.7ZM120.9 668.9L123.0 668.2L123.0 668.2L122.9 666.5L122.4 665.9L117.5 663.7L116.3 664.0L117.9 669.7ZM123.5 668.1L123.5 666.3L127.6 663.3L128.1 663.2L130.7 664.5L128.5 667.6ZM134.9 668.1L135.0 666.5L133.3 664.9L131.2 664.6L129.0 667.8L131.6 670.8ZM136.9 669.7L140.3 669.7L144.4 665.9L140.9 664.0L139.9 664.1L135.6 666.5L135.5 668.1ZM39.1 669.8L35.3 671.9L40.2 676.6L42.1 673.2L41.2 671.5ZM41.7 671.3L42.6 673.1L44.9 673.1L46.8 672.3L47.2 671.7L44.4 668.3ZM54.1 673.6L51.1 670.0L49.0 670.6L47.7 671.8L47.4 672.4L50.4 675.4L53.6 674.6ZM54.5 673.4L58.3 671.9L58.4 669.1L56.4 667.4L52.3 667.3L51.4 669.7ZM58.8 672.0L59.0 669.1L61.3 667.1L67.0 669.4L67.1 670.7L65.7 672.7L61.3 673.9ZM67.6 670.6L71.1 671.7L73.9 669.0L73.8 668.7L68.8 666.7L67.6 669.3ZM74.3 669.3L77.4 671.5L77.6 672.2L73.2 673.8L71.5 671.9ZM83.8 671.3L79.5 666.2L79.1 666.2L77.9 671.3L78.1 672.0L78.9 672.6ZM92.4 674.3L93.1 669.3L86.8 668.0L84.5 671.5L86.1 673.8L89.4 675.6L91.8 674.9ZM98.6 670.4L93.6 669.2L93.5 669.3L92.9 674.2L97.3 675.1L100.3 672.5ZM102.6 666.7L104.5 670.8L103.5 673.0L100.8 672.3L99.2 670.2L101.3 666.7ZM111.1 672.7L110.2 669.1L109.3 668.9L105.0 670.9L103.9 673.2L104.7 674.9L110.3 673.9ZM111.6 672.5L110.6 669.0L112.1 668.1L117.3 670.0L115.9 673.4ZM116.7 674.1L119.6 673.9L120.7 669.4L117.7 670.2L117.7 670.2L116.4 673.4ZM120.0 674.0L121.1 669.4L123.1 668.7L125.1 673.2L122.5 674.4ZM131.3 671.1L128.6 668.1L123.5 668.5L123.5 668.6L125.5 673.0L125.5 673.1L130.2 672.8ZM134.9 677.6L136.7 671.0L136.5 670.1L135.2 668.5L131.8 671.3L130.8 672.9L133.5 677.4ZM137.2 671.0L141.3 675.3L142.8 673.6L140.3 670.2L137.0 670.1ZM46.4 677.5L44.7 673.7L42.4 673.6L40.5 676.8L40.5 676.9L41.1 679.2ZM48.0 678.0L46.9 677.3L45.2 673.6L47.1 672.6L50.1 675.7L48.7 677.8ZM52.3 680.4L49.1 678.0L50.6 675.9L53.7 675.0L54.6 679.0ZM55.1 678.9L54.1 674.8L54.6 673.9L58.5 672.4L60.9 674.3L60.7 677.6L58.2 680.4ZM61.2 677.7L63.8 679.2L68.3 678.0L65.8 673.2L61.4 674.3ZM68.8 678.0L72.3 676.6L72.8 674.1L71.0 672.2L67.5 671.0L66.3 673.0L68.6 677.8ZM78.6 673.1L77.8 672.5L73.3 674.2L72.8 676.7L75.7 678.8L78.8 677.9ZM84.1 671.7L85.5 674.1L81.6 679.3L81.3 679.4L79.2 677.9L79.1 673.1L83.9 671.7ZM85.8 674.3L89.2 676.0L87.6 680.1L81.8 679.5ZM94.6 680.7L92.3 675.2L92.8 674.6L97.1 675.5L98.3 677.8ZM100.7 672.9L97.7 675.4L98.8 677.7L100.5 678.4L104.1 676.5L104.2 675.2L103.4 673.5ZM110.3 674.3L104.8 675.3L104.7 676.6L106.1 678.9L111.1 678.0ZM111.6 673.0L115.9 673.8L116.2 674.5L116.3 677.1L112.1 678.3L111.5 677.9L110.8 674.3ZM116.9 677.1L118.2 678.6L120.2 677.7L122.2 674.9L119.7 674.4L116.8 674.6ZM124.8 679.5L125.7 677.4L125.3 673.6L125.2 673.5L122.7 674.9L120.7 677.8ZM133.2 677.6L130.4 673.2L125.6 673.5L126.2 677.5L131.1 679.0ZM135.2 677.8L137.0 671.2L141.2 675.6L140.8 676.6L139.1 678.3L136.8 678.6ZM46.0 684.1L42.1 683.3L41.3 682.9L41.3 679.6L46.6 677.8L47.8 678.5ZM51.4 682.6L46.6 684.2L46.4 684.1L48.1 678.6L48.8 678.3L52.1 680.8ZM52.0 682.6L54.3 685.3L58.0 681.2L57.9 680.8L54.9 679.4L52.6 680.8ZM58.5 680.8L61.0 678.1L63.6 679.7L64.3 685.0L64.0 685.3L60.9 684.1L58.6 681.2ZM64.6 684.9L69.0 682.2L68.6 678.5L68.4 678.4L64.0 679.6ZM72.3 683.8L69.5 682.3L69.0 678.4L72.5 677.1L75.4 679.2L73.6 683.5ZM76.1 684.7L80.0 685.2L80.8 683.1L81.0 679.9L79.0 678.4L75.9 679.3L74.1 683.6ZM88.9 684.2L81.4 683.1L81.5 679.9L81.8 679.8L87.4 680.5L89.0 684.2ZM94.3 681.2L94.3 680.9L92.0 675.4L89.6 676.2L88.0 680.3L89.4 684.1L91.8 683.3ZM94.9 681.2L94.9 680.9L98.5 678.1L100.2 678.9L99.8 684.0ZM100.2 684.1L100.6 679.0L104.3 676.9L105.7 679.3L105.7 681.6L101.8 684.2L100.3 684.3ZM111.2 678.3L106.2 679.3L106.3 681.5L109.3 683.8L111.8 682.6L111.7 678.8ZM112.2 678.7L112.2 682.6L116.1 684.0L118.0 681.8L117.8 679.1L116.5 677.5ZM123.9 683.1L118.5 681.8L118.4 679.1L120.6 678.2L124.6 679.8L124.5 682.8ZM125.0 682.7L129.0 683.9L131.0 679.4L126.1 677.9L125.1 679.9ZM134.8 678.1L133.5 678.0L131.5 679.5L129.4 683.9L130.7 685.9L135.7 682.5L136.4 679.0ZM136.8 679.1L139.2 678.9L142.4 683.3L139.2 687.9L136.3 682.6ZM142.8 683.1L139.5 678.7L141.3 676.9L155.3 683.1ZM41.8 683.8L42.1 692.0L42.1 692.0L37.9 688.9L38.7 684.3L41.0 683.3ZM46.0 684.6L42.1 683.7L42.4 692.0L47.7 688.3L46.2 684.7ZM51.6 683.0L46.6 684.6L48.2 688.3L48.4 688.5L54.3 688.4L54.0 685.7ZM54.6 685.7L54.7 688.3L55.2 688.7L55.9 688.7L60.5 684.5L58.2 681.4ZM56.2 689.0L60.8 684.7L63.9 685.8L64.3 687.9L63.5 688.9L59.4 691.0ZM64.8 687.8L68.8 689.4L70.9 688.5L72.0 684.3L69.2 682.7L64.8 685.3L64.5 685.6ZM74.9 691.2L75.7 685.1L73.8 684.0L72.5 684.4L71.4 688.5ZM75.1 691.2L75.3 691.5L80.2 686.6L79.9 685.7L76.1 685.2ZM88.9 684.5L81.3 683.4L80.4 685.5L80.8 686.4L82.7 688.4L85.4 687.9L88.5 686.2ZM91.8 683.9L89.5 684.5L89.4 684.6L89.1 686.1L90.8 689.1L95.6 687.4ZM94.7 681.5L99.7 684.4L99.8 684.6L98.8 686.5L97.2 687.6L96.0 687.2L92.2 683.7ZM100.3 684.8L101.8 684.8L105.8 688.5L103.1 692.1L99.3 686.8ZM106.1 688.3L108.4 687.8L109.0 684.2L106.0 681.9L102.0 684.6ZM116.4 688.0L114.2 689.8L110.4 689.4L108.9 687.9L109.5 684.3L112.0 683.1L115.9 684.5ZM123.8 683.4L123.1 685.7L119.3 688.7L116.9 687.9L116.5 684.4L118.3 682.2ZM123.3 686.0L125.0 689.1L123.4 692.1L121.9 692.2L119.6 689.1ZM124.3 683.5L123.7 685.7L125.5 688.8L130.6 687.8L130.2 686.1L128.9 684.3L124.9 683.2ZM130.8 686.3L131.1 687.9L131.6 688.7L134.8 689.9L138.8 688.5L138.9 688.1L135.9 682.9ZM41.1 694.2L30.9 694.2L37.7 689.3L41.9 692.3L41.8 693.7ZM48.0 688.9L47.8 688.8L42.5 692.2L42.5 692.3L42.4 693.7L46.5 696.3L48.6 692.7ZM48.5 688.8L54.3 688.7L54.8 689.1L53.5 692.8L52.7 693.6L49.1 692.6ZM53.9 693.0L57.1 695.3L59.3 694.2L59.0 691.4L55.9 689.3L55.2 689.2ZM59.5 691.5L59.8 694.2L61.1 695.4L64.5 693.8L63.6 689.3ZM64.7 688.2L68.6 689.8L68.6 694.6L67.0 694.8L65.0 693.6L64.0 689.3ZM74.7 691.6L74.9 691.8L75.2 693.2L70.9 695.8L69.0 694.6L69.1 689.8L71.2 689.0ZM81.8 691.6L78.3 694.7L75.8 693.2L75.5 691.7L80.4 686.7L82.4 688.8ZM87.2 692.8L85.5 688.4L82.8 688.9L82.4 691.6L85.1 693.6ZM90.2 693.1L87.6 692.7L85.9 688.3L88.8 686.5L90.6 689.5L91.0 691.9ZM91.5 691.9L91.1 689.4L95.7 687.7L97.0 688.1L96.1 692.0ZM98.7 695.2L100.8 694.5L102.8 692.8L102.8 692.4L99.0 687.0L97.4 688.2L96.6 692.2ZM103.4 692.3L106.1 688.9L108.5 688.3L110.0 689.7L108.2 695.2L103.3 692.7ZM110.3 689.9L108.6 695.3L109.4 697.0L114.5 694.4L114.2 690.3ZM116.7 688.4L114.6 690.2L115.0 694.3L116.6 695.5L120.6 693.9L121.6 692.5L119.1 689.3ZM125.8 693.4L129.1 691.9L131.1 688.9L130.6 688.1L125.6 689.2L123.7 692.3ZM131.4 689.1L134.7 690.4L134.8 694.3L131.3 697.0L129.6 692.1ZM139.0 688.8L135.1 690.4L135.2 694.3L137.1 695.8L143.2 692.3ZM47.0 698.3L46.6 699.7L40.6 700.5L40.0 699.6L41.6 694.6L42.2 694.1L46.3 696.7ZM48.9 693.0L46.9 696.5L47.5 698.1L52.0 697.5L52.5 694.0ZM52.9 694.1L52.5 697.6L54.6 699.1L55.1 698.8L56.9 695.6L53.7 693.4ZM61.6 699.0L60.8 695.9L59.5 694.7L57.4 695.8L55.5 698.9L60.2 699.4ZM62.0 698.9L61.4 695.9L64.7 694.2L66.8 695.2L63.9 700.3ZM64.2 700.4L67.1 695.4L68.7 695.1L70.6 696.2L70.7 698.6L65.9 701.5L64.5 700.9ZM71.3 698.5L71.1 696.1L75.5 693.6L78.0 695.1L78.6 697.1L78.4 697.9L74.5 700.6L72.5 699.8ZM84.9 694.0L84.6 697.1L79.1 696.9L78.5 695.0L82.1 691.9ZM90.6 698.3L86.6 698.9L85.1 697.2L85.4 694.1L87.5 693.2L90.1 693.5ZM98.0 696.3L98.3 695.5L96.1 692.5L91.4 692.3L90.6 693.5L91.0 698.3L91.1 698.3L91.9 698.5ZM99.9 702.4L100.5 702.5L104.1 698.9L100.9 695.1L98.8 695.8L98.5 696.5ZM101.2 694.9L103.3 693.1L108.1 695.6L108.9 697.2L108.8 698.5L108.5 698.8L104.6 698.7ZM109.4 698.6L109.5 697.3L114.7 694.8L116.3 696.0L116.6 698.7L115.7 700.2L114.0 701.5ZM122.2 699.5L120.7 694.3L116.8 696.0L117.1 698.6ZM125.4 693.9L126.8 699.0L123.3 700.2L122.5 699.4L121.1 694.3L122.0 692.8L123.5 692.7ZM125.8 693.9L127.2 698.9L128.5 699.2L130.3 698.8L131.0 697.2L129.3 692.3ZM137.9 699.6L136.7 696.2L134.9 694.8L131.6 697.3L130.7 698.9L131.1 699.1ZM138.4 699.6L137.3 696.1L143.5 692.6L158.2 698.7L138.7 699.8ZM39.9 704.1L40.1 700.8L39.5 699.9L29.4 697.8L37.7 705.5ZM43.8 705.8L40.3 704.2L40.7 700.9L46.6 700.0L47.3 703.4ZM50.9 705.1L47.9 703.2L47.1 699.9L47.5 698.5L52.1 698.0L54.4 699.5L54.2 702.2ZM60.1 699.8L55.3 699.3L54.9 699.6L54.8 702.2L57.3 703.6L57.8 703.6ZM61.8 699.4L63.7 700.7L64.0 701.2L61.6 704.5L58.2 703.7L60.5 699.9ZM69.9 704.1L72.0 700.2L70.9 698.9L66.1 701.8L68.5 705.5ZM70.3 704.2L72.3 700.3L74.2 701.1L74.8 703.4ZM76.2 705.2L75.3 703.4L74.8 701.1L78.6 698.2L80.7 702.4ZM86.3 699.2L83.9 703.5L81.1 702.2L79.0 698.0L79.1 697.2L84.6 697.5ZM90.6 698.7L86.7 699.4L84.2 703.7L84.4 704.1L88.0 705.3L89.7 704.9L90.7 698.8ZM95.3 703.7L92.1 706.0L90.1 704.9L91.0 698.8L91.8 699.0ZM99.6 702.6L98.2 696.6L92.0 698.8L95.7 703.5L97.7 703.8ZM106.5 704.0L108.4 699.1L104.4 699.2L100.8 702.8L103.9 704.7ZM107.0 704.1L108.8 699.2L109.2 698.9L113.7 701.8L113.8 703.1L109.6 706.3ZM114.4 703.1L114.3 701.9L116.0 700.7L120.3 703.4L119.2 705.2L114.6 703.4ZM122.5 701.8L123.0 700.5L122.2 699.8L117.1 699.0L116.2 700.4L120.5 703.2ZM125.4 706.5L128.4 703.7L128.3 699.8L126.9 699.4L123.6 700.6L123.1 701.9ZM130.8 705.5L133.6 703.8L130.8 699.6L130.4 699.3L128.7 699.8L128.8 703.7ZM136.3 704.4L134.1 703.7L131.1 699.4L138.0 699.9L138.2 700.2L136.4 704.4ZM43.8 709.8L43.4 710.1L36.0 711.3L38.0 706.0L40.1 704.6L43.6 706.2ZM50.6 705.6L47.7 703.7L44.1 706.2L44.3 709.8L48.9 711.5L51.1 707.9ZM56.9 708.7L57.2 704.1L54.5 702.6L51.2 705.5L51.6 707.8L55.4 708.9ZM58.0 704.1L57.6 704.2L57.3 708.6L58.6 709.2L61.7 708.2L61.3 705.0ZM68.1 705.8L65.7 702.1L64.3 701.4L61.9 704.9L62.2 708.1L65.4 709.8L68.4 708.3ZM75.7 706.6L75.8 705.6L74.8 703.8L70.3 704.6L68.7 705.9L68.8 708.4L70.1 708.9L75.4 706.8ZM76.3 706.6L76.4 705.5L80.9 702.7L83.7 703.9L83.9 704.4L82.3 708.6L81.3 709.4ZM84.3 704.5L87.9 705.8L87.8 710.5L87.6 710.7L82.8 708.8ZM89.9 705.4L88.3 705.8L88.2 710.5L92.5 710.0L91.8 706.4ZM97.6 704.3L97.4 708.0L93.0 710.0L92.9 709.9L92.4 706.4L95.5 704.1ZM100.1 710.4L98.0 707.9L98.0 704.2L99.9 703.0L100.5 703.1L103.5 705.1L103.0 709.0ZM103.5 709.1L104.0 705.2L106.7 704.5L109.3 706.8L109.9 709.4L108.9 713.0L108.7 713.0ZM109.9 706.6L114.0 703.4L114.2 703.8L114.8 707.8L114.8 707.9L110.4 709.3ZM114.6 703.7L119.1 705.5L119.3 707.7L115.3 707.8ZM121.7 710.5L119.8 707.7L119.7 705.5L120.7 703.8L122.7 702.2L125.1 706.8L125.0 707.5ZM130.0 709.4L130.3 709.1L130.6 705.9L128.6 704.2L125.7 706.9L125.6 707.5ZM130.7 709.2L134.3 709.0L136.1 704.9L133.8 704.2L131.1 705.9ZM136.5 705.0L134.7 709.1L135.1 709.7L141.6 709.1L142.4 708.2L136.6 705.0ZM40.4 716.6L42.7 715.8L43.4 710.5L36.0 711.6L35.8 711.8L39.9 716.4ZM43.2 715.8L43.8 710.5L44.2 710.3L48.7 711.9L48.9 713.1L45.2 716.1ZM54.5 714.8L55.3 709.3L51.4 708.2L49.3 711.8L49.5 713.0L52.0 715.7ZM57.1 714.9L58.9 714.3L58.4 709.7L57.1 709.2L55.6 709.4L54.8 714.8ZM59.3 714.3L58.8 709.7L62.0 708.6L65.2 710.3L63.7 715.7L63.4 716.0ZM71.6 712.9L69.7 709.4L68.6 708.8L65.7 710.3L64.1 715.8L69.2 715.9ZM75.6 707.1L70.1 709.3L72.2 712.8L75.5 714.5L75.8 714.2ZM76.2 706.9L81.0 709.7L80.6 711.7L76.2 714.1L75.9 707.1ZM81.6 709.9L82.6 709.1L87.4 711.0L87.1 712.9L83.3 715.0L81.1 711.8ZM93.9 713.9L92.6 710.4L92.5 710.4L88.2 710.9L88.0 711.1L87.7 713.0L90.3 716.5ZM99.0 713.2L94.8 713.9L94.4 713.8L93.1 710.4L97.6 708.3L99.8 710.8ZM101.4 715.5L108.2 713.6L108.5 713.3L103.2 709.5L100.3 710.9L99.6 713.3ZM110.3 709.7L114.9 708.3L115.9 714.1L112.3 714.9L109.3 713.2ZM115.3 708.2L119.5 708.2L121.4 710.8L121.2 712.7L119.8 714.3L116.4 714.0L115.2 708.3ZM128.6 714.5L129.2 713.7L129.9 709.8L125.4 707.9L122.0 710.8L121.8 712.9L127.9 714.5ZM129.7 713.7L135.8 713.5L134.6 710.0L134.2 709.5L130.7 709.5L130.5 709.7ZM135.2 710.0L136.2 713.5L137.0 714.2L139.8 712.3L141.6 709.4ZM42.0 720.4L44.6 721.9L46.2 719.8L45.0 716.6L43.0 716.3L40.7 717.1ZM51.7 716.1L49.2 713.5L45.4 716.4L46.6 719.7L51.5 719.3ZM56.8 715.4L57.3 720.1L52.2 719.8L52.0 719.3L52.2 716.2L54.6 715.3ZM63.1 717.4L63.2 716.4L59.1 714.8L57.3 715.4L57.7 720.1L58.5 720.5ZM70.7 719.5L69.0 716.4L64.0 716.2L63.7 716.5L63.7 717.6L66.0 722.9L66.7 722.9ZM71.4 719.2L75.7 717.4L75.4 714.9L72.0 713.3L69.5 716.3L71.2 719.2ZM76.3 717.4L76.0 714.8L76.3 714.5L80.7 712.2L83.0 715.3L83.1 718.1L78.7 720.2ZM90.0 716.8L87.4 713.3L83.6 715.4L83.6 718.2L86.5 719.6L89.2 719.3ZM94.1 714.3L90.6 716.9L89.6 719.4L91.1 720.9L96.1 719.2L94.5 714.4ZM100.9 715.9L100.6 719.8L98.9 720.3L96.6 719.1L94.8 714.3L99.2 713.6ZM101.4 715.9L101.0 719.8L102.1 720.5L105.9 719.3L108.3 713.8ZM108.9 713.6L109.1 713.6L112.0 715.4L112.2 719.0L109.6 722.5L106.4 719.3L108.6 713.9ZM112.7 719.1L112.5 715.4L116.2 714.6L119.7 714.7L120.7 720.8L115.3 720.8ZM127.8 714.9L124.9 720.8L121.2 720.9L121.1 720.7L120.1 714.8L121.6 713.2ZM128.7 715.0L130.8 718.1L126.1 721.2L125.3 720.8L128.1 715.1ZM129.1 714.8L131.3 717.9L133.2 719.6L136.9 718.9L136.6 714.7L135.8 713.9L129.7 714.0ZM140.0 712.7L137.1 714.7L137.3 718.9L137.8 719.2L141.4 719.4L142.3 715.5ZM37.2 724.2L41.5 720.7L40.3 717.2L39.8 717.0L34.2 723.5L36.4 724.4ZM37.4 724.4L44.9 725.4L44.9 725.3L44.4 722.4L41.9 720.9ZM51.8 720.2L51.7 722.9L50.6 723.9L45.4 725.2L45.0 722.2L46.7 720.2L51.5 719.7ZM58.7 725.1L57.4 726.6L52.3 723.0L52.3 720.2L57.3 720.5L58.1 721.0ZM64.8 724.1L59.1 725.1L58.6 720.9L63.4 717.7L65.7 723.1ZM71.2 719.8L73.8 724.1L70.6 725.3L67.0 723.1L71.0 719.8ZM71.6 719.6L76.0 717.8L78.4 720.6L78.0 723.1L75.4 724.1L74.2 724.0ZM78.6 723.2L78.9 720.7L83.2 718.5L86.3 720.1L84.4 725.8L80.8 726.1ZM90.8 721.4L92.0 725.7L91.8 725.9L85.4 726.3L84.8 725.9L86.7 720.2L89.3 719.8ZM96.3 719.6L98.7 720.7L96.1 725.7L92.5 725.6L91.3 721.3ZM101.8 721.0L100.7 720.3L99.1 720.9L96.4 725.9L97.3 726.7L100.8 727.1L102.6 723.1ZM102.2 720.9L106.1 719.8L109.3 722.8L109.1 726.0L108.7 726.3L103.2 723.1ZM109.9 722.9L112.4 719.5L115.0 721.3L114.0 725.9L113.6 726.3L109.5 726.0ZM114.4 726.0L120.4 724.2L120.8 721.3L120.7 721.1L115.5 721.3ZM120.9 724.3L121.3 721.4L124.9 721.3L125.7 721.7L128.6 724.3L122.1 727.7ZM126.2 721.5L129.0 724.0L130.0 724.5L130.5 724.3L133.0 720.1L131.0 718.4ZM133.4 720.1L130.8 724.5L135.2 727.1L137.4 724.0L137.5 719.7L137.0 719.4ZM37.3 724.7L44.9 725.8L44.5 742.2L36.5 724.9ZM53.2 762.0L50.9 724.4L52.0 723.3L57.3 727.1ZM74.0 724.6L75.3 724.6L72.2 743.1L70.8 725.9ZM91.9 726.4L89.0 741.0L85.4 726.7ZM103.0 723.3L101.2 727.4L106.0 732.3L108.6 726.6ZM114.4 726.4L120.5 724.7L121.7 728.0L122.3 741.4L114.0 726.7ZM122.5 741.4L123.7 747.1L129.9 725.0L128.8 724.6L122.1 728.2Z" fill="#fefdfe"/>
<path d="M74.5 691.2a0.63 0.63 0 1 0 1.27 0a0.63 0.63 0 1 0 -1.27 0M98.5 713.2a0.64 0.64 0 1 0 1.28 0a0.64 0.64 0 1 0 -1.28 0M111.9 719.1a0.47 0.47 0 1 0 0.94 0a0.47 0.47 0 1 0 -0.94 0M73.2 683.7a0.46 0.46 0 1 0 0.91 0a0.46 0.46 0 1 0 -0.91 0M54.5 688.7a0.53 0.53 0 1 0 1.06 0a0.53 0.53 0 1 0 -1.06 0M57.2 704.0a0.43 0.43 0 1 0 0.87 0a0.43 0.43 0 1 0 -0.87 0M78.7 678.0a0.52 0.52 0 1 0 1.03 0a0.52 0.52 0 1 0 -1.03 0M119.8 714.8a0.36 0.36 0 1 0 0.73 0a0.36 0.36 0 1 0 -0.73 0M80.9 680.0a0.38 0.38 0 1 0 0.76 0a0.38 0.38 0 1 0 -0.76 0M63.3 715.9a0.61 0.61 0 1 0 1.22 0a0.61 0.61 0 1 0 -1.22 0M102.9 692.5a0.48 0.48 0 1 0 0.95 0a0.48 0.48 0 1 0 -0.95 0M64.2 687.8a0.37 0.37 0 1 0 0.75 0a0.37 0.37 0 1 0 -0.75 0M65.3 701.8a0.35 0.35 0 1 0 0.69 0a0.35 0.35 0 1 0 -0.69 0M108.7 697.0a0.34 0.34 0 1 0 0.68 0a0.34 0.34 0 1 0 -0.68 0M117.4 678.8a0.55 0.55 0 1 0 1.10 0a0.55 0.55 0 1 0 -1.10 0M86.9 692.8a0.60 0.60 0 1 0 1.21 0a0.60 0.60 0 1 0 -1.21 0M116.0 677.4a0.48 0.48 0 1 0 0.97 0a0.48 0.48 0 1 0 -0.97 0M92.3 710.4a0.55 0.55 0 1 0 1.11 0a0.55 0.55 0 1 0 -1.11 0M95.1 687.3a0.64 0.64 0 1 0 1.28 0a0.64 0.64 0 1 0 -1.28 0M85.7 674.2a0.32 0.32 0 1 0 0.65 0a0.32 0.32 0 1 0 -0.65 0M98.3 677.6a0.48 0.48 0 1 0 0.96 0a0.48 0.48 0 1 0 -0.96 0M130.8 670.9a0.57 0.57 0 1 0 1.15 0a0.57 0.57 0 1 0 -1.15 0M119.0 688.8a0.48 0.48 0 1 0 0.97 0a0.48 0.48 0 1 0 -0.97 0M68.7 689.8a0.36 0.36 0 1 0 0.73 0a0.36 0.36 0 1 0 -0.73 0M113.9 703.2a0.53 0.53 0 1 0 1.07 0a0.53 0.53 0 1 0 -1.07 0M92.4 674.6a0.40 0.40 0 1 0 0.81 0a0.40 0.40 0 1 0 -0.81 0M101.7 720.9a0.35 0.35 0 1 0 0.70 0a0.35 0.35 0 1 0 -0.70 0M93.7 680.8a0.60 0.60 0 1 0 1.21 0a0.60 0.60 0 1 0 -1.21 0M68.0 706.0a0.50 0.50 0 1 0 1.01 0a0.50 0.50 0 1 0 -1.01 0M108.1 713.5a0.56 0.56 0 1 0 1.13 0a0.56 0.56 0 1 0 -1.13 0M75.7 705.3a0.46 0.46 0 1 0 0.93 0a0.46 0.46 0 1 0 -0.93 0M87.0 712.9a0.48 0.48 0 1 0 0.96 0a0.48 0.48 0 1 0 -0.96 0M58.7 714.4a0.58 0.58 0 1 0 1.16 0a0.58 0.58 0 1 0 -1.16 0M61.6 705.1a0.31 0.31 0 1 0 0.61 0a0.31 0.31 0 1 0 -0.61 0M120.1 721.0a0.54 0.54 0 1 0 1.09 0a0.54 0.54 0 1 0 -1.09 0M127.8 715.0a0.39 0.39 0 1 0 0.78 0a0.39 0.39 0 1 0 -0.78 0M110.1 709.5a0.31 0.31 0 1 0 0.62 0a0.31 0.31 0 1 0 -0.62 0M103.8 675.2a0.61 0.61 0 1 0 1.23 0a0.61 0.61 0 1 0 -1.23 0M83.5 704.2a0.46 0.46 0 1 0 0.93 0a0.46 0.46 0 1 0 -0.93 0M88.8 719.7a0.31 0.31 0 1 0 0.63 0a0.31 0.31 0 1 0 -0.63 0M103.0 704.7a0.62 0.62 0 1 0 1.24 0a0.62 0.62 0 1 0 -1.24 0M83.4 704.1a0.61 0.61 0 1 0 1.22 0a0.61 0.61 0 1 0 -1.22 0M77.8 720.3a0.59 0.59 0 1 0 1.17 0a0.59 0.59 0 1 0 -1.17 0M111.8 682.5a0.49 0.49 0 1 0 0.97 0a0.49 0.49 0 1 0 -0.97 0M56.9 695.3a0.55 0.55 0 1 0 1.09 0a0.55 0.55 0 1 0 -1.09 0M51.3 682.4a0.54 0.54 0 1 0 1.08 0a0.54 0.54 0 1 0 -1.08 0M63.8 685.9a0.38 0.38 0 1 0 0.76 0a0.38 0.38 0 1 0 -0.76 0M71.5 699.7a0.51 0.51 0 1 0 1.01 0a0.51 0.51 0 1 0 -1.01 0M99.6 678.5a0.56 0.56 0 1 0 1.12 0a0.56 0.56 0 1 0 -1.12 0M51.5 719.7a0.40 0.40 0 1 0 0.79 0a0.40 0.40 0 1 0 -0.79 0M51.1 707.9a0.46 0.46 0 1 0 0.92 0a0.46 0.46 0 1 0 -0.92 0M99.3 710.6a0.58 0.58 0 1 0 1.17 0a0.58 0.58 0 1 0 -1.17 0M124.8 673.0a0.63 0.63 0 1 0 1.25 0a0.63 0.63 0 1 0 -1.25 0M72.6 674.3a0.58 0.58 0 1 0 1.17 0a0.58 0.58 0 1 0 -1.17 0M64.4 693.8a0.53 0.53 0 1 0 1.06 0a0.53 0.53 0 1 0 -1.06 0M111.3 678.8a0.44 0.44 0 1 0 0.88 0a0.44 0.44 0 1 0 -0.88 0M98.8 720.8a0.34 0.34 0 1 0 0.67 0a0.34 0.34 0 1 0 -0.67 0M85.0 688.1a0.64 0.64 0 1 0 1.28 0a0.64 0.64 0 1 0 -1.28 0M55.2 689.2a0.42 0.42 0 1 0 0.84 0a0.42 0.42 0 1 0 -0.84 0M68.7 694.8a0.41 0.41 0 1 0 0.82 0a0.41 0.41 0 1 0 -0.82 0M127.8 704.0a0.63 0.63 0 1 0 1.25 0a0.63 0.63 0 1 0 -1.25 0M53.7 673.9a0.45 0.45 0 1 0 0.90 0a0.45 0.45 0 1 0 -0.90 0M63.4 679.5a0.40 0.40 0 1 0 0.79 0a0.40 0.40 0 1 0 -0.79 0M60.4 695.7a0.56 0.56 0 1 0 1.12 0a0.56 0.56 0 1 0 -1.12 0M86.2 720.0a0.54 0.54 0 1 0 1.07 0a0.54 0.54 0 1 0 -1.07 0M70.7 719.6a0.49 0.49 0 1 0 0.97 0a0.49 0.49 0 1 0 -0.97 0M119.1 707.6a0.41 0.41 0 1 0 0.82 0a0.41 0.41 0 1 0 -0.82 0M121.9 699.4a0.62 0.62 0 1 0 1.24 0a0.62 0.62 0 1 0 -1.24 0M51.8 720.0a0.54 0.54 0 1 0 1.09 0a0.54 0.54 0 1 0 -1.09 0M58.2 709.4a0.33 0.33 0 1 0 0.66 0a0.33 0.33 0 1 0 -0.66 0M50.2 675.8a0.30 0.30 0 1 0 0.60 0a0.30 0.30 0 1 0 -0.60 0M69.4 704.3a0.45 0.45 0 1 0 0.91 0a0.45 0.45 0 1 0 -0.91 0M124.5 689.0a0.59 0.59 0 1 0 1.17 0a0.59 0.59 0 1 0 -1.17 0M121.1 713.1a0.39 0.39 0 1 0 0.77 0a0.39 0.39 0 1 0 -0.77 0M65.9 673.0a0.32 0.32 0 1 0 0.63 0a0.32 0.32 0 1 0 -0.63 0M122.9 685.9a0.34 0.34 0 1 0 0.69 0a0.34 0.34 0 1 0 -0.69 0M91.3 706.4a0.63 0.63 0 1 0 1.27 0a0.63 0.63 0 1 0 -1.27 0M109.9 689.6a0.47 0.47 0 1 0 0.93 0a0.47 0.47 0 1 0 -0.93 0M90.4 698.2a0.49 0.49 0 1 0 0.98 0a0.49 0.49 0 1 0 -0.98 0M92.3 710.3a0.63 0.63 0 1 0 1.27 0a0.63 0.63 0 1 0 -1.27 0M54.5 699.2a0.32 0.32 0 1 0 0.64 0a0.32 0.32 0 1 0 -0.64 0M54.3 679.0a0.65 0.65 0 1 0 1.29 0a0.65 0.65 0 1 0 -1.29 0M78.5 697.3a0.63 0.63 0 1 0 1.25 0a0.63 0.63 0 1 0 -1.25 0M93.5 713.9a0.48 0.48 0 1 0 0.95 0a0.48 0.48 0 1 0 -0.95 0M75.6 714.6a0.58 0.58 0 1 0 1.16 0a0.58 0.58 0 1 0 -1.16 0M102.4 709.3a0.54 0.54 0 1 0 1.08 0a0.54 0.54 0 1 0 -1.08 0M130.7 699.1a0.35 0.35 0 1 0 0.70 0a0.35 0.35 0 1 0 -0.70 0M68.2 708.8a0.41 0.41 0 1 0 0.82 0a0.41 0.41 0 1 0 -0.82 0M79.8 686.6a0.57 0.57 0 1 0 1.14 0a0.57 0.57 0 1 0 -1.14 0M47.3 678.1a0.53 0.53 0 1 0 1.05 0a0.53 0.53 0 1 0 -1.05 0M97.2 707.9a0.47 0.47 0 1 0 0.94 0a0.47 0.47 0 1 0 -0.94 0M53.9 702.0a0.49 0.49 0 1 0 0.98 0a0.49 0.49 0 1 0 -0.98 0M130.3 705.6a0.51 0.51 0 1 0 1.03 0a0.51 0.51 0 1 0 -1.03 0M121.6 692.4a0.35 0.35 0 1 0 0.70 0a0.35 0.35 0 1 0 -0.70 0M95.1 704.0a0.45 0.45 0 1 0 0.90 0a0.45 0.45 0 1 0 -0.90 0" fill="#b060c0" fill-opacity="0.8"/>
<line x1="122.7" y1="718" x2="130.2" y2="718" stroke="#7a7a7a" stroke-width="1"/>
</g>
<rect x="47.3" y="670" width="86.4" height="52.2" fill="none" stroke="#555" stroke-width="0.8"/>
<clipPath id="cp6"><rect x="137.2" y="670" width="86.4" height="52.2"/></clipPath>
<rect x="137.2" y="670" width="86.4" height="52.2" fill="#ecdef1"/>
<g clip-path="url(#cp6)">
<path d="M143.5 661.3L141.4 664.6L139.5 664.5L137.8 662.7L141.8 656.4L143.6 660.7ZM183.6 654.9L184.1 653.1L188.2 662.3L186.2 664.6ZM213.1 646.8L221.2 660.4L221.9 662.1L217.2 663.4L213.7 660.7ZM222.4 662.1L223.5 663.0L225.6 661.9L227.1 660.1L229.4 654.1L221.8 660.5ZM118.8 662.3L131.5 663.1L128.7 667.7ZM136.7 662.6L134.6 667.2L132.1 663.0L132.6 662.3L133.6 661.5ZM137.5 663.0L139.1 664.9L135.7 669.0L134.9 667.3L137.0 662.9ZM148.4 665.7L143.9 661.5L141.7 664.9L142.3 665.8L147.7 667.3ZM150.9 663.8L150.9 663.4L149.1 660.2L144.2 660.7L144.1 661.3L148.6 665.5ZM153.4 665.0L156.2 665.5L156.2 662.0L154.3 660.8L151.5 663.5L151.4 663.8ZM161.6 663.1L159.4 661.2L156.6 662.0L156.7 665.5L157.6 666.1L160.9 665.0ZM165.7 661.6L166.8 666.4L163.7 667.6L162.7 667.0L161.5 665.1L162.1 663.2L165.0 661.3ZM172.0 662.5L171.2 661.9L166.1 661.5L167.3 666.4L170.1 667.6L171.9 665.5ZM176.6 667.9L172.5 665.6L172.5 662.4L175.0 661.4L177.8 661.7L179.1 666.2ZM179.5 666.1L178.2 661.7L180.4 660.0L184.4 665.5L182.6 667.0ZM180.6 659.9L184.6 665.4L186.0 664.9L186.0 664.7L183.5 654.9ZM186.5 664.9L188.5 662.8L190.8 661.3L192.9 662.9L193.0 664.1L191.0 666.9L188.7 666.6L186.4 665.1ZM193.6 664.0L198.3 666.3L199.5 664.2L198.8 661.7L197.0 660.0L193.5 662.8ZM199.4 661.6L202.0 660.3L205.3 662.5L203.8 664.2L200.0 664.2ZM205.0 666.8L204.3 664.5L205.7 662.8L205.8 662.7L210.2 664.9L208.6 667.9ZM211.5 664.6L214.2 667.1L216.9 665.9L216.9 663.8L213.6 661.1ZM217.4 663.9L217.4 665.9L220.1 668.9L223.0 666.2L223.1 663.4L222.0 662.6ZM229.0 667.6L225.5 667.5L223.6 666.2L223.6 663.4L225.8 662.5L230.1 665.4ZM230.2 665.1L226.0 662.3L227.5 660.3L232.5 663.9ZM129.1 667.9L131.9 663.3L131.9 663.3L134.4 667.5L135.4 669.1L135.3 670.5L129.6 669.9ZM139.4 672.1L139.3 672.1L135.8 670.7L135.7 670.6L135.9 669.3L139.3 665.1L141.2 665.1L141.8 666.1L141.6 671.0ZM147.7 667.6L142.2 666.1L142.1 671.0L145.8 671.5L147.7 668.8ZM153.1 665.5L152.8 670.5L152.5 670.7L148.3 668.7L148.3 667.4L148.9 666.0L151.1 664.2ZM153.5 665.5L156.3 665.9L157.2 666.5L156.7 669.6L153.2 670.5ZM161.0 665.4L157.7 666.6L157.1 669.7L159.3 672.3L162.3 667.4ZM163.5 668.1L165.1 671.7L159.8 673.6L159.5 672.4L162.5 667.6ZM167.1 666.9L169.8 668.0L169.6 669.6L165.6 671.6L165.5 671.6L163.9 668.0ZM176.4 668.3L172.3 666.0L170.4 668.1L170.2 669.7L171.7 671.8L176.0 672.0L176.3 671.7ZM180.1 671.8L176.7 671.7L176.9 668.3L179.4 666.6L182.5 667.4L182.6 669.8ZM185.9 672.7L187.1 671.7L188.3 667.0L186.1 665.4L184.8 665.9L183.0 667.4L183.2 669.7ZM187.5 671.8L188.7 667.1L191.0 667.4L193.3 671.0L192.6 671.6ZM193.4 664.3L198.1 666.7L198.2 669.4L196.1 670.8L193.7 670.8L191.4 667.2ZM202.1 670.2L204.5 667.1L203.8 664.7L199.9 664.6L198.7 666.7L198.7 669.4L201.6 670.4ZM206.3 671.3L208.7 669.5L208.5 668.3L204.9 667.3L202.5 670.4ZM209.3 669.4L212.7 672.5L214.2 671.7L213.9 667.5L211.2 664.9L210.6 665.2L209.1 668.2ZM217.1 666.3L214.4 667.6L214.6 671.8L216.9 671.7L219.1 671.5L219.8 669.2ZM221.4 673.8L219.7 671.6L220.4 669.4L223.3 666.6L225.2 668.0L225.5 672.7L222.9 673.9ZM229.1 668.0L225.6 668.0L226.0 672.6L227.0 672.8L230.3 670.4ZM127.8 675.7L126.0 674.4L129.6 670.3L135.2 670.9L135.2 670.9L133.6 674.3ZM135.0 679.5L136.4 680.0L139.1 672.6L135.5 671.1L134.2 674.6ZM142.6 677.0L145.7 672.3L145.6 672.0L141.9 671.5L139.7 672.5L142.2 677.0ZM142.8 677.1L146.0 672.5L147.5 675.0L146.5 677.5ZM148.1 669.1L146.1 671.8L146.3 672.2L147.9 674.7L152.3 675.0L152.4 671.1ZM153.2 670.9L156.8 670.2L159.0 672.6L159.3 673.8L159.2 674.3L157.4 676.2L153.3 675.7L152.8 675.1L152.9 671.2ZM165.2 672.1L166.6 675.6L164.0 677.1L159.8 674.4L159.9 673.8L165.2 672.1ZM169.9 670.0L171.3 672.2L169.9 676.3L169.6 676.5L167.1 675.5L165.7 672.0ZM176.0 672.4L171.7 672.3L170.2 676.4L172.8 677.0L176.1 673.7ZM181.7 676.0L177.8 676.0L176.7 673.7L176.5 672.4L176.7 672.1L179.9 672.3ZM182.1 675.9L180.4 672.2L183.0 670.1L185.6 673.0L185.5 674.7L182.9 676.4ZM186.2 673.1L187.4 672.2L192.6 672.0L191.1 676.3L190.8 676.6L188.4 676.2L186.1 674.8ZM191.5 676.4L197.3 676.9L197.4 676.8L196.1 671.4L193.7 671.4L193.0 672.1ZM202.2 675.4L201.9 675.7L197.8 676.7L196.4 671.3L198.6 669.8L201.5 670.9ZM206.7 675.8L206.1 671.8L202.4 670.7L201.8 670.9L202.6 675.3ZM207.1 675.8L208.3 676.8L211.7 674.8L212.5 672.9L209.0 669.8L206.6 671.8ZM213.0 673.0L214.4 672.2L216.7 672.2L216.5 677.1L215.2 678.6L212.3 674.9ZM220.8 674.7L216.8 677.1L217.1 672.2L219.3 672.0L221.0 674.0ZM229.9 677.8L230.0 677.8L226.9 673.4L225.9 673.2L223.2 674.3L225.7 677.9ZM134.6 679.6L133.7 674.7L127.8 676.1L129.4 678.4L131.7 680.3ZM141.9 677.3L139.4 672.7L139.3 672.7L136.7 680.0L137.2 680.5L140.2 680.7ZM142.7 677.5L146.4 677.9L147.1 680.1L146.7 680.6L142.0 682.3L140.6 680.9L142.3 677.6ZM147.6 679.9L151.4 679.8L152.8 676.0L152.3 675.4L148.0 675.2L146.9 677.7ZM151.8 679.9L153.2 676.1L157.3 676.6L158.0 680.3L152.1 680.4ZM157.8 676.6L159.6 674.7L163.7 677.5L163.4 680.3L162.3 682.2L158.7 680.6L158.6 680.3ZM169.4 676.9L168.9 679.7L163.9 680.3L164.3 677.5L166.8 676.0ZM169.5 680.2L169.4 679.8L169.9 677.0L170.2 676.9L172.6 677.5L175.5 680.1L174.5 681.2ZM176.3 673.9L173.0 677.3L175.8 679.8L176.3 679.7L177.5 676.4ZM181.7 676.4L178.0 676.5L176.6 679.9L178.4 680.7L182.3 679.4L182.6 676.9ZM183.1 676.9L182.9 679.5L184.3 681.3L186.4 681.6L188.0 676.7L185.7 675.1ZM190.9 677.0L191.3 679.1L190.0 681.9L187.0 681.8L186.8 681.6L188.3 676.8ZM191.5 676.7L197.2 677.2L197.1 679.9L195.9 680.7L191.8 678.9L191.3 676.9ZM197.8 677.3L197.6 679.9L201.9 682.4L202.6 682.1L201.9 676.2L197.8 677.2ZM206.7 676.2L208.0 677.2L207.8 678.8L203.0 682.0L202.9 682.0L202.3 676.2L202.7 675.8ZM212.0 675.2L215.0 678.9L215.6 680.9L215.5 681.0L210.0 681.1L208.4 678.9L208.5 677.2ZM219.8 681.0L220.3 680.3L220.9 675.0L216.8 677.5L215.5 679.0L216.1 680.9L217.5 681.0ZM225.3 678.0L222.9 674.5L221.4 674.3L221.2 675.0L220.7 680.2L224.5 679.2ZM229.9 678.1L226.0 681.6L224.9 679.4L225.8 678.4ZM131.4 680.7L130.9 681.8L129.7 683.1L125.0 683.1L129.1 678.8ZM135.8 685.9L136.8 680.9L136.3 680.5L134.9 680.1L131.9 680.8L131.5 681.9L133.9 686.4ZM141.6 682.7L141.9 684.5L141.8 686.3L137.0 686.7L136.2 686.0L137.3 681.0L140.2 681.3ZM142.1 682.6L142.5 684.5L147.9 684.8L146.8 681.0ZM147.3 680.9L148.4 684.7L148.7 685.1L151.6 685.0L152.3 684.0L151.6 680.8L151.3 680.3L147.6 680.4ZM156.1 683.5L158.2 680.9L158.0 680.6L152.1 680.7L152.8 684.0ZM158.1 687.4L163.1 684.7L162.2 682.6L158.6 681.1L156.5 683.8ZM168.8 684.2L164.1 685.0L163.6 684.6L162.7 682.4L163.9 680.6L168.9 680.1L169.0 680.5ZM169.3 684.2L170.6 685.0L173.1 684.9L174.5 681.5L169.4 680.6ZM178.1 681.2L176.4 680.3L175.8 680.4L175.0 681.6L173.6 684.9L175.9 687.0L177.0 687.2L178.8 684.2ZM182.5 679.9L178.6 681.1L179.3 684.1L182.6 684.2L183.9 681.7ZM187.4 688.3L187.3 688.3L186.9 682.2L190.0 682.5L190.7 683.5ZM195.8 681.1L194.2 684.7L194.2 684.7L191.3 683.3L190.4 682.3L191.6 679.3ZM197.4 680.3L201.8 682.7L201.4 683.6L197.1 686.9L194.7 684.8L196.3 681.2ZM208.0 679.2L209.5 681.5L209.1 684.6L207.7 685.5L203.2 682.3ZM213.4 686.4L209.6 684.7L210.0 681.6L215.5 681.3ZM219.9 681.5L222.1 684.8L217.9 686.2L217.6 681.5ZM225.6 682.0L225.5 683.8L223.3 685.4L222.5 684.6L220.3 681.3L220.8 680.6L224.5 679.7ZM230.3 678.3L230.3 678.2L240.7 681.1L233.9 683.4L233.3 683.5L226.1 683.8L226.2 681.9ZM133.6 686.5L131.2 682.1L130.0 683.6L129.7 686.4L132.0 688.1ZM141.9 687.1L137.6 691.2L137.1 687.0L141.7 686.6ZM142.5 686.9L144.0 688.8L146.3 689.2L148.3 685.5L147.9 685.1L142.5 684.8L142.3 686.5ZM152.3 687.7L148.0 690.8L146.7 689.3L148.7 685.7L151.6 685.5ZM157.4 688.3L153.8 688.5L152.9 687.5L152.1 685.4L152.7 684.4L156.0 684.1L157.7 687.6ZM158.0 688.4L158.5 689.8L163.6 687.7L163.9 687.4L163.9 687.2L163.8 685.5L163.2 685.1L158.3 687.6ZM168.8 684.6L164.3 685.3L164.5 687.1L169.7 689.2L170.1 685.4ZM171.2 692.4L170.3 691.3L170.2 689.4L170.5 685.6L173.2 685.4L175.6 687.4L171.6 692.6ZM182.5 684.7L183.5 687.9L177.8 687.8L177.4 687.4L179.2 684.6ZM184.3 681.9L186.4 682.1L186.6 682.2L187.1 688.3L184.7 688.6L183.9 687.7L183.1 684.5ZM187.6 688.4L191.0 683.7L194.1 685.1L189.7 689.8ZM200.1 690.0L203.2 689.3L201.6 683.9L197.3 687.3L197.6 688.8ZM202.9 682.6L203.0 682.6L207.4 685.8L206.7 688.1L204.7 689.5L203.6 689.1L201.9 683.8L202.2 682.9ZM213.3 686.7L209.4 685.1L208.0 686.0L207.2 688.3L210.5 690.3L213.6 687.4ZM217.2 681.6L215.8 681.4L215.8 681.4L213.8 686.5L214.1 687.2L214.5 687.4L216.7 687.2L217.5 686.2ZM222.3 685.2L223.2 685.9L223.3 688.1L222.2 690.9L222.1 690.9L222.1 690.9L217.1 687.6L218.0 686.6ZM233.2 683.8L226.5 688.0L223.8 687.9L223.6 685.7L225.9 684.2ZM233.2 683.9L226.8 688.2L229.0 689.4L233.9 683.8ZM131.8 688.6L129.4 686.8L120.1 689.6L128.6 693.3L129.7 693.5L131.8 691.7ZM137.2 691.3L137.1 692.0L132.3 691.5L132.4 688.5L134.0 687.0L135.8 686.4L136.6 687.1ZM142.0 687.2L143.6 689.2L141.5 692.9L137.8 692.5L137.5 692.1L137.7 691.4ZM141.9 693.0L144.1 689.4L146.4 689.7L147.6 691.1L148.1 692.4L147.2 694.3L142.7 694.2ZM152.5 688.0L148.2 691.0L148.6 692.3L152.7 692.8L153.4 688.9ZM157.5 688.7L158.0 690.1L158.6 691.6L153.6 693.4L153.1 692.9L153.9 689.0ZM163.6 687.9L158.6 690.1L159.1 691.5L159.7 692.0ZM165.1 691.2L164.1 687.7L163.8 688.0L159.9 692.2L162.1 695.8ZM169.8 691.3L169.6 689.5L164.4 687.4L164.4 687.6L165.6 690.9ZM171.9 692.7L175.9 687.6L177.0 687.8L177.4 688.2L178.2 691.5L178.1 691.8L174.0 694.8ZM184.4 689.0L183.3 691.0L178.7 691.5L177.8 688.0L183.5 688.2ZM187.2 688.9L187.2 688.9L184.9 689.1L183.8 691.3L184.1 695.0L185.7 696.2L190.7 692.6L189.3 690.2ZM189.9 690.0L191.2 692.4L191.9 692.8L194.3 692.1L197.1 689.0L196.7 687.4L194.4 685.3L194.3 685.3ZM200.0 695.0L198.1 695.3L194.7 692.5L197.4 689.2L200.0 690.6L200.0 694.5ZM204.8 691.7L204.5 689.9L203.4 689.7L200.4 690.4L200.4 694.5ZM210.5 692.6L210.3 690.7L206.9 688.6L204.9 689.9L205.4 691.8L206.3 693.6L208.0 694.6ZM214.3 688.0L213.8 687.7L210.9 690.6L211.0 692.5L214.2 693.9L215.4 691.6ZM216.9 687.8L221.9 691.1L215.8 691.4L214.7 687.9ZM226.5 688.6L223.8 688.3L222.6 691.2L227.1 693.9L229.5 692.2L228.6 689.8ZM136.9 695.5L135.1 697.8L132.1 698.4L130.1 693.8L132.2 692.0L137.0 692.5L137.3 692.8ZM141.5 698.5L137.5 695.6L137.8 692.8L141.5 693.4L142.2 694.5L141.8 698.0ZM142.2 698.1L147.6 697.6L147.1 694.7L142.7 694.5ZM153.0 696.8L153.3 695.1L153.1 693.8L152.7 693.3L148.6 692.7L147.7 694.6L148.1 697.5L148.3 697.9ZM160.0 698.2L154.2 697.9L153.6 696.9L153.9 695.2L161.7 696.2L161.8 696.4ZM161.7 696.0L153.9 695.0L153.7 693.7L158.8 692.0L159.4 692.5L161.7 695.9ZM170.9 692.8L169.8 691.7L165.4 691.5L162.3 695.9L162.3 696.0L162.3 696.3L163.0 696.6L166.5 696.6ZM173.9 696.4L171.4 699.4L169.6 699.2L167.0 696.8L171.2 693.0L171.6 693.2L173.6 695.2L173.9 696.3ZM174.5 696.3L179.9 696.8L180.6 696.0L178.2 692.2L174.2 695.0ZM178.7 691.8L178.6 692.1L180.9 695.8L183.7 695.1L183.3 691.4ZM186.0 696.4L186.0 696.6L192.0 699.7L192.6 698.7L191.7 693.3L190.9 693.0ZM193.0 698.6L192.0 693.2L194.4 692.7L197.8 695.6L196.4 698.1ZM202.6 696.2L205.8 694.0L204.9 692.0L200.5 694.8L200.4 695.1L201.9 696.4ZM208.1 696.9L207.8 695.1L206.1 694.2L202.9 696.5L206.0 698.4ZM208.7 696.9L208.3 695.0L210.8 693.0L214.0 694.3L215.0 696.7L210.3 698.3ZM222.0 691.4L222.0 691.4L219.5 697.1L216.3 697.1L215.5 696.6L214.6 694.2L215.8 691.9ZM225.9 698.9L220.8 698.3L219.9 697.3L222.3 691.5L222.4 691.5L226.9 694.3L227.2 696.4ZM129.8 694.1L131.7 698.6L131.2 700.1L128.2 702.0L124.9 700.6L128.7 693.9ZM138.0 700.7L134.4 703.4L131.7 700.3L132.2 698.8L135.0 698.3ZM141.3 698.8L140.8 701.0L138.3 700.5L135.4 698.1L137.3 695.9ZM141.9 698.9L141.3 701.1L141.8 702.2L142.7 702.6L147.9 700.6L147.9 698.2L147.6 697.9L142.2 698.4ZM153.5 700.9L153.7 698.1L153.1 697.2L148.4 698.2L148.5 700.5L149.4 701.7L153.0 701.5ZM158.9 701.1L158.1 701.6L154.1 700.9L154.2 698.1L160.0 698.5ZM163.2 705.2L159.4 701.1L160.5 698.5L162.1 696.7L162.7 697.1L165.1 702.6ZM169.1 699.5L166.9 702.5L165.4 702.5L163.0 697.0L166.6 697.1ZM169.5 699.8L167.2 702.7L169.6 704.6L172.0 702.4L171.2 699.9ZM174.2 696.8L177.3 702.1L177.2 702.4L174.1 703.0L172.5 702.3L171.7 699.8ZM174.5 696.6L177.6 701.9L179.9 700.5L179.9 697.1L174.5 696.5ZM185.4 696.6L185.5 696.8L184.8 701.5L184.4 701.7L180.4 700.5L180.4 697.0L181.1 696.3L183.8 695.6ZM185.9 696.9L191.9 700.0L191.5 702.1L191.3 702.5L188.9 703.3L185.3 701.7ZM198.6 701.1L196.4 698.6L193.0 699.1L192.5 700.0L192.0 702.1L198.0 702.0ZM201.2 700.4L199.0 700.9L196.9 698.3L198.2 695.9L200.1 695.5L201.5 696.8ZM205.6 698.8L202.7 696.8L201.9 696.9L201.6 700.5L202.8 701.4L204.9 700.9ZM208.4 697.3L206.2 698.9L205.4 701.1L208.1 702.8L209.9 701.7L210.0 698.8ZM210.5 698.7L215.1 697.0L215.9 697.6L214.3 703.6L210.4 701.8ZM216.3 697.6L214.6 703.7L215.4 705.2L220.2 700.6L220.3 698.7L219.5 697.6ZM226.3 700.6L224.8 703.7L222.4 704.2L220.7 700.7L220.8 698.7L225.8 699.4ZM128.4 706.0L128.4 702.5L131.4 700.6L134.1 703.8L134.7 705.9L132.1 707.3ZM137.5 706.9L135.2 705.9L134.7 703.7L138.2 701.0L140.8 701.4L141.3 702.6L138.1 706.5ZM143.1 708.5L144.7 706.3L142.5 703.2L141.7 702.8L138.4 706.7ZM147.9 706.6L145.2 706.1L142.8 702.9L148.1 700.9L149.0 702.1L148.6 706.3ZM151.3 707.3L154.0 706.2L153.0 702.0L149.4 702.1L149.0 706.4ZM156.6 706.6L154.4 706.0L153.4 701.9L153.9 701.3L158.0 702.0ZM162.9 705.5L162.7 706.9L161.5 708.6L158.3 708.0L157.0 706.8L158.4 702.1L159.2 701.5ZM163.5 705.5L163.2 706.9L169.5 707.6L169.2 704.9L166.9 703.1L165.4 703.1ZM172.2 702.7L173.9 703.5L173.3 707.7L173.1 707.8L170.0 707.7L170.0 707.6L169.8 705.0ZM178.8 707.1L177.3 702.8L174.3 703.5L173.7 707.7ZM179.2 707.0L177.7 702.7L177.8 702.4L180.1 700.9L184.2 702.1L181.3 708.1L180.7 708.3ZM187.1 708.5L187.4 708.3L188.6 703.8L185.0 702.0L184.6 702.2L181.6 708.3L186.0 709.0ZM187.9 708.4L193.9 710.2L194.5 707.2L191.6 703.0L189.1 703.8ZM198.0 702.3L192.0 702.4L191.8 702.8L194.8 706.9L197.8 705.7ZM202.5 701.8L202.5 705.7L200.2 706.3L198.3 705.6L198.6 702.3L199.1 701.4L201.2 700.9ZM207.9 703.3L206.9 707.1L206.0 707.6L202.9 705.8L202.9 701.9L205.1 701.5ZM208.4 703.3L207.3 707.3L211.4 708.4L214.7 707.6L215.2 706.7L214.9 705.5L214.1 704.1L210.3 702.2ZM222.0 704.6L220.4 700.9L215.5 705.4L215.8 706.6L220.3 706.6L220.7 706.5ZM227.1 706.7L224.9 704.2L222.5 704.7L221.2 706.6L225.7 709.1ZM226.7 700.7L225.3 703.9L227.5 706.5L235.6 704.8ZM130.7 712.5L123.7 711.1L128.2 706.4L132.0 707.8L131.8 711.9ZM135.0 712.5L137.6 712.5L137.3 707.4L135.0 706.3L132.4 707.8L132.3 711.9ZM138.5 713.0L142.6 712.5L142.8 712.2L142.9 708.9L138.3 707.1L137.7 707.4L138.0 712.5ZM143.2 712.1L146.8 711.3L147.8 707.0L145.0 706.7L143.5 708.8ZM147.2 711.4L148.1 707.1L148.8 706.8L151.1 707.8L151.5 710.7L150.0 713.6ZM156.5 707.1L154.3 706.6L151.6 707.7L152.0 710.6L155.8 711.5L157.8 708.3ZM158.2 708.6L156.2 711.7L156.3 714.6L161.0 713.8L161.5 709.4L161.4 709.0ZM163.2 707.2L169.5 707.9L169.5 708.0L168.7 711.2L166.5 711.7L162.1 709.2L161.9 708.9ZM170.8 713.4L173.9 711.3L173.1 708.3L169.9 708.1L169.2 711.3ZM178.2 713.2L174.5 711.2L173.6 708.1L173.8 708.0L178.9 707.5L180.5 708.7L179.6 711.5ZM180.1 711.6L184.9 714.7L185.8 712.2L185.7 709.4L181.5 708.7L181.0 708.8ZM187.3 709.1L189.6 713.6L186.3 712.1L186.2 709.5ZM187.5 708.9L187.8 708.7L193.8 710.5L194.0 711.1L193.1 713.0L190.1 713.7L189.9 713.5ZM198.0 706.1L195.1 707.4L194.4 710.3L194.5 710.9L199.9 712.0L200.0 706.8ZM205.8 708.0L204.7 711.5L200.5 712.1L200.3 712.0L200.4 706.9L202.6 706.2ZM207.1 707.7L211.1 708.8L210.4 710.9L206.8 713.8L206.6 713.7L205.2 711.6L206.2 708.2ZM214.8 708.0L211.5 708.9L211.0 711.0L212.4 715.5L214.0 715.2L215.7 711.8ZM215.7 707.0L220.3 707.1L221.3 712.7L220.8 713.1L216.2 711.6L215.2 707.9ZM225.6 709.5L221.1 706.9L220.7 707.1L221.7 712.6L224.5 712.1L225.7 711.4ZM246.0 705.7L230.2 712.9L226.2 711.4L226.2 709.4L227.7 706.9L235.7 705.0ZM132.6 717.9L134.8 713.0L132.0 712.4L131.0 713.0L131.0 717.3L132.3 718.0ZM135.6 718.1L132.8 718.0L135.2 713.1L137.6 713.0L138.1 713.5L138.0 714.9ZM138.5 714.9L138.6 713.5L142.6 712.9L144.3 716.0L142.6 718.3L140.5 718.0ZM148.8 717.0L144.8 715.8L143.1 712.8L143.3 712.5L146.9 711.8L149.7 713.9L150.0 715.3ZM150.6 715.3L150.3 713.9L151.9 711.1L155.7 711.9L155.8 714.7L155.3 715.6L155.2 715.6ZM155.8 715.7L158.7 717.8L161.5 715.0L160.9 714.2L156.4 714.9ZM165.0 715.7L163.3 715.9L162.0 714.8L161.5 714.0L161.9 709.5L166.3 712.1ZM170.5 713.8L168.9 711.7L166.7 712.2L165.4 715.8L168.2 717.3L170.7 715.7ZM171.0 713.8L174.2 711.7L178.0 713.5L177.5 715.9L173.5 716.7L171.3 715.7ZM178.6 713.6L178.0 716.0L179.5 718.3L184.8 715.3L184.7 715.0L179.9 712.0ZM189.5 713.9L189.7 714.1L187.3 717.1L185.4 715.2L185.3 714.9L186.2 712.6ZM193.2 713.7L190.1 719.5L188.7 719.3L187.7 718.1L187.5 717.3L190.0 714.3L193.2 713.4ZM200.0 712.5L199.8 714.7L198.0 717.5L196.0 717.4L193.8 713.6L193.7 713.3L194.5 711.3L199.8 712.4ZM200.5 712.5L204.7 711.9L206.2 714.0L204.7 717.7L200.4 714.7ZM211.6 715.9L207.0 714.1L210.7 711.2L212.1 715.6ZM220.7 713.4L220.4 716.6L216.5 717.4L214.3 715.4L216.1 712.1ZM221.1 713.6L220.9 716.6L221.5 717.4L224.2 718.3L225.3 718.2L224.5 712.6L221.6 713.1ZM229.8 713.3L229.3 715.1L226.3 718.3L225.7 718.1L224.9 712.6L226.1 711.8ZM132.0 718.4L132.0 722.7L125.9 719.1L130.7 717.8ZM135.4 718.7L132.7 718.5L132.4 718.6L132.3 722.7L132.5 723.4L134.0 724.2L135.7 719.4ZM135.9 718.4L138.2 715.2L140.2 718.3L138.7 720.9L136.3 719.2ZM139.1 721.0L139.1 721.1L142.5 721.2L143.1 720.1L142.5 718.8L140.6 718.5ZM148.8 717.4L144.7 716.3L143.0 718.6L143.6 719.9L148.7 720.9L148.9 720.8ZM149.3 717.4L149.4 720.8L153.1 721.8L154.6 721.1L155.1 716.1L150.4 715.7ZM155.5 716.1L155.7 716.0L158.5 718.3L159.6 721.0L159.4 721.4L158.6 721.8L155.0 721.1ZM159.0 718.1L160.0 720.9L162.2 719.4L163.1 716.4L161.7 715.3ZM165.2 716.2L163.5 716.4L162.7 719.6L165.9 721.3L167.7 720.4L167.9 717.7ZM171.0 716.1L173.2 717.2L172.7 722.3L171.6 723.3L168.2 720.5L168.5 717.8ZM177.6 716.3L173.6 717.2L173.1 722.3L175.6 722.1L179.2 719.1L179.1 718.6ZM184.9 715.6L187.0 717.4L187.1 718.2L181.3 720.6L179.8 719.0L179.7 718.5ZM186.7 723.2L188.3 719.7L187.2 718.5L181.4 720.8L181.5 720.9L186.0 723.4ZM195.6 717.7L193.1 720.9L190.4 719.7L193.4 713.8ZM198.0 718.0L199.9 720.3L197.7 722.7L193.6 721.9L193.4 721.2L195.9 717.9ZM198.4 717.8L200.4 720.0L203.0 720.6L204.5 719.4L204.5 718.0L200.2 715.0ZM211.5 716.3L210.1 720.3L210.0 720.4L208.0 720.2L205.0 719.4L205.1 718.0L206.6 714.3L206.8 714.3ZM212.0 716.3L210.5 720.3L216.1 720.6L216.1 717.6L214.0 715.7L212.5 716.0ZM220.5 717.0L216.6 717.8L216.5 720.7L217.6 722.9L219.4 722.6L221.1 717.9ZM221.4 718.0L219.7 722.7L219.8 722.8L222.7 721.9L224.1 718.7ZM228.1 721.0L226.5 718.6L229.6 715.5L232.7 720.5ZM131.8 722.9L125.8 719.3L125.1 719.3L127.6 725.6L132.1 723.5ZM136.1 719.6L134.3 724.3L136.2 726.2L138.1 724.9L138.6 721.4L138.6 721.4ZM142.5 721.6L142.9 725.4L138.5 725.0L139.0 721.4ZM143.5 720.3L148.7 721.2L146.5 725.6L143.8 725.6L143.3 725.3L143.0 721.6ZM153.0 722.3L153.6 726.1L152.5 726.7L147.0 725.8L147.0 725.7L149.1 721.4L149.2 721.2ZM153.4 722.3L154.1 726.0L156.4 727.1L157.6 725.5L158.5 722.2L154.9 721.5ZM161.5 726.3L158.1 725.5L158.9 722.3L159.7 721.9L162.5 724.9ZM165.6 721.6L164.6 724.7L162.8 724.7L159.9 721.7L160.2 721.3L162.4 720.0ZM166.1 721.8L165.0 724.8L166.7 726.7L171.3 724.8L171.4 723.6L167.9 720.9ZM171.8 724.9L173.2 727.4L177.2 727.1L177.7 725.4L175.3 722.6L173.1 722.8L172.0 723.7ZM175.8 722.3L179.5 719.3L180.9 721.0L180.9 721.1L180.5 723.2L178.1 725.2ZM183.4 727.1L181.0 723.4L181.3 721.2L185.8 723.7ZM192.6 724.1L193.1 722.1L192.8 721.4L190.2 720.1L188.7 719.8L187.2 723.4L189.5 725.8ZM198.4 725.7L197.6 723.1L193.6 722.3L193.2 724.3L193.7 725.0ZM198.8 725.6L198.1 723.1L200.2 720.5L202.9 721.1L203.0 725.2L199.9 727.2ZM204.8 719.8L203.3 721.1L203.5 725.1L205.9 726.3L206.2 726.2L207.8 720.7ZM210.1 720.9L208.1 720.8L206.6 726.3L211.1 726.6L211.5 725.6ZM217.2 723.2L216.0 720.9L210.5 720.6L210.5 720.7L211.9 725.5L216.9 723.6ZM219.9 723.1L223.1 722.4L226.3 724.6L226.3 725.8L223.4 726.9ZM227.7 721.2L226.6 724.3L223.2 721.9L224.5 718.8L225.6 718.7L226.1 718.9ZM228.2 721.5L226.9 724.5L226.9 725.8L227.6 726.3L245.5 724.2L232.8 720.9ZM132.3 724.0L127.8 725.9L126.2 730.3L135.8 726.8L135.9 726.5L133.8 724.7ZM142.9 725.8L138.4 725.5L136.4 726.6L136.4 727.0L138.4 742.0L143.5 726.1ZM147.0 726.2L149.8 736.6L152.5 727.1ZM161.5 726.8L160.2 737.9L156.7 727.6L158.0 726.0ZM161.7 726.8L160.3 738.0L162.7 753.1L166.4 727.2L164.7 725.2L162.8 725.3ZM183.2 733.4L177.8 727.3L178.2 725.7L180.7 723.7L183.1 727.4ZM189.2 726.3L186.8 723.7L186.1 724.0L183.7 727.5L183.5 733.4L186.0 741.0ZM198.5 726.1L193.7 725.4L196.6 736.8L199.5 727.6ZM217.1 723.9L211.9 726.0L211.5 727.1L216.1 743.8L218.8 733.7ZM219.4 723.2L217.7 723.5L217.4 723.9L219.1 733.6L223.1 727.1L219.6 723.3Z" fill="#fefdfe"/>
<path d="M169.6 676.4a0.59 0.59 0 1 0 1.18 0a0.59 0.59 0 1 0 -1.18 0M186.6 708.7a0.64 0.64 0 1 0 1.28 0a0.64 0.64 0 1 0 -1.28 0M152.3 676.0a0.59 0.59 0 1 0 1.18 0a0.59 0.59 0 1 0 -1.18 0M162.7 680.5a0.63 0.63 0 1 0 1.27 0a0.63 0.63 0 1 0 -1.27 0M186.7 718.5a0.51 0.51 0 1 0 1.02 0a0.51 0.51 0 1 0 -1.02 0M142.1 694.4a0.40 0.40 0 1 0 0.81 0a0.40 0.40 0 1 0 -0.81 0M179.9 672.4a0.52 0.52 0 1 0 1.04 0a0.52 0.52 0 1 0 -1.04 0M179.1 718.6a0.47 0.47 0 1 0 0.94 0a0.47 0.47 0 1 0 -0.94 0M206.3 714.1a0.51 0.51 0 1 0 1.02 0a0.51 0.51 0 1 0 -1.02 0M210.0 701.9a0.31 0.31 0 1 0 0.63 0a0.31 0.31 0 1 0 -0.63 0M221.5 691.2a0.55 0.55 0 1 0 1.11 0a0.55 0.55 0 1 0 -1.11 0M180.3 708.7a0.47 0.47 0 1 0 0.94 0a0.47 0.47 0 1 0 -0.94 0M199.7 714.7a0.46 0.46 0 1 0 0.93 0a0.46 0.46 0 1 0 -0.93 0M195.9 671.4a0.45 0.45 0 1 0 0.90 0a0.45 0.45 0 1 0 -0.90 0M196.0 698.1a0.31 0.31 0 1 0 0.61 0a0.31 0.31 0 1 0 -0.61 0M204.7 701.1a0.49 0.49 0 1 0 0.98 0a0.49 0.49 0 1 0 -0.98 0M220.2 716.5a0.44 0.44 0 1 0 0.88 0a0.44 0.44 0 1 0 -0.88 0M220.8 717.6a0.37 0.37 0 1 0 0.74 0a0.37 0.37 0 1 0 -0.74 0M138.4 721.0a0.64 0.64 0 1 0 1.27 0a0.64 0.64 0 1 0 -1.27 0M149.5 714.1a0.52 0.52 0 1 0 1.04 0a0.52 0.52 0 1 0 -1.04 0M142.4 721.6a0.48 0.48 0 1 0 0.95 0a0.48 0.48 0 1 0 -0.95 0M169.3 707.9a0.51 0.51 0 1 0 1.01 0a0.51 0.51 0 1 0 -1.01 0M151.7 675.1a0.51 0.51 0 1 0 1.02 0a0.51 0.51 0 1 0 -1.02 0M178.0 691.8a0.53 0.53 0 1 0 1.06 0a0.53 0.53 0 1 0 -1.06 0M171.5 692.7a0.43 0.43 0 1 0 0.85 0a0.43 0.43 0 1 0 -0.85 0M166.3 702.8a0.59 0.59 0 1 0 1.19 0a0.59 0.59 0 1 0 -1.19 0M158.1 718.3a0.44 0.44 0 1 0 0.88 0a0.44 0.44 0 1 0 -0.88 0M159.9 698.4a0.43 0.43 0 1 0 0.86 0a0.43 0.43 0 1 0 -0.86 0M155.0 715.8a0.32 0.32 0 1 0 0.65 0a0.32 0.32 0 1 0 -0.65 0M166.4 675.5a0.44 0.44 0 1 0 0.88 0a0.44 0.44 0 1 0 -0.88 0M201.6 682.7a0.53 0.53 0 1 0 1.06 0a0.53 0.53 0 1 0 -1.06 0M189.3 714.1a0.41 0.41 0 1 0 0.82 0a0.41 0.41 0 1 0 -0.82 0M143.5 689.3a0.30 0.30 0 1 0 0.61 0a0.30 0.30 0 1 0 -0.61 0M153.2 695.1a0.44 0.44 0 1 0 0.88 0a0.44 0.44 0 1 0 -0.88 0M141.5 684.4a0.61 0.61 0 1 0 1.22 0a0.61 0.61 0 1 0 -1.22 0M185.6 712.2a0.46 0.46 0 1 0 0.91 0a0.46 0.46 0 1 0 -0.91 0M155.6 711.5a0.46 0.46 0 1 0 0.91 0a0.46 0.46 0 1 0 -0.91 0M142.5 712.9a0.39 0.39 0 1 0 0.78 0a0.39 0.39 0 1 0 -0.78 0M145.4 672.1a0.51 0.51 0 1 0 1.02 0a0.51 0.51 0 1 0 -1.02 0M157.6 690.0a0.57 0.57 0 1 0 1.15 0a0.57 0.57 0 1 0 -1.15 0M215.8 720.7a0.60 0.60 0 1 0 1.20 0a0.60 0.60 0 1 0 -1.20 0M178.8 707.3a0.31 0.31 0 1 0 0.62 0a0.31 0.31 0 1 0 -0.62 0M161.9 695.8a0.38 0.38 0 1 0 0.76 0a0.38 0.38 0 1 0 -0.76 0M147.5 685.0a0.38 0.38 0 1 0 0.76 0a0.38 0.38 0 1 0 -0.76 0M155.6 714.6a0.34 0.34 0 1 0 0.67 0a0.34 0.34 0 1 0 -0.67 0M188.5 703.7a0.44 0.44 0 1 0 0.88 0a0.44 0.44 0 1 0 -0.88 0M173.6 695.1a0.31 0.31 0 1 0 0.61 0a0.31 0.31 0 1 0 -0.61 0M163.3 688.0a0.50 0.50 0 1 0 1.01 0a0.50 0.50 0 1 0 -1.01 0M210.2 692.7a0.42 0.42 0 1 0 0.84 0a0.42 0.42 0 1 0 -0.84 0M161.7 695.9a0.35 0.35 0 1 0 0.69 0a0.35 0.35 0 1 0 -0.69 0M152.6 693.9a0.56 0.56 0 1 0 1.11 0a0.56 0.56 0 1 0 -1.11 0M215.9 677.1a0.56 0.56 0 1 0 1.11 0a0.56 0.56 0 1 0 -1.11 0M186.4 717.2a0.64 0.64 0 1 0 1.27 0a0.64 0.64 0 1 0 -1.27 0M147.9 706.7a0.64 0.64 0 1 0 1.29 0a0.64 0.64 0 1 0 -1.29 0M213.1 686.4a0.39 0.39 0 1 0 0.77 0a0.39 0.39 0 1 0 -0.77 0M152.9 697.2a0.57 0.57 0 1 0 1.14 0a0.57 0.57 0 1 0 -1.14 0M137.5 713.5a0.62 0.62 0 1 0 1.24 0a0.62 0.62 0 1 0 -1.24 0M153.7 706.6a0.59 0.59 0 1 0 1.18 0a0.59 0.59 0 1 0 -1.18 0M201.4 683.7a0.42 0.42 0 1 0 0.84 0a0.42 0.42 0 1 0 -0.84 0M141.6 687.0a0.41 0.41 0 1 0 0.82 0a0.41 0.41 0 1 0 -0.82 0M159.5 721.4a0.56 0.56 0 1 0 1.13 0a0.56 0.56 0 1 0 -1.13 0M214.7 705.3a0.34 0.34 0 1 0 0.68 0a0.34 0.34 0 1 0 -0.68 0M199.8 712.5a0.62 0.62 0 1 0 1.25 0a0.62 0.62 0 1 0 -1.25 0M206.2 676.3a0.61 0.61 0 1 0 1.21 0a0.61 0.61 0 1 0 -1.21 0M201.3 696.9a0.43 0.43 0 1 0 0.86 0a0.43 0.43 0 1 0 -0.86 0M220.4 713.4a0.41 0.41 0 1 0 0.83 0a0.41 0.41 0 1 0 -0.83 0M193.2 671.2a0.50 0.50 0 1 0 0.99 0a0.50 0.50 0 1 0 -0.99 0M178.5 684.3a0.51 0.51 0 1 0 1.02 0a0.51 0.51 0 1 0 -1.02 0M213.6 687.4a0.31 0.31 0 1 0 0.61 0a0.31 0.31 0 1 0 -0.61 0M204.4 711.5a0.52 0.52 0 1 0 1.05 0a0.52 0.52 0 1 0 -1.05 0M154.5 721.2a0.49 0.49 0 1 0 0.98 0a0.49 0.49 0 1 0 -0.98 0M207.6 720.7a0.62 0.62 0 1 0 1.24 0a0.62 0.62 0 1 0 -1.24 0M151.7 680.4a0.35 0.35 0 1 0 0.70 0a0.35 0.35 0 1 0 -0.70 0M206.4 688.2a0.47 0.47 0 1 0 0.93 0a0.47 0.47 0 1 0 -0.93 0M146.7 694.5a0.56 0.56 0 1 0 1.12 0a0.56 0.56 0 1 0 -1.12 0M216.4 687.5a0.59 0.59 0 1 0 1.18 0a0.59 0.59 0 1 0 -1.18 0M182.2 679.8a0.32 0.32 0 1 0 0.65 0a0.32 0.32 0 1 0 -0.65 0M163.1 716.3a0.43 0.43 0 1 0 0.87 0a0.43 0.43 0 1 0 -0.87 0M214.7 678.9a0.37 0.37 0 1 0 0.74 0a0.37 0.37 0 1 0 -0.74 0M152.5 701.8a0.48 0.48 0 1 0 0.97 0a0.48 0.48 0 1 0 -0.97 0M194.5 707.5a0.49 0.49 0 1 0 0.97 0a0.49 0.49 0 1 0 -0.97 0M142.2 718.4a0.55 0.55 0 1 0 1.10 0a0.55 0.55 0 1 0 -1.10 0M193.7 692.7a0.59 0.59 0 1 0 1.18 0a0.59 0.59 0 1 0 -1.18 0M169.2 707.6a0.60 0.60 0 1 0 1.20 0a0.60 0.60 0 1 0 -1.20 0M214.1 703.7a0.40 0.40 0 1 0 0.81 0a0.40 0.40 0 1 0 -0.81 0M207.6 678.7a0.62 0.62 0 1 0 1.24 0a0.62 0.62 0 1 0 -1.24 0M211.4 674.7a0.59 0.59 0 1 0 1.17 0a0.59 0.59 0 1 0 -1.17 0M142.6 712.4a0.34 0.34 0 1 0 0.68 0a0.34 0.34 0 1 0 -0.68 0M176.7 688.0a0.48 0.48 0 1 0 0.96 0a0.48 0.48 0 1 0 -0.96 0M182.3 684.7a0.53 0.53 0 1 0 1.05 0a0.53 0.53 0 1 0 -1.05 0M199.3 720.2a0.62 0.62 0 1 0 1.23 0a0.62 0.62 0 1 0 -1.23 0M183.3 691.3a0.39 0.39 0 1 0 0.78 0a0.39 0.39 0 1 0 -0.78 0M192.1 672.0a0.60 0.60 0 1 0 1.20 0a0.60 0.60 0 1 0 -1.20 0M137.8 700.9a0.57 0.57 0 1 0 1.14 0a0.57 0.57 0 1 0 -1.14 0M181.4 676.1a0.35 0.35 0 1 0 0.71 0a0.35 0.35 0 1 0 -0.71 0M177.0 702.4a0.47 0.47 0 1 0 0.93 0a0.47 0.47 0 1 0 -0.93 0M191.2 678.8a0.41 0.41 0 1 0 0.82 0a0.41 0.41 0 1 0 -0.82 0M153.1 700.9a0.52 0.52 0 1 0 1.05 0a0.52 0.52 0 1 0 -1.05 0M210.3 711.0a0.32 0.32 0 1 0 0.64 0a0.32 0.32 0 1 0 -0.64 0M198.2 701.0a0.51 0.51 0 1 0 1.02 0a0.51 0.51 0 1 0 -1.02 0M217.4 686.4a0.46 0.46 0 1 0 0.91 0a0.46 0.46 0 1 0 -0.91 0M207.9 702.8a0.42 0.42 0 1 0 0.84 0a0.42 0.42 0 1 0 -0.84 0M220.3 680.5a0.42 0.42 0 1 0 0.84 0a0.42 0.42 0 1 0 -0.84 0M185.8 709.4a0.39 0.39 0 1 0 0.79 0a0.39 0.39 0 1 0 -0.79 0M139.1 672.5a0.44 0.44 0 1 0 0.88 0a0.44 0.44 0 1 0 -0.88 0M197.0 676.9a0.52 0.52 0 1 0 1.03 0a0.52 0.52 0 1 0 -1.03 0M207.9 697.2a0.53 0.53 0 1 0 1.07 0a0.53 0.53 0 1 0 -1.07 0M141.3 698.3a0.39 0.39 0 1 0 0.79 0a0.39 0.39 0 1 0 -0.79 0M186.9 688.7a0.38 0.38 0 1 0 0.76 0a0.38 0.38 0 1 0 -0.76 0M215.8 697.2a0.32 0.32 0 1 0 0.64 0a0.32 0.32 0 1 0 -0.64 0M220.6 674.0a0.65 0.65 0 1 0 1.30 0a0.65 0.65 0 1 0 -1.30 0M136.7 692.2a0.50 0.50 0 1 0 1.01 0a0.50 0.50 0 1 0 -1.01 0M209.5 698.9a0.52 0.52 0 1 0 1.04 0a0.52 0.52 0 1 0 -1.04 0M147.8 697.9a0.44 0.44 0 1 0 0.89 0a0.44 0.44 0 1 0 -0.89 0M166.3 697.0a0.30 0.30 0 1 0 0.60 0a0.30 0.30 0 1 0 -0.60 0M213.7 694.5a0.47 0.47 0 1 0 0.93 0a0.47 0.47 0 1 0 -0.93 0M202.0 705.7a0.64 0.64 0 1 0 1.28 0a0.64 0.64 0 1 0 -1.28 0M190.2 676.9a0.57 0.57 0 1 0 1.14 0a0.57 0.57 0 1 0 -1.14 0M211.3 716.2a0.33 0.33 0 1 0 0.67 0a0.33 0.33 0 1 0 -0.67 0M161.1 715.1a0.60 0.60 0 1 0 1.21 0a0.60 0.60 0 1 0 -1.21 0M199.9 706.6a0.36 0.36 0 1 0 0.71 0a0.36 0.36 0 1 0 -0.71 0M197.5 717.5a0.38 0.38 0 1 0 0.76 0a0.38 0.38 0 1 0 -0.76 0M187.1 708.4a0.42 0.42 0 1 0 0.84 0a0.42 0.42 0 1 0 -0.84 0M175.0 680.1a0.59 0.59 0 1 0 1.18 0a0.59 0.59 0 1 0 -1.18 0M140.3 701.5a0.61 0.61 0 1 0 1.21 0a0.61 0.61 0 1 0 -1.21 0M146.7 680.3a0.50 0.50 0 1 0 1.00 0a0.50 0.50 0 1 0 -1.00 0M150.9 707.5a0.48 0.48 0 1 0 0.95 0a0.48 0.48 0 1 0 -0.95 0M157.7 701.9a0.52 0.52 0 1 0 1.04 0a0.52 0.52 0 1 0 -1.04 0M147.8 700.6a0.55 0.55 0 1 0 1.10 0a0.55 0.55 0 1 0 -1.10 0M154.7 715.6a0.59 0.59 0 1 0 1.17 0a0.59 0.59 0 1 0 -1.17 0M170.0 685.0a0.35 0.35 0 1 0 0.71 0a0.35 0.35 0 1 0 -0.71 0M174.1 681.6a0.50 0.50 0 1 0 1.00 0a0.50 0.50 0 1 0 -1.00 0M197.1 680.1a0.47 0.47 0 1 0 0.94 0a0.47 0.47 0 1 0 -0.94 0M195.4 717.7a0.35 0.35 0 1 0 0.70 0a0.35 0.35 0 1 0 -0.70 0M169.1 680.5a0.41 0.41 0 1 0 0.82 0a0.41 0.41 0 1 0 -0.82 0M190.7 683.6a0.53 0.53 0 1 0 1.07 0a0.53 0.53 0 1 0 -1.07 0M214.8 706.7a0.48 0.48 0 1 0 0.95 0a0.48 0.48 0 1 0 -0.95 0M220.2 706.4a0.57 0.57 0 1 0 1.14 0a0.57 0.57 0 1 0 -1.14 0M169.2 691.6a0.63 0.63 0 1 0 1.26 0a0.63 0.63 0 1 0 -1.26 0M189.2 689.9a0.60 0.60 0 1 0 1.20 0a0.60 0.60 0 1 0 -1.20 0M164.6 671.6a0.51 0.51 0 1 0 1.02 0a0.51 0.51 0 1 0 -1.02 0M202.5 720.8a0.50 0.50 0 1 0 1.00 0a0.50 0.50 0 1 0 -1.00 0M168.8 699.3a0.47 0.47 0 1 0 0.94 0a0.47 0.47 0 1 0 -0.94 0M220.2 700.7a0.40 0.40 0 1 0 0.81 0a0.40 0.40 0 1 0 -0.81 0M141.2 698.6a0.33 0.33 0 1 0 0.65 0a0.33 0.33 0 1 0 -0.65 0M171.0 692.6a0.36 0.36 0 1 0 0.72 0a0.36 0.36 0 1 0 -0.72 0M191.8 700.0a0.52 0.52 0 1 0 1.04 0a0.52 0.52 0 1 0 -1.04 0M197.5 695.4a0.38 0.38 0 1 0 0.75 0a0.38 0.38 0 1 0 -0.75 0M152.1 693.2a0.60 0.60 0 1 0 1.19 0a0.60 0.60 0 1 0 -1.19 0M179.8 700.8a0.44 0.44 0 1 0 0.88 0a0.44 0.44 0 1 0 -0.88 0M205.5 698.6a0.48 0.48 0 1 0 0.97 0a0.48 0.48 0 1 0 -0.97 0M138.9 672.2a0.44 0.44 0 1 0 0.87 0a0.44 0.44 0 1 0 -0.87 0M211.3 708.5a0.35 0.35 0 1 0 0.69 0a0.35 0.35 0 1 0 -0.69 0M215.4 712.0a0.50 0.50 0 1 0 1.01 0a0.50 0.50 0 1 0 -1.01 0M177.9 680.8a0.52 0.52 0 1 0 1.03 0a0.52 0.52 0 1 0 -1.03 0M192.7 713.4a0.52 0.52 0 1 0 1.04 0a0.52 0.52 0 1 0 -1.04 0M137.8 714.6a0.31 0.31 0 1 0 0.63 0a0.31 0.31 0 1 0 -0.63 0M221.7 704.4a0.53 0.53 0 1 0 1.05 0a0.53 0.53 0 1 0 -1.05 0M188.2 719.5a0.35 0.35 0 1 0 0.70 0a0.35 0.35 0 1 0 -0.70 0M197.7 702.3a0.39 0.39 0 1 0 0.77 0a0.39 0.39 0 1 0 -0.77 0" fill="#b060c0" fill-opacity="0.8"/>
<path d="M172.2 685.7a0.56 0.56 0 1 0 1.13 0a0.56 0.56 0 1 0 -1.13 0M181.3 688.2a0.68 0.68 0 1 0 1.37 0a0.68 0.68 0 1 0 -1.37 0M179.6 695.4a0.58 0.58 0 1 0 1.16 0a0.58 0.58 0 1 0 -1.16 0M186.0 689.8a0.38 0.38 0 1 0 0.75 0a0.38 0.38 0 1 0 -0.75 0M175.8 702.5a0.44 0.44 0 1 0 0.88 0a0.44 0.44 0 1 0 -0.88 0M179.2 684.1a0.52 0.52 0 1 0 1.05 0a0.52 0.52 0 1 0 -1.05 0M172.5 697.4a0.43 0.43 0 1 0 0.86 0a0.43 0.43 0 1 0 -0.86 0M182.5 688.7a0.66 0.66 0 1 0 1.32 0a0.66 0.66 0 1 0 -1.32 0M185.3 699.1a0.51 0.51 0 1 0 1.01 0a0.51 0.51 0 1 0 -1.01 0M179.3 693.6a0.61 0.61 0 1 0 1.22 0a0.61 0.61 0 1 0 -1.22 0M172.8 685.5a0.39 0.39 0 1 0 0.77 0a0.39 0.39 0 1 0 -0.77 0M184.5 694.6a0.49 0.49 0 1 0 0.97 0a0.49 0.49 0 1 0 -0.97 0M167.6 695.4a0.69 0.69 0 1 0 1.38 0a0.69 0.69 0 1 0 -1.38 0M185.8 689.9a0.47 0.47 0 1 0 0.95 0a0.47 0.47 0 1 0 -0.95 0M171.0 696.9a0.64 0.64 0 1 0 1.28 0a0.64 0.64 0 1 0 -1.28 0M183.5 695.7a0.38 0.38 0 1 0 0.76 0a0.38 0.38 0 1 0 -0.76 0M167.9 692.1a0.62 0.62 0 1 0 1.25 0a0.62 0.62 0 1 0 -1.25 0M178.8 702.8a0.58 0.58 0 1 0 1.17 0a0.58 0.58 0 1 0 -1.17 0M182.6 693.3a0.44 0.44 0 1 0 0.88 0a0.44 0.44 0 1 0 -0.88 0M186.4 697.1a0.52 0.52 0 1 0 1.03 0a0.52 0.52 0 1 0 -1.03 0M182.1 689.5a0.39 0.39 0 1 0 0.79 0a0.39 0.39 0 1 0 -0.79 0M174.1 693.5a0.52 0.52 0 1 0 1.04 0a0.52 0.52 0 1 0 -1.04 0M183.8 689.5a0.57 0.57 0 1 0 1.13 0a0.57 0.57 0 1 0 -1.13 0M178.8 694.7a0.39 0.39 0 1 0 0.78 0a0.39 0.39 0 1 0 -0.78 0M175.0 691.2a0.48 0.48 0 1 0 0.96 0a0.48 0.48 0 1 0 -0.96 0M171.7 691.1a0.41 0.41 0 1 0 0.81 0a0.41 0.41 0 1 0 -0.81 0M176.0 702.5a0.59 0.59 0 1 0 1.17 0a0.59 0.59 0 1 0 -1.17 0M176.2 693.0a0.70 0.70 0 1 0 1.39 0a0.70 0.70 0 1 0 -1.39 0M174.7 688.0a0.66 0.66 0 1 0 1.32 0a0.66 0.66 0 1 0 -1.32 0M177.0 700.4a0.57 0.57 0 1 0 1.15 0a0.57 0.57 0 1 0 -1.15 0" fill="#9a40a8" fill-opacity="0.65"/>
<line x1="212.6" y1="718" x2="220.1" y2="718" stroke="#7a7a7a" stroke-width="1"/>
</g>
<rect x="137.2" y="670" width="86.4" height="52.2" fill="none" stroke="#555" stroke-width="0.8"/>
<clipPath id="cp7"><rect x="47.3" y="726" width="86.4" height="50.4"/></clipPath>
<rect x="47.3" y="726" width="86.4" height="50.4" fill="#c8401a"/>
<g clip-path="url(#cp7)">
<path d="M101.6 766.7a1.36 1.36 0 1 0 2.71 0a1.36 1.36 0 1 0 -2.71 0M45.2 761.9a1.75 1.75 0 1 0 3.49 0a1.75 1.75 0 1 0 -3.49 0M111.7 758.7a1.52 1.52 0 1 0 3.04 0a1.52 1.52 0 1 0 -3.04 0M64.0 744.1a2.49 2.49 0 1 0 4.98 0a2.49 2.49 0 1 0 -4.98 0M101.4 777.5a1.86 1.86 0 1 0 3.73 0a1.86 1.86 0 1 0 -3.73 0M120.9 760.3a1.86 1.86 0 1 0 3.72 0a1.86 1.86 0 1 0 -3.72 0M118.4 730.9a1.62 1.62 0 1 0 3.25 0a1.62 1.62 0 1 0 -3.25 0M84.0 744.8a2.76 2.76 0 1 0 5.53 0a2.76 2.76 0 1 0 -5.53 0M54.8 775.8a2.60 2.60 0 1 0 5.21 0a2.60 2.60 0 1 0 -5.21 0M110.8 757.4a1.71 1.71 0 1 0 3.43 0a1.71 1.71 0 1 0 -3.43 0M58.2 747.8a1.52 1.52 0 1 0 3.03 0a1.52 1.52 0 1 0 -3.03 0M76.7 733.8a1.38 1.38 0 1 0 2.77 0a1.38 1.38 0 1 0 -2.77 0M61.0 744.1a1.65 1.65 0 1 0 3.29 0a1.65 1.65 0 1 0 -3.29 0M62.3 731.5a2.28 2.28 0 1 0 4.56 0a2.28 2.28 0 1 0 -4.56 0M55.9 740.5a2.43 2.43 0 1 0 4.86 0a2.43 2.43 0 1 0 -4.86 0M74.6 769.6a1.92 1.92 0 1 0 3.84 0a1.92 1.92 0 1 0 -3.84 0M89.7 743.9a2.45 2.45 0 1 0 4.89 0a2.45 2.45 0 1 0 -4.89 0M90.9 760.0a2.73 2.73 0 1 0 5.46 0a2.73 2.73 0 1 0 -5.46 0M104.5 728.8a1.28 1.28 0 1 0 2.57 0a1.28 1.28 0 1 0 -2.57 0M57.2 732.6a1.47 1.47 0 1 0 2.93 0a1.47 1.47 0 1 0 -2.93 0M82.3 763.3a2.28 2.28 0 1 0 4.56 0a2.28 2.28 0 1 0 -4.56 0M85.9 775.0a1.40 1.40 0 1 0 2.81 0a1.40 1.40 0 1 0 -2.81 0M118.8 765.8a2.65 2.65 0 1 0 5.30 0a2.65 2.65 0 1 0 -5.30 0M126.0 749.4a1.25 1.25 0 1 0 2.50 0a1.25 1.25 0 1 0 -2.50 0M92.6 754.2a2.70 2.70 0 1 0 5.40 0a2.70 2.70 0 1 0 -5.40 0M68.3 745.1a1.81 1.81 0 1 0 3.62 0a1.81 1.81 0 1 0 -3.62 0M85.0 733.3a2.37 2.37 0 1 0 4.73 0a2.37 2.37 0 1 0 -4.73 0M86.3 748.3a1.22 1.22 0 1 0 2.44 0a1.22 1.22 0 1 0 -2.44 0M91.6 746.1a2.53 2.53 0 1 0 5.07 0a2.53 2.53 0 1 0 -5.07 0M117.0 733.9a2.22 2.22 0 1 0 4.43 0a2.22 2.22 0 1 0 -4.43 0M89.5 751.8a1.40 1.40 0 1 0 2.81 0a1.40 1.40 0 1 0 -2.81 0M105.4 760.8a2.39 2.39 0 1 0 4.77 0a2.39 2.39 0 1 0 -4.77 0M59.6 739.3a1.57 1.57 0 1 0 3.15 0a1.57 1.57 0 1 0 -3.15 0M61.4 739.6a2.50 2.50 0 1 0 5.01 0a2.50 2.50 0 1 0 -5.01 0M61.0 740.0a1.47 1.47 0 1 0 2.95 0a1.47 1.47 0 1 0 -2.95 0M49.3 736.4a2.61 2.61 0 1 0 5.22 0a2.61 2.61 0 1 0 -5.22 0M65.7 764.3a2.28 2.28 0 1 0 4.55 0a2.28 2.28 0 1 0 -4.55 0M68.9 766.3a1.61 1.61 0 1 0 3.22 0a1.61 1.61 0 1 0 -3.22 0M111.0 776.3a2.79 2.79 0 1 0 5.57 0a2.79 2.79 0 1 0 -5.57 0M116.5 734.0a2.73 2.73 0 1 0 5.46 0a2.73 2.73 0 1 0 -5.46 0M113.9 753.5a2.44 2.44 0 1 0 4.88 0a2.44 2.44 0 1 0 -4.88 0M125.2 731.7a1.85 1.85 0 1 0 3.70 0a1.85 1.85 0 1 0 -3.70 0M67.7 736.0a1.65 1.65 0 1 0 3.30 0a1.65 1.65 0 1 0 -3.30 0M60.3 771.3a2.71 2.71 0 1 0 5.42 0a2.71 2.71 0 1 0 -5.42 0M100.9 747.6a1.54 1.54 0 1 0 3.08 0a1.54 1.54 0 1 0 -3.08 0M101.6 762.4a1.30 1.30 0 1 0 2.61 0a1.30 1.30 0 1 0 -2.61 0M68.1 736.4a1.28 1.28 0 1 0 2.55 0a1.28 1.28 0 1 0 -2.55 0M109.4 729.0a2.05 2.05 0 1 0 4.11 0a2.05 2.05 0 1 0 -4.11 0M82.3 728.9a1.29 1.29 0 1 0 2.58 0a1.29 1.29 0 1 0 -2.58 0M132.1 736.5a1.51 1.51 0 1 0 3.02 0a1.51 1.51 0 1 0 -3.02 0M73.8 757.5a1.74 1.74 0 1 0 3.48 0a1.74 1.74 0 1 0 -3.48 0M51.8 745.7a1.60 1.60 0 1 0 3.19 0a1.60 1.60 0 1 0 -3.19 0M117.0 725.5a1.77 1.77 0 1 0 3.54 0a1.77 1.77 0 1 0 -3.54 0M66.3 762.9a1.28 1.28 0 1 0 2.56 0a1.28 1.28 0 1 0 -2.56 0M107.3 757.6a1.51 1.51 0 1 0 3.03 0a1.51 1.51 0 1 0 -3.03 0M122.3 774.1a1.52 1.52 0 1 0 3.05 0a1.52 1.52 0 1 0 -3.05 0M62.9 733.5a2.30 2.30 0 1 0 4.61 0a2.30 2.30 0 1 0 -4.61 0M131.9 747.1a1.38 1.38 0 1 0 2.77 0a1.38 1.38 0 1 0 -2.77 0M95.6 732.4a1.48 1.48 0 1 0 2.96 0a1.48 1.48 0 1 0 -2.96 0M105.5 730.4a2.05 2.05 0 1 0 4.10 0a2.05 2.05 0 1 0 -4.10 0M85.0 744.5a1.68 1.68 0 1 0 3.35 0a1.68 1.68 0 1 0 -3.35 0M90.0 745.6a2.62 2.62 0 1 0 5.24 0a2.62 2.62 0 1 0 -5.24 0M87.2 739.0a2.51 2.51 0 1 0 5.02 0a2.51 2.51 0 1 0 -5.02 0M73.4 742.5a2.30 2.30 0 1 0 4.61 0a2.30 2.30 0 1 0 -4.61 0M74.6 775.9a1.86 1.86 0 1 0 3.73 0a1.86 1.86 0 1 0 -3.73 0M65.9 770.0a2.80 2.80 0 1 0 5.59 0a2.80 2.80 0 1 0 -5.59 0M89.3 751.7a2.16 2.16 0 1 0 4.32 0a2.16 2.16 0 1 0 -4.32 0M89.9 748.3a2.57 2.57 0 1 0 5.14 0a2.57 2.57 0 1 0 -5.14 0M57.6 733.5a1.83 1.83 0 1 0 3.66 0a1.83 1.83 0 1 0 -3.66 0M50.7 754.1a2.37 2.37 0 1 0 4.73 0a2.37 2.37 0 1 0 -4.73 0M100.6 776.1a1.94 1.94 0 1 0 3.88 0a1.94 1.94 0 1 0 -3.88 0M54.2 773.7a1.49 1.49 0 1 0 2.98 0a1.49 1.49 0 1 0 -2.98 0M55.2 764.1a2.51 2.51 0 1 0 5.02 0a2.51 2.51 0 1 0 -5.02 0M107.5 752.1a2.46 2.46 0 1 0 4.92 0a2.46 2.46 0 1 0 -4.92 0M60.6 736.9a1.37 1.37 0 1 0 2.74 0a1.37 1.37 0 1 0 -2.74 0" fill="#f2c41c" fill-opacity="0.9"/>
<path d="M57.6 732.6a1.08 1.08 0 1 0 2.15 0a1.08 1.08 0 1 0 -2.15 0M110.3 766.4a0.83 0.83 0 1 0 1.66 0a0.83 0.83 0 1 0 -1.66 0M89.2 742.0a1.05 1.05 0 1 0 2.10 0a1.05 1.05 0 1 0 -2.10 0M44.8 731.7a1.07 1.07 0 1 0 2.15 0a1.07 1.07 0 1 0 -2.15 0M113.5 756.0a0.95 0.95 0 1 0 1.91 0a0.95 0.95 0 1 0 -1.91 0M51.5 754.8a0.70 0.70 0 1 0 1.40 0a0.70 0.70 0 1 0 -1.40 0M82.1 748.4a0.92 0.92 0 1 0 1.83 0a0.92 0.92 0 1 0 -1.83 0M94.2 728.6a0.93 0.93 0 1 0 1.85 0a0.93 0.93 0 1 0 -1.85 0M46.3 761.9a0.61 0.61 0 1 0 1.23 0a0.61 0.61 0 1 0 -1.23 0M68.1 725.4a0.95 0.95 0 1 0 1.90 0a0.95 0.95 0 1 0 -1.90 0M75.2 770.3a0.87 0.87 0 1 0 1.74 0a0.87 0.87 0 1 0 -1.74 0M57.4 740.5a0.93 0.93 0 1 0 1.86 0a0.93 0.93 0 1 0 -1.86 0" fill="#ff8ad0" fill-opacity="0.9"/>
<path d="M48.8 716.7L48.3 721.7L43.3 721.4L42.6 719.9L42.2 716.3L43.0 714.4L47.2 714.3ZM51.1 717.6L50.5 721.9L50.7 722.1L56.6 720.8L54.6 717.2ZM63.5 716.0L62.8 715.2L57.1 716.3L56.9 716.5L59.0 719.9L61.0 721.2L61.9 720.8ZM68.9 723.8L68.3 723.8L64.1 721.5L65.7 716.4L69.8 715.8L69.9 715.9L71.0 721.2ZM73.4 720.7L71.7 715.6L77.5 717.1L76.9 720.7ZM80.0 721.8L82.8 722.3L85.5 721.3L86.0 717.6L79.9 717.4L79.8 717.5L79.4 721.2ZM94.8 715.9L93.0 721.4L91.5 723.9L88.2 720.9L88.8 717.5L89.9 715.6L93.9 715.4ZM97.2 716.1L100.9 717.5L101.1 717.7L102.0 719.7L102.0 721.4L95.1 721.9ZM103.7 716.7L111.3 713.2L113.1 717.6L111.8 719.6L104.8 719.5ZM115.0 723.6L114.5 720.9L115.4 719.0L116.5 719.1L122.0 722.2L118.1 724.1ZM123.1 720.9L124.7 720.9L122.8 714.7L122.3 714.4L117.9 717.6ZM126.4 720.9L124.3 714.2L128.4 712.5L132.0 716.9L130.4 718.9L129.0 720.4L126.4 720.9ZM133.3 719.3L139.2 723.0L140.7 719.4L139.5 717.7L136.8 716.8L134.8 717.2ZM40.4 722.0L33.4 722.4L35.9 725.8L39.1 727.9L41.2 723.3ZM43.5 724.1L41.0 728.8L41.1 729.2L45.7 730.2L50.6 729.9L48.5 724.3L48.3 724.1ZM56.4 728.4L53.1 729.5L53.0 729.4L51.0 724.1L57.5 722.6L60.0 723.6L57.2 727.9ZM64.2 730.0L66.7 725.5L62.8 723.7L62.0 724.0L59.7 728.1ZM72.2 727.0L70.6 725.2L73.3 723.2L76.8 722.8L77.4 723.5L76.2 726.8ZM78.7 727.5L79.4 724.3L82.3 724.9L82.3 728.1L79.3 729.3ZM84.9 728.1L87.4 730.8L90.6 727.0L90.1 725.9L87.2 723.4L84.6 724.6ZM93.1 725.3L93.5 726.5L95.6 727.2L101.4 724.1L101.5 723.2L95.0 723.8ZM102.1 725.1L104.3 728.9L98.1 731.2L98.0 731.2L96.6 728.8ZM104.3 723.5L104.4 721.5L111.8 721.7L112.5 725.0L110.3 728.0L107.9 729.0L107.6 728.9L106.6 727.5L104.4 724.3ZM114.9 726.1L118.0 726.8L118.7 730.0L118.5 732.5L113.0 728.9ZM120.7 729.5L124.2 726.4L124.6 723.4L124.6 723.4L123.3 723.9L120.3 725.3ZM126.5 723.5L126.7 727.5L127.7 730.3L132.1 730.0L132.8 728.9L129.4 723.4ZM130.9 722.6L134.8 728.1L138.3 727.5L138.3 727.4L138.3 724.8L132.7 720.8ZM141.4 724.4L143.1 721.0L159.0 725.2L140.8 727.6ZM38.7 735.6L40.3 731.3L44.7 732.8L43.7 738.6L42.2 738.9ZM50.7 735.5L51.2 732.0L51.2 731.9L47.0 732.8L45.6 738.9L47.7 738.9L50.5 735.7ZM61.2 734.0L61.0 733.9L60.7 732.6L60.2 732.6L58.4 730.7L59.2 730.2L63.1 731.9L63.7 733.2ZM68.3 734.0L69.1 734.5L70.4 733.0L70.1 729.3L68.9 726.9L68.3 726.9L66.1 731.4L66.5 732.6ZM72.4 729.1L76.5 729.4L77.1 731.1L76.9 732.8L75.2 732.9L72.9 733.2ZM85.8 733.3L85.9 732.7L83.3 730.4L80.0 731.6L79.6 733.6L82.3 735.7L82.8 735.2ZM89.5 733.3L94.3 734.9L95.4 732.3L94.0 729.7L92.0 728.8L89.0 732.2L88.8 732.9ZM96.8 737.1L96.9 736.0L97.4 733.9L97.5 733.9L100.7 735.6L100.6 736.9L97.2 738.4ZM102.6 733.8L98.7 732.3L104.8 730.0L106.1 730.9ZM117.7 734.1L117.7 734.0L112.0 730.4L109.3 731.4L111.0 737.3L112.4 737.9ZM121.4 733.6L120.6 733.3L120.6 733.3L121.2 731.8L124.4 728.9L125.6 732.0L123.5 733.8ZM128.1 737.1L128.8 737.3L132.1 736.1L132.2 732.2L127.8 733.0L126.1 735.0ZM135.0 730.9L134.5 732.0L134.7 735.3L135.1 735.7L137.8 736.9L140.3 733.4L138.7 729.8ZM36.8 741.5L37.0 743.2L40.2 742.5L40.8 740.5L37.4 737.2L36.3 737.5ZM51.8 738.0L48.5 740.9L50.7 743.8L52.4 744.5L52.6 744.4L52.2 741.1ZM69.0 737.9L69.6 743.1L69.3 743.8L67.4 742.8L65.5 740.4ZM71.7 735.6L70.6 736.9L70.7 737.2L71.1 742.5L74.7 741.3L74.1 735.6ZM79.8 739.4L77.8 741.0L76.6 741.3L76.1 735.6L78.2 735.3L80.5 737.8L80.0 739.0ZM87.4 740.1L83.6 738.1L83.1 738.2L83.0 739.3L85.6 740.5ZM92.7 737.4L91.0 738.1L89.4 735.0L93.9 736.6L94.2 737.7ZM98.2 740.5L101.4 738.8L103.4 740.2L100.5 743.5L99.8 742.6L98.3 741.0ZM107.5 738.2L105.4 738.2L103.5 736.9L103.7 735.6L107.2 731.9L107.5 732.0L108.8 737.7ZM119.8 742.8L114.5 740.9L113.5 739.2L118.6 735.4L119.4 736.0ZM121.3 742.7L121.1 736.2L124.0 736.3L125.9 738.8L121.7 743.3ZM132.3 746.3L132.9 745.6L133.8 738.5L133.3 738.0L129.7 740.0L131.4 746.3ZM139.9 738.4L142.1 741.4L156.7 740.0L142.6 734.7ZM35.6 746.6L37.5 745.8L40.1 744.6L40.5 746.6L37.1 749.2ZM48.6 744.8L46.2 741.6L44.6 741.5L43.2 741.7L42.8 743.6L43.1 745.5L45.0 748.0ZM61.4 748.0L61.2 747.4L63.4 745.3L63.6 745.3L65.6 745.3L68.6 745.5L68.7 747.8L65.1 749.1ZM75.0 743.9L76.2 743.6L78.8 748.5L73.1 750.3L71.5 747.5L71.6 745.5L72.0 744.9ZM81.4 742.4L82.2 745.8L82.2 747.1L81.8 748.1L80.6 747.7L78.5 743.4L81.1 741.8ZM97.1 747.9L98.2 749.4L98.8 750.3L100.5 747.6L99.8 746.3L99.1 745.6L97.5 746.9ZM105.2 746.1L107.3 740.7L104.6 741.2L102.3 744.8L102.9 746.3L103.1 746.2ZM110.6 747.8L107.0 746.2L109.0 740.8L110.1 740.1L111.2 740.7L111.8 742.2ZM119.3 744.9L114.1 743.1L112.2 748.7L112.4 749.1L115.8 749.8L120.1 746.4L119.8 745.4ZM122.8 744.8L123.2 745.8L126.0 747.4L126.9 747.9L129.7 747.0L128.0 740.3L127.1 740.0ZM135.1 738.4L137.9 739.8L139.4 742.2L138.4 743.5L134.3 745.9ZM44.0 752.8L42.3 753.8L40.6 754.5L37.7 754.5L38.0 751.1L41.8 748.2L43.9 750.5ZM51.5 753.4L46.9 752.2L46.7 749.8L50.0 746.7L52.2 747.2L52.1 752.9ZM58.4 748.7L58.2 748.2L55.5 746.8L54.4 746.9L54.2 747.0L53.8 752.7L57.0 752.4ZM61.7 755.6L59.0 753.6L60.5 750.1L64.1 751.5L62.4 754.6ZM64.6 755.3L71.1 755.3L71.9 754.9L71.4 752.4L69.9 749.7L66.7 751.4ZM79.8 750.7L81.2 750.9L82.2 753.4L82.2 754.7L81.7 755.2L76.6 756.4L74.7 755.2L74.3 752.2ZM87.3 753.3L85.3 753.3L85.0 754.5L88.1 755.1L89.5 752.4L88.8 752.3ZM92.3 758.4L90.3 756.1L91.3 753.3L91.7 753.3L93.9 754.8L93.1 758.6ZM104.7 753.9L102.3 749.1L102.0 749.1L100.4 752.1L100.4 752.1L102.4 755.1L103.2 754.9ZM106.6 753.2L103.7 748.4L106.7 748.8L109.4 750.0L109.6 750.3L108.6 751.3L107.1 753.0ZM121.1 747.6L124.5 749.4L119.3 754.4L117.6 752.6L117.0 751.3ZM126.4 750.7L126.1 752.4L123.1 758.7L121.9 759.3L120.6 755.5L125.4 750.4ZM128.4 750.4L131.1 749.4L132.0 749.4L135.6 754.3L131.9 758.1L131.5 758.1L128.7 751.9ZM137.3 753.2L138.6 753.6L143.4 753.9L138.9 746.3L134.5 748.1L133.7 748.6ZM41.2 765.3L41.2 765.1L39.7 757.5L36.9 756.8L33.8 758.3L35.3 762.0L40.9 765.3ZM45.6 761.1L42.4 764.8L41.1 757.3L43.2 756.6ZM50.9 755.6L46.3 754.3L44.6 755.7L47.3 760.4L51.0 760.2ZM60.3 757.5L60.3 759.6L57.3 762.6L54.1 761.4L53.4 760.4L53.3 755.9L54.0 755.4L57.0 755.4ZM63.2 757.7L63.3 759.4L66.8 761.5L70.5 757.0L64.1 757.2ZM73.1 764.0L75.2 762.6L74.5 758.7L72.9 757.3L72.1 758.1L69.0 762.4L69.3 763.4L71.0 764.8ZM80.9 763.9L83.1 762.9L82.3 757.5L76.6 758.6L78.2 762.8L80.0 763.2L80.6 763.7ZM90.8 759.7L85.8 761.9L85.2 761.8L84.1 757.2L84.5 756.5L87.7 757.6ZM101.0 756.8L98.5 753.4L96.2 755.4L94.9 759.2L95.4 759.7L100.0 758.9ZM117.1 759.7L115.7 757.0L116.8 754.9L118.6 757.4L120.0 759.9L119.5 760.8L118.9 760.8ZM124.2 759.6L128.2 759.8L130.1 759.1L127.3 752.9ZM133.6 759.7L136.8 763.7L137.4 763.2L138.4 756.5L136.9 756.3ZM140.3 756.1L138.9 763.7L144.9 762.1L150.0 757.0L144.4 756.2ZM50.9 762.3L47.1 763.4L43.7 765.9L43.6 766.1L44.7 767.3L49.2 766.9L51.7 763.2ZM56.5 765.1L57.1 767.0L55.3 769.2L52.4 768.5L51.9 767.6L53.6 764.1ZM62.1 761.5L66.1 763.4L66.5 764.3L62.3 767.8L60.0 766.2L59.2 764.2ZM69.0 767.4L69.1 767.0L67.7 765.8L63.7 768.9L64.2 770.4L67.8 768.8ZM82.5 766.5L84.8 764.8L85.5 765.0L89.4 770.3L87.1 773.2L86.7 773.5L85.8 773.3L83.9 770.8L83.1 769.0ZM91.3 769.0L87.1 763.7L92.4 761.5L93.2 761.5L93.6 762.2L94.2 766.3L93.7 767.7ZM101.4 762.9L100.5 761.2L95.7 761.5L96.4 766.3L101.8 765.6ZM118.8 763.7L119.5 763.4L119.9 765.7L117.0 768.7L113.3 767.2ZM122.4 761.9L121.8 762.8L122.7 764.8L124.1 768.1L127.7 766.1L127.4 762.0L123.3 761.7ZM133.4 767.5L130.3 766.0L129.9 762.2L131.9 761.1L132.2 761.2L135.3 764.9L134.6 767.5ZM138.6 770.7L140.5 770.9L143.6 768.2L144.2 764.5L138.7 766.0L138.0 766.2L137.0 768.5ZM38.1 776.3L34.7 772.8L41.5 768.2L41.8 768.1L42.7 769.6L43.8 774.4L43.8 774.5ZM48.5 774.0L46.0 774.3L44.8 769.3L49.6 769.3L49.9 770.4L49.1 773.2ZM51.3 773.5L52.1 770.6L54.5 771.3L54.4 772.8ZM61.9 774.3L61.5 771.6L61.0 770.4L58.9 768.5L57.3 771.1L57.1 773.0L58.1 774.4ZM65.5 776.1L68.2 774.7L68.4 774.3L68.0 771.4L64.2 772.3L64.4 774.8ZM71.5 774.6L71.1 775.0L72.9 775.7L75.0 775.4L75.1 773.9L74.6 773.6L72.3 774.4ZM77.9 774.0L78.0 775.6L79.7 778.0L84.5 774.9L81.7 772.9ZM94.4 775.9L89.3 774.3L91.9 771.7L94.0 770.6L97.2 774.2ZM103.6 769.1L101.9 774.7L99.1 773.1L95.8 769.5L96.6 768.3L101.9 767.9ZM106.2 770.0L105.7 770.0L103.6 775.0L104.1 776.2L110.0 772.9L109.6 769.3ZM112.3 769.0L111.9 769.3L112.8 772.5L113.9 774.8L117.6 773.9L117.8 773.8L115.2 771.0L112.6 769.0ZM120.0 773.3L118.0 770.5L121.5 767.3L122.9 770.5L122.8 772.9L122.7 773.1ZM129.3 772.2L132.3 769.4L128.7 768.4L125.7 770.0L125.1 773.1ZM134.6 777.7L134.8 777.7L136.5 772.7L135.2 770.3L134.0 770.6L131.7 773.5ZM145.0 769.8L142.4 772.5L144.5 775.2L147.7 772.8ZM38.1 782.4L41.2 783.1L43.8 781.7L43.9 776.7L38.3 778.7L38.0 782.2ZM46.2 780.7L49.0 783.0L50.5 779.4L48.2 777.0L45.9 776.7L45.9 776.7ZM55.8 776.0L54.6 774.8L51.3 775.3L50.2 775.9L52.6 778.3L54.4 778.4ZM63.4 777.9L62.0 776.6L58.5 776.8L56.8 779.3L58.2 781.2L63.5 779.8ZM66.3 778.1L69.2 776.7L71.2 777.9L71.5 780.8L66.9 781.0L66.4 779.8ZM76.3 777.5L77.9 779.8L77.5 781.9L76.4 782.3L74.3 781.0L73.8 778.3ZM83.5 784.3L79.9 782.3L80.9 779.7L85.5 776.3L86.4 776.3L87.4 781.1ZM94.3 782.7L92.9 783.1L90.0 780.6L88.3 776.1L88.7 775.9L93.6 778.2ZM98.5 782.3L102.4 780.2L101.8 778.1L101.5 777.2L99.0 776.1L96.4 777.9L96.4 782.7ZM105.2 780.0L106.0 780.3L110.8 780.2L112.3 776.9L110.6 774.6L104.8 777.8ZM116.9 781.9L114.6 781.9L113.5 780.5L114.4 777.7L118.0 776.0ZM118.6 781.9L119.7 776.1L119.8 776.0L122.8 775.6L123.4 778.8L121.4 782.7ZM126.2 778.2L129.8 780.0L133.2 778.7L129.3 774.8L125.1 774.9L125.0 775.1ZM136.4 778.7L139.5 780.8L143.0 780.3L142.8 777.0L140.6 774.0L138.5 773.5ZM54.9 781.2L52.5 781.2L51.0 784.9L54.4 800.5L56.0 783.4ZM122.9 785.1L128.5 804.1L129.8 782.6L125.2 780.6ZM63.9 741.2L63.5 741.1L63.3 742.7L65.4 743.0L63.9 741.3ZM59.1 735.0L58.3 737.1L58.3 737.1L59.8 736.0ZM65.2 737.7L65.1 738.6L65.2 738.7L67.9 737.0L68.0 736.7L67.2 736.7ZM62.5 738.4L62.6 738.8L62.6 738.8L62.7 738.8L62.7 738.7ZM60.8 736.8L60.6 736.8L58.9 738.0L59.2 739.2L60.5 738.0L60.5 737.6ZM58.6 734.8L58.4 734.1L57.6 736.7L57.7 736.8ZM57.2 732.9L56.5 731.2L53.2 731.6L53.4 734.9L56.5 736.6ZM55.9 738.9L55.9 738.9L53.4 736.9L53.2 737.2L54.6 739.3L56.6 740.5L57.1 739.9L57.0 739.6L55.9 738.9ZM58.4 742.4L60.7 744.1L59.3 746.3L56.5 744.8L58.1 743.2ZM63.1 735.7L64.6 734.9L66.7 735.7L64.0 736.4L63.3 736.2ZM61.0 740.9L59.8 741.0L59.8 741.2L61.6 742.8L61.8 742.8L61.3 741.0ZM55.9 742.6L54.8 743.8L54.1 744.3L53.8 741.2ZM85.1 744.1L82.6 741.9L84.4 745.2L85.3 744.3L85.2 744.2ZM89.0 742.4L89.1 743.1L89.7 743.6L88.7 743.9L88.1 744.0L88.1 743.8ZM93.8 740.1L91.7 741.6L92.3 742.5L92.9 742.6L95.3 740.9L95.3 740.4L94.8 739.4ZM93.3 747.0L93.4 747.1L94.1 747.5L93.3 747.2L93.3 747.2ZM94.8 748.8L96.5 750.0L94.0 748.8L94.0 748.7L94.8 748.8ZM86.4 746.3L87.1 746.3L87.0 747.2L86.5 747.1L84.4 747.8L85.1 746.7ZM96.3 751.4L97.3 751.7L97.3 751.7L95.6 752.6L93.0 751.7L93.7 749.8ZM95.3 747.2L95.4 747.1L95.3 747.1L95.3 747.2ZM88.5 739.1L88.5 738.0L87.9 735.6L87.5 734.9L84.3 737.0L88.3 739.1ZM86.2 749.2L85.7 751.0L84.2 751.8L83.6 750.0L84.0 749.6ZM89.9 748.8L90.9 750.1L91.1 750.2L91.2 750.2L91.2 749.6L91.4 749.4L91.5 749.0ZM90.4 740.2L90.4 740.1L92.4 739.2L90.4 740.4L90.4 740.2ZM96.2 742.2L97.9 744.2L95.4 744.8L95.0 744.8L94.0 744.9L93.6 744.2ZM85.1 741.5L82.6 740.6L82.5 740.9L83.0 741.2L85.4 743.0ZM91.2 745.1L91.1 745.9L91.2 746.6L89.7 746.8L89.7 746.7L89.8 745.8L90.8 745.1ZM88.4 749.3L88.4 749.3L89.0 750.2L87.8 750.5L88.3 749.4ZM88.1 741.7L88.0 741.9L87.8 742.0L87.4 742.8L87.3 743.1L88.1 741.8ZM109.6 759.3L110.3 758.4L110.2 758.3L109.5 759.0L109.1 759.3L109.0 759.8L109.8 760.3ZM109.7 763.4L110.1 765.3L110.5 766.4L110.2 766.8L107.0 767.3L108.2 762.4L108.4 762.2L109.7 763.3ZM112.0 755.8L112.7 755.8L113.4 754.9L114.8 753.8L114.5 752.5L111.6 751.3L111.1 753.0L111.9 755.7ZM107.4 756.9L106.6 756.0L106.5 756.2L105.4 756.5L107.1 758.1ZM111.9 758.5L111.9 758.4L111.8 758.4L111.4 759.2ZM114.2 759.0L114.2 759.0L114.9 759.6L114.3 757.6L113.7 758.5L114.1 758.9ZM109.9 756.0L109.5 753.6L108.2 755.0L109.0 756.1ZM106.4 760.2L106.1 760.3L103.7 761.1L102.8 759.7L103.5 757.9L104.3 757.8L106.0 759.6ZM106.7 762.3L103.8 763.7L104.2 765.8L105.0 767.0L105.4 767.0ZM114.3 762.0L115.2 762.1L118.0 762.8L112.6 766.4L112.3 766.5L112.4 765.5ZM113.2 761.5L113.4 761.5L111.6 764.9L111.7 762.1ZM112.6 760.5L111.3 760.9L111.3 760.9L111.5 760.6L112.2 759.9ZM77.5 768.3L79.7 766.0L78.9 766.1L78.6 766.8ZM72.1 773.1L74.3 772.2L74.1 772.0L73.2 771.4ZM76.3 769.3L76.3 769.3L76.6 768.8L76.3 769.2L76.3 769.3ZM70.2 773.0L70.0 770.8L70.5 768.4L71.1 770.8L70.6 772.4ZM77.5 771.0L80.4 769.4L81.1 771.5L77.3 772.0L77.1 771.7L77.1 771.4L77.4 771.0ZM74.8 769.4L74.8 770.4L73.3 768.7L71.8 767.6L71.7 767.2L73.6 767.0L74.0 768.5ZM76.0 767.3L75.2 765.7L76.6 764.7L78.1 765.3L76.7 766.1ZM77.3 769.3L80.2 768.0L80.5 766.5L80.1 766.5L77.8 768.7Z" fill="#000" stroke="#000" stroke-width="1.4" stroke-linejoin="round"/>
<line x1="119.7" y1="772.9" x2="130.2" y2="772.9" stroke="#fff" stroke-width="1"/>
</g>
<clipPath id="cp8"><rect x="137.2" y="726" width="86.4" height="50.4"/></clipPath>
<rect x="137.2" y="726" width="86.4" height="50.4" fill="#c8401a"/>
<g clip-path="url(#cp8)">
<path d="M185.1 760.7a2.63 2.63 0 1 0 5.25 0a2.63 2.63 0 1 0 -5.25 0M143.7 764.5a2.48 2.48 0 1 0 4.96 0a2.48 2.48 0 1 0 -4.96 0M155.7 726.6a2.04 2.04 0 1 0 4.07 0a2.04 2.04 0 1 0 -4.07 0M171.3 773.3a1.39 1.39 0 1 0 2.77 0a1.39 1.39 0 1 0 -2.77 0M133.8 749.1a1.98 1.98 0 1 0 3.96 0a1.98 1.98 0 1 0 -3.96 0M218.9 747.8a2.12 2.12 0 1 0 4.23 0a2.12 2.12 0 1 0 -4.23 0M178.9 738.1a1.80 1.80 0 1 0 3.61 0a1.80 1.80 0 1 0 -3.61 0M212.8 761.4a1.70 1.70 0 1 0 3.39 0a1.70 1.70 0 1 0 -3.39 0M153.5 754.2a1.63 1.63 0 1 0 3.25 0a1.63 1.63 0 1 0 -3.25 0M178.1 736.0a1.60 1.60 0 1 0 3.21 0a1.60 1.60 0 1 0 -3.21 0M187.6 777.6a2.67 2.67 0 1 0 5.34 0a2.67 2.67 0 1 0 -5.34 0M218.9 769.2a2.53 2.53 0 1 0 5.06 0a2.53 2.53 0 1 0 -5.06 0M179.3 772.2a2.72 2.72 0 1 0 5.44 0a2.72 2.72 0 1 0 -5.44 0M134.6 725.5a2.63 2.63 0 1 0 5.26 0a2.63 2.63 0 1 0 -5.26 0M163.9 777.3a1.28 1.28 0 1 0 2.56 0a1.28 1.28 0 1 0 -2.56 0M157.6 738.3a1.53 1.53 0 1 0 3.07 0a1.53 1.53 0 1 0 -3.07 0M209.8 734.0a1.77 1.77 0 1 0 3.54 0a1.77 1.77 0 1 0 -3.54 0M145.1 751.0a1.34 1.34 0 1 0 2.68 0a1.34 1.34 0 1 0 -2.68 0M175.1 761.4a2.68 2.68 0 1 0 5.36 0a2.68 2.68 0 1 0 -5.36 0M196.3 777.9a1.26 1.26 0 1 0 2.51 0a1.26 1.26 0 1 0 -2.51 0M142.3 769.4a1.30 1.30 0 1 0 2.61 0a1.30 1.30 0 1 0 -2.61 0M182.4 757.3a1.52 1.52 0 1 0 3.04 0a1.52 1.52 0 1 0 -3.04 0M217.1 746.1a2.12 2.12 0 1 0 4.25 0a2.12 2.12 0 1 0 -4.25 0M215.4 732.5a1.44 1.44 0 1 0 2.89 0a1.44 1.44 0 1 0 -2.89 0M176.1 762.0a2.54 2.54 0 1 0 5.08 0a2.54 2.54 0 1 0 -5.08 0M150.6 725.4a1.42 1.42 0 1 0 2.85 0a1.42 1.42 0 1 0 -2.85 0M190.9 742.8a2.12 2.12 0 1 0 4.23 0a2.12 2.12 0 1 0 -4.23 0M174.0 759.2a1.80 1.80 0 1 0 3.60 0a1.80 1.80 0 1 0 -3.60 0M142.4 747.1a2.00 2.00 0 1 0 4.00 0a2.00 2.00 0 1 0 -4.00 0M158.1 758.9a2.30 2.30 0 1 0 4.60 0a2.30 2.30 0 1 0 -4.60 0M215.6 745.4a1.48 1.48 0 1 0 2.95 0a1.48 1.48 0 1 0 -2.95 0M187.5 751.2a1.42 1.42 0 1 0 2.84 0a1.42 1.42 0 1 0 -2.84 0M212.4 754.0a1.85 1.85 0 1 0 3.70 0a1.85 1.85 0 1 0 -3.70 0M134.9 771.6a2.11 2.11 0 1 0 4.23 0a2.11 2.11 0 1 0 -4.23 0M136.2 771.0a1.77 1.77 0 1 0 3.53 0a1.77 1.77 0 1 0 -3.53 0M172.6 754.3a2.27 2.27 0 1 0 4.55 0a2.27 2.27 0 1 0 -4.55 0M136.1 732.4a2.11 2.11 0 1 0 4.21 0a2.11 2.11 0 1 0 -4.21 0M139.9 769.9a2.36 2.36 0 1 0 4.72 0a2.36 2.36 0 1 0 -4.72 0M189.4 760.7a1.40 1.40 0 1 0 2.80 0a1.40 1.40 0 1 0 -2.80 0M146.6 775.7a2.02 2.02 0 1 0 4.03 0a2.02 2.02 0 1 0 -4.03 0M152.1 744.5a1.94 1.94 0 1 0 3.88 0a1.94 1.94 0 1 0 -3.88 0M166.7 755.2a1.93 1.93 0 1 0 3.87 0a1.93 1.93 0 1 0 -3.87 0M186.9 751.1a2.43 2.43 0 1 0 4.86 0a2.43 2.43 0 1 0 -4.86 0M196.6 752.0a1.73 1.73 0 1 0 3.47 0a1.73 1.73 0 1 0 -3.47 0M164.0 726.5a2.69 2.69 0 1 0 5.39 0a2.69 2.69 0 1 0 -5.39 0M183.0 745.0a1.55 1.55 0 1 0 3.10 0a1.55 1.55 0 1 0 -3.10 0M162.7 764.5a1.78 1.78 0 1 0 3.56 0a1.78 1.78 0 1 0 -3.56 0M133.6 747.9a1.92 1.92 0 1 0 3.84 0a1.92 1.92 0 1 0 -3.84 0M174.1 750.7a1.38 1.38 0 1 0 2.76 0a1.38 1.38 0 1 0 -2.76 0M215.4 739.2a1.72 1.72 0 1 0 3.44 0a1.72 1.72 0 1 0 -3.44 0M202.7 754.4a1.30 1.30 0 1 0 2.61 0a1.30 1.30 0 1 0 -2.61 0M211.6 764.0a2.55 2.55 0 1 0 5.10 0a2.55 2.55 0 1 0 -5.10 0M141.7 769.8a1.33 1.33 0 1 0 2.66 0a1.33 1.33 0 1 0 -2.66 0M149.0 748.7a1.97 1.97 0 1 0 3.95 0a1.97 1.97 0 1 0 -3.95 0M211.2 751.2a1.79 1.79 0 1 0 3.58 0a1.79 1.79 0 1 0 -3.58 0M185.7 765.1a1.59 1.59 0 1 0 3.18 0a1.59 1.59 0 1 0 -3.18 0M159.4 754.7a2.38 2.38 0 1 0 4.75 0a2.38 2.38 0 1 0 -4.75 0M164.2 754.9a1.75 1.75 0 1 0 3.49 0a1.75 1.75 0 1 0 -3.49 0M205.6 764.7a1.20 1.20 0 1 0 2.40 0a1.20 1.20 0 1 0 -2.40 0M187.7 726.7a2.80 2.80 0 1 0 5.60 0a2.80 2.80 0 1 0 -5.60 0M163.6 726.8a2.67 2.67 0 1 0 5.34 0a2.67 2.67 0 1 0 -5.34 0M149.8 739.5a2.25 2.25 0 1 0 4.49 0a2.25 2.25 0 1 0 -4.49 0M214.6 732.0a1.79 1.79 0 1 0 3.59 0a1.79 1.79 0 1 0 -3.59 0M218.7 765.7a1.33 1.33 0 1 0 2.65 0a1.33 1.33 0 1 0 -2.65 0M153.6 740.9a2.23 2.23 0 1 0 4.45 0a2.23 2.23 0 1 0 -4.45 0M191.5 739.9a1.47 1.47 0 1 0 2.94 0a1.47 1.47 0 1 0 -2.94 0M140.2 765.7a1.88 1.88 0 1 0 3.75 0a1.88 1.88 0 1 0 -3.75 0M150.7 725.3a1.37 1.37 0 1 0 2.74 0a1.37 1.37 0 1 0 -2.74 0M187.2 754.1a2.43 2.43 0 1 0 4.86 0a2.43 2.43 0 1 0 -4.86 0M182.5 754.7a2.69 2.69 0 1 0 5.37 0a2.69 2.69 0 1 0 -5.37 0M210.9 758.9a2.25 2.25 0 1 0 4.49 0a2.25 2.25 0 1 0 -4.49 0M145.1 749.9a1.39 1.39 0 1 0 2.77 0a1.39 1.39 0 1 0 -2.77 0M165.0 744.3a1.81 1.81 0 1 0 3.62 0a1.81 1.81 0 1 0 -3.62 0M221.3 726.5a2.58 2.58 0 1 0 5.16 0a2.58 2.58 0 1 0 -5.16 0M216.3 737.8a1.45 1.45 0 1 0 2.89 0a1.45 1.45 0 1 0 -2.89 0" fill="#f2c41c" fill-opacity="0.9"/>
<path d="M135.8 755.9a0.68 0.68 0 1 0 1.36 0a0.68 0.68 0 1 0 -1.36 0M220.2 759.4a0.89 0.89 0 1 0 1.78 0a0.89 0.89 0 1 0 -1.78 0M151.0 731.9a0.75 0.75 0 1 0 1.49 0a0.75 0.75 0 1 0 -1.49 0M166.1 745.7a0.89 0.89 0 1 0 1.77 0a0.89 0.89 0 1 0 -1.77 0M219.7 775.6a0.86 0.86 0 1 0 1.73 0a0.86 0.86 0 1 0 -1.73 0M222.8 761.4a0.70 0.70 0 1 0 1.40 0a0.70 0.70 0 1 0 -1.40 0M177.6 762.0a1.06 1.06 0 1 0 2.12 0a1.06 1.06 0 1 0 -2.12 0M158.2 773.2a0.63 0.63 0 1 0 1.26 0a0.63 0.63 0 1 0 -1.26 0M157.0 726.6a0.79 0.79 0 1 0 1.57 0a0.79 0.79 0 1 0 -1.57 0M213.4 764.0a0.74 0.74 0 1 0 1.48 0a0.74 0.74 0 1 0 -1.48 0M187.7 775.2a1.09 1.09 0 1 0 2.17 0a1.09 1.09 0 1 0 -2.17 0M218.0 774.6a1.01 1.01 0 1 0 2.01 0a1.01 1.01 0 1 0 -2.01 0M179.4 776.0a0.63 0.63 0 1 0 1.26 0a0.63 0.63 0 1 0 -1.26 0M153.2 733.8a0.89 0.89 0 1 0 1.78 0a0.89 0.89 0 1 0 -1.78 0M143.0 777.0a0.84 0.84 0 1 0 1.68 0a0.84 0.84 0 1 0 -1.68 0" fill="#ff8ad0" fill-opacity="0.9"/>
<path d="M150.0 744.0a11.00 11.00 0 1 0 22.00 0a11.00 11.00 0 1 0 -22.00 0M162.0 752.0a11.00 11.00 0 1 0 22.00 0a11.00 11.00 0 1 0 -22.00 0M172.0 762.0a11.00 11.00 0 1 0 22.00 0a11.00 11.00 0 1 0 -22.00 0M173.4 744.0a6.60 6.60 0 1 0 13.20 0a6.60 6.60 0 1 0 -13.20 0M189.4 740.0a6.60 6.60 0 1 0 13.20 0a6.60 6.60 0 1 0 -13.20 0M137.4 770.0a6.60 6.60 0 1 0 13.20 0a6.60 6.60 0 1 0 -13.20 0M165.4 734.0a6.60 4.40 0 1 0 13.20 0a6.60 4.40 0 1 0 -13.20 0M158.4 760.0a6.60 6.60 0 1 0 13.20 0a6.60 6.60 0 1 0 -13.20 0" fill="#c8e030" fill-opacity="0.85"/>
<path d="M127.3 717.4L128.6 716.6L125.9 710.8L123.8 717.7L126.1 717.7ZM137.0 718.4L136.8 718.9L132.3 716.5L134.4 713.5L136.1 715.3ZM142.6 713.1L141.7 715.7L138.8 718.3L138.4 714.3L142.4 711.9ZM144.7 713.4L149.3 715.6L149.8 717.1L146.2 718.0L144.2 716.7ZM156.6 716.8L158.5 714.6L158.7 708.1L153.1 714.0L152.3 715.0L152.5 716.6L153.4 717.5ZM160.7 720.3L164.4 720.8L164.4 720.8L164.0 718.4L160.7 715.8L159.1 718.3ZM172.4 718.4L166.7 720.7L167.0 717.8L169.0 716.9L171.0 716.5L171.8 717.3ZM175.3 718.1L176.3 719.7L180.0 717.5L179.2 714.0L174.8 717.2ZM188.5 721.0L185.5 717.9L185.4 717.7L188.4 715.2L189.8 715.3L191.9 715.9L191.8 716.1ZM199.8 719.4L197.0 721.1L194.7 716.4L194.7 716.2L197.6 713.9ZM204.6 717.8L199.2 713.1L199.0 713.5L201.3 718.7L203.6 719.2ZM208.1 717.4L212.9 717.8L214.0 716.1L214.0 714.8L213.6 714.3L208.5 714.1ZM221.1 717.1L222.4 715.4L222.3 710.6L216.9 714.3L217.0 715.9ZM224.1 720.4L223.3 718.4L225.1 716.7L229.1 717.1L229.2 717.4L229.4 718.0L228.4 720.3ZM131.1 724.9L128.3 720.1L126.6 720.5L127.3 724.8L129.2 726.0ZM132.8 724.2L136.2 724.3L136.3 724.2L136.1 720.6L131.5 717.9L131.0 718.0L129.6 719.3ZM142.1 718.4L144.3 720.0L144.3 724.1L138.5 724.1L139.1 720.6L139.4 720.3ZM151.7 720.0L150.7 719.0L146.9 720.5L146.7 724.3L147.4 724.6L151.0 724.2L151.0 724.2ZM157.9 721.6L157.2 725.2L153.3 724.3L153.9 720.0L157.0 719.3ZM160.4 722.5L164.5 722.8L165.2 725.9L164.9 726.1L159.2 726.1L159.2 726.1ZM173.0 720.0L174.5 721.7L174.3 724.1L170.3 725.5L167.9 725.4L167.1 722.2L167.1 722.2ZM180.9 724.9L178.6 724.9L177.1 723.7L177.5 721.4L181.0 719.0L182.8 719.2L182.8 719.3ZM187.6 725.3L185.5 726.2L182.6 725.7L184.4 719.8L187.1 723.3ZM195.6 722.8L193.2 717.3L189.9 722.7L190.2 725.1L191.2 725.4L195.1 724.2ZM203.4 721.5L204.5 725.4L200.8 727.3L198.0 724.5L198.6 723.1L201.0 721.8ZM206.9 719.7L207.2 719.4L212.1 720.0L212.7 725.1L207.9 725.2L206.7 724.7L206.0 721.0ZM220.3 723.3L215.9 725.6L215.0 724.8L214.8 720.0L216.1 717.8L220.6 719.4L221.3 721.4ZM223.1 723.9L224.0 722.3L227.9 722.3L228.6 724.1L224.6 725.1ZM230.8 721.9L231.9 719.1L248.9 722.9L232.4 725.1L231.6 723.8ZM132.7 727.2L136.1 726.5L136.8 731.6L132.6 733.7L130.5 730.0L130.9 728.2ZM145.0 726.6L144.6 731.6L140.8 732.8L139.2 731.3L138.5 726.4L138.6 726.3L144.3 726.2ZM151.1 726.6L150.5 731.1L147.7 731.9L146.8 731.6L147.1 727.1ZM153.0 726.6L153.0 726.6L152.9 730.8L154.3 732.3L157.1 731.8L156.5 727.6L156.5 727.6ZM160.9 733.0L160.7 733.0L159.6 732.5L158.6 727.9L165.2 727.9L162.7 732.7L162.4 733.4ZM167.1 728.1L167.2 727.9L169.1 728.1L170.6 731.9L165.0 732.3ZM175.4 726.1L176.9 727.4L176.7 733.0L173.3 733.2L172.8 731.8L171.5 728.0ZM180.1 734.5L178.6 733.1L178.9 727.5L181.2 728.0L184.1 728.5L183.4 730.1ZM187.4 733.1L191.0 731.5L189.5 727.9L188.7 727.6L186.7 728.6L186.5 729.9ZM196.2 726.3L191.8 727.5L193.6 731.4L194.3 732.3L198.9 731.3L199.1 729.1ZM205.3 727.5L206.7 727.8L206.2 731.0L203.3 734.7L201.7 731.4L202.1 729.4ZM213.3 727.3L214.0 728.0L215.0 731.2L211.8 732.4L209.1 730.9L209.1 727.6ZM221.1 725.5L216.6 727.6L217.5 731.0L217.9 731.3L223.9 731.0L222.5 727.3ZM225.2 727.3L226.4 730.5L226.4 730.6L228.4 730.2L228.8 729.8L230.2 727.2L229.5 725.8ZM130.9 735.4L130.0 737.1L129.7 737.2L126.7 737.1L125.5 733.8L128.9 731.9ZM137.6 733.9L139.2 735.2L139.6 738.6L136.4 740.4L132.5 737.9L133.8 735.8ZM148.2 739.4L144.9 740.8L142.2 738.6L141.8 735.2L145.4 734.2L146.2 734.7ZM150.0 738.8L150.0 738.8L148.2 734.4L151.4 733.4L152.9 734.8L151.4 738.1ZM154.9 738.6L158.5 735.0L157.2 734.2L154.6 735.3L153.2 738.5L153.3 738.5ZM164.7 735.2L165.2 734.4L170.6 734.0L171.3 735.2L168.9 738.0L168.6 738.0L168.3 737.7L166.1 736.7ZM179.1 738.1L176.9 740.3L173.0 740.3L171.2 739.0L173.8 735.8L176.9 735.6L178.3 736.7ZM181.9 737.2L185.0 738.4L185.6 735.1L184.6 731.7L181.3 735.9ZM187.0 739.0L187.2 739.2L191.4 739.8L191.8 738.9L192.5 734.8L191.7 733.8L188.2 735.7ZM195.0 734.3L199.7 733.4L201.4 736.0L201.6 736.6L194.2 738.9ZM204.5 736.0L207.2 733.0L210.1 734.5L207.0 737.5L204.9 736.9L204.6 736.5ZM212.6 735.1L215.5 733.3L215.8 733.6L216.3 737.2L215.9 738.2L209.4 738.5L209.1 738.2ZM218.3 733.0L224.1 732.6L224.2 732.7L223.4 737.3L218.9 736.8ZM226.4 739.1L225.5 737.9L225.9 733.2L228.5 733.1L228.9 737.4L227.5 739.6ZM128.1 743.3L127.3 743.6L120.1 743.6L125.8 739.5L129.2 739.6ZM134.7 742.1L134.8 746.5L130.7 743.4L131.2 739.9L131.6 739.8ZM137.5 743.0L136.7 747.0L136.8 747.9L143.0 746.4L143.5 743.0L140.6 740.9ZM149.2 741.7L149.1 741.7L146.1 743.4L145.7 746.4L147.0 748.4L150.1 747.4L150.5 746.0ZM168.4 746.0L170.9 745.3L170.7 742.3L169.5 740.9L169.2 741.0L168.3 743.8L168.0 744.6ZM173.5 745.9L173.2 745.7L172.8 742.7L176.5 742.8L176.6 745.3L174.5 746.0ZM181.0 739.6L179.1 742.0L179.3 744.5L180.2 745.3L183.4 744.0L184.6 740.8L184.4 740.7ZM189.5 748.4L190.7 747.2L191.6 743.5L191.2 742.2L186.8 741.4L186.1 745.0L186.6 745.8ZM193.8 741.0L194.5 740.1L201.8 737.9L202.3 738.5L200.1 744.1L194.4 742.1ZM206.5 744.7L202.6 745.5L202.3 744.5L204.3 739.3L206.9 740.2L207.1 740.4L208.0 743.0ZM211.0 743.0L209.4 740.0L216.0 740.3L215.9 744.5L214.9 744.9ZM218.6 739.1L222.8 739.5L224.4 740.8L219.5 744.6L218.0 744.2L218.4 740.1ZM228.2 745.0L226.7 742.2L225.4 742.1L220.7 745.6L222.2 746.7ZM130.3 745.5L129.3 745.9L129.6 750.8L134.1 749.3L134.3 748.7L133.9 748.0ZM137.5 751.1L137.0 750.2L137.3 749.5L143.3 748.3L145.0 750.0L144.9 750.8L144.0 753.2ZM152.8 751.8L151.4 750.2L147.9 750.5L147.9 751.3L152.4 753.6L153.5 753.8L153.9 753.4L153.7 752.6ZM167.5 753.0L167.6 753.1L167.4 752.1L167.5 749.5L164.8 750.0ZM170.5 749.7L169.1 751.6L169.1 748.5L169.2 748.3L170.9 747.7L171.2 748.0ZM174.1 750.4L172.7 750.2L173.2 748.5L174.0 749.0L174.2 749.9ZM190.8 751.4L191.0 752.8L194.7 753.9L196.8 751.9L192.0 749.9L191.0 750.8ZM193.2 748.2L198.1 750.4L199.9 750.2L200.0 747.1L199.7 746.3L194.1 743.9ZM208.4 750.9L204.3 752.9L202.4 750.8L202.6 747.8L206.3 747.4ZM212.2 749.8L214.3 746.6L210.0 744.7L208.6 746.6L210.4 749.8ZM221.5 751.7L220.1 753.5L215.3 752.8L214.5 750.8L216.6 747.5L217.4 746.9L218.7 747.6L219.8 748.7ZM228.8 746.6L222.6 748.2L224.0 751.4L226.8 751.5L228.0 749.8L229.4 747.2ZM232.0 747.0L244.3 745.3L235.9 753.6L230.9 750.2ZM127.3 760.5L127.0 760.5L126.1 754.2L127.5 754.3L129.4 758.5ZM135.1 755.3L134.8 752.4L134.6 751.4L129.9 752.7L128.9 753.2L131.4 757.7L134.5 758.4ZM143.6 756.2L143.5 754.4L137.2 752.2L138.0 755.4ZM146.3 756.2L146.2 755.3L146.6 752.5L151.3 755.3L147.3 757.2L146.7 756.6L146.3 756.4ZM155.7 756.0L155.7 760.7L159.0 758.2L158.8 756.5L156.0 755.5ZM164.6 755.7L162.6 759.2L161.5 757.8L161.5 756.6L162.1 756.2ZM172.6 760.2L171.1 759.3L171.1 758.8L174.9 757.9L174.3 759.2ZM191.3 759.3L190.8 755.2L190.8 754.9L194.4 755.7L194.3 758.5ZM202.9 756.8L198.4 759.6L196.5 758.6L197.3 755.4L198.8 753.4L200.4 752.8L202.6 754.9ZM212.0 757.8L206.5 757.3L205.8 756.6L205.6 754.6L209.6 752.8L211.9 752.3L212.8 754.3ZM215.3 760.0L219.7 758.8L219.6 755.7L215.1 755.3L214.6 758.4ZM223.3 753.9L222.2 755.6L222.2 758.3L223.7 759.8L227.6 758.0L225.9 754.2ZM229.9 752.0L234.5 755.3L233.7 757.3L231.2 757.8L230.0 757.4L228.2 753.9ZM132.3 766.8L128.7 762.1L131.5 760.5L133.9 760.9L134.8 762.3ZM139.0 761.5L140.7 759.8L143.6 757.9L143.5 757.6L137.6 757.0L136.6 759.7L137.5 761.3ZM148.4 764.0L150.4 763.2L147.7 760.2L146.6 759.6L146.8 762.9L146.9 763.2L147.0 763.2ZM152.8 756.7L149.3 759.0L152.2 762.1L153.8 762.5L154.0 761.0L154.0 756.4ZM163.0 763.7L161.7 761.7L160.2 760.4L156.6 762.4L155.8 763.7L156.9 764.8L161.2 764.9L163.0 764.1ZM166.6 756.3L166.6 756.4L164.1 759.8L165.1 762.5L168.4 758.5L168.1 757.8L167.7 756.5L167.5 756.0L167.4 756.0ZM169.5 766.4L166.0 764.2L166.1 763.8L169.6 761.0L171.1 762.6L171.3 763.1L171.6 764.1ZM174.6 764.2L174.3 763.1L177.2 762.8L177.5 763.1L178.1 764.7L177.7 765.3ZM183.4 761.6L183.7 761.6L186.7 764.0L186.0 764.2L183.1 764.0ZM190.2 764.1L192.0 765.7L197.3 765.6L197.4 765.4L196.6 761.8L194.8 761.1L192.0 761.8L190.9 762.7ZM204.2 759.4L204.6 762.8L199.7 765.0L199.5 761.2L203.7 758.7ZM213.0 761.5L212.8 763.3L207.9 763.7L207.3 763.0L206.5 759.2L212.0 760.0ZM219.4 764.2L222.0 762.0L222.0 761.8L220.2 760.7L216.0 761.8L215.6 763.6L215.9 764.1ZM226.8 765.8L229.5 763.0L229.8 760.3L228.4 760.0L225.0 761.6L225.0 761.9ZM235.1 759.7L243.2 767.1L234.8 765.8L232.5 763.5L232.2 760.4ZM130.7 769.0L124.2 769.3L119.5 764.6L126.7 763.6L127.0 763.5L130.8 767.8ZM138.2 768.8L138.9 765.9L137.9 764.3L136.4 763.9L133.8 768.2L133.5 769.2L134.5 770.8L136.7 770.1L137.2 769.6ZM149.2 767.7L149.3 768.4L153.7 768.3L154.0 765.9L153.2 765.0L151.8 765.1L150.6 766.0ZM156.4 769.6L158.5 771.7L161.2 771.2L161.0 767.1L156.4 766.8L156.4 769.3ZM168.4 769.5L164.5 771.7L163.6 770.9L163.4 767.1L164.8 766.0L168.0 768.3ZM173.0 771.3L171.4 769.2L171.1 768.1L173.4 766.0L177.1 767.1L176.9 768.5ZM181.8 770.7L182.0 770.6L184.4 768.1L185.9 765.8L181.8 766.4L180.5 766.6L180.0 767.2L180.0 768.3ZM188.9 773.7L187.3 768.9L187.8 766.5L188.4 766.2L188.8 766.0L190.2 768.1L191.4 774.5L190.4 775.2ZM193.1 774.5L192.7 774.5L192.1 768.0L197.6 767.5L197.9 769.2ZM200.7 768.0L200.2 766.7L200.2 766.6L204.8 764.8L205.4 765.5L205.5 769.8L202.4 769.3ZM213.3 765.8L213.1 765.2L208.0 765.7L208.0 769.9L209.7 771.4L212.8 769.3ZM219.9 769.0L219.0 766.8L215.5 766.0L215.4 769.6L218.0 771.0ZM222.6 768.1L224.4 767.7L225.1 767.3L225.1 767.0L223.6 763.3L221.5 766.1ZM228.2 767.3L230.5 765.1L233.0 767.3L230.2 768.7L228.1 767.5ZM131.1 771.1L124.6 771.3L124.1 777.2L124.8 777.5L131.5 774.1L131.9 773.9L132.2 772.6ZM134.6 773.2L134.8 774.7L136.5 778.6L137.2 778.7L142.3 776.7L137.0 773.2ZM152.0 775.4L155.1 771.4L157.5 774.0L156.6 776.8L155.5 777.3ZM158.8 777.3L162.7 778.4L163.8 776.6L162.9 774.3L162.2 773.6L160.0 774.2ZM171.2 773.2L169.6 771.3L165.5 773.4L166.4 776.3L169.6 775.7L171.2 773.6ZM174.2 772.9L178.0 770.0L180.2 772.5L178.9 774.9L176.5 774.1L174.3 773.2ZM182.8 773.3L183.1 773.4L187.3 775.4L189.3 776.4L188.8 777.0L182.3 778.0L181.6 775.9ZM187.7 774.1L185.8 769.8L183.6 772.1ZM199.2 775.9L201.0 771.8L199.0 770.0L194.0 775.5L197.8 776.4ZM201.2 776.6L205.8 778.2L207.5 774.7L207.7 773.4L206.2 772.2L203.2 772.0ZM216.7 773.1L217.4 774.4L214.6 777.4L210.5 774.7L210.7 773.2L214.0 771.8ZM221.5 770.8L224.1 770.1L224.0 773.7L221.1 774.2L220.2 773.6L219.7 772.6ZM227.1 769.2L229.4 771.3L230.5 775.3L229.5 775.7L226.7 773.5L226.2 770.2ZM127.8 780.7L125.2 778.4L131.9 775.2ZM129.0 781.5L129.9 782.8L131.8 783.4L134.7 780.1L133.1 775.4L132.8 775.7ZM143.9 778.5L143.8 778.5L138.9 780.3L142.3 784.3L145.4 783.7L145.9 782.4L145.2 778.6L143.9 778.5ZM150.6 777.1L154.1 779.1L153.7 781.6L152.1 782.6L148.1 782.4L147.6 778.1L149.4 777.0ZM156.8 779.8L158.1 779.5L161.7 780.5L162.2 783.0L159.8 785.4L156.5 782.1ZM171.7 783.3L169.6 785.0L165.0 782.8L164.6 780.4L166.0 778.6L169.2 778.6ZM172.9 774.9L171.4 777.9L173.2 782.4L174.6 782.3L174.9 776.8ZM176.6 776.9L176.2 782.6L178.1 782.7L179.0 781.1L179.7 779.6L179.5 777.4ZM189.0 778.4L182.7 779.5L181.4 781.9L187.1 782.7L188.5 779.9ZM191.6 778.4L191.9 777.8L192.6 777.4L192.9 777.4L196.1 778.4L197.1 783.6L195.8 785.6L191.6 779.5ZM200.6 778.7L204.4 780.1L205.5 783.2L199.1 783.6L198.8 778.8ZM209.3 776.5L207.4 780.3L208.0 783.1L208.3 783.6L210.9 783.4L213.8 782.9L213.5 779.6ZM218.9 776.1L220.0 777.1L221.5 782.1L219.5 783.6L216.4 782.3L216.3 779.4ZM224.4 781.5L223.5 781.7L221.9 776.5L225.3 775.9L228.6 777.6L227.0 779.4ZM233.5 785.7L238.9 777.8L232.1 777.9L231.2 778.2L230.0 779.8ZM133.4 784.9L135.8 792.1L140.2 785.5L137.1 781.8L136.3 781.7ZM232.1 791.2L225.3 783.6L228.8 781.4L232.2 786.7ZM160.5 741.8L160.8 741.6L160.6 741.9L160.3 742.1L159.5 742.2L160.4 741.8ZM164.7 748.0L166.2 747.7L166.4 747.5L165.8 746.8L164.2 747.1L163.1 748.2ZM165.5 745.3L165.4 744.8L164.2 744.6L164.0 745.6ZM164.9 753.8L164.9 753.8L162.3 753.2L161.7 750.5L161.9 750.2L162.1 750.1ZM157.4 747.1L157.6 747.4L158.9 748.2L159.5 748.3L159.7 748.1L158.5 747.4L158.5 747.4L157.6 746.8ZM159.3 751.0L160.0 750.6L160.5 753.8L159.6 754.5L156.6 753.6L156.8 752.8ZM155.1 745.4L155.1 745.6L155.0 745.6L154.0 745.9L154.9 745.5ZM154.5 747.4L154.6 747.6L153.9 749.6L152.5 748.2L153.2 747.6L153.5 747.7ZM158.3 737.8L158.3 737.9L156.7 739.7L156.0 739.3L159.2 735.7L159.4 735.8L158.5 737.6ZM165.3 753.5L162.6 749.7L162.7 749.7L164.0 750.6L166.7 753.5ZM161.2 738.2L161.4 739.1L161.8 739.3L163.1 737.3L162.5 736.1L160.8 735.8L161.0 737.3ZM157.0 744.3L156.9 744.5L157.4 744.7L157.0 744.2L157.0 744.1ZM167.6 740.4L168.0 740.4L166.3 742.8L164.3 743.0L164.2 743.0ZM161.6 747.1L161.6 745.9L162.1 745.0L162.1 745.0L161.8 744.3L160.6 744.7L161.1 745.9L161.3 747.3L161.5 747.1ZM154.9 741.7L155.0 741.9L155.3 742.1L155.4 742.9L154.6 743.0L153.4 740.6ZM164.4 738.5L167.2 739.7L163.4 742.2L163.1 741.6L163.6 740.7ZM152.1 741.1L152.1 741.1L150.7 741.4L152.0 745.1L152.4 744.9L152.8 743.5ZM159.7 738.2L159.7 738.0L159.7 738.1ZM158.5 741.1L157.8 741.5L157.8 741.5L157.7 741.5L157.3 741.3L158.0 740.9ZM158.6 744.2L158.3 743.9L158.6 744.4L158.9 744.8L158.6 744.2ZM159.9 739.7L160.0 739.8L159.9 739.7L159.8 739.7L159.8 739.6ZM156.2 748.9L155.6 750.5L155.8 751.5L158.2 749.8ZM182.0 755.8L180.8 756.0L180.6 756.1L181.4 756.4L182.5 756.6L182.1 756.0ZM182.0 758.7L181.7 758.2L182.9 758.4L182.9 758.4L183.1 758.7L182.7 758.7L182.7 758.8ZM186.8 749.6L187.8 750.2L188.0 750.2L188.2 749.7L186.0 747.8L185.5 748.9ZM184.3 751.4L184.3 751.4L183.5 751.1L183.8 751.0L184.4 751.3L187.4 751.2L184.4 751.4ZM180.5 760.5L180.2 762.3L180.0 764.1L181.1 763.5L181.4 761.5ZM179.8 754.4L179.7 754.5L179.5 754.4L180.0 752.2L180.2 751.6L181.2 751.8L181.9 752.7ZM176.0 752.7L176.2 753.5L176.8 754.5L177.8 754.5L178.3 751.8L176.2 752.1ZM178.0 759.9L178.5 760.5L179.0 758.5L178.9 758.0L178.5 757.4L178.4 757.3L177.7 757.4L177.6 757.8L177.3 758.6ZM175.3 756.1L173.9 755.5L170.2 755.6L170.9 757.6L174.7 756.7ZM184.0 749.6L183.9 749.6L184.0 749.5ZM184.2 753.6L184.1 753.7L184.2 753.7L184.2 753.6ZM182.6 748.2L183.9 747.3L183.7 746.4L180.9 747.4L181.4 749.1L182.4 749.0L182.5 748.7ZM184.1 755.0L184.1 755.0L184.1 755.0L184.2 755.0L184.2 755.0ZM185.5 760.1L186.9 761.8L187.9 762.0L187.8 763.2L187.5 763.2L184.3 760.9ZM185.4 758.1L185.8 757.6L186.7 759.5L185.6 758.3ZM173.4 752.4L173.4 754.0L169.9 754.3L169.5 754.0L170.1 753.3L171.2 752.6ZM182.7 753.8L182.7 753.8L180.7 755.1L182.6 754.1L182.6 754.1ZM186.2 753.1L188.1 752.5L188.3 752.4L188.2 753.6L188.1 753.8L186.9 754.5L186.7 754.2L186.6 754.0ZM176.7 749.6L178.6 749.5L178.8 749.2L178.5 747.8L178.0 747.1L176.0 748.0ZM188.1 759.2L187.2 757.2L187.2 757.0L189.2 755.6L189.7 759.6L189.0 760.8ZM184.9 756.2L185.0 756.2L185.0 756.2L184.9 756.3L184.8 756.3L184.8 756.2ZM174.0 761.8L176.3 761.4L175.1 760.6L174.0 761.4ZM140.8 770.4L140.3 770.5L139.5 770.7L140.5 770.8ZM145.4 767.1L146.2 766.0L147.8 766.0L146.7 767.3L145.5 767.4ZM150.6 774.0L153.6 770.7L153.6 770.2L149.2 770.5L149.6 773.2L149.5 774.4ZM142.7 764.7L143.8 764.3L144.0 764.2L144.3 764.4L143.3 764.7ZM144.3 766.1L144.8 765.3L144.7 765.3L143.6 765.6ZM141.0 773.4L142.9 775.8L142.8 775.8L138.4 772.4L139.1 772.0ZM145.1 769.7L147.6 772.6L146.6 769.8L146.7 769.5L145.5 769.2ZM143.9 771.1L144.7 775.6L146.0 775.9L147.3 774.9L146.7 773.9L144.3 770.8ZM142.2 768.3L142.5 768.4L142.6 768.2L142.7 767.9L142.4 767.8L142.2 767.2L141.8 766.7L141.0 766.1L140.9 768.6ZM142.6 771.4L143.0 771.4L143.6 775.4L143.6 775.4L142.8 773.0ZM144.8 758.9L145.3 759.4L145.0 762.0L144.4 761.8L143.6 760.5ZM141.0 763.6L140.0 763.2L141.6 762.0L142.7 763.3L141.2 763.7Z" fill="#000" stroke="#000" stroke-width="1.4" stroke-linejoin="round"/>
<path d="M157.4 744.7a1.52 1.52 0 1 0 3.05 0a1.52 1.52 0 1 0 -3.05 0M159.9 739.3a0.90 0.90 0 1 0 1.81 0a0.90 0.90 0 1 0 -1.81 0M158.8 741.1a1.41 1.41 0 1 0 2.81 0a1.41 1.41 0 1 0 -2.81 0M159.7 742.2a1.41 1.41 0 1 0 2.82 0a1.41 1.41 0 1 0 -2.82 0M162.3 744.8a1.75 1.75 0 1 0 3.51 0a1.75 1.75 0 1 0 -3.51 0M161.1 742.1a1.33 1.33 0 1 0 2.65 0a1.33 1.33 0 1 0 -2.65 0M158.4 742.6a1.55 1.55 0 1 0 3.10 0a1.55 1.55 0 1 0 -3.10 0M157.8 748.7a1.74 1.74 0 1 0 3.49 0a1.74 1.74 0 1 0 -3.49 0M156.0 742.5a1.21 1.21 0 1 0 2.43 0a1.21 1.21 0 1 0 -2.43 0M162.4 747.3a1.46 1.46 0 1 0 2.93 0a1.46 1.46 0 1 0 -2.93 0M160.2 740.3a1.47 1.47 0 1 0 2.94 0a1.47 1.47 0 1 0 -2.94 0M164.4 744.3a1.28 1.28 0 1 0 2.55 0a1.28 1.28 0 1 0 -2.55 0M156.4 747.1a1.92 1.92 0 1 0 3.83 0a1.92 1.92 0 1 0 -3.83 0M159.5 740.7a0.93 0.93 0 1 0 1.86 0a0.93 0.93 0 1 0 -1.86 0M156.7 742.3a1.08 1.08 0 1 0 2.15 0a1.08 1.08 0 1 0 -2.15 0M170.8 749.9a1.00 1.00 0 1 0 1.99 0a1.00 1.00 0 1 0 -1.99 0M169.1 753.1a1.14 1.14 0 1 0 2.29 0a1.14 1.14 0 1 0 -2.29 0M172.2 751.3a1.57 1.57 0 1 0 3.15 0a1.57 1.57 0 1 0 -3.15 0M167.8 750.8a1.33 1.33 0 1 0 2.65 0a1.33 1.33 0 1 0 -2.65 0M172.3 752.4a1.96 1.96 0 1 0 3.92 0a1.96 1.96 0 1 0 -3.92 0M175.5 753.5a1.78 1.78 0 1 0 3.57 0a1.78 1.78 0 1 0 -3.57 0M171.4 753.4a1.94 1.94 0 1 0 3.88 0a1.94 1.94 0 1 0 -3.88 0M171.4 749.5a1.20 1.20 0 1 0 2.41 0a1.20 1.20 0 1 0 -2.41 0M174.6 748.8a1.61 1.61 0 1 0 3.23 0a1.61 1.61 0 1 0 -3.23 0M168.6 750.7a1.86 1.86 0 1 0 3.72 0a1.86 1.86 0 1 0 -3.72 0M170.3 755.6a1.72 1.72 0 1 0 3.44 0a1.72 1.72 0 1 0 -3.44 0M172.7 755.3a1.99 1.99 0 1 0 3.99 0a1.99 1.99 0 1 0 -3.99 0M170.3 752.6a1.19 1.19 0 1 0 2.39 0a1.19 1.19 0 1 0 -2.39 0M170.5 755.2a1.69 1.69 0 1 0 3.39 0a1.69 1.69 0 1 0 -3.39 0M174.4 749.7a1.53 1.53 0 1 0 3.05 0a1.53 1.53 0 1 0 -3.05 0M178.6 765.4a1.52 1.52 0 1 0 3.04 0a1.52 1.52 0 1 0 -3.04 0M181.1 766.4a1.28 1.28 0 1 0 2.57 0a1.28 1.28 0 1 0 -2.57 0M179.9 765.0a1.34 1.34 0 1 0 2.68 0a1.34 1.34 0 1 0 -2.68 0M184.2 758.7a1.83 1.83 0 1 0 3.65 0a1.83 1.83 0 1 0 -3.65 0M180.8 764.0a1.02 1.02 0 1 0 2.03 0a1.02 1.02 0 1 0 -2.03 0M184.4 765.9a1.48 1.48 0 1 0 2.97 0a1.48 1.48 0 1 0 -2.97 0M178.7 761.5a1.67 1.67 0 1 0 3.33 0a1.67 1.67 0 1 0 -3.33 0M178.8 760.7a1.62 1.62 0 1 0 3.23 0a1.62 1.62 0 1 0 -3.23 0M177.6 760.9a1.72 1.72 0 1 0 3.45 0a1.72 1.72 0 1 0 -3.45 0M184.7 759.6a1.54 1.54 0 1 0 3.09 0a1.54 1.54 0 1 0 -3.09 0M177.8 759.4a1.24 1.24 0 1 0 2.47 0a1.24 1.24 0 1 0 -2.47 0M177.5 762.7a1.05 1.05 0 1 0 2.09 0a1.05 1.05 0 1 0 -2.09 0M178.5 759.2a1.79 1.79 0 1 0 3.58 0a1.79 1.79 0 1 0 -3.58 0M181.1 763.1a1.04 1.04 0 1 0 2.08 0a1.04 1.04 0 1 0 -2.08 0M181.8 764.5a0.99 0.99 0 1 0 1.98 0a0.99 0.99 0 1 0 -1.98 0M179.6 745.3a1.62 1.62 0 1 0 3.24 0a1.62 1.62 0 1 0 -3.24 0M177.2 746.5a1.52 1.52 0 1 0 3.05 0a1.52 1.52 0 1 0 -3.05 0M177.0 743.4a1.63 1.63 0 1 0 3.27 0a1.63 1.63 0 1 0 -3.27 0M177.7 744.5a1.35 1.35 0 1 0 2.70 0a1.35 1.35 0 1 0 -2.70 0M178.4 743.4a1.83 1.83 0 1 0 3.66 0a1.83 1.83 0 1 0 -3.66 0M179.3 745.0a1.41 1.41 0 1 0 2.81 0a1.41 1.41 0 1 0 -2.81 0M179.0 742.5a1.37 1.37 0 1 0 2.75 0a1.37 1.37 0 1 0 -2.75 0M197.0 740.7a1.27 1.27 0 1 0 2.55 0a1.27 1.27 0 1 0 -2.55 0M196.4 740.3a1.69 1.69 0 1 0 3.37 0a1.69 1.69 0 1 0 -3.37 0M193.5 740.5a1.63 1.63 0 1 0 3.25 0a1.63 1.63 0 1 0 -3.25 0M196.8 740.7a1.91 1.91 0 1 0 3.81 0a1.91 1.91 0 1 0 -3.81 0M196.3 737.7a1.62 1.62 0 1 0 3.23 0a1.62 1.62 0 1 0 -3.23 0M191.3 741.0a1.94 1.94 0 1 0 3.88 0a1.94 1.94 0 1 0 -3.88 0M191.7 739.4a1.74 1.74 0 1 0 3.48 0a1.74 1.74 0 1 0 -3.48 0M140.1 768.8a1.29 1.29 0 1 0 2.58 0a1.29 1.29 0 1 0 -2.58 0M140.7 769.8a1.36 1.36 0 1 0 2.71 0a1.36 1.36 0 1 0 -2.71 0M140.5 772.1a1.46 1.46 0 1 0 2.92 0a1.46 1.46 0 1 0 -2.92 0M143.1 769.9a1.34 1.34 0 1 0 2.68 0a1.34 1.34 0 1 0 -2.68 0M141.7 769.0a1.67 1.67 0 1 0 3.33 0a1.67 1.67 0 1 0 -3.33 0M140.6 768.6a1.44 1.44 0 1 0 2.88 0a1.44 1.44 0 1 0 -2.88 0M141.9 769.5a1.60 1.60 0 1 0 3.19 0a1.60 1.60 0 1 0 -3.19 0M170.7 733.1a1.12 1.12 0 1 0 2.24 0a1.12 1.12 0 1 0 -2.24 0M170.3 733.5a1.93 1.93 0 1 0 3.85 0a1.93 1.93 0 1 0 -3.85 0M168.4 735.0a1.39 1.39 0 1 0 2.77 0a1.39 1.39 0 1 0 -2.77 0M167.9 735.2a1.78 1.78 0 1 0 3.55 0a1.78 1.78 0 1 0 -3.55 0M170.8 735.7a1.19 1.19 0 1 0 2.38 0a1.19 1.19 0 1 0 -2.38 0M172.9 732.5a1.06 1.06 0 1 0 2.12 0a1.06 1.06 0 1 0 -2.12 0M167.0 760.1a0.94 0.94 0 1 0 1.87 0a0.94 0.94 0 1 0 -1.87 0M166.6 761.0a1.20 1.20 0 1 0 2.40 0a1.20 1.20 0 1 0 -2.40 0M161.6 758.3a1.45 1.45 0 1 0 2.90 0a1.45 1.45 0 1 0 -2.90 0M163.0 761.0a1.68 1.68 0 1 0 3.37 0a1.68 1.68 0 1 0 -3.37 0M166.6 760.6a1.27 1.27 0 1 0 2.54 0a1.27 1.27 0 1 0 -2.54 0M163.3 762.6a1.04 1.04 0 1 0 2.08 0a1.04 1.04 0 1 0 -2.08 0M165.1 762.5a1.43 1.43 0 1 0 2.85 0a1.43 1.43 0 1 0 -2.85 0" fill="#9fe430" fill-opacity="0.92"/>
<line x1="209.6" y1="772.9" x2="220.1" y2="772.9" stroke="#fff" stroke-width="1"/>
</g>
<line x1="263.6" y1="655.3" x2="263.6" y2="767" stroke="#555" stroke-width="0.8"/>
<line x1="263.6" y1="767" x2="377.5" y2="767" stroke="#555" stroke-width="0.8"/>
<text x="260.8" y="676.6" font-size="7.2" text-anchor="end" stroke="#231f20" stroke-width="0.216">0.4</text>
<text x="260.8" y="698.2" font-size="7.2" text-anchor="end" stroke="#231f20" stroke-width="0.216">0.3</text>
<text x="260.8" y="719.8" font-size="7.2" text-anchor="end" stroke="#231f20" stroke-width="0.216">0.2</text>
<text x="260.8" y="741.4" font-size="7.2" text-anchor="end" stroke="#231f20" stroke-width="0.216">0.1</text>
<text x="260.8" y="763" font-size="7.2" text-anchor="end" stroke="#231f20" stroke-width="0.216">0.0</text>
<text x="269.1" y="774.8" font-size="7.2" text-anchor="middle" stroke="#231f20" stroke-width="0.216">0</text>
<text x="294.16" y="774.8" font-size="7.2" text-anchor="middle" stroke="#231f20" stroke-width="0.216">2</text>
<text x="319.22" y="774.8" font-size="7.2" text-anchor="middle" stroke="#231f20" stroke-width="0.216">4</text>
<text x="344.28" y="774.8" font-size="7.2" text-anchor="middle" stroke="#231f20" stroke-width="0.216">6</text>
<text x="369.34" y="774.8" font-size="7.2" text-anchor="middle" stroke="#231f20" stroke-width="0.216">8</text>
<text x="321" y="782" font-size="7.2" text-anchor="middle" stroke="#231f20" stroke-width="0.216">Adipocyte size (μm²×1000)</text>
<text x="246.2" y="711.1" font-size="7.6" text-anchor="middle" transform="rotate(-90 246.2 711.1)" textLength="50.4" lengthAdjust="spacingAndGlyphs" stroke="#231f20" stroke-width="0.228">Density (×1000)</text>
<path d="M268.5 732 C269.22 730.17 271.38 724.17 272.8 721 C274.22 717.83 275.53 714.92 277 713 C278.47 711.08 280.47 710.2 281.6 709.5 C282.73 708.8 282.73 708.63 283.8 708.8 C284.87 708.97 286.53 709.57 288 710.5 C289.47 711.43 290.38 712.83 292.6 714.4 C294.82 715.97 298.4 718.07 301.3 719.9 C304.2 721.73 307.8 723.8 310 725.4 C312.2 727 313.03 727.68 314.5 729.5 C315.97 731.32 316.62 733.33 318.8 736.3 C320.98 739.27 325.23 744.52 327.6 747.3 C329.97 750.08 331.37 751.55 333 753 C334.63 754.45 335.73 755.27 337.4 756 C339.07 756.73 340.98 757.13 343 757.4 C345.02 757.67 346.6 757.28 349.5 757.6 C352.4 757.92 356.57 758.63 360.4 759.3 C364.23 759.97 370.48 761.22 372.5 761.6" fill="none" stroke="#666" stroke-width="0.8"/>
<path d="M268.5 695.8 C268.83 691.83 269.7 677.95 270.5 672 C271.3 666.05 272.47 660.77 273.3 660.1 C274.13 659.43 274.67 664.78 275.5 668 C276.33 671.22 276.55 674.95 278.3 679.4 C280.05 683.85 283.62 689.6 286 694.7 C288.38 699.8 290.6 704.7 292.6 710 C294.6 715.3 296.18 722.12 298 726.5 C299.82 730.88 301.12 732.47 303.5 736.3 C305.88 740.13 309.02 746.03 312.3 749.5 C315.58 752.97 318.83 755.2 323.2 757.1 C327.57 759 333.2 760.12 338.5 760.9 C343.8 761.68 349.52 761.58 355 761.8 C360.48 762.02 368.67 762.13 371.4 762.2" fill="none" stroke="#b28cf5" stroke-width="0.9"/>
<line x1="316.6" y1="655.3" x2="316.6" y2="714.9" stroke="#555" stroke-width="0.7"/>
<line x1="316.6" y1="714.9" x2="383.4" y2="714.9" stroke="#555" stroke-width="0.7"/>
<text x="314.9" y="658.3" font-size="5.6" text-anchor="end" stroke="#231f20" stroke-width="0.168">10.0</text>
<text x="314.9" y="670.73" font-size="5.6" text-anchor="end" stroke="#231f20" stroke-width="0.168">7.5</text>
<text x="314.9" y="683.15" font-size="5.6" text-anchor="end" stroke="#231f20" stroke-width="0.168">5.0</text>
<text x="314.9" y="695.58" font-size="5.6" text-anchor="end" stroke="#231f20" stroke-width="0.168">2.5</text>
<text x="314.9" y="708" font-size="5.6" text-anchor="end" stroke="#231f20" stroke-width="0.168">0.0</text>
<text x="296" y="684.9" font-size="6.2" text-anchor="middle" transform="rotate(-90 296 684.9)" stroke="#231f20" stroke-width="0.186">Adipocyte size</text>
<text x="302.4" y="684.9" font-size="6.2" text-anchor="middle" transform="rotate(-90 302.4 684.9)" stroke="#231f20" stroke-width="0.186">(μm²×1000)</text>
<text x="336.3" y="661.6" font-size="5.6" stroke="#231f20" stroke-width="0.168"><tspan font-style="italic">P</tspan> = 3.7e-34</text>
<path d="M335.4 658.6 C335.47 659.67 335.63 662.77 335.8 665 C335.97 667.23 335.97 669.5 336.4 672 C336.83 674.5 337.77 677.67 338.4 680 C339.03 682.33 339.63 684 340.2 686 C340.77 688 341.35 690.17 341.8 692 C342.25 693.83 342.8 695.33 342.9 697 C343 698.67 342.85 700.5 342.4 702 C341.95 703.5 340.98 704.83 340.2 706 C339.42 707.17 338.48 707.95 337.7 709 C336.92 710.05 335.87 711.75 335.5 712.3 L334.9 712.3 C334.53 711.75 333.48 710.05 332.7 709 C331.92 707.95 330.98 707.17 330.2 706 C329.42 704.83 328.45 703.5 328 702 C327.55 700.5 327.4 698.67 327.5 697 C327.6 695.33 328.15 693.83 328.6 692 C329.05 690.17 329.63 688 330.2 686 C330.77 684 331.37 682.33 332 680 C332.63 677.67 333.57 674.5 334 672 C334.43 669.5 334.43 667.23 334.6 665 C334.77 662.77 334.93 659.67 335 658.6 Z" fill="none" stroke="#555" stroke-width="0.6"/>
<rect x="332.4" y="689.9" width="5.7" height="11.8" fill="none" stroke="#444" stroke-width="0.6"/>
<line x1="332.4" y1="696.3" x2="338.1" y2="696.3" stroke="#444" stroke-width="0.6"/>
<line x1="335.2" y1="676" x2="335.2" y2="689.9" stroke="#444" stroke-width="0.5"/>
<line x1="335.2" y1="701.7" x2="335.2" y2="708" stroke="#444" stroke-width="0.5"/>
<path d="M365.7 672.8 C365.8 673.67 366 676.13 366.3 678 C366.6 679.87 367.03 682 367.5 684 C367.97 686 368.52 688.17 369.1 690 C369.68 691.83 370.18 693.5 371 695 C371.82 696.5 372.92 697.83 374 699 C375.08 700.17 376.47 701.08 377.5 702 C378.53 702.92 380.37 703.75 380.2 704.5 C380.03 705.25 378.12 705.92 376.5 706.5 C374.88 707.08 372.27 707.48 370.5 708 C368.73 708.52 366.67 709.33 365.9 709.6 L365.1 709.6 C364.33 709.33 362.27 708.52 360.5 708 C358.73 707.48 356.12 707.08 354.5 706.5 C352.88 705.92 350.97 705.25 350.8 704.5 C350.63 703.75 352.47 702.92 353.5 702 C354.53 701.08 355.92 700.17 357 699 C358.08 697.83 359.18 696.5 360 695 C360.82 693.5 361.32 691.83 361.9 690 C362.48 688.17 363.03 686 363.5 684 C363.97 682 364.4 679.87 364.7 678 C365 676.13 365.2 673.67 365.3 672.8 Z" fill="none" stroke="#b28cf5" stroke-width="0.7"/>
<rect x="363" y="696.5" width="5.1" height="8.1" fill="none" stroke="#b28cf5" stroke-width="0.6"/>
<line x1="363" y1="700.2" x2="368.1" y2="700.2" stroke="#b28cf5" stroke-width="0.6"/>
<line x1="365.5" y1="688" x2="365.5" y2="696.5" stroke="#b28cf5" stroke-width="0.5"/>
<text x="416.99" y="660.4" font-size="14.5" font-weight="bold" stroke="#231f20" stroke-width="0.240">l</text>
<text x="518" y="649.9" font-size="8.3" text-anchor="middle" stroke="#231f20" stroke-width="0.240">sWAT (Cold)</text>
<text x="483.8" y="670.3" font-size="8.3" text-anchor="middle" stroke="#231f20" stroke-width="0.240">PBS</text>
<text x="552.5" y="670.1" font-size="8.3" text-anchor="middle" stroke="#231f20" stroke-width="0.240">NB21-mFc</text>
<rect x="449" y="676.8" width="137" height="14.3" fill="#fbfbfb"/>
<rect x="451.05" y="681.45" width="18.5" height="5" rx="2.5" fill="rgb(224,224,224)" filter="url(#bl1)"/>
<rect x="473.55" y="680.95" width="18.5" height="6" rx="3" fill="rgb(114,114,114)" filter="url(#bl1)"/>
<rect x="496.05" y="681.45" width="18.5" height="5" rx="2.5" fill="rgb(153,153,153)" filter="url(#bl1)"/>
<rect x="519.55" y="680.7" width="18.5" height="6.5" rx="3" fill="rgb(63,63,63)" filter="url(#bl1)"/>
<rect x="542.25" y="679.95" width="18.5" height="8" rx="3" fill="rgb(0,0,0)" filter="url(#bl1)"/>
<rect x="564.95" y="680.2" width="18.5" height="7.5" rx="3" fill="rgb(0,0,0)" filter="url(#bl1)"/>
<rect x="449" y="676.8" width="137" height="14.3" fill="none" stroke="#2a2a2a" stroke-width="0.8"/>
<text x="446" y="686.45" font-size="7" text-anchor="end" stroke="#231f20" stroke-width="0.210">UCP1</text>
<text x="589.3" y="686.45" font-size="7" stroke="#231f20" stroke-width="0.210">33KD</text>
<rect x="449" y="698.7" width="137" height="6.7" fill="#fbfbfb"/>
<rect x="451.05" y="700.85" width="18.5" height="2.4" rx="1.2" fill="rgb(153,153,153)" filter="url(#bl1)"/>
<rect x="473.55" y="700.85" width="18.5" height="2.4" rx="1.2" fill="rgb(127,127,127)" filter="url(#bl1)"/>
<rect x="496.05" y="700.85" width="18.5" height="2.4" rx="1.2" fill="rgb(89,89,89)" filter="url(#bl1)"/>
<rect x="519.55" y="700.85" width="18.5" height="2.4" rx="1.2" fill="rgb(25,25,25)" filter="url(#bl1)"/>
<rect x="542.25" y="700.85" width="18.5" height="2.4" rx="1.2" fill="rgb(38,38,38)" filter="url(#bl1)"/>
<rect x="564.95" y="700.85" width="18.5" height="2.4" rx="1.2" fill="rgb(0,0,0)" filter="url(#bl1)"/>
<rect x="449" y="698.7" width="137" height="6.7" fill="none" stroke="#2a2a2a" stroke-width="0.8"/>
<text x="446" y="704.55" font-size="7" text-anchor="end" stroke="#231f20" stroke-width="0.210">UQCRC2</text>
<text x="589.3" y="704.55" font-size="7" stroke="#231f20" stroke-width="0.210">48KD</text>
<rect x="449" y="713.6" width="137" height="7.7" fill="#fbfbfb"/>
<rect x="451.05" y="715.55" width="18.5" height="3.8" rx="1.9" fill="rgb(204,204,204)" filter="url(#bl1)"/>
<rect x="473.55" y="715.55" width="18.5" height="3.8" rx="1.9" fill="rgb(153,153,153)" filter="url(#bl1)"/>
<rect x="496.05" y="715.55" width="18.5" height="3.8" rx="1.9" fill="rgb(102,102,102)" filter="url(#bl1)"/>
<rect x="519.55" y="715.55" width="18.5" height="3.8" rx="1.9" fill="rgb(30,30,30)" filter="url(#bl1)"/>
<rect x="542.25" y="715.55" width="18.5" height="3.8" rx="1.9" fill="rgb(0,0,0)" filter="url(#bl1)"/>
<rect x="564.95" y="715.55" width="18.5" height="3.8" rx="1.9" fill="rgb(12,12,12)" filter="url(#bl1)"/>
<rect x="449" y="713.6" width="137" height="7.7" fill="none" stroke="#2a2a2a" stroke-width="0.8"/>
<text x="446" y="719.95" font-size="7" text-anchor="end" stroke="#231f20" stroke-width="0.210">MTCO1</text>
<text x="589.3" y="719.95" font-size="7" stroke="#231f20" stroke-width="0.210">40KD</text>
<rect x="449" y="729.3" width="137" height="7.4" fill="#fbfbfb"/>
<rect x="451.05" y="731.8" width="18.5" height="2.4" rx="1.2" fill="rgb(239,239,239)" filter="url(#bl1)"/>
<rect x="473.55" y="731.8" width="18.5" height="2.4" rx="1.2" fill="rgb(242,242,242)" filter="url(#bl1)"/>
<rect x="496.05" y="731.8" width="18.5" height="2.4" rx="1.2" fill="rgb(234,234,234)" filter="url(#bl1)"/>
<rect x="519.55" y="731.8" width="18.5" height="2.4" rx="1.2" fill="rgb(204,204,204)" filter="url(#bl1)"/>
<rect x="542.25" y="731.8" width="18.5" height="2.4" rx="1.2" fill="rgb(158,158,158)" filter="url(#bl1)"/>
<rect x="564.95" y="731.8" width="18.5" height="2.4" rx="1.2" fill="rgb(209,209,209)" filter="url(#bl1)"/>
<rect x="449" y="729.3" width="137" height="7.4" fill="none" stroke="#2a2a2a" stroke-width="0.8"/>
<text x="446" y="735.5" font-size="7" text-anchor="end" stroke="#231f20" stroke-width="0.210">NDUFB8</text>
<text x="589.3" y="735.5" font-size="7" stroke="#231f20" stroke-width="0.210">20KD</text>
<rect x="449" y="744.6" width="137" height="12.3" fill="#fbfbfb"/>
<rect x="451.05" y="747.75" width="18.5" height="6" rx="3" fill="rgb(0,0,0)" filter="url(#bl1)"/>
<rect x="473.55" y="747.75" width="18.5" height="6" rx="3" fill="rgb(0,0,0)" filter="url(#bl1)"/>
<rect x="496.05" y="747.75" width="18.5" height="6" rx="3" fill="rgb(0,0,0)" filter="url(#bl1)"/>
<rect x="519.55" y="747.75" width="18.5" height="6" rx="3" fill="rgb(0,0,0)" filter="url(#bl1)"/>
<rect x="542.25" y="747.75" width="18.5" height="6" rx="3" fill="rgb(0,0,0)" filter="url(#bl1)"/>
<rect x="564.95" y="747.75" width="18.5" height="6" rx="3" fill="rgb(0,0,0)" filter="url(#bl1)"/>
<rect x="449" y="744.6" width="137" height="12.3" fill="none" stroke="#2a2a2a" stroke-width="0.8"/>
<text x="446" y="753.25" font-size="7" text-anchor="end" stroke="#231f20" stroke-width="0.210">HSP90</text>
<text x="589.3" y="753.25" font-size="7" stroke="#231f20" stroke-width="0.210">90KD</text>
<line x1="517.5" y1="660.4" x2="517.5" y2="774" stroke="#444" stroke-width="0.8" stroke-dasharray="3.5 2.5"/>
<text x="3.89" y="815.1" font-size="14.5" font-weight="bold" stroke="#231f20" stroke-width="0.240">k</text>
<text x="190.9" y="808.8" font-size="8.3" text-anchor="middle" stroke="#231f20" stroke-width="0.240">sWAT (Cold)</text>
<text x="54.3" y="873.3" font-size="8.3" text-anchor="middle" transform="rotate(-90 54.3 873.3)" textLength="97" lengthAdjust="spacingAndGlyphs" stroke="#231f20" stroke-width="0.240">Relative mRNA expression</text>
<line x1="70.1" y1="822.2" x2="70.1" y2="923.4" stroke="#3a3a3a" stroke-width="0.8"/>
<line x1="66.5" y1="923.4" x2="70.1" y2="923.4" stroke="#3a3a3a" stroke-width="0.8"/>
<text x="65.2" y="925.8" font-size="6.8" text-anchor="end" stroke="#231f20" stroke-width="0.204">0</text>
<line x1="66.5" y1="898.18" x2="70.1" y2="898.18" stroke="#3a3a3a" stroke-width="0.8"/>
<text x="65.2" y="900.58" font-size="6.8" text-anchor="end" stroke="#231f20" stroke-width="0.204">1</text>
<line x1="66.5" y1="872.96" x2="70.1" y2="872.96" stroke="#3a3a3a" stroke-width="0.8"/>
<text x="65.2" y="875.36" font-size="6.8" text-anchor="end" stroke="#231f20" stroke-width="0.204">2</text>
<line x1="66.5" y1="847.74" x2="70.1" y2="847.74" stroke="#3a3a3a" stroke-width="0.8"/>
<text x="65.2" y="850.14" font-size="6.8" text-anchor="end" stroke="#231f20" stroke-width="0.204">3</text>
<line x1="66.5" y1="822.52" x2="70.1" y2="822.52" stroke="#3a3a3a" stroke-width="0.8"/>
<text x="65.2" y="824.92" font-size="6.8" text-anchor="end" stroke="#231f20" stroke-width="0.204">4</text>
<line x1="70.1" y1="923.4" x2="312.1" y2="923.4" stroke="#3a3a3a" stroke-width="0.8"/>
<rect x="75.3" y="898.18" width="9.7" height="25.22" fill="#dfe0ef" stroke="#3a3a3a" stroke-width="0.8"/>
<line x1="80.2" y1="903.22" x2="80.2" y2="893.14" stroke="#222" stroke-width="0.8"/>
<line x1="77.8" y1="903.22" x2="82.6" y2="903.22" stroke="#222" stroke-width="0.8"/>
<line x1="77.8" y1="893.14" x2="82.6" y2="893.14" stroke="#222" stroke-width="0.8"/>
<path d="M80.03 914.57a1.08 1.08 0 1 0 2.16 0a1.08 1.08 0 1 0 -2.16 0M76.75 908.27a1.08 1.08 0 1 0 2.16 0a1.08 1.08 0 1 0 -2.16 0M78.31 889.35a1.08 1.08 0 1 0 2.16 0a1.08 1.08 0 1 0 -2.16 0M79.87 889.35a1.08 1.08 0 1 0 2.16 0a1.08 1.08 0 1 0 -2.16 0M78.00 883.05a1.08 1.08 0 1 0 2.16 0a1.08 1.08 0 1 0 -2.16 0M81.46 883.05a1.08 1.08 0 1 0 2.16 0a1.08 1.08 0 1 0 -2.16 0" fill="#111"/>
<rect x="87.6" y="863.38" width="9.3" height="60.02" fill="#cda9f7" stroke="#3a3a3a" stroke-width="0.8"/>
<line x1="92.2" y1="870.94" x2="92.2" y2="855.81" stroke="#222" stroke-width="0.8"/>
<line x1="89.8" y1="870.94" x2="94.6" y2="870.94" stroke="#222" stroke-width="0.8"/>
<line x1="89.8" y1="855.81" x2="94.6" y2="855.81" stroke="#222" stroke-width="0.8"/>
<path d="M89.34 886.83a1.08 1.08 0 1 0 2.16 0a1.08 1.08 0 1 0 -2.16 0M90.54 886.83a1.08 1.08 0 1 0 2.16 0a1.08 1.08 0 1 0 -2.16 0M91.59 859.09a1.08 1.08 0 1 0 2.16 0a1.08 1.08 0 1 0 -2.16 0M91.06 849.00a1.08 1.08 0 1 0 2.16 0a1.08 1.08 0 1 0 -2.16 0M89.43 849.00a1.08 1.08 0 1 0 2.16 0a1.08 1.08 0 1 0 -2.16 0M89.65 846.48a1.08 1.08 0 1 0 2.16 0a1.08 1.08 0 1 0 -2.16 0" fill="#111"/>
<line x1="86.2" y1="923.4" x2="86.2" y2="927" stroke="#3a3a3a" stroke-width="0.8"/>
<text x="89.2" y="931.6" font-size="7.2" text-anchor="end" font-style="italic" transform="rotate(-45 89.2 931.6)" stroke="#231f20" stroke-width="0.216">Ucp1</text>
<rect x="105.25" y="898.18" width="9.7" height="25.22" fill="#dfe0ef" stroke="#3a3a3a" stroke-width="0.8"/>
<line x1="110.15" y1="903.22" x2="110.15" y2="893.14" stroke="#222" stroke-width="0.8"/>
<line x1="107.75" y1="903.22" x2="112.55" y2="903.22" stroke="#222" stroke-width="0.8"/>
<line x1="107.75" y1="893.14" x2="112.55" y2="893.14" stroke="#222" stroke-width="0.8"/>
<path d="M109.83 915.83a1.08 1.08 0 1 0 2.16 0a1.08 1.08 0 1 0 -2.16 0M107.77 909.53a1.08 1.08 0 1 0 2.16 0a1.08 1.08 0 1 0 -2.16 0M108.60 891.88a1.08 1.08 0 1 0 2.16 0a1.08 1.08 0 1 0 -2.16 0M106.72 894.40a1.08 1.08 0 1 0 2.16 0a1.08 1.08 0 1 0 -2.16 0M108.15 884.31a1.08 1.08 0 1 0 2.16 0a1.08 1.08 0 1 0 -2.16 0M107.99 893.14a1.08 1.08 0 1 0 2.16 0a1.08 1.08 0 1 0 -2.16 0" fill="#111"/>
<rect x="117.55" y="873.97" width="9.3" height="49.43" fill="#cda9f7" stroke="#3a3a3a" stroke-width="0.8"/>
<line x1="122.15" y1="879.01" x2="122.15" y2="868.92" stroke="#222" stroke-width="0.8"/>
<line x1="119.75" y1="879.01" x2="124.55" y2="879.01" stroke="#222" stroke-width="0.8"/>
<line x1="119.75" y1="868.92" x2="124.55" y2="868.92" stroke="#222" stroke-width="0.8"/>
<path d="M120.79 890.61a1.08 1.08 0 1 0 2.16 0a1.08 1.08 0 1 0 -2.16 0M118.78 880.53a1.08 1.08 0 1 0 2.16 0a1.08 1.08 0 1 0 -2.16 0M122.39 875.48a1.08 1.08 0 1 0 2.16 0a1.08 1.08 0 1 0 -2.16 0M122.26 865.39a1.08 1.08 0 1 0 2.16 0a1.08 1.08 0 1 0 -2.16 0M121.41 861.61a1.08 1.08 0 1 0 2.16 0a1.08 1.08 0 1 0 -2.16 0M122.18 867.92a1.08 1.08 0 1 0 2.16 0a1.08 1.08 0 1 0 -2.16 0" fill="#111"/>
<line x1="116.15" y1="923.4" x2="116.15" y2="927" stroke="#3a3a3a" stroke-width="0.8"/>
<text x="119.15" y="931.6" font-size="7.2" text-anchor="end" font-style="italic" transform="rotate(-45 119.15 931.6)" stroke="#231f20" stroke-width="0.216">Cidea</text>
<rect x="135.2" y="898.18" width="9.7" height="25.22" fill="#dfe0ef" stroke="#3a3a3a" stroke-width="0.8"/>
<line x1="140.1" y1="903.22" x2="140.1" y2="893.14" stroke="#222" stroke-width="0.8"/>
<line x1="137.7" y1="903.22" x2="142.5" y2="903.22" stroke="#222" stroke-width="0.8"/>
<line x1="137.7" y1="893.14" x2="142.5" y2="893.14" stroke="#222" stroke-width="0.8"/>
<path d="M139.45 918.36a1.08 1.08 0 1 0 2.16 0a1.08 1.08 0 1 0 -2.16 0M139.74 909.53a1.08 1.08 0 1 0 2.16 0a1.08 1.08 0 1 0 -2.16 0M140.56 895.66a1.08 1.08 0 1 0 2.16 0a1.08 1.08 0 1 0 -2.16 0M140.94 893.14a1.08 1.08 0 1 0 2.16 0a1.08 1.08 0 1 0 -2.16 0M138.24 885.57a1.08 1.08 0 1 0 2.16 0a1.08 1.08 0 1 0 -2.16 0M138.02 899.44a1.08 1.08 0 1 0 2.16 0a1.08 1.08 0 1 0 -2.16 0" fill="#111"/>
<rect x="147.5" y="877.25" width="9.3" height="46.15" fill="#cda9f7" stroke="#3a3a3a" stroke-width="0.8"/>
<line x1="152.1" y1="882.29" x2="152.1" y2="872.2" stroke="#222" stroke-width="0.8"/>
<line x1="149.7" y1="882.29" x2="154.5" y2="882.29" stroke="#222" stroke-width="0.8"/>
<line x1="149.7" y1="872.2" x2="154.5" y2="872.2" stroke="#222" stroke-width="0.8"/>
<path d="M151.56 884.31a1.08 1.08 0 1 0 2.16 0a1.08 1.08 0 1 0 -2.16 0M150.36 883.05a1.08 1.08 0 1 0 2.16 0a1.08 1.08 0 1 0 -2.16 0M152.91 879.26a1.08 1.08 0 1 0 2.16 0a1.08 1.08 0 1 0 -2.16 0M152.12 876.74a1.08 1.08 0 1 0 2.16 0a1.08 1.08 0 1 0 -2.16 0M150.62 878.00a1.08 1.08 0 1 0 2.16 0a1.08 1.08 0 1 0 -2.16 0M152.98 854.04a1.08 1.08 0 1 0 2.16 0a1.08 1.08 0 1 0 -2.16 0" fill="#111"/>
<line x1="146.1" y1="923.4" x2="146.1" y2="927" stroke="#3a3a3a" stroke-width="0.8"/>
<text x="149.1" y="931.6" font-size="7.2" text-anchor="end" font-style="italic" transform="rotate(-45 149.1 931.6)" stroke="#231f20" stroke-width="0.216">Dio2</text>
<rect x="165.15" y="898.18" width="9.7" height="25.22" fill="#dfe0ef" stroke="#3a3a3a" stroke-width="0.8"/>
<line x1="170.05" y1="901.21" x2="170.05" y2="895.15" stroke="#222" stroke-width="0.8"/>
<line x1="167.65" y1="901.21" x2="172.45" y2="901.21" stroke="#222" stroke-width="0.8"/>
<line x1="167.65" y1="895.15" x2="172.45" y2="895.15" stroke="#222" stroke-width="0.8"/>
<path d="M166.47 909.53a1.08 1.08 0 1 0 2.16 0a1.08 1.08 0 1 0 -2.16 0M168.75 903.22a1.08 1.08 0 1 0 2.16 0a1.08 1.08 0 1 0 -2.16 0M167.25 898.18a1.08 1.08 0 1 0 2.16 0a1.08 1.08 0 1 0 -2.16 0M170.75 894.40a1.08 1.08 0 1 0 2.16 0a1.08 1.08 0 1 0 -2.16 0M167.02 891.88a1.08 1.08 0 1 0 2.16 0a1.08 1.08 0 1 0 -2.16 0M170.23 893.14a1.08 1.08 0 1 0 2.16 0a1.08 1.08 0 1 0 -2.16 0" fill="#111"/>
<rect x="177.45" y="888.09" width="9.3" height="35.31" fill="#cda9f7" stroke="#3a3a3a" stroke-width="0.8"/>
<line x1="182.05" y1="895.15" x2="182.05" y2="881.03" stroke="#222" stroke-width="0.8"/>
<line x1="179.65" y1="895.15" x2="184.45" y2="895.15" stroke="#222" stroke-width="0.8"/>
<line x1="179.65" y1="881.03" x2="184.45" y2="881.03" stroke="#222" stroke-width="0.8"/>
<path d="M182.78 903.22a1.08 1.08 0 1 0 2.16 0a1.08 1.08 0 1 0 -2.16 0M179.28 901.96a1.08 1.08 0 1 0 2.16 0a1.08 1.08 0 1 0 -2.16 0M179.78 890.61a1.08 1.08 0 1 0 2.16 0a1.08 1.08 0 1 0 -2.16 0M183.16 880.53a1.08 1.08 0 1 0 2.16 0a1.08 1.08 0 1 0 -2.16 0M181.75 871.70a1.08 1.08 0 1 0 2.16 0a1.08 1.08 0 1 0 -2.16 0M180.02 866.65a1.08 1.08 0 1 0 2.16 0a1.08 1.08 0 1 0 -2.16 0" fill="#111"/>
<line x1="176.05" y1="923.4" x2="176.05" y2="927" stroke="#3a3a3a" stroke-width="0.8"/>
<text x="179.05" y="931.6" font-size="7.2" text-anchor="end" font-style="italic" transform="rotate(-45 179.05 931.6)" stroke="#231f20" stroke-width="0.216">Prdm16</text>
<rect x="195.1" y="898.18" width="9.7" height="25.22" fill="#dfe0ef" stroke="#3a3a3a" stroke-width="0.8"/>
<line x1="200" y1="901.96" x2="200" y2="894.4" stroke="#222" stroke-width="0.8"/>
<line x1="197.6" y1="901.96" x2="202.4" y2="901.96" stroke="#222" stroke-width="0.8"/>
<line x1="197.6" y1="894.4" x2="202.4" y2="894.4" stroke="#222" stroke-width="0.8"/>
<path d="M198.48 909.53a1.08 1.08 0 1 0 2.16 0a1.08 1.08 0 1 0 -2.16 0M197.17 901.96a1.08 1.08 0 1 0 2.16 0a1.08 1.08 0 1 0 -2.16 0M197.34 898.18a1.08 1.08 0 1 0 2.16 0a1.08 1.08 0 1 0 -2.16 0M197.35 894.40a1.08 1.08 0 1 0 2.16 0a1.08 1.08 0 1 0 -2.16 0M200.75 890.61a1.08 1.08 0 1 0 2.16 0a1.08 1.08 0 1 0 -2.16 0M199.90 884.31a1.08 1.08 0 1 0 2.16 0a1.08 1.08 0 1 0 -2.16 0" fill="#111"/>
<rect x="207.4" y="875.48" width="9.3" height="47.92" fill="#cda9f7" stroke="#3a3a3a" stroke-width="0.8"/>
<line x1="212" y1="883.05" x2="212" y2="867.92" stroke="#222" stroke-width="0.8"/>
<line x1="209.6" y1="883.05" x2="214.4" y2="883.05" stroke="#222" stroke-width="0.8"/>
<line x1="209.6" y1="867.92" x2="214.4" y2="867.92" stroke="#222" stroke-width="0.8"/>
<path d="M208.85 895.66a1.08 1.08 0 1 0 2.16 0a1.08 1.08 0 1 0 -2.16 0M210.02 883.05a1.08 1.08 0 1 0 2.16 0a1.08 1.08 0 1 0 -2.16 0M211.34 878.00a1.08 1.08 0 1 0 2.16 0a1.08 1.08 0 1 0 -2.16 0M208.38 875.48a1.08 1.08 0 1 0 2.16 0a1.08 1.08 0 1 0 -2.16 0M209.45 871.70a1.08 1.08 0 1 0 2.16 0a1.08 1.08 0 1 0 -2.16 0M211.95 845.22a1.08 1.08 0 1 0 2.16 0a1.08 1.08 0 1 0 -2.16 0" fill="#111"/>
<line x1="206" y1="923.4" x2="206" y2="927" stroke="#3a3a3a" stroke-width="0.8"/>
<text x="209" y="931.6" font-size="7.2" text-anchor="end" font-style="italic" transform="rotate(-45 209 931.6)" stroke="#231f20" stroke-width="0.216">Pgc1α</text>
<rect x="225.05" y="898.18" width="9.7" height="25.22" fill="#dfe0ef" stroke="#3a3a3a" stroke-width="0.8"/>
<line x1="229.95" y1="901.21" x2="229.95" y2="895.15" stroke="#222" stroke-width="0.8"/>
<line x1="227.55" y1="901.21" x2="232.35" y2="901.21" stroke="#222" stroke-width="0.8"/>
<line x1="227.55" y1="895.15" x2="232.35" y2="895.15" stroke="#222" stroke-width="0.8"/>
<path d="M227.70 905.75a1.08 1.08 0 1 0 2.16 0a1.08 1.08 0 1 0 -2.16 0M228.23 901.96a1.08 1.08 0 1 0 2.16 0a1.08 1.08 0 1 0 -2.16 0M226.49 898.18a1.08 1.08 0 1 0 2.16 0a1.08 1.08 0 1 0 -2.16 0M226.66 896.92a1.08 1.08 0 1 0 2.16 0a1.08 1.08 0 1 0 -2.16 0M227.59 894.40a1.08 1.08 0 1 0 2.16 0a1.08 1.08 0 1 0 -2.16 0M226.42 893.14a1.08 1.08 0 1 0 2.16 0a1.08 1.08 0 1 0 -2.16 0" fill="#111"/>
<rect x="237.35" y="888.6" width="9.3" height="34.8" fill="#cda9f7" stroke="#3a3a3a" stroke-width="0.8"/>
<line x1="241.95" y1="891.62" x2="241.95" y2="885.57" stroke="#222" stroke-width="0.8"/>
<line x1="239.55" y1="891.62" x2="244.35" y2="891.62" stroke="#222" stroke-width="0.8"/>
<line x1="239.55" y1="885.57" x2="244.35" y2="885.57" stroke="#222" stroke-width="0.8"/>
<path d="M239.18 893.14a1.08 1.08 0 1 0 2.16 0a1.08 1.08 0 1 0 -2.16 0M240.68 890.61a1.08 1.08 0 1 0 2.16 0a1.08 1.08 0 1 0 -2.16 0M242.45 888.09a1.08 1.08 0 1 0 2.16 0a1.08 1.08 0 1 0 -2.16 0M241.66 885.57a1.08 1.08 0 1 0 2.16 0a1.08 1.08 0 1 0 -2.16 0M242.97 884.31a1.08 1.08 0 1 0 2.16 0a1.08 1.08 0 1 0 -2.16 0M241.58 880.53a1.08 1.08 0 1 0 2.16 0a1.08 1.08 0 1 0 -2.16 0" fill="#111"/>
<line x1="235.95" y1="923.4" x2="235.95" y2="927" stroke="#3a3a3a" stroke-width="0.8"/>
<text x="238.95" y="931.6" font-size="7.2" text-anchor="end" font-style="italic" transform="rotate(-45 238.95 931.6)" stroke="#231f20" stroke-width="0.216">Ndufa8</text>
<rect x="255" y="898.18" width="9.7" height="25.22" fill="#dfe0ef" stroke="#3a3a3a" stroke-width="0.8"/>
<line x1="259.9" y1="903.22" x2="259.9" y2="893.14" stroke="#222" stroke-width="0.8"/>
<line x1="257.5" y1="903.22" x2="262.3" y2="903.22" stroke="#222" stroke-width="0.8"/>
<line x1="257.5" y1="893.14" x2="262.3" y2="893.14" stroke="#222" stroke-width="0.8"/>
<path d="M259.00 915.83a1.08 1.08 0 1 0 2.16 0a1.08 1.08 0 1 0 -2.16 0M257.86 908.27a1.08 1.08 0 1 0 2.16 0a1.08 1.08 0 1 0 -2.16 0M256.80 901.96a1.08 1.08 0 1 0 2.16 0a1.08 1.08 0 1 0 -2.16 0M259.73 894.40a1.08 1.08 0 1 0 2.16 0a1.08 1.08 0 1 0 -2.16 0M258.82 884.31a1.08 1.08 0 1 0 2.16 0a1.08 1.08 0 1 0 -2.16 0M258.73 883.05a1.08 1.08 0 1 0 2.16 0a1.08 1.08 0 1 0 -2.16 0" fill="#111"/>
<rect x="267.3" y="867.92" width="9.3" height="55.48" fill="#cda9f7" stroke="#3a3a3a" stroke-width="0.8"/>
<line x1="271.9" y1="874.22" x2="271.9" y2="861.61" stroke="#222" stroke-width="0.8"/>
<line x1="269.5" y1="874.22" x2="274.3" y2="874.22" stroke="#222" stroke-width="0.8"/>
<line x1="269.5" y1="861.61" x2="274.3" y2="861.61" stroke="#222" stroke-width="0.8"/>
<path d="M271.34 886.83a1.08 1.08 0 1 0 2.16 0a1.08 1.08 0 1 0 -2.16 0M270.90 883.05a1.08 1.08 0 1 0 2.16 0a1.08 1.08 0 1 0 -2.16 0M272.84 869.18a1.08 1.08 0 1 0 2.16 0a1.08 1.08 0 1 0 -2.16 0M268.89 861.61a1.08 1.08 0 1 0 2.16 0a1.08 1.08 0 1 0 -2.16 0M269.31 861.61a1.08 1.08 0 1 0 2.16 0a1.08 1.08 0 1 0 -2.16 0M272.85 851.52a1.08 1.08 0 1 0 2.16 0a1.08 1.08 0 1 0 -2.16 0" fill="#111"/>
<line x1="265.9" y1="923.4" x2="265.9" y2="927" stroke="#3a3a3a" stroke-width="0.8"/>
<text x="268.9" y="931.6" font-size="7.2" text-anchor="end" font-style="italic" transform="rotate(-45 268.9 931.6)" stroke="#231f20" stroke-width="0.216">Cox7a1</text>
<rect x="284.95" y="898.18" width="9.7" height="25.22" fill="#dfe0ef" stroke="#3a3a3a" stroke-width="0.8"/>
<line x1="289.85" y1="902.72" x2="289.85" y2="893.64" stroke="#222" stroke-width="0.8"/>
<line x1="287.45" y1="902.72" x2="292.25" y2="902.72" stroke="#222" stroke-width="0.8"/>
<line x1="287.45" y1="893.64" x2="292.25" y2="893.64" stroke="#222" stroke-width="0.8"/>
<path d="M286.20 915.83a1.08 1.08 0 1 0 2.16 0a1.08 1.08 0 1 0 -2.16 0M288.00 905.75a1.08 1.08 0 1 0 2.16 0a1.08 1.08 0 1 0 -2.16 0M286.20 898.18a1.08 1.08 0 1 0 2.16 0a1.08 1.08 0 1 0 -2.16 0M289.76 894.40a1.08 1.08 0 1 0 2.16 0a1.08 1.08 0 1 0 -2.16 0M288.95 890.61a1.08 1.08 0 1 0 2.16 0a1.08 1.08 0 1 0 -2.16 0M286.87 890.61a1.08 1.08 0 1 0 2.16 0a1.08 1.08 0 1 0 -2.16 0" fill="#111"/>
<rect x="297.25" y="872.96" width="9.3" height="50.44" fill="#cda9f7" stroke="#3a3a3a" stroke-width="0.8"/>
<line x1="301.85" y1="878" x2="301.85" y2="867.92" stroke="#222" stroke-width="0.8"/>
<line x1="299.45" y1="878" x2="304.25" y2="878" stroke="#222" stroke-width="0.8"/>
<line x1="299.45" y1="867.92" x2="304.25" y2="867.92" stroke="#222" stroke-width="0.8"/>
<path d="M301.55 888.09a1.08 1.08 0 1 0 2.16 0a1.08 1.08 0 1 0 -2.16 0M301.71 888.09a1.08 1.08 0 1 0 2.16 0a1.08 1.08 0 1 0 -2.16 0M299.15 875.48a1.08 1.08 0 1 0 2.16 0a1.08 1.08 0 1 0 -2.16 0M300.25 871.70a1.08 1.08 0 1 0 2.16 0a1.08 1.08 0 1 0 -2.16 0M301.32 859.09a1.08 1.08 0 1 0 2.16 0a1.08 1.08 0 1 0 -2.16 0M300.92 857.83a1.08 1.08 0 1 0 2.16 0a1.08 1.08 0 1 0 -2.16 0" fill="#111"/>
<line x1="295.85" y1="923.4" x2="295.85" y2="927" stroke="#3a3a3a" stroke-width="0.8"/>
<text x="298.85" y="931.6" font-size="7.2" text-anchor="end" font-style="italic" transform="rotate(-45 298.85 931.6)" stroke="#231f20" stroke-width="0.216">Cox8b</text>
<text x="72.2" y="835.1" font-size="5.9" textLength="27.8" lengthAdjust="spacingAndGlyphs" stroke="#231f20" stroke-width="0.177"><tspan font-style="italic">P</tspan> = 0.0041</text>
<path d="M79.7 845.8 L79.7 840.5 L92 840.5 L92 845.8" fill="none" stroke="#333" stroke-width="0.8"/>
<text x="101.6" y="849.1" font-size="5.9" textLength="27.8" lengthAdjust="spacingAndGlyphs" stroke="#231f20" stroke-width="0.177"><tspan font-style="italic">P</tspan> = 0.0044</text>
<path d="M109.3 859.9 L109.3 854.3 L121.6 854.3 L121.6 859.9" fill="none" stroke="#333" stroke-width="0.8"/>
<text x="133.1" y="841.4" font-size="5.9" textLength="27.8" lengthAdjust="spacingAndGlyphs" stroke="#231f20" stroke-width="0.177"><tspan font-style="italic">P</tspan> = 0.0133</text>
<path d="M140.2 852 L140.2 846.6 L153.1 846.6 L153.1 852" fill="none" stroke="#333" stroke-width="0.8"/>
<text x="192.7" y="832.7" font-size="5.9" textLength="27.8" lengthAdjust="spacingAndGlyphs" stroke="#231f20" stroke-width="0.177"><tspan font-style="italic">P</tspan> = 0.0167</text>
<path d="M200.4 843.8 L200.4 837.8 L212.7 837.8 L212.7 843.8" fill="none" stroke="#333" stroke-width="0.8"/>
<text x="221.7" y="862.4" font-size="5.9" textLength="27.8" lengthAdjust="spacingAndGlyphs" stroke="#231f20" stroke-width="0.177"><tspan font-style="italic">P</tspan> = 0.0202</text>
<path d="M229.1 872.9 L229.1 866.9 L242 866.9 L242 872.9" fill="none" stroke="#333" stroke-width="0.8"/>
<text x="251.9" y="837.9" font-size="5.9" textLength="27.8" lengthAdjust="spacingAndGlyphs" stroke="#231f20" stroke-width="0.177"><tspan font-style="italic">P</tspan> = 0.0028</text>
<path d="M259.6 849 L259.6 843.1 L271.8 843.1 L271.8 849" fill="none" stroke="#333" stroke-width="0.8"/>
<text x="282.3" y="843.9" font-size="5.9" textLength="27.8" lengthAdjust="spacingAndGlyphs" stroke="#231f20" stroke-width="0.177"><tspan font-style="italic">P</tspan> = 0.0034</text>
<path d="M290.4 854.6 L290.4 849 L302.3 849 L302.3 854.6" fill="none" stroke="#333" stroke-width="0.8"/>
<text x="446.7" y="873.8" font-size="8.4" text-anchor="middle" transform="rotate(-90 446.7 873.8)" textLength="100.8" lengthAdjust="spacingAndGlyphs" stroke="#231f20" stroke-width="0.240">Relative protein expression</text>
<line x1="466.2" y1="822.5" x2="466.2" y2="867" stroke="#3a3a3a" stroke-width="0.8"/>
<line x1="466.2" y1="876" x2="466.2" y2="921" stroke="#3a3a3a" stroke-width="0.8"/>
<line x1="463.6" y1="864.3" x2="468.8" y2="869.8" stroke="#3a3a3a" stroke-width="1"/>
<line x1="463.6" y1="873.1" x2="468.8" y2="878.6" stroke="#3a3a3a" stroke-width="1"/>
<line x1="462.8" y1="822.8" x2="466.2" y2="822.8" stroke="#3a3a3a" stroke-width="0.8"/>
<text x="460.2" y="825.4" font-size="7.2" text-anchor="end" stroke="#231f20" stroke-width="0.216">12</text>
<line x1="462.8" y1="833.9" x2="466.2" y2="833.9" stroke="#3a3a3a" stroke-width="0.8"/>
<text x="460.2" y="836.5" font-size="7.2" text-anchor="end" stroke="#231f20" stroke-width="0.216">10</text>
<line x1="462.8" y1="845" x2="466.2" y2="845" stroke="#3a3a3a" stroke-width="0.8"/>
<text x="460.2" y="847.6" font-size="7.2" text-anchor="end" stroke="#231f20" stroke-width="0.216">8</text>
<line x1="462.8" y1="856.1" x2="466.2" y2="856.1" stroke="#3a3a3a" stroke-width="0.8"/>
<text x="460.2" y="858.7" font-size="7.2" text-anchor="end" stroke="#231f20" stroke-width="0.216">6</text>
<text x="460.2" y="869.8" font-size="7.2" text-anchor="end" stroke="#231f20" stroke-width="0.216">4</text>
<text x="460.2" y="879.2" font-size="7.2" text-anchor="end" stroke="#231f20" stroke-width="0.216">4</text>
<line x1="462.8" y1="887.7" x2="466.2" y2="887.7" stroke="#3a3a3a" stroke-width="0.8"/>
<text x="460.2" y="890.3" font-size="7.2" text-anchor="end" stroke="#231f20" stroke-width="0.216">3</text>
<line x1="462.8" y1="898.8" x2="466.2" y2="898.8" stroke="#3a3a3a" stroke-width="0.8"/>
<text x="460.2" y="901.4" font-size="7.2" text-anchor="end" stroke="#231f20" stroke-width="0.216">2</text>
<line x1="462.8" y1="909.9" x2="466.2" y2="909.9" stroke="#3a3a3a" stroke-width="0.8"/>
<text x="460.2" y="912.5" font-size="7.2" text-anchor="end" stroke="#231f20" stroke-width="0.216">1</text>
<line x1="462.8" y1="921" x2="466.2" y2="921" stroke="#3a3a3a" stroke-width="0.8"/>
<text x="460.2" y="923.6" font-size="7.2" text-anchor="end" stroke="#231f20" stroke-width="0.216">0</text>
<line x1="466.2" y1="921" x2="584.6" y2="921" stroke="#3a3a3a" stroke-width="0.8"/>
<rect x="471.7" y="909.9" width="9.7" height="11.1" fill="#dfe0ef" stroke="#3a3a3a" stroke-width="0.8"/>
<line x1="476.6" y1="913.78" x2="476.6" y2="906.01" stroke="#222" stroke-width="0.8"/>
<line x1="474.2" y1="913.78" x2="479" y2="913.78" stroke="#222" stroke-width="0.8"/>
<line x1="474.2" y1="906.01" x2="479" y2="906.01" stroke="#222" stroke-width="0.8"/>
<path d="M476.30 915.45a1.08 1.08 0 1 0 2.16 0a1.08 1.08 0 1 0 -2.16 0M474.76 911.01a1.08 1.08 0 1 0 2.16 0a1.08 1.08 0 1 0 -2.16 0M476.43 903.79a1.08 1.08 0 1 0 2.16 0a1.08 1.08 0 1 0 -2.16 0" fill="#111"/>
<rect x="483.8" y="883.26" width="8.8" height="37.74" fill="#cda9f7" stroke="#3a3a3a" stroke-width="0.8"/>
<line x1="488.2" y1="888.25" x2="488.2" y2="878.26" stroke="#222" stroke-width="0.8"/>
<line x1="485.8" y1="888.25" x2="490.6" y2="888.25" stroke="#222" stroke-width="0.8"/>
<line x1="485.8" y1="878.26" x2="490.6" y2="878.26" stroke="#222" stroke-width="0.8"/>
<path d="M487.12 896.58a1.08 1.08 0 1 0 2.16 0a1.08 1.08 0 1 0 -2.16 0M488.24 878.82a1.08 1.08 0 1 0 2.16 0a1.08 1.08 0 1 0 -2.16 0M485.93 876.60a1.08 1.08 0 1 0 2.16 0a1.08 1.08 0 1 0 -2.16 0" fill="#111"/>
<line x1="482.6" y1="921" x2="482.6" y2="924.6" stroke="#3a3a3a" stroke-width="0.8"/>
<text x="485.6" y="929" font-size="7.2" text-anchor="end" transform="rotate(-45 485.6 929)" stroke="#231f20" stroke-width="0.216">UCP1</text>
<rect x="500.2" y="909.9" width="9.7" height="11.1" fill="#dfe0ef" stroke="#3a3a3a" stroke-width="0.8"/>
<line x1="505.1" y1="911.57" x2="505.1" y2="908.24" stroke="#222" stroke-width="0.8"/>
<line x1="502.7" y1="911.57" x2="507.5" y2="911.57" stroke="#222" stroke-width="0.8"/>
<line x1="502.7" y1="908.24" x2="507.5" y2="908.24" stroke="#222" stroke-width="0.8"/>
<path d="M505.04 911.57a1.08 1.08 0 1 0 2.16 0a1.08 1.08 0 1 0 -2.16 0M504.33 909.90a1.08 1.08 0 1 0 2.16 0a1.08 1.08 0 1 0 -2.16 0M503.55 907.12a1.08 1.08 0 1 0 2.16 0a1.08 1.08 0 1 0 -2.16 0" fill="#111"/>
<rect x="512.3" y="902.68" width="8.8" height="18.32" fill="#cda9f7" stroke="#3a3a3a" stroke-width="0.8"/>
<line x1="516.7" y1="904.35" x2="516.7" y2="901.02" stroke="#222" stroke-width="0.8"/>
<line x1="514.3" y1="904.35" x2="519.1" y2="904.35" stroke="#222" stroke-width="0.8"/>
<line x1="514.3" y1="901.02" x2="519.1" y2="901.02" stroke="#222" stroke-width="0.8"/>
<path d="M515.24 904.35a1.08 1.08 0 1 0 2.16 0a1.08 1.08 0 1 0 -2.16 0M514.76 902.13a1.08 1.08 0 1 0 2.16 0a1.08 1.08 0 1 0 -2.16 0M515.59 898.80a1.08 1.08 0 1 0 2.16 0a1.08 1.08 0 1 0 -2.16 0" fill="#111"/>
<line x1="511.1" y1="921" x2="511.1" y2="924.6" stroke="#3a3a3a" stroke-width="0.8"/>
<text x="514.1" y="929" font-size="7.2" text-anchor="end" transform="rotate(-45 514.1 929)" stroke="#231f20" stroke-width="0.216">UQCRC2</text>
<rect x="528.7" y="909.9" width="9.7" height="11.1" fill="#dfe0ef" stroke="#3a3a3a" stroke-width="0.8"/>
<line x1="533.6" y1="912.12" x2="533.6" y2="907.68" stroke="#222" stroke-width="0.8"/>
<line x1="531.2" y1="912.12" x2="536" y2="912.12" stroke="#222" stroke-width="0.8"/>
<line x1="531.2" y1="907.68" x2="536" y2="907.68" stroke="#222" stroke-width="0.8"/>
<path d="M533.43 913.23a1.08 1.08 0 1 0 2.16 0a1.08 1.08 0 1 0 -2.16 0M532.41 909.90a1.08 1.08 0 1 0 2.16 0a1.08 1.08 0 1 0 -2.16 0M532.46 906.01a1.08 1.08 0 1 0 2.16 0a1.08 1.08 0 1 0 -2.16 0" fill="#111"/>
<rect x="540.8" y="898.25" width="8.8" height="22.75" fill="#cda9f7" stroke="#3a3a3a" stroke-width="0.8"/>
<line x1="545.2" y1="900.47" x2="545.2" y2="896.02" stroke="#222" stroke-width="0.8"/>
<line x1="542.8" y1="900.47" x2="547.6" y2="900.47" stroke="#222" stroke-width="0.8"/>
<line x1="542.8" y1="896.02" x2="547.6" y2="896.02" stroke="#222" stroke-width="0.8"/>
<path d="M545.04 901.02a1.08 1.08 0 1 0 2.16 0a1.08 1.08 0 1 0 -2.16 0M544.52 897.69a1.08 1.08 0 1 0 2.16 0a1.08 1.08 0 1 0 -2.16 0M543.12 894.36a1.08 1.08 0 1 0 2.16 0a1.08 1.08 0 1 0 -2.16 0" fill="#111"/>
<line x1="539.6" y1="921" x2="539.6" y2="924.6" stroke="#3a3a3a" stroke-width="0.8"/>
<text x="542.6" y="929" font-size="7.2" text-anchor="end" transform="rotate(-45 542.6 929)" stroke="#231f20" stroke-width="0.216">MTCO1</text>
<rect x="557.2" y="909.9" width="9.7" height="11.1" fill="#dfe0ef" stroke="#3a3a3a" stroke-width="0.8"/>
<line x1="562.1" y1="912.67" x2="562.1" y2="907.12" stroke="#222" stroke-width="0.8"/>
<line x1="559.7" y1="912.67" x2="564.5" y2="912.67" stroke="#222" stroke-width="0.8"/>
<line x1="559.7" y1="907.12" x2="564.5" y2="907.12" stroke="#222" stroke-width="0.8"/>
<path d="M559.89 913.78a1.08 1.08 0 1 0 2.16 0a1.08 1.08 0 1 0 -2.16 0M561.55 908.79a1.08 1.08 0 1 0 2.16 0a1.08 1.08 0 1 0 -2.16 0M561.53 905.46a1.08 1.08 0 1 0 2.16 0a1.08 1.08 0 1 0 -2.16 0" fill="#111"/>
<rect x="569.3" y="846.11" width="8.8" height="21.29" fill="#cda9f7"/>
<path d="M569.3 867.4 L569.3 846.11 L578.1 846.11 L578.1 867.4" fill="none" stroke="#3a3a3a" stroke-width="0.8"/>
<rect x="569.3" y="876.6" width="8.8" height="44.4" fill="#cda9f7"/>
<path d="M569.3 921 L569.3 876.6 M578.1 876.6 L578.1 921 L569.3 921" fill="none" stroke="#3a3a3a" stroke-width="0.8"/>
<line x1="573.7" y1="852.77" x2="573.7" y2="839.45" stroke="#222" stroke-width="0.8"/>
<line x1="571.3" y1="852.77" x2="576.1" y2="852.77" stroke="#222" stroke-width="0.8"/>
<line x1="571.3" y1="839.45" x2="576.1" y2="839.45" stroke="#222" stroke-width="0.8"/>
<path d="M571.52 856.10a1.08 1.08 0 1 0 2.16 0a1.08 1.08 0 1 0 -2.16 0M572.54 850.55a1.08 1.08 0 1 0 2.16 0a1.08 1.08 0 1 0 -2.16 0M572.30 832.79a1.08 1.08 0 1 0 2.16 0a1.08 1.08 0 1 0 -2.16 0" fill="#111"/>
<line x1="568.1" y1="921" x2="568.1" y2="924.6" stroke="#3a3a3a" stroke-width="0.8"/>
<text x="571.1" y="929" font-size="7.2" text-anchor="end" transform="rotate(-45 571.1 929)" stroke="#231f20" stroke-width="0.216">NDUFB8</text>
<text x="468.5" y="862.7" font-size="5.9" textLength="27.4" lengthAdjust="spacingAndGlyphs" stroke="#231f20" stroke-width="0.177"><tspan font-style="italic">P</tspan> = 0.0172</text>
<path d="M476.3 873.1 L476.3 867.2 L487.9 867.2 L487.9 873.1" fill="none" stroke="#333" stroke-width="0.8"/>
<text x="497.3" y="883" font-size="5.9" textLength="27.3" lengthAdjust="spacingAndGlyphs" stroke="#231f20" stroke-width="0.177"><tspan font-style="italic">P</tspan> = 0.0542</text>
<path d="M504.7 893.6 L504.7 888.3 L516.9 888.3 L516.9 893.6" fill="none" stroke="#333" stroke-width="0.8"/>
<text x="525.8" y="880.2" font-size="5.9" textLength="27.5" lengthAdjust="spacingAndGlyphs" stroke="#231f20" stroke-width="0.177"><tspan font-style="italic">P</tspan> = 0.0268</text>
<path d="M534 890.6 L534 884.7 L545.6 884.7 L545.6 890.6" fill="none" stroke="#333" stroke-width="0.8"/>
<text x="555" y="820.6" font-size="5.9" textLength="28" lengthAdjust="spacingAndGlyphs" stroke="#231f20" stroke-width="0.177"><tspan font-style="italic">P</tspan> = 0.0061</text>
<path d="M563.6 830.6 L563.6 825.2 L576 825.2 L576 830.6" fill="none" stroke="#333" stroke-width="0.8"/>
</g>
</svg>
</body></html>
